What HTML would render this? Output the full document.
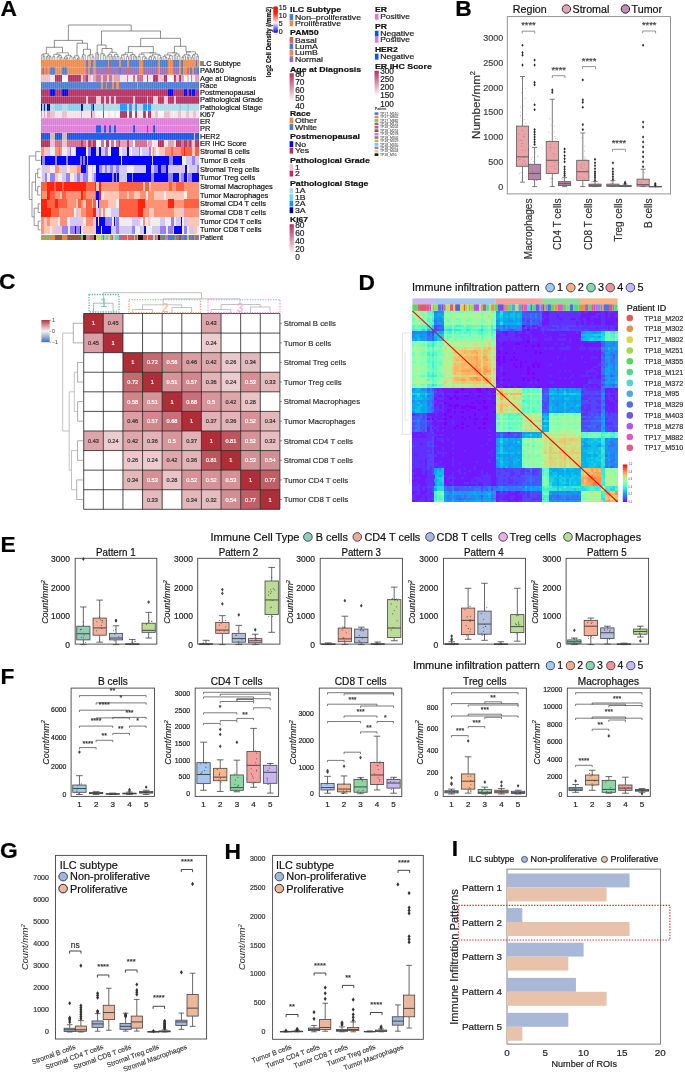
<!DOCTYPE html>
<html><head><meta charset="utf-8"><style>
html,body{margin:0;padding:0;background:#fff;}
svg{display:block;font-family:"Liberation Sans", sans-serif;will-change:transform;}
</style></head><body>
<svg width="685" height="1072" viewBox="0 0 685 1072">
<rect x="0" y="0" width="685" height="1072" fill="#fff"/>
<text x="0.60" y="16.00" font-size="22.8" fill="#000" stroke="#000" stroke-width="0.2" text-anchor="start" font-weight="bold">A</text>
<text x="455.20" y="16.00" font-size="22.8" fill="#000" stroke="#000" stroke-width="0.2" text-anchor="start" font-weight="bold">B</text>
<text x="-1.00" y="289.30" font-size="22.8" fill="#000" stroke="#000" stroke-width="0.2" text-anchor="start" font-weight="bold">C</text>
<text x="358.40" y="290.00" font-size="22.8" fill="#000" stroke="#000" stroke-width="0.2" text-anchor="start" font-weight="bold">D</text>
<text x="0.40" y="552.40" font-size="22.8" fill="#000" stroke="#000" stroke-width="0.2" text-anchor="start" font-weight="bold">E</text>
<text x="0.40" y="684.00" font-size="22.8" fill="#000" stroke="#000" stroke-width="0.2" text-anchor="start" font-weight="bold">F</text>
<text x="0.00" y="858.20" font-size="22.8" fill="#000" stroke="#000" stroke-width="0.2" text-anchor="start" font-weight="bold">G</text>
<text x="224.40" y="858.50" font-size="22.8" fill="#000" stroke="#000" stroke-width="0.2" text-anchor="start" font-weight="bold">H</text>
<text x="451.80" y="855.90" font-size="22.8" fill="#000" stroke="#000" stroke-width="0.2" text-anchor="start" font-weight="bold">I</text>
<rect x="507.30" y="16.60" width="163.20" height="177.30" fill="none" stroke="#8a8a8a" stroke-width="0.9"/>
<text x="512.80" y="12.60" font-size="10.7" fill="#111" stroke="#111" stroke-width="0.2" text-anchor="start">Region</text>
<circle cx="566.40" cy="9.00" r="4.20" fill="#e8a4a6" stroke="#2b3566" stroke-width="1"/>
<text x="572.50" y="12.60" font-size="10.7" fill="#111" stroke="#111" stroke-width="0.2" text-anchor="start">Stromal</text>
<circle cx="625.40" cy="9.00" r="4.20" fill="#c48db5" stroke="#222" stroke-width="1"/>
<text x="631.60" y="12.60" font-size="10.7" fill="#111" stroke="#111" stroke-width="0.2" text-anchor="start">Tumor</text>
<text x="503.30" y="189.80" font-size="9" fill="#444" stroke="#444" stroke-width="0.2" text-anchor="end">0</text>
<text x="503.30" y="165.00" font-size="9" fill="#444" stroke="#444" stroke-width="0.2" text-anchor="end">500</text>
<text x="503.30" y="140.20" font-size="9" fill="#444" stroke="#444" stroke-width="0.2" text-anchor="end">1000</text>
<text x="503.30" y="115.40" font-size="9" fill="#444" stroke="#444" stroke-width="0.2" text-anchor="end">1500</text>
<text x="503.30" y="90.60" font-size="9" fill="#444" stroke="#444" stroke-width="0.2" text-anchor="end">2000</text>
<text x="503.30" y="65.80" font-size="9" fill="#444" stroke="#444" stroke-width="0.2" text-anchor="end">2500</text>
<text x="503.30" y="41.00" font-size="9" fill="#444" stroke="#444" stroke-width="0.2" text-anchor="end">3000</text>
<text x="480.0" y="105.0" font-size="11.6" fill="#333" stroke="#333" stroke-width="0.2" text-anchor="middle" transform="rotate(-90 480.0 105.0)">Number/mm<tspan font-size="7.5" dy="-4.6">2</tspan></text>
<text x="532.30" y="198.60" font-size="10" fill="#333" stroke="#333" stroke-width="0.2" text-anchor="end" transform="rotate(-90 532.3 198.6)">Macrophages</text>
<text x="561.40" y="198.60" font-size="10" fill="#333" stroke="#333" stroke-width="0.2" text-anchor="end" transform="rotate(-90 561.4 198.6)">CD4 T cells</text>
<text x="591.80" y="198.60" font-size="10" fill="#333" stroke="#333" stroke-width="0.2" text-anchor="end" transform="rotate(-90 591.8 198.6)">CD8 T cells</text>
<text x="621.70" y="198.60" font-size="10" fill="#333" stroke="#333" stroke-width="0.2" text-anchor="end" transform="rotate(-90 621.7 198.6)">Treg cells</text>
<text x="651.60" y="198.60" font-size="10" fill="#333" stroke="#333" stroke-width="0.2" text-anchor="end" transform="rotate(-90 651.6 198.6)">B cells</text>
<line x1="522.50" y1="76.49" x2="522.50" y2="126.09" stroke="#5a5a5a" stroke-width="0.8"/>
<line x1="522.50" y1="166.26" x2="522.50" y2="182.14" stroke="#5a5a5a" stroke-width="0.8"/>
<line x1="520.00" y1="76.49" x2="525.00" y2="76.49" stroke="#5a5a5a" stroke-width="0.8"/>
<line x1="520.00" y1="182.14" x2="525.00" y2="182.14" stroke="#5a5a5a" stroke-width="0.8"/>
<rect x="516.40" y="126.09" width="12.20" height="40.18" fill="#e8a4a6" stroke="#5a5a5a" stroke-width="0.8"/>
<line x1="516.40" y1="156.84" x2="528.60" y2="156.84" stroke="#5a5a5a" stroke-width="0.96"/>
<path d="M522.50 63.48L523.65 65.08L522.50 66.68L521.35 65.08Z" fill="#2a2a2a"/>
<path d="M522.50 53.56L523.65 55.16L522.50 56.76L521.35 55.16Z" fill="#2a2a2a"/>
<path d="M522.50 51.08L523.65 52.68L522.50 54.28L521.35 52.68Z" fill="#2a2a2a"/>
<path d="M522.50 43.64L523.65 45.24L522.50 46.84L521.35 45.24Z" fill="#2a2a2a"/>
<line x1="534.60" y1="147.42" x2="534.60" y2="164.28" stroke="#5a5a5a" stroke-width="0.8"/>
<line x1="534.60" y1="179.66" x2="534.60" y2="186.60" stroke="#5a5a5a" stroke-width="0.8"/>
<line x1="532.10" y1="147.42" x2="537.10" y2="147.42" stroke="#5a5a5a" stroke-width="0.8"/>
<line x1="532.10" y1="186.60" x2="537.10" y2="186.60" stroke="#5a5a5a" stroke-width="0.8"/>
<rect x="528.50" y="164.28" width="12.20" height="15.38" fill="#b784ab" stroke="#5a5a5a" stroke-width="0.8"/>
<line x1="528.50" y1="173.46" x2="540.70" y2="173.46" stroke="#5a5a5a" stroke-width="0.96"/>
<path d="M534.60 142.84L535.75 144.44L534.60 146.04L533.45 144.44Z" fill="#2a2a2a"/>
<path d="M534.60 140.36L535.75 141.96L534.60 143.56L533.45 141.96Z" fill="#2a2a2a"/>
<path d="M534.60 137.88L535.75 139.48L534.60 141.08L533.45 139.48Z" fill="#2a2a2a"/>
<path d="M534.60 135.40L535.75 137.00L534.60 138.60L533.45 137.00Z" fill="#2a2a2a"/>
<path d="M534.60 132.92L535.75 134.52L534.60 136.12L533.45 134.52Z" fill="#2a2a2a"/>
<path d="M534.60 130.44L535.75 132.04L534.60 133.64L533.45 132.04Z" fill="#2a2a2a"/>
<path d="M534.60 127.96L535.75 129.56L534.60 131.16L533.45 129.56Z" fill="#2a2a2a"/>
<path d="M534.60 108.12L535.75 109.72L534.60 111.32L533.45 109.72Z" fill="#2a2a2a"/>
<path d="M534.60 103.16L535.75 104.76L534.60 106.36L533.45 104.76Z" fill="#2a2a2a"/>
<path d="M534.60 83.32L535.75 84.92L534.60 86.52L533.45 84.92Z" fill="#2a2a2a"/>
<path d="M534.60 80.84L535.75 82.44L534.60 84.04L533.45 82.44Z" fill="#2a2a2a"/>
<path d="M534.60 63.48L535.75 65.08L534.60 66.68L533.45 65.08Z" fill="#2a2a2a"/>
<path d="M534.60 58.52L535.75 60.12L534.60 61.72L533.45 60.12Z" fill="#2a2a2a"/>
<line x1="552.30" y1="99.30" x2="552.30" y2="141.46" stroke="#5a5a5a" stroke-width="0.8"/>
<line x1="552.30" y1="173.46" x2="552.30" y2="186.60" stroke="#5a5a5a" stroke-width="0.8"/>
<line x1="549.80" y1="99.30" x2="554.80" y2="99.30" stroke="#5a5a5a" stroke-width="0.8"/>
<line x1="549.80" y1="186.60" x2="554.80" y2="186.60" stroke="#5a5a5a" stroke-width="0.8"/>
<rect x="546.20" y="141.46" width="12.20" height="31.99" fill="#e8a4a6" stroke="#5a5a5a" stroke-width="0.8"/>
<line x1="546.20" y1="160.31" x2="558.40" y2="160.31" stroke="#5a5a5a" stroke-width="0.96"/>
<path d="M552.30 90.76L553.45 92.36L552.30 93.96L551.15 92.36Z" fill="#2a2a2a"/>
<path d="M552.30 88.28L553.45 89.88L552.30 91.48L551.15 89.88Z" fill="#2a2a2a"/>
<line x1="564.60" y1="177.67" x2="564.60" y2="181.64" stroke="#5a5a5a" stroke-width="0.8"/>
<line x1="564.60" y1="185.61" x2="564.60" y2="186.60" stroke="#5a5a5a" stroke-width="0.8"/>
<line x1="562.10" y1="177.67" x2="567.10" y2="177.67" stroke="#5a5a5a" stroke-width="0.8"/>
<line x1="562.10" y1="186.60" x2="567.10" y2="186.60" stroke="#5a5a5a" stroke-width="0.8"/>
<rect x="558.50" y="181.64" width="12.20" height="3.97" fill="#b784ab" stroke="#5a5a5a" stroke-width="0.8"/>
<line x1="558.50" y1="183.62" x2="570.70" y2="183.62" stroke="#5a5a5a" stroke-width="0.96"/>
<path d="M564.60 174.09L565.75 175.69L564.60 177.29L563.45 175.69Z" fill="#2a2a2a"/>
<path d="M564.60 172.10L565.75 173.70L564.60 175.30L563.45 173.70Z" fill="#2a2a2a"/>
<path d="M564.60 170.12L565.75 171.72L564.60 173.32L563.45 171.72Z" fill="#2a2a2a"/>
<path d="M564.60 167.64L565.75 169.24L564.60 170.84L563.45 169.24Z" fill="#2a2a2a"/>
<path d="M564.60 165.16L565.75 166.76L564.60 168.36L563.45 166.76Z" fill="#2a2a2a"/>
<path d="M564.60 160.20L565.75 161.80L564.60 163.40L563.45 161.80Z" fill="#2a2a2a"/>
<path d="M564.60 157.22L565.75 158.82L564.60 160.42L563.45 158.82Z" fill="#2a2a2a"/>
<path d="M564.60 154.25L565.75 155.85L564.60 157.45L563.45 155.85Z" fill="#2a2a2a"/>
<path d="M564.60 150.28L565.75 151.88L564.60 153.48L563.45 151.88Z" fill="#2a2a2a"/>
<path d="M564.60 147.30L565.75 148.90L564.60 150.50L563.45 148.90Z" fill="#2a2a2a"/>
<line x1="582.80" y1="133.03" x2="582.80" y2="160.31" stroke="#5a5a5a" stroke-width="0.8"/>
<line x1="582.80" y1="180.40" x2="582.80" y2="186.60" stroke="#5a5a5a" stroke-width="0.8"/>
<line x1="580.30" y1="133.03" x2="585.30" y2="133.03" stroke="#5a5a5a" stroke-width="0.8"/>
<line x1="580.30" y1="186.60" x2="585.30" y2="186.60" stroke="#5a5a5a" stroke-width="0.8"/>
<rect x="576.70" y="160.31" width="12.20" height="20.09" fill="#e8a4a6" stroke="#5a5a5a" stroke-width="0.8"/>
<line x1="576.70" y1="171.72" x2="588.90" y2="171.72" stroke="#5a5a5a" stroke-width="0.96"/>
<path d="M582.80 127.96L583.95 129.56L582.80 131.16L581.65 129.56Z" fill="#2a2a2a"/>
<path d="M582.80 123.00L583.95 124.60L582.80 126.20L581.65 124.60Z" fill="#2a2a2a"/>
<path d="M582.80 105.64L583.95 107.24L582.80 108.84L581.65 107.24Z" fill="#2a2a2a"/>
<path d="M582.80 100.68L583.95 102.28L582.80 103.88L581.65 102.28Z" fill="#2a2a2a"/>
<path d="M582.80 98.20L583.95 99.80L582.80 101.40L581.65 99.80Z" fill="#2a2a2a"/>
<path d="M582.80 78.36L583.95 79.96L582.80 81.56L581.65 79.96Z" fill="#2a2a2a"/>
<line x1="595.00" y1="181.64" x2="595.00" y2="184.12" stroke="#5a5a5a" stroke-width="0.8"/>
<line x1="595.00" y1="186.35" x2="595.00" y2="186.60" stroke="#5a5a5a" stroke-width="0.8"/>
<line x1="592.50" y1="181.64" x2="597.50" y2="181.64" stroke="#5a5a5a" stroke-width="0.8"/>
<line x1="592.50" y1="186.60" x2="597.50" y2="186.60" stroke="#5a5a5a" stroke-width="0.8"/>
<rect x="588.90" y="184.12" width="12.20" height="2.23" fill="#b784ab" stroke="#5a5a5a" stroke-width="0.8"/>
<line x1="588.90" y1="185.36" x2="601.10" y2="185.36" stroke="#5a5a5a" stroke-width="0.96"/>
<path d="M595.00 178.55L596.15 180.15L595.00 181.75L593.85 180.15Z" fill="#2a2a2a"/>
<path d="M595.00 176.07L596.15 177.67L595.00 179.27L593.85 177.67Z" fill="#2a2a2a"/>
<path d="M595.00 174.09L596.15 175.69L595.00 177.29L593.85 175.69Z" fill="#2a2a2a"/>
<path d="M595.00 172.10L596.15 173.70L595.00 175.30L593.85 173.70Z" fill="#2a2a2a"/>
<path d="M595.00 170.12L596.15 171.72L595.00 173.32L593.85 171.72Z" fill="#2a2a2a"/>
<path d="M595.00 167.14L596.15 168.74L595.00 170.34L593.85 168.74Z" fill="#2a2a2a"/>
<path d="M595.00 164.17L596.15 165.77L595.00 167.37L593.85 165.77Z" fill="#2a2a2a"/>
<path d="M595.00 161.19L596.15 162.79L595.00 164.39L593.85 162.79Z" fill="#2a2a2a"/>
<path d="M595.00 157.72L596.15 159.32L595.00 160.92L593.85 159.32Z" fill="#2a2a2a"/>
<line x1="612.90" y1="180.65" x2="612.90" y2="184.12" stroke="#5a5a5a" stroke-width="0.8"/>
<line x1="612.90" y1="186.35" x2="612.90" y2="186.60" stroke="#5a5a5a" stroke-width="0.8"/>
<line x1="610.40" y1="180.65" x2="615.40" y2="180.65" stroke="#5a5a5a" stroke-width="0.8"/>
<line x1="610.40" y1="186.60" x2="615.40" y2="186.60" stroke="#5a5a5a" stroke-width="0.8"/>
<rect x="606.80" y="184.12" width="12.20" height="2.23" fill="#e8a4a6" stroke="#5a5a5a" stroke-width="0.8"/>
<line x1="606.80" y1="185.36" x2="619.00" y2="185.36" stroke="#5a5a5a" stroke-width="0.96"/>
<path d="M612.90 177.56L614.05 179.16L612.90 180.76L611.75 179.16Z" fill="#2a2a2a"/>
<path d="M612.90 175.08L614.05 176.68L612.90 178.28L611.75 176.68Z" fill="#2a2a2a"/>
<path d="M612.90 172.60L614.05 174.20L612.90 175.80L611.75 174.20Z" fill="#2a2a2a"/>
<path d="M612.90 170.12L614.05 171.72L612.90 173.32L611.75 171.72Z" fill="#2a2a2a"/>
<path d="M612.90 167.14L614.05 168.74L612.90 170.34L611.75 168.74Z" fill="#2a2a2a"/>
<path d="M612.90 161.19L614.05 162.79L612.90 164.39L611.75 162.79Z" fill="#2a2a2a"/>
<line x1="625.10" y1="184.12" x2="625.10" y2="185.36" stroke="#5a5a5a" stroke-width="0.8"/>
<line x1="625.10" y1="186.50" x2="625.10" y2="186.60" stroke="#5a5a5a" stroke-width="0.8"/>
<line x1="622.60" y1="184.12" x2="627.60" y2="184.12" stroke="#5a5a5a" stroke-width="0.8"/>
<line x1="622.60" y1="186.60" x2="627.60" y2="186.60" stroke="#5a5a5a" stroke-width="0.8"/>
<rect x="619.00" y="185.36" width="12.20" height="1.14" fill="#b784ab" stroke="#5a5a5a" stroke-width="0.8"/>
<line x1="619.00" y1="186.10" x2="631.20" y2="186.10" stroke="#5a5a5a" stroke-width="0.96"/>
<path d="M625.10 182.02L626.25 183.62L625.10 185.22L623.95 183.62Z" fill="#2a2a2a"/>
<path d="M625.10 180.54L626.25 182.14L625.10 183.74L623.95 182.14Z" fill="#2a2a2a"/>
<line x1="643.10" y1="169.24" x2="643.10" y2="179.16" stroke="#5a5a5a" stroke-width="0.8"/>
<line x1="643.10" y1="186.10" x2="643.10" y2="186.60" stroke="#5a5a5a" stroke-width="0.8"/>
<line x1="640.60" y1="169.24" x2="645.60" y2="169.24" stroke="#5a5a5a" stroke-width="0.8"/>
<line x1="640.60" y1="186.60" x2="645.60" y2="186.60" stroke="#5a5a5a" stroke-width="0.8"/>
<rect x="637.00" y="179.16" width="12.20" height="6.94" fill="#e8a4a6" stroke="#5a5a5a" stroke-width="0.8"/>
<line x1="637.00" y1="184.62" x2="649.20" y2="184.62" stroke="#5a5a5a" stroke-width="0.96"/>
<path d="M643.10 165.16L644.25 166.76L643.10 168.36L641.95 166.76Z" fill="#2a2a2a"/>
<path d="M643.10 160.20L644.25 161.80L643.10 163.40L641.95 161.80Z" fill="#2a2a2a"/>
<path d="M643.10 155.24L644.25 156.84L643.10 158.44L641.95 156.84Z" fill="#2a2a2a"/>
<path d="M643.10 150.28L644.25 151.88L643.10 153.48L641.95 151.88Z" fill="#2a2a2a"/>
<path d="M643.10 145.32L644.25 146.92L643.10 148.52L641.95 146.92Z" fill="#2a2a2a"/>
<path d="M643.10 140.36L644.25 141.96L643.10 143.56L641.95 141.96Z" fill="#2a2a2a"/>
<path d="M643.10 135.40L644.25 137.00L643.10 138.60L641.95 137.00Z" fill="#2a2a2a"/>
<path d="M643.10 125.48L644.25 127.08L643.10 128.68L641.95 127.08Z" fill="#2a2a2a"/>
<path d="M643.10 120.52L644.25 122.12L643.10 123.72L641.95 122.12Z" fill="#2a2a2a"/>
<path d="M643.10 43.64L644.25 45.24L643.10 46.84L641.95 45.24Z" fill="#2a2a2a"/>
<line x1="655.30" y1="186.35" x2="655.30" y2="186.45" stroke="#5a5a5a" stroke-width="0.8"/>
<line x1="655.30" y1="186.60" x2="655.30" y2="186.60" stroke="#5a5a5a" stroke-width="0.8"/>
<line x1="652.80" y1="186.35" x2="657.80" y2="186.35" stroke="#5a5a5a" stroke-width="0.8"/>
<line x1="652.80" y1="186.60" x2="657.80" y2="186.60" stroke="#5a5a5a" stroke-width="0.8"/>
<rect x="649.20" y="186.45" width="12.20" height="0.50" fill="#b784ab" stroke="#5a5a5a" stroke-width="0.8"/>
<line x1="649.20" y1="186.60" x2="661.40" y2="186.60" stroke="#5a5a5a" stroke-width="0.96"/>
<path d="M655.30 184.01L656.45 185.61L655.30 187.21L654.15 185.61Z" fill="#2a2a2a"/>
<path d="M655.30 183.02L656.45 184.62L655.30 186.22L654.15 184.62Z" fill="#2a2a2a"/>
<path d="M655.30 182.02L656.45 183.62L655.30 185.22L654.15 183.62Z" fill="#2a2a2a"/>
<path d="M522.20 33.50V31.20H534.80V33.50" stroke="#666" stroke-width="0.7" fill="none"/>
<text x="528.50" y="28.40" font-size="9.3" fill="#444" stroke="#444" stroke-width="0.2" text-anchor="middle">****</text>
<path d="M552.30 78.00V75.70H565.00V78.00" stroke="#666" stroke-width="0.7" fill="none"/>
<text x="558.65" y="72.60" font-size="9.3" fill="#444" stroke="#444" stroke-width="0.2" text-anchor="middle">****</text>
<path d="M582.60 68.90V66.60H595.50V68.90" stroke="#666" stroke-width="0.7" fill="none"/>
<text x="589.05" y="63.80" font-size="9.3" fill="#444" stroke="#444" stroke-width="0.2" text-anchor="middle">****</text>
<path d="M612.50 151.60V149.30H625.50V151.60" stroke="#666" stroke-width="0.7" fill="none"/>
<text x="619.00" y="146.00" font-size="9.3" fill="#444" stroke="#444" stroke-width="0.2" text-anchor="middle">****</text>
<path d="M642.70 33.30V31.00H655.60V33.30" stroke="#666" stroke-width="0.7" fill="none"/>
<text x="649.15" y="28.20" font-size="9.3" fill="#444" stroke="#444" stroke-width="0.2" text-anchor="middle">****</text>
<circle cx="523.8" cy="160.7" r="0.5" fill="#777" fill-opacity="0.55"/>
<circle cx="522.4" cy="130.2" r="0.5" fill="#777" fill-opacity="0.55"/>
<circle cx="524.5" cy="157.6" r="0.5" fill="#777" fill-opacity="0.55"/>
<circle cx="522.6" cy="114.1" r="0.5" fill="#777" fill-opacity="0.55"/>
<circle cx="520.7" cy="139.9" r="0.5" fill="#777" fill-opacity="0.55"/>
<circle cx="521.6" cy="179.2" r="0.5" fill="#777" fill-opacity="0.55"/>
<circle cx="519.5" cy="134.1" r="0.5" fill="#777" fill-opacity="0.55"/>
<circle cx="520.6" cy="115.6" r="0.5" fill="#777" fill-opacity="0.55"/>
<circle cx="519.3" cy="156.6" r="0.5" fill="#777" fill-opacity="0.55"/>
<circle cx="524.2" cy="76.3" r="0.5" fill="#777" fill-opacity="0.55"/>
<circle cx="523.3" cy="105.9" r="0.5" fill="#777" fill-opacity="0.55"/>
<circle cx="521.3" cy="172.4" r="0.5" fill="#777" fill-opacity="0.55"/>
<circle cx="519.8" cy="140.4" r="0.5" fill="#777" fill-opacity="0.55"/>
<circle cx="521.6" cy="92.8" r="0.5" fill="#777" fill-opacity="0.55"/>
<circle cx="524.7" cy="161.3" r="0.5" fill="#777" fill-opacity="0.55"/>
<circle cx="525.5" cy="163.4" r="0.5" fill="#777" fill-opacity="0.55"/>
<circle cx="522.9" cy="143.4" r="0.5" fill="#777" fill-opacity="0.55"/>
<circle cx="522.4" cy="150.3" r="0.5" fill="#777" fill-opacity="0.55"/>
<circle cx="519.3" cy="159.3" r="0.5" fill="#777" fill-opacity="0.55"/>
<circle cx="520.6" cy="107.1" r="0.5" fill="#777" fill-opacity="0.55"/>
<circle cx="520.5" cy="117.1" r="0.5" fill="#777" fill-opacity="0.55"/>
<circle cx="525.3" cy="88.7" r="0.5" fill="#777" fill-opacity="0.55"/>
<circle cx="524.3" cy="119.6" r="0.5" fill="#777" fill-opacity="0.55"/>
<circle cx="524.1" cy="134.4" r="0.5" fill="#777" fill-opacity="0.55"/>
<circle cx="522.3" cy="163.6" r="0.5" fill="#777" fill-opacity="0.55"/>
<circle cx="520.4" cy="111.9" r="0.5" fill="#777" fill-opacity="0.55"/>
<circle cx="525.2" cy="98.5" r="0.5" fill="#777" fill-opacity="0.55"/>
<circle cx="521.6" cy="146.2" r="0.5" fill="#777" fill-opacity="0.55"/>
<circle cx="521.7" cy="143.5" r="0.5" fill="#777" fill-opacity="0.55"/>
<circle cx="521.7" cy="78.5" r="0.5" fill="#777" fill-opacity="0.55"/>
<circle cx="519.7" cy="173.5" r="0.5" fill="#777" fill-opacity="0.55"/>
<circle cx="525.9" cy="123.1" r="0.5" fill="#777" fill-opacity="0.55"/>
<circle cx="522.4" cy="140.5" r="0.5" fill="#777" fill-opacity="0.55"/>
<circle cx="524.2" cy="136.7" r="0.5" fill="#777" fill-opacity="0.55"/>
<circle cx="523.3" cy="157.2" r="0.5" fill="#777" fill-opacity="0.55"/>
<circle cx="523.4" cy="136.2" r="0.5" fill="#777" fill-opacity="0.55"/>
<circle cx="520.2" cy="159.7" r="0.5" fill="#777" fill-opacity="0.55"/>
<circle cx="525.5" cy="150.0" r="0.5" fill="#777" fill-opacity="0.55"/>
<circle cx="535.3" cy="172.9" r="0.5" fill="#777" fill-opacity="0.55"/>
<circle cx="531.8" cy="173.7" r="0.5" fill="#777" fill-opacity="0.55"/>
<circle cx="536.8" cy="180.6" r="0.5" fill="#777" fill-opacity="0.55"/>
<circle cx="533.7" cy="161.5" r="0.5" fill="#777" fill-opacity="0.55"/>
<circle cx="535.8" cy="164.6" r="0.5" fill="#777" fill-opacity="0.55"/>
<circle cx="537.8" cy="156.3" r="0.5" fill="#777" fill-opacity="0.55"/>
<circle cx="538.0" cy="171.6" r="0.5" fill="#777" fill-opacity="0.55"/>
<circle cx="535.2" cy="152.1" r="0.5" fill="#777" fill-opacity="0.55"/>
<circle cx="534.5" cy="157.1" r="0.5" fill="#777" fill-opacity="0.55"/>
<circle cx="532.8" cy="172.3" r="0.5" fill="#777" fill-opacity="0.55"/>
<circle cx="532.2" cy="157.4" r="0.5" fill="#777" fill-opacity="0.55"/>
<circle cx="536.7" cy="180.5" r="0.5" fill="#777" fill-opacity="0.55"/>
<circle cx="534.5" cy="161.6" r="0.5" fill="#777" fill-opacity="0.55"/>
<circle cx="531.5" cy="159.2" r="0.5" fill="#777" fill-opacity="0.55"/>
<circle cx="533.1" cy="174.8" r="0.5" fill="#777" fill-opacity="0.55"/>
<circle cx="532.3" cy="171.3" r="0.5" fill="#777" fill-opacity="0.55"/>
<circle cx="533.5" cy="180.5" r="0.5" fill="#777" fill-opacity="0.55"/>
<circle cx="538.0" cy="156.2" r="0.5" fill="#777" fill-opacity="0.55"/>
<circle cx="552.2" cy="134.0" r="0.5" fill="#777" fill-opacity="0.55"/>
<circle cx="555.5" cy="161.9" r="0.5" fill="#777" fill-opacity="0.55"/>
<circle cx="553.9" cy="148.3" r="0.5" fill="#777" fill-opacity="0.55"/>
<circle cx="550.3" cy="178.3" r="0.5" fill="#777" fill-opacity="0.55"/>
<circle cx="554.4" cy="126.1" r="0.5" fill="#777" fill-opacity="0.55"/>
<circle cx="553.0" cy="121.6" r="0.5" fill="#777" fill-opacity="0.55"/>
<circle cx="552.9" cy="153.6" r="0.5" fill="#777" fill-opacity="0.55"/>
<circle cx="551.0" cy="125.0" r="0.5" fill="#777" fill-opacity="0.55"/>
<circle cx="550.7" cy="147.8" r="0.5" fill="#777" fill-opacity="0.55"/>
<circle cx="548.9" cy="132.2" r="0.5" fill="#777" fill-opacity="0.55"/>
<circle cx="555.5" cy="138.4" r="0.5" fill="#777" fill-opacity="0.55"/>
<circle cx="553.0" cy="179.1" r="0.5" fill="#777" fill-opacity="0.55"/>
<circle cx="554.8" cy="141.1" r="0.5" fill="#777" fill-opacity="0.55"/>
<circle cx="550.6" cy="144.8" r="0.5" fill="#777" fill-opacity="0.55"/>
<circle cx="555.5" cy="154.6" r="0.5" fill="#777" fill-opacity="0.55"/>
<circle cx="549.7" cy="118.7" r="0.5" fill="#777" fill-opacity="0.55"/>
<circle cx="549.5" cy="171.5" r="0.5" fill="#777" fill-opacity="0.55"/>
<circle cx="551.9" cy="178.8" r="0.5" fill="#777" fill-opacity="0.55"/>
<circle cx="554.9" cy="168.2" r="0.5" fill="#777" fill-opacity="0.55"/>
<circle cx="549.7" cy="140.4" r="0.5" fill="#777" fill-opacity="0.55"/>
<circle cx="551.1" cy="147.5" r="0.5" fill="#777" fill-opacity="0.55"/>
<circle cx="550.3" cy="150.0" r="0.5" fill="#777" fill-opacity="0.55"/>
<circle cx="550.1" cy="166.6" r="0.5" fill="#777" fill-opacity="0.55"/>
<circle cx="553.8" cy="156.0" r="0.5" fill="#777" fill-opacity="0.55"/>
<circle cx="549.1" cy="146.9" r="0.5" fill="#777" fill-opacity="0.55"/>
<circle cx="554.9" cy="136.6" r="0.5" fill="#777" fill-opacity="0.55"/>
<circle cx="554.3" cy="131.7" r="0.5" fill="#777" fill-opacity="0.55"/>
<circle cx="552.0" cy="182.3" r="0.5" fill="#777" fill-opacity="0.55"/>
<circle cx="554.1" cy="174.2" r="0.5" fill="#777" fill-opacity="0.55"/>
<circle cx="553.8" cy="166.0" r="0.5" fill="#777" fill-opacity="0.55"/>
<circle cx="553.7" cy="161.9" r="0.5" fill="#777" fill-opacity="0.55"/>
<circle cx="561.4" cy="183.6" r="0.5" fill="#777" fill-opacity="0.55"/>
<circle cx="563.3" cy="183.3" r="0.5" fill="#777" fill-opacity="0.55"/>
<circle cx="563.2" cy="179.7" r="0.5" fill="#777" fill-opacity="0.55"/>
<circle cx="564.9" cy="182.7" r="0.5" fill="#777" fill-opacity="0.55"/>
<circle cx="561.8" cy="179.0" r="0.5" fill="#777" fill-opacity="0.55"/>
<circle cx="564.7" cy="182.1" r="0.5" fill="#777" fill-opacity="0.55"/>
<circle cx="567.9" cy="181.2" r="0.5" fill="#777" fill-opacity="0.55"/>
<circle cx="566.0" cy="183.7" r="0.5" fill="#777" fill-opacity="0.55"/>
<circle cx="565.0" cy="182.6" r="0.5" fill="#777" fill-opacity="0.55"/>
<circle cx="585.0" cy="179.3" r="0.5" fill="#777" fill-opacity="0.55"/>
<circle cx="581.8" cy="137.7" r="0.5" fill="#777" fill-opacity="0.55"/>
<circle cx="586.3" cy="170.2" r="0.5" fill="#777" fill-opacity="0.55"/>
<circle cx="579.8" cy="177.1" r="0.5" fill="#777" fill-opacity="0.55"/>
<circle cx="585.0" cy="178.8" r="0.5" fill="#777" fill-opacity="0.55"/>
<circle cx="582.4" cy="154.0" r="0.5" fill="#777" fill-opacity="0.55"/>
<circle cx="579.4" cy="160.0" r="0.5" fill="#777" fill-opacity="0.55"/>
<circle cx="582.4" cy="159.1" r="0.5" fill="#777" fill-opacity="0.55"/>
<circle cx="582.0" cy="163.9" r="0.5" fill="#777" fill-opacity="0.55"/>
<circle cx="580.9" cy="167.7" r="0.5" fill="#777" fill-opacity="0.55"/>
<circle cx="582.3" cy="180.2" r="0.5" fill="#777" fill-opacity="0.55"/>
<circle cx="584.2" cy="172.2" r="0.5" fill="#777" fill-opacity="0.55"/>
<circle cx="584.4" cy="151.0" r="0.5" fill="#777" fill-opacity="0.55"/>
<circle cx="581.0" cy="165.9" r="0.5" fill="#777" fill-opacity="0.55"/>
<circle cx="582.7" cy="168.2" r="0.5" fill="#777" fill-opacity="0.55"/>
<circle cx="586.0" cy="159.6" r="0.5" fill="#777" fill-opacity="0.55"/>
<circle cx="582.7" cy="178.1" r="0.5" fill="#777" fill-opacity="0.55"/>
<circle cx="584.3" cy="164.7" r="0.5" fill="#777" fill-opacity="0.55"/>
<circle cx="584.8" cy="146.3" r="0.5" fill="#777" fill-opacity="0.55"/>
<circle cx="584.6" cy="159.8" r="0.5" fill="#777" fill-opacity="0.55"/>
<circle cx="585.3" cy="158.1" r="0.5" fill="#777" fill-opacity="0.55"/>
<circle cx="584.1" cy="156.8" r="0.5" fill="#777" fill-opacity="0.55"/>
<circle cx="597.9" cy="185.3" r="0.5" fill="#777" fill-opacity="0.55"/>
<circle cx="595.8" cy="185.0" r="0.5" fill="#777" fill-opacity="0.55"/>
<circle cx="598.2" cy="183.3" r="0.5" fill="#777" fill-opacity="0.55"/>
<circle cx="591.5" cy="181.9" r="0.5" fill="#777" fill-opacity="0.55"/>
<circle cx="593.7" cy="185.2" r="0.5" fill="#777" fill-opacity="0.55"/>
<circle cx="592.5" cy="184.9" r="0.5" fill="#777" fill-opacity="0.55"/>
<circle cx="592.1" cy="184.4" r="0.5" fill="#777" fill-opacity="0.55"/>
<circle cx="616.0" cy="185.0" r="0.5" fill="#777" fill-opacity="0.55"/>
<circle cx="612.6" cy="183.2" r="0.5" fill="#777" fill-opacity="0.55"/>
<circle cx="616.1" cy="185.7" r="0.5" fill="#777" fill-opacity="0.55"/>
<circle cx="610.8" cy="183.4" r="0.5" fill="#777" fill-opacity="0.55"/>
<circle cx="613.9" cy="184.9" r="0.5" fill="#777" fill-opacity="0.55"/>
<circle cx="611.2" cy="183.5" r="0.5" fill="#777" fill-opacity="0.55"/>
<circle cx="611.7" cy="181.6" r="0.5" fill="#777" fill-opacity="0.55"/>
<circle cx="627.5" cy="186.0" r="0.5" fill="#777" fill-opacity="0.55"/>
<circle cx="626.4" cy="186.2" r="0.5" fill="#777" fill-opacity="0.55"/>
<circle cx="625.8" cy="186.1" r="0.5" fill="#777" fill-opacity="0.55"/>
<circle cx="624.3" cy="186.0" r="0.5" fill="#777" fill-opacity="0.55"/>
<circle cx="624.9" cy="184.6" r="0.5" fill="#777" fill-opacity="0.55"/>
<circle cx="625.9" cy="185.8" r="0.5" fill="#777" fill-opacity="0.55"/>
<circle cx="640.8" cy="183.0" r="0.5" fill="#777" fill-opacity="0.55"/>
<circle cx="641.5" cy="181.9" r="0.5" fill="#777" fill-opacity="0.55"/>
<circle cx="646.3" cy="183.9" r="0.5" fill="#777" fill-opacity="0.55"/>
<circle cx="645.3" cy="185.5" r="0.5" fill="#777" fill-opacity="0.55"/>
<circle cx="644.5" cy="172.8" r="0.5" fill="#777" fill-opacity="0.55"/>
<circle cx="643.1" cy="185.8" r="0.5" fill="#777" fill-opacity="0.55"/>
<circle cx="643.9" cy="185.4" r="0.5" fill="#777" fill-opacity="0.55"/>
<circle cx="641.3" cy="177.8" r="0.5" fill="#777" fill-opacity="0.55"/>
<circle cx="643.4" cy="186.1" r="0.5" fill="#777" fill-opacity="0.55"/>
<circle cx="641.8" cy="184.8" r="0.5" fill="#777" fill-opacity="0.55"/>
<circle cx="645.9" cy="181.1" r="0.5" fill="#777" fill-opacity="0.55"/>
<circle cx="652.7" cy="186.5" r="0.5" fill="#777" fill-opacity="0.55"/>
<circle cx="657.6" cy="186.5" r="0.5" fill="#777" fill-opacity="0.55"/>
<circle cx="652.1" cy="186.5" r="0.5" fill="#777" fill-opacity="0.55"/>
<circle cx="654.6" cy="186.6" r="0.5" fill="#777" fill-opacity="0.55"/>
<circle cx="653.4" cy="186.5" r="0.5" fill="#777" fill-opacity="0.55"/>
<circle cx="657.7" cy="186.5" r="0.5" fill="#777" fill-opacity="0.55"/>
<path fill="#ee8a4e" shape-rendering="crispEdges" d="M40.7 60.0h45.3v7.3h-45.3zM88.0 60.0h3.0v7.3h-3.0zM93.0 60.0h3.0v7.3h-3.0zM107.5 60.0h1.6v7.3h-1.6zM119.0 60.0h1.6v7.3h-1.6zM127.0 60.0h2.0v7.3h-2.0zM138.5 60.0h4.5v7.3h-4.5zM158.0 60.0h1.6v7.3h-1.6zM168.0 60.0h5.0v7.3h-5.0zM179.0 60.0h2.0v7.3h-2.0zM182.5 60.0h13.1v7.3h-13.1zM197.0 60.0h2.0v7.3h-2.0zM40.7 67.3h1.1v7.3h-1.1zM43.5 67.3h2.0v7.3h-2.0zM47.0 67.3h3.3v7.3h-3.3zM55.1 67.3h6.9v7.3h-6.9zM66.7 67.3h19.3v7.3h-19.3zM88.0 67.3h2.0v7.3h-2.0zM93.0 67.3h3.0v7.3h-3.0zM138.5 67.3h4.5v7.3h-4.5zM158.0 67.3h1.6v7.3h-1.6zM168.0 67.3h5.0v7.3h-5.0zM179.0 67.3h2.0v7.3h-2.0zM182.5 67.3h4.5v7.3h-4.5zM189.0 67.3h1.1v7.3h-1.1zM191.5 67.3h2.0v7.3h-2.0zM101.0 81.8h1.6v7.3h-1.6zM106.0 81.8h1.1v7.3h-1.1zM112.0 81.8h1.6v7.3h-1.6zM115.5 81.8h3.5v7.3h-3.5zM136.5 81.8h1.6v7.3h-1.6z"/>
<path fill="#4b7bd3" shape-rendering="crispEdges" d="M86.0 60.0h2.0v7.3h-2.0zM91.0 60.0h2.0v7.3h-2.0zM96.0 60.0h11.6v7.3h-11.6zM109.0 60.0h10.1v7.3h-10.1zM120.5 60.0h6.5v7.3h-6.5zM129.0 60.0h9.6v7.3h-9.6zM143.0 60.0h15.1v7.3h-15.1zM159.5 60.0h8.6v7.3h-8.6zM173.0 60.0h6.0v7.3h-6.0zM181.0 60.0h1.6v7.3h-1.6zM195.5 60.0h1.6v7.3h-1.6zM50.3 67.3h4.9v7.3h-4.9zM62.0 67.3h4.8v7.3h-4.8zM90.0 67.3h1.1v7.3h-1.1zM119.0 67.3h1.6v7.3h-1.6zM181.0 67.3h1.6v7.3h-1.6zM190.0 67.3h1.6v7.3h-1.6zM193.5 67.3h1.6v7.3h-1.6zM197.0 67.3h2.0v7.3h-2.0zM40.7 81.8h60.3v7.3h-60.3zM102.5 81.8h3.5v7.3h-3.5zM107.0 81.8h5.0v7.3h-5.0zM113.5 81.8h2.0v7.3h-2.0zM119.0 81.8h17.6v7.3h-17.6zM138.0 81.8h61.0v7.3h-61.0z"/>
<path fill="#d8605e" shape-rendering="crispEdges" d="M41.7 67.3h1.8v7.3h-1.8zM45.5 67.3h1.6v7.3h-1.6zM87.0 67.3h1.1v7.3h-1.1zM107.5 67.3h1.6v7.3h-1.6zM127.0 67.3h2.0v7.3h-2.0zM187.0 67.3h2.0v7.3h-2.0z"/>
<path fill="#9c6cb8" shape-rendering="crispEdges" d="M86.0 67.3h1.1v7.3h-1.1zM91.0 67.3h2.0v7.3h-2.0zM96.0 67.3h11.6v7.3h-11.6zM109.0 67.3h10.1v7.3h-10.1zM120.5 67.3h6.5v7.3h-6.5zM129.0 67.3h9.6v7.3h-9.6zM143.0 67.3h15.1v7.3h-15.1zM159.5 67.3h8.6v7.3h-8.6zM173.0 67.3h6.0v7.3h-6.0zM195.0 67.3h2.0v7.3h-2.0z"/>
<path fill="#edbccb" shape-rendering="crispEdges" d="M40.7 74.6h9.6v7.3h-9.6zM81.0 74.6h2.0v7.3h-2.0zM88.0 74.6h3.0v7.3h-3.0zM101.0 74.6h2.0v7.3h-2.0zM107.0 74.6h2.0v7.3h-2.0zM112.0 74.6h2.0v7.3h-2.0zM158.0 74.6h6.0v7.3h-6.0zM176.0 74.6h3.0v7.3h-3.0zM187.0 74.6h2.0v7.3h-2.0zM50.3 110.9h4.8v7.3h-4.8zM62.0 110.9h5.0v7.3h-5.0zM92.0 110.9h3.0v7.3h-3.0zM155.0 110.9h3.0v7.3h-3.0zM164.0 110.9h6.0v7.3h-6.0zM178.0 110.9h3.0v7.3h-3.0zM186.0 110.9h3.0v7.3h-3.0zM193.0 110.9h3.0v7.3h-3.0zM50.3 139.9h4.8v7.3h-4.8zM62.0 139.9h5.0v7.3h-5.0zM86.0 139.9h2.0v7.3h-2.0zM192.0 139.9h2.5v7.3h-2.5z"/>
<path fill="#f7e2e8" shape-rendering="crispEdges" d="M50.3 74.6h4.9v7.3h-4.9zM91.0 74.6h2.0v7.3h-2.0zM120.0 74.6h7.0v7.3h-7.0zM128.0 74.6h5.0v7.3h-5.0zM135.0 74.6h2.0v7.3h-2.0zM143.0 74.6h3.5v7.3h-3.5zM148.0 74.6h5.0v7.3h-5.0zM173.0 74.6h1.1v7.3h-1.1zM192.0 74.6h3.0v7.3h-3.0zM42.0 110.9h2.0v7.3h-2.0zM45.0 110.9h2.0v7.3h-2.0zM55.0 110.9h7.0v7.3h-7.0zM67.0 110.9h14.1v7.3h-14.1zM82.0 110.9h9.1v7.3h-9.1zM108.0 110.9h2.0v7.3h-2.0zM114.0 110.9h2.0v7.3h-2.0zM136.5 110.9h6.5v7.3h-6.5zM151.0 110.9h4.0v7.3h-4.0zM170.0 110.9h3.0v7.3h-3.0zM174.0 110.9h4.0v7.3h-4.0zM181.0 110.9h5.0v7.3h-5.0zM189.0 110.9h4.0v7.3h-4.0zM196.0 110.9h3.0v7.3h-3.0zM154.0 139.9h4.0v7.3h-4.0zM164.0 139.9h4.0v7.3h-4.0zM174.0 139.9h2.0v7.3h-2.0z"/>
<path fill="#b22f5f" shape-rendering="crispEdges" d="M55.1 74.6h6.9v7.3h-6.9zM68.0 74.6h13.1v7.3h-13.1zM86.0 74.6h2.0v7.3h-2.0zM146.5 74.6h1.6v7.3h-1.6zM153.0 74.6h5.0v7.3h-5.0zM164.0 74.6h3.0v7.3h-3.0zM174.0 74.6h2.0v7.3h-2.0zM179.0 74.6h2.0v7.3h-2.0zM40.7 89.1h9.6v7.3h-9.6zM55.1 89.1h6.9v7.3h-6.9zM68.0 89.1h100.0v7.3h-100.0zM172.5 89.1h11.6v7.3h-11.6zM187.0 89.1h2.0v7.3h-2.0zM191.0 89.1h1.1v7.3h-1.1zM195.0 89.1h4.0v7.3h-4.0zM40.7 96.3h45.3v7.3h-45.3zM88.0 96.3h8.1v7.3h-8.1zM101.0 96.3h3.0v7.3h-3.0zM106.0 96.3h3.0v7.3h-3.0zM111.0 96.3h3.0v7.3h-3.0zM115.5 96.3h17.6v7.3h-17.6zM135.0 96.3h11.6v7.3h-11.6zM148.0 96.3h5.0v7.3h-5.0zM158.0 96.3h6.0v7.3h-6.0zM168.0 96.3h6.0v7.3h-6.0zM176.0 96.3h23.1v7.3h-23.1zM91.0 110.9h1.1v7.3h-1.1zM103.0 110.9h1.1v7.3h-1.1zM120.0 110.9h7.0v7.3h-7.0zM129.0 110.9h3.0v7.3h-3.0zM135.0 110.9h1.6v7.3h-1.6zM143.0 110.9h3.0v7.3h-3.0zM148.0 110.9h3.0v7.3h-3.0zM40.7 139.9h9.6v7.3h-9.6zM81.0 139.9h2.0v7.3h-2.0zM88.0 139.9h3.0v7.3h-3.0zM93.0 139.9h3.0v7.3h-3.0zM106.0 139.9h3.0v7.3h-3.0zM119.0 139.9h1.1v7.3h-1.1zM127.0 139.9h2.0v7.3h-2.0zM158.0 139.9h6.0v7.3h-6.0zM176.0 139.9h5.0v7.3h-5.0zM184.0 139.9h3.0v7.3h-3.0zM189.0 139.9h2.0v7.3h-2.0zM194.5 139.9h4.5v7.3h-4.5z"/>
<path fill="#fdf5f6" shape-rendering="crispEdges" d="M62.0 74.6h6.0v7.3h-6.0zM167.0 74.6h6.0v7.3h-6.0zM184.0 74.6h3.0v7.3h-3.0zM189.0 74.6h2.0v7.3h-2.0zM95.0 110.9h8.1v7.3h-8.1zM104.0 110.9h4.0v7.3h-4.0zM110.0 110.9h4.0v7.3h-4.0zM116.0 110.9h4.0v7.3h-4.0zM127.0 110.9h2.0v7.3h-2.0zM132.0 110.9h3.0v7.3h-3.0zM146.0 110.9h2.0v7.3h-2.0zM158.0 110.9h6.0v7.3h-6.0zM173.0 110.9h1.1v7.3h-1.1zM96.0 139.9h5.0v7.3h-5.0zM104.0 139.9h2.0v7.3h-2.0zM109.0 139.9h2.0v7.3h-2.0zM114.0 139.9h2.0v7.3h-2.0zM133.0 139.9h2.0v7.3h-2.0zM146.5 139.9h1.6v7.3h-1.6zM152.0 139.9h2.0v7.3h-2.0z"/>
<path fill="#cc6b8d" shape-rendering="crispEdges" d="M83.0 74.6h3.0v7.3h-3.0zM96.0 74.6h5.0v7.3h-5.0zM103.0 74.6h4.0v7.3h-4.0zM109.0 74.6h3.0v7.3h-3.0zM127.0 74.6h1.1v7.3h-1.1zM133.0 74.6h2.0v7.3h-2.0zM137.0 74.6h6.0v7.3h-6.0zM191.0 74.6h1.1v7.3h-1.1zM55.0 139.9h7.0v7.3h-7.0zM67.0 139.9h14.1v7.3h-14.1zM83.0 139.9h3.0v7.3h-3.0zM91.0 139.9h2.0v7.3h-2.0zM101.0 139.9h3.0v7.3h-3.0zM111.0 139.9h3.0v7.3h-3.0zM116.0 139.9h3.0v7.3h-3.0zM135.0 139.9h11.6v7.3h-11.6zM181.0 139.9h3.0v7.3h-3.0zM187.0 139.9h2.0v7.3h-2.0zM191.0 139.9h1.1v7.3h-1.1z"/>
<path fill="#e09db2" shape-rendering="crispEdges" d="M93.0 74.6h3.0v7.3h-3.0zM114.0 74.6h6.0v7.3h-6.0zM181.0 74.6h3.0v7.3h-3.0zM195.0 74.6h4.0v7.3h-4.0zM40.7 110.9h1.3v7.3h-1.3zM44.0 110.9h1.1v7.3h-1.1zM47.0 110.9h3.3v7.3h-3.3zM81.0 110.9h1.1v7.3h-1.1zM120.0 139.9h7.0v7.3h-7.0zM129.0 139.9h4.0v7.3h-4.0zM148.0 139.9h4.0v7.3h-4.0zM168.0 139.9h6.0v7.3h-6.0z"/>
<path fill="#0000f2" shape-rendering="crispEdges" d="M50.3 89.1h4.9v7.3h-4.9zM62.0 89.1h6.0v7.3h-6.0zM168.0 89.1h4.5v7.3h-4.5zM184.0 89.1h3.0v7.3h-3.0zM189.0 89.1h2.0v7.3h-2.0zM192.0 89.1h3.0v7.3h-3.0z"/>
<path fill="#f9c3ce" shape-rendering="crispEdges" d="M86.0 96.3h2.0v7.3h-2.0zM96.0 96.3h5.0v7.3h-5.0zM104.0 96.3h2.0v7.3h-2.0zM109.0 96.3h2.0v7.3h-2.0zM114.0 96.3h1.6v7.3h-1.6zM133.0 96.3h2.0v7.3h-2.0zM146.5 96.3h1.6v7.3h-1.6zM153.0 96.3h5.0v7.3h-5.0zM164.0 96.3h4.0v7.3h-4.0zM174.0 96.3h2.0v7.3h-2.0z"/>
<path fill="#00008b" shape-rendering="crispEdges" d="M40.7 103.6h1.1v7.3h-1.1zM43.5 103.6h1.1v7.3h-1.1zM47.0 103.6h3.3v7.3h-3.3zM81.0 103.6h2.0v7.3h-2.0zM92.5 103.6h1.6v7.3h-1.6z"/>
<path fill="#87ceeb" shape-rendering="crispEdges" d="M41.8 103.6h1.8v7.3h-1.8zM44.5 103.6h2.5v7.3h-2.5zM55.1 103.6h6.9v7.3h-6.9zM68.0 103.6h13.1v7.3h-13.1zM179.0 103.6h2.0v7.3h-2.0zM187.0 103.6h2.0v7.3h-2.0z"/>
<path fill="#add8e6" shape-rendering="crispEdges" d="M50.3 103.6h4.9v7.3h-4.9zM62.0 103.6h6.0v7.3h-6.0zM83.0 103.6h8.1v7.3h-8.1zM94.0 103.6h9.1v7.3h-9.1zM104.0 103.6h16.1v7.3h-16.1zM127.0 103.6h2.0v7.3h-2.0zM132.0 103.6h3.0v7.3h-3.0zM137.0 103.6h6.0v7.3h-6.0zM146.5 103.6h1.6v7.3h-1.6zM151.0 103.6h28.1v7.3h-28.1zM181.0 103.6h6.0v7.3h-6.0zM189.0 103.6h10.1v7.3h-10.1z"/>
<path fill="#1e90ff" shape-rendering="crispEdges" d="M91.0 103.6h1.6v7.3h-1.6zM103.0 103.6h1.1v7.3h-1.1zM120.0 103.6h7.0v7.3h-7.0zM129.0 103.6h3.0v7.3h-3.0zM135.0 103.6h2.0v7.3h-2.0zM143.0 103.6h3.5v7.3h-3.5zM148.0 103.6h3.0v7.3h-3.0z"/>
<path fill="#e07ad9" shape-rendering="crispEdges" d="M40.7 118.1h158.4v7.3h-158.4zM40.7 125.4h55.3v7.3h-55.3zM100.5 125.4h3.5v7.3h-3.5zM106.0 125.4h3.0v7.3h-3.0zM111.0 125.4h3.0v7.3h-3.0zM116.0 125.4h17.1v7.3h-17.1zM135.0 125.4h11.6v7.3h-11.6zM148.0 125.4h4.5v7.3h-4.5zM155.0 125.4h44.0v7.3h-44.0z"/>
<path fill="#1053ec" shape-rendering="crispEdges" d="M96.0 125.4h4.5v7.3h-4.5zM104.0 125.4h2.0v7.3h-2.0zM109.0 125.4h2.0v7.3h-2.0zM114.0 125.4h2.0v7.3h-2.0zM133.0 125.4h2.0v7.3h-2.0zM146.5 125.4h1.6v7.3h-1.6zM152.5 125.4h2.5v7.3h-2.5zM40.7 132.6h9.6v7.3h-9.6zM55.1 132.6h6.9v7.3h-6.9zM66.5 132.6h127.0v7.3h-127.0zM195.0 132.6h4.0v7.3h-4.0z"/>
<path fill="#bebebe" shape-rendering="crispEdges" d="M50.3 132.6h4.9v7.3h-4.9zM62.0 132.6h4.5v7.3h-4.5zM193.5 132.6h1.6v7.3h-1.6z"/>
<path fill="#ff9276" shape-rendering="crispEdges" d="M40.7 147.3h2.9v8.7h-2.9zM54.5 147.3h4.0v8.7h-4.0zM59.5 147.3h2.3v8.7h-2.3zM153.0 147.3h1.1v8.7h-1.1zM164.9 147.3h6.3v8.7h-6.3zM173.0 147.3h8.2v8.7h-8.2zM55.0 164.7h3.5v8.7h-3.5zM77.0 164.7h3.8v8.7h-3.8zM101.0 182.1h17.8v8.7h-17.8zM151.3 182.1h17.7v8.7h-17.7zM172.0 182.1h4.0v8.7h-4.0zM184.0 182.1h15.1v8.7h-15.1zM42.0 190.8h5.0v8.7h-5.0zM54.5 190.8h5.5v8.7h-5.5zM66.0 190.8h14.8v8.7h-14.8zM86.0 190.8h9.1v8.7h-9.1zM118.7 190.8h8.3v8.7h-8.3zM129.0 190.8h5.0v8.7h-5.0zM139.5 190.8h6.5v8.7h-6.5zM148.0 190.8h6.0v8.7h-6.0zM186.6 190.8h12.5v8.7h-12.5zM67.0 199.4h9.1v8.7h-9.1zM80.7 199.4h2.8v8.7h-2.8zM99.3 199.4h8.8v8.7h-8.8zM145.0 199.4h22.6v8.7h-22.6zM174.0 199.4h10.1v8.7h-10.1zM59.0 208.1h14.6v8.7h-14.6zM80.7 208.1h5.3v8.7h-5.3zM99.3 208.1h1.8v8.7h-1.8zM102.4 208.1h2.6v8.7h-2.6zM143.0 208.1h5.6v8.7h-5.6zM154.0 208.1h20.1v8.7h-20.1zM184.0 208.1h15.1v8.7h-15.1zM40.7 216.8h2.9v8.7h-2.9zM47.0 216.8h3.0v8.7h-3.0zM60.0 216.8h7.0v8.7h-7.0zM86.0 216.8h7.5v8.7h-7.5zM143.1 216.8h2.0v8.7h-2.0zM40.7 225.5h2.9v8.7h-2.9z"/>
<path fill="#ffc6b6" shape-rendering="crispEdges" d="M43.6 147.3h3.2v8.7h-3.2zM74.4 147.3h1.8v8.7h-1.8zM151.7 147.3h1.4v8.7h-1.4zM154.0 147.3h1.9v8.7h-1.9zM159.0 147.3h6.0v8.7h-6.0zM192.0 147.3h2.9v8.7h-2.9zM46.8 164.7h3.3v8.7h-3.3zM58.5 164.7h3.5v8.7h-3.5zM66.2 164.7h0.8v8.7h-0.8zM70.0 164.7h7.0v8.7h-7.0zM178.5 164.7h2.7v8.7h-2.7zM55.0 173.4h3.0v8.7h-3.0zM96.0 182.1h2.8v8.7h-2.8zM143.1 182.1h2.0v8.7h-2.0zM148.6 182.1h2.8v8.7h-2.8zM60.0 190.8h2.0v8.7h-2.0zM104.2 190.8h14.6v8.7h-14.6zM127.0 190.8h2.0v8.7h-2.0zM134.0 190.8h5.5v8.7h-5.5zM154.0 190.8h10.1v8.7h-10.1zM165.5 190.8h18.6v8.7h-18.6zM76.0 199.4h2.0v8.7h-2.0zM83.4 199.4h2.6v8.7h-2.6zM91.6 199.4h1.9v8.7h-1.9zM108.0 199.4h8.1v8.7h-8.1zM78.0 208.1h2.8v8.7h-2.8zM148.6 208.1h5.5v8.7h-5.5zM174.0 208.1h8.1v8.7h-8.1zM43.6 216.8h3.4v8.7h-3.4zM50.0 216.8h8.1v8.7h-8.1zM80.7 216.8h2.3v8.7h-2.3zM93.4 216.8h2.6v8.7h-2.6zM147.7 216.8h2.8v8.7h-2.8zM186.6 216.8h12.5v8.7h-12.5zM43.6 225.5h6.4v8.7h-6.4zM51.8 225.5h2.8v8.7h-2.8zM60.0 225.5h1.8v8.7h-1.8zM83.0 225.5h13.1v8.7h-13.1zM194.0 225.5h2.6v8.7h-2.6z"/>
<path fill="#d2c8f6" shape-rendering="crispEdges" d="M46.8 147.3h3.3v8.7h-3.3zM67.0 147.3h3.0v8.7h-3.0zM96.0 147.3h2.8v8.7h-2.8zM101.0 147.3h4.0v8.7h-4.0zM121.4 147.3h5.5v8.7h-5.5zM132.3 147.3h6.3v8.7h-6.3zM142.2 147.3h6.5v8.7h-6.5zM86.6 156.0h1.5v8.7h-1.5zM152.2 156.0h1.0v8.7h-1.0zM185.7 156.0h6.4v8.7h-6.4zM194.8 156.0h4.2v8.7h-4.2zM42.3 164.7h4.5v8.7h-4.5zM62.0 164.7h4.3v8.7h-4.3zM91.6 164.7h1.9v8.7h-1.9zM101.5 164.7h3.5v8.7h-3.5zM107.0 164.7h2.8v8.7h-2.8zM112.4 164.7h3.6v8.7h-3.6zM118.7 164.7h8.3v8.7h-8.3zM134.0 164.7h12.0v8.7h-12.0zM151.3 164.7h2.7v8.7h-2.7zM168.0 164.7h10.6v8.7h-10.6zM181.2 164.7h3.7v8.7h-3.7zM188.4 164.7h8.2v8.7h-8.2zM41.8 173.4h3.7v8.7h-3.7zM61.7 173.4h4.5v8.7h-4.5zM73.5 173.4h3.5v8.7h-3.5zM79.8 173.4h3.3v8.7h-3.3zM91.6 173.4h2.8v8.7h-2.8zM119.2 173.4h7.8v8.7h-7.8zM178.9 173.4h2.3v8.7h-2.3zM186.6 173.4h1.9v8.7h-1.9zM76.0 208.1h2.0v8.7h-2.0zM96.0 208.1h3.3v8.7h-3.3zM110.6 208.1h8.2v8.7h-8.2zM182.0 208.1h2.0v8.7h-2.0zM70.0 216.8h10.8v8.7h-10.8zM115.0 216.8h1.1v8.7h-1.1zM132.3 216.8h8.1v8.7h-8.1zM159.5 216.8h5.5v8.7h-5.5zM176.0 216.8h5.0v8.7h-5.0zM184.0 216.8h2.6v8.7h-2.6zM54.5 225.5h5.5v8.7h-5.5zM110.6 225.5h5.5v8.7h-5.5zM118.7 225.5h13.7v8.7h-13.7zM139.5 225.5h4.5v8.7h-4.5zM152.2 225.5h7.4v8.7h-7.4zM173.0 225.5h1.1v8.7h-1.1zM188.4 225.5h5.6v8.7h-5.6z"/>
<path fill="#f1ecee" shape-rendering="crispEdges" d="M50.0 147.3h4.5v8.7h-4.5zM61.7 147.3h5.3v8.7h-5.3zM71.2 147.3h3.3v8.7h-3.3zM86.1 147.3h2.0v8.7h-2.0zM108.0 147.3h2.6v8.7h-2.6zM118.7 147.3h2.8v8.7h-2.8zM128.7 147.3h3.7v8.7h-3.7zM140.0 147.3h2.2v8.7h-2.2zM150.4 147.3h1.3v8.7h-1.3zM155.8 147.3h3.2v8.7h-3.2zM120.5 156.0h1.5v8.7h-1.5zM182.0 156.0h3.7v8.7h-3.7zM40.7 164.7h1.6v8.7h-1.6zM50.0 164.7h5.0v8.7h-5.0zM67.0 164.7h3.0v8.7h-3.0zM88.0 164.7h3.6v8.7h-3.6zM93.4 164.7h2.6v8.7h-2.6zM126.9 164.7h7.1v8.7h-7.1zM186.6 164.7h1.9v8.7h-1.9zM40.7 173.4h1.1v8.7h-1.1zM46.8 173.4h3.3v8.7h-3.3zM58.0 173.4h3.8v8.7h-3.8zM70.0 173.4h3.5v8.7h-3.5zM88.0 173.4h3.6v8.7h-3.6zM100.6 190.8h3.7v8.7h-3.7zM146.0 190.8h2.0v8.7h-2.0zM164.0 190.8h1.6v8.7h-1.6zM184.0 190.8h2.6v8.7h-2.6zM96.0 199.4h1.6v8.7h-1.6zM116.0 199.4h2.8v8.7h-2.8zM73.5 208.1h2.5v8.7h-2.5zM101.0 208.1h1.5v8.7h-1.5zM105.0 208.1h5.6v8.7h-5.6zM58.0 216.8h2.0v8.7h-2.0zM67.0 216.8h3.0v8.7h-3.0zM83.0 216.8h3.0v8.7h-3.0zM97.5 216.8h1.8v8.7h-1.8zM111.5 216.8h2.3v8.7h-2.3zM118.7 216.8h13.7v8.7h-13.7zM140.4 216.8h2.7v8.7h-2.7zM145.0 216.8h2.7v8.7h-2.7zM150.4 216.8h9.1v8.7h-9.1zM165.0 216.8h6.0v8.7h-6.0zM174.0 216.8h2.0v8.7h-2.0zM182.0 216.8h2.0v8.7h-2.0zM50.0 225.5h1.8v8.7h-1.8zM68.0 225.5h2.0v8.7h-2.0zM81.0 225.5h2.0v8.7h-2.0zM101.0 225.5h1.5v8.7h-1.5zM135.0 225.5h4.5v8.7h-4.5zM145.9 225.5h6.3v8.7h-6.3zM165.8 225.5h1.8v8.7h-1.8zM182.0 225.5h2.0v8.7h-2.0zM186.6 225.5h1.9v8.7h-1.9zM196.6 225.5h2.5v8.7h-2.5z"/>
<path fill="#ff6242" shape-rendering="crispEdges" d="M58.5 147.3h1.1v8.7h-1.1zM171.2 147.3h1.9v8.7h-1.9zM181.2 147.3h2.8v8.7h-2.8zM185.2 147.3h6.9v8.7h-6.9zM194.8 147.3h4.2v8.7h-4.2zM40.7 182.1h6.3v8.7h-6.3zM54.0 182.1h2.0v8.7h-2.0zM62.0 182.1h2.0v8.7h-2.0zM86.0 182.1h9.1v8.7h-9.1zM118.7 182.1h19.0v8.7h-19.0zM137.7 182.1h5.5v8.7h-5.5zM145.0 182.1h3.6v8.7h-3.6zM169.0 182.1h3.0v8.7h-3.0zM176.0 182.1h8.1v8.7h-8.1zM40.7 190.8h1.3v8.7h-1.3zM50.0 190.8h4.5v8.7h-4.5zM62.0 190.8h4.0v8.7h-4.0zM83.0 190.8h3.0v8.7h-3.0zM95.0 190.8h1.1v8.7h-1.1zM47.0 199.4h8.1v8.7h-8.1zM58.0 199.4h9.1v8.7h-9.1zM78.0 199.4h2.8v8.7h-2.8zM86.0 199.4h5.6v8.7h-5.6zM93.4 199.4h2.6v8.7h-2.6zM118.7 199.4h19.0v8.7h-19.0zM184.0 199.4h15.1v8.7h-15.1zM51.0 208.1h8.1v8.7h-8.1zM86.0 208.1h7.5v8.7h-7.5zM118.7 208.1h19.0v8.7h-19.0z"/>
<path fill="#9482f6" shape-rendering="crispEdges" d="M70.0 147.3h1.3v8.7h-1.3zM88.0 147.3h3.0v8.7h-3.0zM105.0 147.3h3.0v8.7h-3.0zM138.6 147.3h1.5v8.7h-1.5zM148.6 147.3h1.9v8.7h-1.9zM41.8 156.0h2.8v8.7h-2.8zM55.4 156.0h1.4v8.7h-1.4zM66.2 156.0h1.8v8.7h-1.8zM79.8 156.0h1.8v8.7h-1.8zM83.0 156.0h1.8v8.7h-1.8zM169.0 156.0h4.0v8.7h-4.0zM192.0 156.0h2.9v8.7h-2.9zM86.0 164.7h2.0v8.7h-2.0zM98.8 164.7h2.8v8.7h-2.8zM105.0 164.7h2.0v8.7h-2.0zM109.7 164.7h2.8v8.7h-2.8zM116.0 164.7h2.8v8.7h-2.8zM154.0 164.7h4.0v8.7h-4.0zM160.8 164.7h5.4v8.7h-5.4zM196.6 164.7h2.5v8.7h-2.5zM45.4 173.4h1.4v8.7h-1.4zM50.0 173.4h5.0v8.7h-5.0zM66.2 173.4h3.8v8.7h-3.8zM77.0 173.4h2.8v8.7h-2.8zM83.0 173.4h5.0v8.7h-5.0zM94.3 173.4h1.8v8.7h-1.8zM111.5 173.4h2.8v8.7h-2.8zM115.5 173.4h1.6v8.7h-1.6zM131.8 173.4h1.4v8.7h-1.4zM151.3 173.4h2.7v8.7h-2.7zM167.6 173.4h5.5v8.7h-5.5zM181.2 173.4h2.8v8.7h-2.8zM188.4 173.4h3.2v8.7h-3.2zM105.0 216.8h6.5v8.7h-6.5zM116.0 216.8h2.8v8.7h-2.8zM171.0 216.8h3.0v8.7h-3.0zM61.7 225.5h6.3v8.7h-6.3zM70.0 225.5h5.0v8.7h-5.0zM76.2 225.5h3.6v8.7h-3.6zM116.0 225.5h2.8v8.7h-2.8zM132.3 225.5h2.7v8.7h-2.7zM159.5 225.5h6.4v8.7h-6.4zM167.6 225.5h5.5v8.7h-5.5zM184.0 225.5h2.6v8.7h-2.6z"/>
<path fill="#0000ff" shape-rendering="crispEdges" d="M76.2 147.3h9.9v8.7h-9.9zM91.0 147.3h5.0v8.7h-5.0zM98.8 147.3h2.3v8.7h-2.3zM110.6 147.3h8.2v8.7h-8.2zM126.9 147.3h1.8v8.7h-1.8zM40.7 156.0h1.1v8.7h-1.1zM44.5 156.0h10.9v8.7h-10.9zM56.7 156.0h9.6v8.7h-9.6zM68.0 156.0h11.8v8.7h-11.8zM81.6 156.0h1.5v8.7h-1.5zM84.8 156.0h1.8v8.7h-1.8zM88.0 156.0h32.5v8.7h-32.5zM121.9 156.0h30.3v8.7h-30.3zM153.1 156.0h16.0v8.7h-16.0zM173.0 156.0h9.1v8.7h-9.1zM80.7 164.7h5.3v8.7h-5.3zM96.0 164.7h2.8v8.7h-2.8zM145.9 164.7h5.5v8.7h-5.5zM158.0 164.7h2.9v8.7h-2.9zM166.2 164.7h1.9v8.7h-1.9zM184.8 164.7h1.8v8.7h-1.8zM96.0 173.4h15.6v8.7h-15.6zM114.2 173.4h1.3v8.7h-1.3zM117.0 173.4h2.3v8.7h-2.3zM126.9 173.4h5.0v8.7h-5.0zM133.2 173.4h18.2v8.7h-18.2zM154.0 173.4h13.6v8.7h-13.6zM173.0 173.4h6.0v8.7h-6.0zM183.9 173.4h2.7v8.7h-2.7zM191.6 173.4h7.5v8.7h-7.5zM96.0 190.8h3.3v8.7h-3.3zM97.5 199.4h1.8v8.7h-1.8zM96.0 216.8h1.6v8.7h-1.6zM99.3 216.8h5.8v8.7h-5.8zM113.7 216.8h1.3v8.7h-1.3zM181.0 216.8h1.1v8.7h-1.1zM75.0 225.5h1.3v8.7h-1.3zM79.8 225.5h1.3v8.7h-1.3zM96.0 225.5h5.0v8.7h-5.0zM102.4 225.5h8.2v8.7h-8.2zM144.0 225.5h2.0v8.7h-2.0zM174.0 225.5h8.1v8.7h-8.1z"/>
<path fill="#ff2410" shape-rendering="crispEdges" d="M183.9 147.3h1.3v8.7h-1.3zM47.0 182.1h7.0v8.7h-7.0zM56.0 182.1h6.0v8.7h-6.0zM64.0 182.1h22.1v8.7h-22.1zM95.0 182.1h1.1v8.7h-1.1zM98.8 182.1h2.3v8.7h-2.3zM47.0 190.8h3.0v8.7h-3.0zM80.7 190.8h2.3v8.7h-2.3zM99.3 190.8h1.3v8.7h-1.3zM40.7 199.4h6.3v8.7h-6.3zM55.0 199.4h3.0v8.7h-3.0zM137.7 199.4h7.4v8.7h-7.4zM167.6 199.4h6.5v8.7h-6.5zM40.7 208.1h10.3v8.7h-10.3zM93.4 208.1h2.6v8.7h-2.6zM137.7 208.1h5.4v8.7h-5.4z"/>
<path fill="#5cc85c" shape-rendering="crispEdges" d="M40.7 235.2h1.3v4.5h-1.3zM43.0 235.2h3.0v4.5h-3.0zM47.0 235.2h3.0v4.5h-3.0zM80.7 235.2h2.3v4.5h-2.3zM93.4 235.2h0.9v4.5h-0.9z"/>
<path fill="#e8864a" shape-rendering="crispEdges" d="M42.0 235.2h1.1v4.5h-1.1zM46.0 235.2h1.1v4.5h-1.1zM50.0 235.2h5.0v4.5h-5.0zM62.0 235.2h4.5v4.5h-4.5zM88.0 235.2h2.0v4.5h-2.0zM110.0 235.2h1.6v4.5h-1.6zM193.8 235.2h1.4v4.5h-1.4z"/>
<path fill="#8b5a3c" shape-rendering="crispEdges" d="M55.0 235.2h7.0v4.5h-7.0zM68.0 235.2h12.8v4.5h-12.8zM178.9 235.2h2.3v4.5h-2.3z"/>
<path fill="#4a7bd0" shape-rendering="crispEdges" d="M66.5 235.2h1.6v4.5h-1.6zM167.6 235.2h6.0v4.5h-6.0zM184.0 235.2h3.0v4.5h-3.0zM188.4 235.2h1.8v4.5h-1.8zM192.0 235.2h1.9v4.5h-1.9z"/>
<path fill="#1a1a1a" shape-rendering="crispEdges" d="M83.0 235.2h3.0v4.5h-3.0zM94.3 235.2h1.8v4.5h-1.8zM138.2 235.2h4.9v4.5h-4.9zM158.0 235.2h1.6v4.5h-1.6z"/>
<path fill="#e070c0" shape-rendering="crispEdges" d="M86.0 235.2h2.0v4.5h-2.0zM155.4 235.2h2.6v4.5h-2.6zM164.4 235.2h3.2v4.5h-3.2zM174.8 235.2h1.4v4.5h-1.4z"/>
<path fill="#9a6ac0" shape-rendering="crispEdges" d="M90.0 235.2h1.6v4.5h-1.6zM111.5 235.2h1.8v4.5h-1.8zM119.0 235.2h1.6v4.5h-1.6zM132.3 235.2h1.3v4.5h-1.3zM151.3 235.2h1.3v4.5h-1.3zM181.2 235.2h2.9v4.5h-2.9zM190.2 235.2h1.9v4.5h-1.9zM196.6 235.2h2.5v4.5h-2.5z"/>
<path fill="#e05a5a" shape-rendering="crispEdges" d="M91.6 235.2h1.9v4.5h-1.9zM102.4 235.2h1.8v4.5h-1.8zM120.5 235.2h6.5v4.5h-6.5zM128.0 235.2h4.4v4.5h-4.4zM135.0 235.2h2.0v4.5h-2.0zM143.0 235.2h3.9v4.5h-3.9zM148.0 235.2h3.4v4.5h-3.4z"/>
<path fill="#c2dc72" shape-rendering="crispEdges" d="M96.0 235.2h5.0v4.5h-5.0zM108.0 235.2h2.0v4.5h-2.0zM113.3 235.2h1.8v4.5h-1.8zM146.8 235.2h1.2v4.5h-1.2zM152.6 235.2h2.0v4.5h-2.0z"/>
<path fill="#6ec8e4" shape-rendering="crispEdges" d="M101.0 235.2h1.5v4.5h-1.5zM106.0 235.2h2.0v4.5h-2.0zM115.0 235.2h4.0v4.5h-4.0zM137.0 235.2h1.2v4.5h-1.2z"/>
<path fill="#d8c050" shape-rendering="crispEdges" d="M104.2 235.2h1.8v4.5h-1.8zM127.0 235.2h1.1v4.5h-1.1zM133.6 235.2h1.5v4.5h-1.5zM187.0 235.2h1.5v4.5h-1.5z"/>
<path fill="#d050b0" shape-rendering="crispEdges" d="M154.5 235.2h1.0v4.5h-1.0z"/>
<path fill="#808080" shape-rendering="crispEdges" d="M159.5 235.2h5.0v4.5h-5.0zM173.5 235.2h1.4v4.5h-1.4zM176.2 235.2h2.8v4.5h-2.8zM195.2 235.2h1.5v4.5h-1.5z"/>
<path d="M42.68 60.0V147.3M44.66 60.0V147.3M46.64 60.0V147.3M48.62 60.0V147.3M50.60 60.0V147.3M52.58 60.0V147.3M54.56 60.0V147.3M56.54 60.0V147.3M58.52 60.0V147.3M60.50 60.0V147.3M62.48 60.0V147.3M64.46 60.0V147.3M66.44 60.0V147.3M68.42 60.0V147.3M70.40 60.0V147.3M72.38 60.0V147.3M74.36 60.0V147.3M76.34 60.0V147.3M78.32 60.0V147.3M80.30 60.0V147.3M82.28 60.0V147.3M84.26 60.0V147.3M86.24 60.0V147.3M88.22 60.0V147.3M90.20 60.0V147.3M92.18 60.0V147.3M94.16 60.0V147.3M96.14 60.0V147.3M98.12 60.0V147.3M100.10 60.0V147.3M102.08 60.0V147.3M104.06 60.0V147.3M106.04 60.0V147.3M108.02 60.0V147.3M110.00 60.0V147.3M111.98 60.0V147.3M113.96 60.0V147.3M115.94 60.0V147.3M117.92 60.0V147.3M119.90 60.0V147.3M121.88 60.0V147.3M123.86 60.0V147.3M125.84 60.0V147.3M127.82 60.0V147.3M129.80 60.0V147.3M131.78 60.0V147.3M133.76 60.0V147.3M135.74 60.0V147.3M137.72 60.0V147.3M139.70 60.0V147.3M141.68 60.0V147.3M143.66 60.0V147.3M145.64 60.0V147.3M147.62 60.0V147.3M149.60 60.0V147.3M151.58 60.0V147.3M153.56 60.0V147.3M155.54 60.0V147.3M157.52 60.0V147.3M159.50 60.0V147.3M161.48 60.0V147.3M163.46 60.0V147.3M165.44 60.0V147.3M167.42 60.0V147.3M169.40 60.0V147.3M171.38 60.0V147.3M173.36 60.0V147.3M175.34 60.0V147.3M177.32 60.0V147.3M179.30 60.0V147.3M181.28 60.0V147.3M183.26 60.0V147.3M185.24 60.0V147.3M187.22 60.0V147.3M189.20 60.0V147.3M191.18 60.0V147.3M193.16 60.0V147.3M195.14 60.0V147.3M197.12 60.0V147.3" stroke="#ffffff" stroke-width="0.35" stroke-opacity="0.45"/>
<path d="M40.7 67.31H199.0M40.7 74.57H199.0M40.7 81.83H199.0M40.7 89.09H199.0M40.7 96.35H199.0M40.7 103.61H199.0M40.7 110.87H199.0M40.7 118.13H199.0M40.7 125.39H199.0M40.7 132.65H199.0M40.7 139.91H199.0" stroke="#ffffff" stroke-width="0.5" stroke-opacity="0.5"/>
<text x="200.00" y="65.98" font-size="7.45" fill="#111" stroke="#111" stroke-width="0.2" text-anchor="start">ILC Subtype</text>
<text x="200.00" y="73.24" font-size="7.45" fill="#111" stroke="#111" stroke-width="0.2" text-anchor="start">PAM50</text>
<text x="200.00" y="80.50" font-size="7.45" fill="#111" stroke="#111" stroke-width="0.2" text-anchor="start">Age at Diagnosis</text>
<text x="200.00" y="87.76" font-size="7.45" fill="#111" stroke="#111" stroke-width="0.2" text-anchor="start">Race</text>
<text x="200.00" y="95.02" font-size="7.45" fill="#111" stroke="#111" stroke-width="0.2" text-anchor="start">Postmenopausal</text>
<text x="200.00" y="102.28" font-size="7.45" fill="#111" stroke="#111" stroke-width="0.2" text-anchor="start">Pathological Grade</text>
<text x="200.00" y="109.54" font-size="7.45" fill="#111" stroke="#111" stroke-width="0.2" text-anchor="start">Pathological Stage</text>
<text x="200.00" y="116.80" font-size="7.45" fill="#111" stroke="#111" stroke-width="0.2" text-anchor="start">Ki67</text>
<text x="200.00" y="124.06" font-size="7.45" fill="#111" stroke="#111" stroke-width="0.2" text-anchor="start">ER</text>
<text x="200.00" y="131.32" font-size="7.45" fill="#111" stroke="#111" stroke-width="0.2" text-anchor="start">PR</text>
<text x="200.00" y="138.58" font-size="7.45" fill="#111" stroke="#111" stroke-width="0.2" text-anchor="start">HER2</text>
<text x="200.00" y="145.84" font-size="7.45" fill="#111" stroke="#111" stroke-width="0.2" text-anchor="start">ER IHC Score</text>
<text x="200.00" y="154.15" font-size="7.45" fill="#111" stroke="#111" stroke-width="0.2" text-anchor="start">Stromal B cells</text>
<text x="200.00" y="162.84" font-size="7.45" fill="#111" stroke="#111" stroke-width="0.2" text-anchor="start">Tumor B cells</text>
<text x="200.00" y="171.53" font-size="7.45" fill="#111" stroke="#111" stroke-width="0.2" text-anchor="start">Stromal Treg cells</text>
<text x="200.00" y="180.22" font-size="7.45" fill="#111" stroke="#111" stroke-width="0.2" text-anchor="start">Tumor Treg cells</text>
<text x="200.00" y="188.91" font-size="7.45" fill="#111" stroke="#111" stroke-width="0.2" text-anchor="start">Stromal Macrophages</text>
<text x="200.00" y="197.59" font-size="7.45" fill="#111" stroke="#111" stroke-width="0.2" text-anchor="start">Tumor Macrophages</text>
<text x="200.00" y="206.28" font-size="7.45" fill="#111" stroke="#111" stroke-width="0.2" text-anchor="start">Stromal CD4 T cells</text>
<text x="200.00" y="214.97" font-size="7.45" fill="#111" stroke="#111" stroke-width="0.2" text-anchor="start">Stromal CD8 T cells</text>
<text x="200.00" y="223.66" font-size="7.45" fill="#111" stroke="#111" stroke-width="0.2" text-anchor="start">Tumor CD4 T cells</text>
<text x="200.00" y="232.35" font-size="7.45" fill="#111" stroke="#111" stroke-width="0.2" text-anchor="start">Tumor CD8 T cells</text>
<text x="200.00" y="239.60" font-size="7.45" fill="#111" stroke="#111" stroke-width="0.2" text-anchor="start">Patient</text>
<path d="M68.40 40.40V25.00H131.20V31.00" stroke="#444" stroke-width="0.6" fill="none"/>
<path d="M54.30 47.30V40.40H82.50V43.20" stroke="#444" stroke-width="0.6" fill="none"/>
<path d="M46.30 53.00V47.30H62.50V52.00" stroke="#444" stroke-width="0.6" fill="none"/>
<path d="M77.00 55.00V43.20H87.40V49.30" stroke="#444" stroke-width="0.6" fill="none"/>
<path d="M83.40 54.00V49.30H90.50V54.00" stroke="#444" stroke-width="0.6" fill="none"/>
<path d="M101.50 45.00V31.00H160.50V38.30" stroke="#444" stroke-width="0.6" fill="none"/>
<path d="M97.20 52.00V45.00H106.00V48.50" stroke="#444" stroke-width="0.6" fill="none"/>
<path d="M102.00 53.00V48.50H112.00V51.50" stroke="#444" stroke-width="0.6" fill="none"/>
<path d="M140.70 46.60V38.30H180.50V46.30" stroke="#444" stroke-width="0.6" fill="none"/>
<path d="M128.40 51.80V46.60H153.30V52.00" stroke="#444" stroke-width="0.6" fill="none"/>
<path d="M174.40 52.00V46.30H186.00V51.00" stroke="#444" stroke-width="0.6" fill="none"/>
<line x1="41.64" y1="56.64" x2="41.64" y2="60.00" stroke="#444" stroke-width="0.5"/>
<line x1="43.16" y1="58.04" x2="43.16" y2="60.00" stroke="#444" stroke-width="0.5"/>
<line x1="44.75" y1="57.20" x2="44.75" y2="60.00" stroke="#444" stroke-width="0.5"/>
<path d="M43.16 58.04V56.33H44.75V57.20" stroke="#444" stroke-width="0.5" fill="none"/>
<path d="M41.64 56.64V54.87H43.96V56.33" stroke="#444" stroke-width="0.5" fill="none"/>
<line x1="46.47" y1="58.99" x2="46.47" y2="60.00" stroke="#444" stroke-width="0.5"/>
<line x1="47.97" y1="57.72" x2="47.97" y2="60.00" stroke="#444" stroke-width="0.5"/>
<path d="M46.47 58.99V56.70H47.97V57.72" stroke="#444" stroke-width="0.5" fill="none"/>
<line x1="49.43" y1="58.66" x2="49.43" y2="60.00" stroke="#444" stroke-width="0.5"/>
<line x1="51.05" y1="59.00" x2="51.05" y2="60.00" stroke="#444" stroke-width="0.5"/>
<path d="M49.43 58.66V56.73H51.05V59.00" stroke="#444" stroke-width="0.5" fill="none"/>
<path d="M47.22 56.70V55.77H50.24V56.73" stroke="#444" stroke-width="0.5" fill="none"/>
<path d="M42.80 54.87V53.80H48.73V55.77" stroke="#444" stroke-width="0.5" fill="none"/>
<path d="M46.30 53.00V53.80" stroke="#444" stroke-width="0.5" fill="none"/>
<line x1="45.76" y1="53.80" x2="46.30" y2="53.80" stroke="#444" stroke-width="0.5"/>
<line x1="52.79" y1="57.67" x2="52.79" y2="60.00" stroke="#444" stroke-width="0.5"/>
<line x1="54.79" y1="58.01" x2="54.79" y2="60.00" stroke="#444" stroke-width="0.5"/>
<path d="M52.79 57.67V56.66H54.79V58.01" stroke="#444" stroke-width="0.5" fill="none"/>
<line x1="57.12" y1="58.23" x2="57.12" y2="60.00" stroke="#444" stroke-width="0.5"/>
<line x1="59.20" y1="58.55" x2="59.20" y2="60.00" stroke="#444" stroke-width="0.5"/>
<path d="M57.12 58.23V56.76H59.20V58.55" stroke="#444" stroke-width="0.5" fill="none"/>
<line x1="60.68" y1="58.39" x2="60.68" y2="60.00" stroke="#444" stroke-width="0.5"/>
<line x1="62.09" y1="58.65" x2="62.09" y2="60.00" stroke="#444" stroke-width="0.5"/>
<path d="M60.68 58.39V57.48H62.09V58.65" stroke="#444" stroke-width="0.5" fill="none"/>
<path d="M58.16 56.76V55.64H61.38V57.48" stroke="#444" stroke-width="0.5" fill="none"/>
<path d="M53.79 56.66V54.31H59.77V55.64" stroke="#444" stroke-width="0.5" fill="none"/>
<line x1="63.84" y1="59.00" x2="63.84" y2="60.00" stroke="#444" stroke-width="0.5"/>
<line x1="65.30" y1="59.00" x2="65.30" y2="60.00" stroke="#444" stroke-width="0.5"/>
<path d="M63.84 59.00V58.54H65.30V59.00" stroke="#444" stroke-width="0.5" fill="none"/>
<line x1="66.59" y1="59.00" x2="66.59" y2="60.00" stroke="#444" stroke-width="0.5"/>
<line x1="67.91" y1="59.00" x2="67.91" y2="60.00" stroke="#444" stroke-width="0.5"/>
<path d="M66.59 59.00V58.27H67.91V59.00" stroke="#444" stroke-width="0.5" fill="none"/>
<path d="M64.57 58.54V56.93H67.25V58.27" stroke="#444" stroke-width="0.5" fill="none"/>
<line x1="69.80" y1="58.04" x2="69.80" y2="60.00" stroke="#444" stroke-width="0.5"/>
<line x1="72.04" y1="59.00" x2="72.04" y2="60.00" stroke="#444" stroke-width="0.5"/>
<path d="M69.80 58.04V56.72H72.04V59.00" stroke="#444" stroke-width="0.5" fill="none"/>
<path d="M65.91 56.93V55.36H70.92V56.72" stroke="#444" stroke-width="0.5" fill="none"/>
<path d="M56.78 54.31V52.80H68.42V55.36" stroke="#444" stroke-width="0.5" fill="none"/>
<path d="M62.50 52.00V52.80" stroke="#444" stroke-width="0.5" fill="none"/>
<line x1="73.61" y1="59.00" x2="73.61" y2="60.00" stroke="#444" stroke-width="0.5"/>
<line x1="75.15" y1="58.22" x2="75.15" y2="60.00" stroke="#444" stroke-width="0.5"/>
<path d="M73.61 59.00V57.35H75.15V58.22" stroke="#444" stroke-width="0.5" fill="none"/>
<line x1="76.91" y1="59.00" x2="76.91" y2="60.00" stroke="#444" stroke-width="0.5"/>
<line x1="78.27" y1="59.00" x2="78.27" y2="60.00" stroke="#444" stroke-width="0.5"/>
<path d="M76.91 59.00V59.00H78.27V59.00" stroke="#444" stroke-width="0.5" fill="none"/>
<line x1="79.89" y1="59.00" x2="79.89" y2="60.00" stroke="#444" stroke-width="0.5"/>
<path d="M77.59 59.00V57.96H79.89V59.00" stroke="#444" stroke-width="0.5" fill="none"/>
<path d="M74.38 57.35V55.80H78.74V57.96" stroke="#444" stroke-width="0.5" fill="none"/>
<path d="M77.00 55.00V55.80" stroke="#444" stroke-width="0.5" fill="none"/>
<line x1="76.56" y1="55.80" x2="77.00" y2="55.80" stroke="#444" stroke-width="0.5"/>
<line x1="81.87" y1="59.00" x2="81.87" y2="60.00" stroke="#444" stroke-width="0.5"/>
<line x1="83.33" y1="58.30" x2="83.33" y2="60.00" stroke="#444" stroke-width="0.5"/>
<path d="M81.87 59.00V56.64H83.33V58.30" stroke="#444" stroke-width="0.5" fill="none"/>
<line x1="85.20" y1="56.42" x2="85.20" y2="60.00" stroke="#444" stroke-width="0.5"/>
<path d="M82.60 56.64V54.80H85.20V56.42" stroke="#444" stroke-width="0.5" fill="none"/>
<path d="M83.40 54.00V54.80" stroke="#444" stroke-width="0.5" fill="none"/>
<line x1="83.40" y1="54.80" x2="83.90" y2="54.80" stroke="#444" stroke-width="0.5"/>
<line x1="87.77" y1="58.30" x2="87.77" y2="60.00" stroke="#444" stroke-width="0.5"/>
<line x1="90.10" y1="57.99" x2="90.10" y2="60.00" stroke="#444" stroke-width="0.5"/>
<path d="M87.77 58.30V55.71H90.10V57.99" stroke="#444" stroke-width="0.5" fill="none"/>
<line x1="92.00" y1="58.36" x2="92.00" y2="60.00" stroke="#444" stroke-width="0.5"/>
<line x1="93.92" y1="58.87" x2="93.92" y2="60.00" stroke="#444" stroke-width="0.5"/>
<path d="M92.00 58.36V56.86H93.92V58.87" stroke="#444" stroke-width="0.5" fill="none"/>
<path d="M88.94 55.71V54.80H92.96V56.86" stroke="#444" stroke-width="0.5" fill="none"/>
<path d="M90.50 54.00V54.80" stroke="#444" stroke-width="0.5" fill="none"/>
<line x1="90.50" y1="54.80" x2="90.95" y2="54.80" stroke="#444" stroke-width="0.5"/>
<line x1="95.80" y1="54.43" x2="95.80" y2="60.00" stroke="#444" stroke-width="0.5"/>
<line x1="97.16" y1="54.81" x2="97.16" y2="60.00" stroke="#444" stroke-width="0.5"/>
<line x1="98.61" y1="56.09" x2="98.61" y2="60.00" stroke="#444" stroke-width="0.5"/>
<path d="M97.16 54.81V53.90H98.61V56.09" stroke="#444" stroke-width="0.5" fill="none"/>
<path d="M95.80 54.43V52.80H97.89V53.90" stroke="#444" stroke-width="0.5" fill="none"/>
<path d="M97.20 52.00V52.80" stroke="#444" stroke-width="0.5" fill="none"/>
<line x1="96.84" y1="52.80" x2="97.20" y2="52.80" stroke="#444" stroke-width="0.5"/>
<line x1="100.76" y1="55.05" x2="100.76" y2="60.00" stroke="#444" stroke-width="0.5"/>
<line x1="103.24" y1="56.25" x2="103.24" y2="60.00" stroke="#444" stroke-width="0.5"/>
<line x1="105.23" y1="56.91" x2="105.23" y2="60.00" stroke="#444" stroke-width="0.5"/>
<path d="M103.24 56.25V55.30H105.23V56.91" stroke="#444" stroke-width="0.5" fill="none"/>
<path d="M100.76 55.05V53.80H104.23V55.30" stroke="#444" stroke-width="0.5" fill="none"/>
<path d="M102.00 53.00V53.80" stroke="#444" stroke-width="0.5" fill="none"/>
<line x1="102.00" y1="53.80" x2="102.50" y2="53.80" stroke="#444" stroke-width="0.5"/>
<line x1="107.00" y1="58.38" x2="107.00" y2="60.00" stroke="#444" stroke-width="0.5"/>
<line x1="109.20" y1="58.52" x2="109.20" y2="60.00" stroke="#444" stroke-width="0.5"/>
<path d="M107.00 58.38V55.99H109.20V58.52" stroke="#444" stroke-width="0.5" fill="none"/>
<line x1="110.95" y1="57.35" x2="110.95" y2="60.00" stroke="#444" stroke-width="0.5"/>
<line x1="112.36" y1="57.46" x2="112.36" y2="60.00" stroke="#444" stroke-width="0.5"/>
<path d="M110.95 57.35V56.24H112.36V57.46" stroke="#444" stroke-width="0.5" fill="none"/>
<path d="M108.10 55.99V54.69H111.65V56.24" stroke="#444" stroke-width="0.5" fill="none"/>
<line x1="113.82" y1="57.06" x2="113.82" y2="60.00" stroke="#444" stroke-width="0.5"/>
<line x1="115.25" y1="57.80" x2="115.25" y2="60.00" stroke="#444" stroke-width="0.5"/>
<path d="M113.82 57.06V56.25H115.25V57.80" stroke="#444" stroke-width="0.5" fill="none"/>
<line x1="116.97" y1="58.25" x2="116.97" y2="60.00" stroke="#444" stroke-width="0.5"/>
<line x1="118.94" y1="58.95" x2="118.94" y2="60.00" stroke="#444" stroke-width="0.5"/>
<path d="M116.97 58.25V56.44H118.94V58.95" stroke="#444" stroke-width="0.5" fill="none"/>
<path d="M114.53 56.25V54.57H117.95V56.44" stroke="#444" stroke-width="0.5" fill="none"/>
<path d="M109.88 54.69V52.30H116.24V54.57" stroke="#444" stroke-width="0.5" fill="none"/>
<path d="M112.00 51.50V52.30" stroke="#444" stroke-width="0.5" fill="none"/>
<line x1="112.00" y1="52.30" x2="113.06" y2="52.30" stroke="#444" stroke-width="0.5"/>
<line x1="120.72" y1="59.00" x2="120.72" y2="60.00" stroke="#444" stroke-width="0.5"/>
<line x1="122.24" y1="58.59" x2="122.24" y2="60.00" stroke="#444" stroke-width="0.5"/>
<path d="M120.72 59.00V57.60H122.24V58.59" stroke="#444" stroke-width="0.5" fill="none"/>
<line x1="124.15" y1="57.46" x2="124.15" y2="60.00" stroke="#444" stroke-width="0.5"/>
<path d="M121.48 57.60V55.23H124.15V57.46" stroke="#444" stroke-width="0.5" fill="none"/>
<line x1="126.38" y1="57.66" x2="126.38" y2="60.00" stroke="#444" stroke-width="0.5"/>
<line x1="128.50" y1="57.67" x2="128.50" y2="60.00" stroke="#444" stroke-width="0.5"/>
<path d="M126.38 57.66V56.75H128.50V57.67" stroke="#444" stroke-width="0.5" fill="none"/>
<path d="M122.81 55.23V54.33H127.44V56.75" stroke="#444" stroke-width="0.5" fill="none"/>
<line x1="130.04" y1="56.40" x2="130.04" y2="60.00" stroke="#444" stroke-width="0.5"/>
<line x1="131.59" y1="56.68" x2="131.59" y2="60.00" stroke="#444" stroke-width="0.5"/>
<path d="M130.04 56.40V55.60H131.59V56.68" stroke="#444" stroke-width="0.5" fill="none"/>
<line x1="133.42" y1="57.38" x2="133.42" y2="60.00" stroke="#444" stroke-width="0.5"/>
<line x1="135.10" y1="58.67" x2="135.10" y2="60.00" stroke="#444" stroke-width="0.5"/>
<line x1="136.47" y1="57.84" x2="136.47" y2="60.00" stroke="#444" stroke-width="0.5"/>
<path d="M135.10 58.67V56.77H136.47V57.84" stroke="#444" stroke-width="0.5" fill="none"/>
<path d="M133.42 57.38V55.92H135.78V56.77" stroke="#444" stroke-width="0.5" fill="none"/>
<path d="M130.82 55.60V54.51H134.60V55.92" stroke="#444" stroke-width="0.5" fill="none"/>
<path d="M125.13 54.33V52.60H132.71V54.51" stroke="#444" stroke-width="0.5" fill="none"/>
<path d="M128.40 51.80V52.60" stroke="#444" stroke-width="0.5" fill="none"/>
<line x1="128.40" y1="52.60" x2="128.92" y2="52.60" stroke="#444" stroke-width="0.5"/>
<line x1="138.01" y1="58.22" x2="138.01" y2="60.00" stroke="#444" stroke-width="0.5"/>
<line x1="140.07" y1="57.51" x2="140.07" y2="60.00" stroke="#444" stroke-width="0.5"/>
<path d="M138.01 58.22V56.55H140.07V57.51" stroke="#444" stroke-width="0.5" fill="none"/>
<line x1="142.36" y1="58.23" x2="142.36" y2="60.00" stroke="#444" stroke-width="0.5"/>
<line x1="144.81" y1="59.00" x2="144.81" y2="60.00" stroke="#444" stroke-width="0.5"/>
<line x1="146.83" y1="58.93" x2="146.83" y2="60.00" stroke="#444" stroke-width="0.5"/>
<path d="M144.81 59.00V58.09H146.83V58.93" stroke="#444" stroke-width="0.5" fill="none"/>
<path d="M142.36 58.23V56.81H145.82V58.09" stroke="#444" stroke-width="0.5" fill="none"/>
<path d="M139.04 56.55V54.23H144.09V56.81" stroke="#444" stroke-width="0.5" fill="none"/>
<line x1="148.29" y1="59.00" x2="148.29" y2="60.00" stroke="#444" stroke-width="0.5"/>
<line x1="149.79" y1="59.00" x2="149.79" y2="60.00" stroke="#444" stroke-width="0.5"/>
<path d="M148.29 59.00V59.00H149.79V59.00" stroke="#444" stroke-width="0.5" fill="none"/>
<line x1="151.49" y1="58.91" x2="151.49" y2="60.00" stroke="#444" stroke-width="0.5"/>
<path d="M149.04 59.00V56.86H151.49V58.91" stroke="#444" stroke-width="0.5" fill="none"/>
<line x1="153.61" y1="59.00" x2="153.61" y2="60.00" stroke="#444" stroke-width="0.5"/>
<line x1="155.83" y1="59.00" x2="155.83" y2="60.00" stroke="#444" stroke-width="0.5"/>
<path d="M153.61 59.00V57.76H155.83V59.00" stroke="#444" stroke-width="0.5" fill="none"/>
<path d="M150.26 56.86V56.01H154.72V57.76" stroke="#444" stroke-width="0.5" fill="none"/>
<line x1="157.94" y1="56.52" x2="157.94" y2="60.00" stroke="#444" stroke-width="0.5"/>
<line x1="160.05" y1="59.00" x2="160.05" y2="60.00" stroke="#444" stroke-width="0.5"/>
<line x1="161.49" y1="59.00" x2="161.49" y2="60.00" stroke="#444" stroke-width="0.5"/>
<path d="M160.05 59.00V57.58H161.49V59.00" stroke="#444" stroke-width="0.5" fill="none"/>
<path d="M157.94 56.52V55.32H160.77V57.58" stroke="#444" stroke-width="0.5" fill="none"/>
<path d="M152.49 56.01V54.26H159.35V55.32" stroke="#444" stroke-width="0.5" fill="none"/>
<path d="M141.56 54.23V52.80H155.92V54.26" stroke="#444" stroke-width="0.5" fill="none"/>
<path d="M153.30 52.00V52.80" stroke="#444" stroke-width="0.5" fill="none"/>
<line x1="148.74" y1="52.80" x2="153.30" y2="52.80" stroke="#444" stroke-width="0.5"/>
<line x1="163.02" y1="57.67" x2="163.02" y2="60.00" stroke="#444" stroke-width="0.5"/>
<line x1="165.07" y1="59.00" x2="165.07" y2="60.00" stroke="#444" stroke-width="0.5"/>
<line x1="166.91" y1="59.00" x2="166.91" y2="60.00" stroke="#444" stroke-width="0.5"/>
<path d="M165.07 59.00V57.64H166.91V59.00" stroke="#444" stroke-width="0.5" fill="none"/>
<path d="M163.02 57.67V56.37H165.99V57.64" stroke="#444" stroke-width="0.5" fill="none"/>
<line x1="168.53" y1="59.00" x2="168.53" y2="60.00" stroke="#444" stroke-width="0.5"/>
<line x1="170.29" y1="59.00" x2="170.29" y2="60.00" stroke="#444" stroke-width="0.5"/>
<path d="M168.53 59.00V58.36H170.29V59.00" stroke="#444" stroke-width="0.5" fill="none"/>
<line x1="172.28" y1="58.30" x2="172.28" y2="60.00" stroke="#444" stroke-width="0.5"/>
<path d="M169.41 58.36V55.78H172.28V58.30" stroke="#444" stroke-width="0.5" fill="none"/>
<path d="M164.51 56.37V54.93H170.85V55.78" stroke="#444" stroke-width="0.5" fill="none"/>
<line x1="174.29" y1="57.49" x2="174.29" y2="60.00" stroke="#444" stroke-width="0.5"/>
<line x1="175.86" y1="56.84" x2="175.86" y2="60.00" stroke="#444" stroke-width="0.5"/>
<path d="M174.29 57.49V55.18H175.86V56.84" stroke="#444" stroke-width="0.5" fill="none"/>
<line x1="177.70" y1="58.17" x2="177.70" y2="60.00" stroke="#444" stroke-width="0.5"/>
<line x1="179.97" y1="56.88" x2="179.97" y2="60.00" stroke="#444" stroke-width="0.5"/>
<path d="M177.70 58.17V55.93H179.97V56.88" stroke="#444" stroke-width="0.5" fill="none"/>
<path d="M175.07 55.18V54.01H178.83V55.93" stroke="#444" stroke-width="0.5" fill="none"/>
<path d="M167.68 54.93V52.80H176.95V54.01" stroke="#444" stroke-width="0.5" fill="none"/>
<path d="M174.40 52.00V52.80" stroke="#444" stroke-width="0.5" fill="none"/>
<line x1="172.32" y1="52.80" x2="174.40" y2="52.80" stroke="#444" stroke-width="0.5"/>
<line x1="182.07" y1="58.81" x2="182.07" y2="60.00" stroke="#444" stroke-width="0.5"/>
<line x1="183.73" y1="58.82" x2="183.73" y2="60.00" stroke="#444" stroke-width="0.5"/>
<path d="M182.07 58.81V57.30H183.73V58.82" stroke="#444" stroke-width="0.5" fill="none"/>
<line x1="185.50" y1="58.14" x2="185.50" y2="60.00" stroke="#444" stroke-width="0.5"/>
<path d="M182.90 57.30V55.90H185.50V58.14" stroke="#444" stroke-width="0.5" fill="none"/>
<line x1="187.19" y1="58.54" x2="187.19" y2="60.00" stroke="#444" stroke-width="0.5"/>
<line x1="188.52" y1="59.00" x2="188.52" y2="60.00" stroke="#444" stroke-width="0.5"/>
<path d="M187.19 58.54V57.46H188.52V59.00" stroke="#444" stroke-width="0.5" fill="none"/>
<line x1="190.10" y1="56.46" x2="190.10" y2="60.00" stroke="#444" stroke-width="0.5"/>
<path d="M187.85 57.46V55.36H190.10V56.46" stroke="#444" stroke-width="0.5" fill="none"/>
<path d="M184.20 55.90V54.24H188.98V55.36" stroke="#444" stroke-width="0.5" fill="none"/>
<line x1="191.66" y1="58.09" x2="191.66" y2="60.00" stroke="#444" stroke-width="0.5"/>
<line x1="193.22" y1="57.88" x2="193.22" y2="60.00" stroke="#444" stroke-width="0.5"/>
<path d="M191.66 58.09V57.05H193.22V57.88" stroke="#444" stroke-width="0.5" fill="none"/>
<line x1="194.82" y1="56.50" x2="194.82" y2="60.00" stroke="#444" stroke-width="0.5"/>
<path d="M192.44 57.05V55.07H194.82V56.50" stroke="#444" stroke-width="0.5" fill="none"/>
<line x1="196.75" y1="58.27" x2="196.75" y2="60.00" stroke="#444" stroke-width="0.5"/>
<line x1="198.40" y1="58.04" x2="198.40" y2="60.00" stroke="#444" stroke-width="0.5"/>
<path d="M196.75 58.27V56.30H198.40V58.04" stroke="#444" stroke-width="0.5" fill="none"/>
<path d="M193.63 55.07V54.01H197.58V56.30" stroke="#444" stroke-width="0.5" fill="none"/>
<path d="M186.59 54.24V51.80H195.60V54.01" stroke="#444" stroke-width="0.5" fill="none"/>
<path d="M186.00 51.00V51.80" stroke="#444" stroke-width="0.5" fill="none"/>
<line x1="186.00" y1="51.80" x2="191.10" y2="51.80" stroke="#444" stroke-width="0.5"/>
<path d="M40.50 151.65H35.80V160.34H40.50" stroke="#555" stroke-width="0.6" fill="none"/>
<path d="M40.50 169.03H37.70V177.72H40.50" stroke="#555" stroke-width="0.6" fill="none"/>
<path d="M40.50 186.41H37.70V195.09H40.50" stroke="#555" stroke-width="0.6" fill="none"/>
<path d="M40.50 203.79H38.20V212.48H40.50" stroke="#555" stroke-width="0.6" fill="none"/>
<path d="M40.50 221.17H38.20V229.86H40.50" stroke="#555" stroke-width="0.6" fill="none"/>
<path d="M37.70 173.40H35.50V190.80H37.70" stroke="#555" stroke-width="0.6" fill="none"/>
<path d="M38.20 208.20H34.20V225.60H38.20" stroke="#555" stroke-width="0.6" fill="none"/>
<path d="M35.50 182.10H32.00V216.90H34.20" stroke="#555" stroke-width="0.6" fill="none"/>
<path d="M35.80 156.00H29.30V199.50H32.00" stroke="#555" stroke-width="0.6" fill="none"/>
<defs><linearGradient id="gA" x1="0" y1="0" x2="0" y2="1"><stop offset="0" stop-color="#ff0000"/><stop offset="0.28" stop-color="#ff2a14"/><stop offset="0.62" stop-color="#f4eef2"/><stop offset="1" stop-color="#0000ff"/></linearGradient><linearGradient id="gMag" x1="0" y1="0" x2="0" y2="1"><stop offset="0" stop-color="#b22f5f"/><stop offset="1" stop-color="#ffffff"/></linearGradient></defs>
<rect x="273.30" y="6.40" width="4.60" height="26.40" fill="url(#gA)" rx="1.2"/>
<text x="278.80" y="9.90" font-size="7.0" fill="#222" stroke="#222" stroke-width="0.2" text-anchor="start">15</text>
<text x="278.80" y="18.10" font-size="7.0" fill="#222" stroke="#222" stroke-width="0.2" text-anchor="start">10</text>
<text x="278.80" y="26.30" font-size="7.0" fill="#222" stroke="#222" stroke-width="0.2" text-anchor="start">5</text>
<text x="278.80" y="34.40" font-size="7.0" fill="#222" stroke="#222" stroke-width="0.2" text-anchor="start">0</text>
<text x="271.40" y="42.00" font-size="7.4" fill="#111" stroke="#111" stroke-width="0.2" text-anchor="middle" font-weight="bold" transform="rotate(-90 271.4 42.0)" textLength="70.5" lengthAdjust="spacingAndGlyphs">log2 Cell Density (/mm2)</text>
<text x="290.00" y="11.80" font-size="7.7" fill="#111" stroke="#111" stroke-width="0.2" text-anchor="start" font-weight="bold" textLength="51.2" lengthAdjust="spacingAndGlyphs">ILC Subtype</text>
<rect x="289.60" y="14.10" width="3.60" height="5.90" fill="#4b7bd3"/>
<text x="295.00" y="19.70" font-size="7.5" fill="#222" stroke="#222" stroke-width="0.2" text-anchor="start" textLength="66.0" lengthAdjust="spacingAndGlyphs">Non–proliferative</text>
<rect x="289.60" y="20.30" width="3.60" height="5.90" fill="#ee8a4e"/>
<text x="295.00" y="25.90" font-size="7.5" fill="#222" stroke="#222" stroke-width="0.2" text-anchor="start" textLength="46.0" lengthAdjust="spacingAndGlyphs">Proliferative</text>
<text x="290.00" y="35.20" font-size="7.7" fill="#111" stroke="#111" stroke-width="0.2" text-anchor="start" font-weight="bold" textLength="28.5" lengthAdjust="spacingAndGlyphs">PAM50</text>
<rect x="289.60" y="37.00" width="3.60" height="5.90" fill="#d8605e"/>
<text x="295.00" y="42.60" font-size="7.5" fill="#222" stroke="#222" stroke-width="0.2" text-anchor="start" textLength="21.8" lengthAdjust="spacingAndGlyphs">Basal</text>
<rect x="289.60" y="43.40" width="3.60" height="5.90" fill="#4b7bd3"/>
<text x="295.00" y="49.00" font-size="7.5" fill="#222" stroke="#222" stroke-width="0.2" text-anchor="start" textLength="22.7" lengthAdjust="spacingAndGlyphs">LumA</text>
<rect x="289.60" y="49.80" width="3.60" height="5.90" fill="#ee8a4e"/>
<text x="295.00" y="55.40" font-size="7.5" fill="#222" stroke="#222" stroke-width="0.2" text-anchor="start" textLength="22.7" lengthAdjust="spacingAndGlyphs">LumB</text>
<rect x="289.60" y="56.20" width="3.60" height="5.90" fill="#9c6cb8"/>
<text x="295.00" y="61.80" font-size="7.5" fill="#222" stroke="#222" stroke-width="0.2" text-anchor="start" textLength="28.0" lengthAdjust="spacingAndGlyphs">Normal</text>
<text x="290.00" y="71.60" font-size="7.7" fill="#111" stroke="#111" stroke-width="0.2" text-anchor="start" font-weight="bold" textLength="71.2" lengthAdjust="spacingAndGlyphs">Age at Diagnosis</text>
<rect x="289.60" y="73.30" width="4.20" height="28.90" fill="url(#gMag)"/>
<text x="295.20" y="76.60" font-size="8.4" fill="#222" stroke="#222" stroke-width="0.2" text-anchor="start">80</text>
<text x="295.20" y="84.70" font-size="8.4" fill="#222" stroke="#222" stroke-width="0.2" text-anchor="start">70</text>
<text x="295.20" y="92.60" font-size="8.4" fill="#222" stroke="#222" stroke-width="0.2" text-anchor="start">60</text>
<text x="295.20" y="100.90" font-size="8.4" fill="#222" stroke="#222" stroke-width="0.2" text-anchor="start">50</text>
<text x="295.20" y="109.00" font-size="8.4" fill="#222" stroke="#222" stroke-width="0.2" text-anchor="start">40</text>
<text x="290.00" y="115.70" font-size="7.7" fill="#111" stroke="#111" stroke-width="0.2" text-anchor="start" font-weight="bold" textLength="20.5" lengthAdjust="spacingAndGlyphs">Race</text>
<rect x="289.60" y="117.60" width="3.60" height="5.90" fill="#ee8a4e"/>
<text x="295.00" y="123.20" font-size="7.5" fill="#222" stroke="#222" stroke-width="0.2" text-anchor="start" textLength="21.8" lengthAdjust="spacingAndGlyphs">Other</text>
<rect x="289.60" y="124.10" width="3.60" height="5.90" fill="#4b7bd3"/>
<text x="295.00" y="129.70" font-size="7.5" fill="#222" stroke="#222" stroke-width="0.2" text-anchor="start" textLength="22.2" lengthAdjust="spacingAndGlyphs">White</text>
<text x="290.00" y="139.00" font-size="7.7" fill="#111" stroke="#111" stroke-width="0.2" text-anchor="start" font-weight="bold" textLength="70.0" lengthAdjust="spacingAndGlyphs">Postmenopausal</text>
<rect x="289.60" y="141.20" width="3.60" height="5.90" fill="#0000f2"/>
<text x="295.00" y="146.80" font-size="7.5" fill="#222" stroke="#222" stroke-width="0.2" text-anchor="start" textLength="11.1" lengthAdjust="spacingAndGlyphs">No</text>
<rect x="289.60" y="147.70" width="3.60" height="5.90" fill="#b22f5f"/>
<text x="295.00" y="153.30" font-size="7.5" fill="#222" stroke="#222" stroke-width="0.2" text-anchor="start" textLength="14.2" lengthAdjust="spacingAndGlyphs">Yes</text>
<text x="290.00" y="162.50" font-size="7.7" fill="#111" stroke="#111" stroke-width="0.2" text-anchor="start" font-weight="bold" textLength="79.8" lengthAdjust="spacingAndGlyphs">Pathological Grade</text>
<rect x="289.60" y="164.00" width="3.60" height="5.90" fill="#f9c3ce"/>
<text x="295.00" y="169.60" font-size="7.5" fill="#222" stroke="#222" stroke-width="0.2" text-anchor="start" textLength="4.8" lengthAdjust="spacingAndGlyphs">1</text>
<rect x="289.60" y="170.60" width="3.60" height="5.90" fill="#b22f5f"/>
<text x="295.00" y="176.20" font-size="7.5" fill="#222" stroke="#222" stroke-width="0.2" text-anchor="start" textLength="4.8" lengthAdjust="spacingAndGlyphs">2</text>
<text x="290.00" y="185.70" font-size="7.7" fill="#111" stroke="#111" stroke-width="0.2" text-anchor="start" font-weight="bold" textLength="78.5" lengthAdjust="spacingAndGlyphs">Pathological Stage</text>
<rect x="289.60" y="187.70" width="3.60" height="5.90" fill="#add8e6"/>
<text x="295.00" y="193.30" font-size="7.5" fill="#222" stroke="#222" stroke-width="0.2" text-anchor="start" textLength="10.6" lengthAdjust="spacingAndGlyphs">1A</text>
<rect x="289.60" y="194.30" width="3.60" height="5.90" fill="#87ceeb"/>
<text x="295.00" y="199.90" font-size="7.5" fill="#222" stroke="#222" stroke-width="0.2" text-anchor="start" textLength="10.6" lengthAdjust="spacingAndGlyphs">1B</text>
<rect x="289.60" y="200.60" width="3.60" height="5.90" fill="#1e90ff"/>
<text x="295.00" y="206.20" font-size="7.5" fill="#222" stroke="#222" stroke-width="0.2" text-anchor="start" textLength="10.6" lengthAdjust="spacingAndGlyphs">2A</text>
<rect x="289.60" y="207.30" width="3.60" height="5.90" fill="#00008b"/>
<text x="295.00" y="212.90" font-size="7.5" fill="#222" stroke="#222" stroke-width="0.2" text-anchor="start" textLength="10.6" lengthAdjust="spacingAndGlyphs">3A</text>
<text x="290.00" y="222.30" font-size="7.7" fill="#111" stroke="#111" stroke-width="0.2" text-anchor="start" font-weight="bold" textLength="18.0" lengthAdjust="spacingAndGlyphs">Ki67</text>
<rect x="289.60" y="224.20" width="4.20" height="31.00" fill="url(#gMag)"/>
<text x="295.20" y="227.60" font-size="8.4" fill="#222" stroke="#222" stroke-width="0.2" text-anchor="start">80</text>
<text x="295.20" y="235.50" font-size="8.4" fill="#222" stroke="#222" stroke-width="0.2" text-anchor="start">60</text>
<text x="295.20" y="243.50" font-size="8.4" fill="#222" stroke="#222" stroke-width="0.2" text-anchor="start">40</text>
<text x="295.20" y="251.50" font-size="8.4" fill="#222" stroke="#222" stroke-width="0.2" text-anchor="start">20</text>
<text x="295.20" y="259.60" font-size="8.4" fill="#222" stroke="#222" stroke-width="0.2" text-anchor="start">0</text>
<text x="374.90" y="11.75" font-size="7.7" fill="#111" stroke="#111" stroke-width="0.2" text-anchor="start" font-weight="bold" textLength="12.0" lengthAdjust="spacingAndGlyphs">ER</text>
<rect x="374.90" y="13.80" width="3.60" height="5.90" fill="#e07ad9"/>
<text x="380.20" y="19.40" font-size="7.5" fill="#222" stroke="#222" stroke-width="0.2" text-anchor="start" textLength="29.7" lengthAdjust="spacingAndGlyphs">Positive</text>
<text x="374.90" y="28.60" font-size="7.7" fill="#111" stroke="#111" stroke-width="0.2" text-anchor="start" font-weight="bold" textLength="12.0" lengthAdjust="spacingAndGlyphs">PR</text>
<rect x="374.90" y="30.70" width="3.60" height="5.90" fill="#1053ec"/>
<text x="380.20" y="36.30" font-size="7.5" fill="#222" stroke="#222" stroke-width="0.2" text-anchor="start" textLength="34.0" lengthAdjust="spacingAndGlyphs">Negative</text>
<rect x="374.90" y="36.80" width="3.60" height="5.90" fill="#e07ad9"/>
<text x="380.20" y="42.40" font-size="7.5" fill="#222" stroke="#222" stroke-width="0.2" text-anchor="start" textLength="29.7" lengthAdjust="spacingAndGlyphs">Positive</text>
<text x="374.90" y="51.60" font-size="7.7" fill="#111" stroke="#111" stroke-width="0.2" text-anchor="start" font-weight="bold" textLength="23.0" lengthAdjust="spacingAndGlyphs">HER2</text>
<rect x="374.90" y="53.70" width="3.60" height="5.90" fill="#1053ec"/>
<text x="380.20" y="59.30" font-size="7.5" fill="#222" stroke="#222" stroke-width="0.2" text-anchor="start" textLength="34.0" lengthAdjust="spacingAndGlyphs">Negative</text>
<text x="374.90" y="68.50" font-size="7.7" fill="#111" stroke="#111" stroke-width="0.2" text-anchor="start" font-weight="bold" textLength="57.0" lengthAdjust="spacingAndGlyphs">ER IHC Score</text>
<rect x="374.50" y="70.70" width="4.30" height="25.60" fill="url(#gMag)"/>
<text x="380.20" y="73.80" font-size="8.2" fill="#222" stroke="#222" stroke-width="0.2" text-anchor="start">300</text>
<text x="380.20" y="82.00" font-size="8.2" fill="#222" stroke="#222" stroke-width="0.2" text-anchor="start">250</text>
<text x="380.20" y="90.10" font-size="8.2" fill="#222" stroke="#222" stroke-width="0.2" text-anchor="start">200</text>
<text x="380.20" y="98.30" font-size="8.2" fill="#222" stroke="#222" stroke-width="0.2" text-anchor="start">150</text>
<text x="380.20" y="106.50" font-size="8.2" fill="#222" stroke="#222" stroke-width="0.2" text-anchor="start">100</text>
<text x="375.00" y="110.30" font-size="3.4" fill="#222" text-anchor="start" font-weight="bold">Patient</text>
<rect x="374.60" y="112.30" width="3.80" height="2.60" fill="#4a7bd0"/>
<text x="380.00" y="114.80" font-size="3.4" fill="#222" text-anchor="start">TP17_M510</text>
<rect x="374.60" y="115.72" width="3.80" height="2.60" fill="#ee8a4e"/>
<text x="380.00" y="118.22" font-size="3.4" fill="#222" text-anchor="start">TP17_M802</text>
<rect x="374.60" y="119.14" width="3.80" height="2.60" fill="#5ac85a"/>
<text x="380.00" y="121.64" font-size="3.4" fill="#222" text-anchor="start">TP17_M882</text>
<rect x="374.60" y="122.56" width="3.80" height="2.60" fill="#e05050"/>
<text x="380.00" y="125.06" font-size="3.4" fill="#222" text-anchor="start">TP18_M121</text>
<rect x="374.60" y="125.98" width="3.80" height="2.60" fill="#9a6ac0"/>
<text x="380.00" y="128.48" font-size="3.4" fill="#222" text-anchor="start">TP18_M202</text>
<rect x="374.60" y="129.40" width="3.80" height="2.60" fill="#8b5a2b"/>
<text x="380.00" y="131.90" font-size="3.4" fill="#222" text-anchor="start">TP18_M251</text>
<rect x="374.60" y="132.82" width="3.80" height="2.60" fill="#e070c0"/>
<text x="380.00" y="135.32" font-size="3.4" fill="#222" text-anchor="start">TP18_M278</text>
<rect x="374.60" y="136.24" width="3.80" height="2.60" fill="#808080"/>
<text x="380.00" y="138.74" font-size="3.4" fill="#222" text-anchor="start">TP18_M302</text>
<rect x="374.60" y="139.66" width="3.80" height="2.60" fill="#d4aa50"/>
<text x="380.00" y="142.16" font-size="3.4" fill="#222" text-anchor="start">TP18_M329</text>
<rect x="374.60" y="143.08" width="3.80" height="2.60" fill="#70c8e8"/>
<text x="380.00" y="145.58" font-size="3.4" fill="#222" text-anchor="start">TP18_M355</text>
<rect x="374.60" y="146.50" width="3.80" height="2.60" fill="#b070d0"/>
<text x="380.00" y="149.00" font-size="3.4" fill="#222" text-anchor="start">TP18_M372</text>
<rect x="374.60" y="149.92" width="3.80" height="2.60" fill="#c8e070"/>
<text x="380.00" y="152.42" font-size="3.4" fill="#222" text-anchor="start">TP18_M403</text>
<rect x="374.60" y="153.34" width="3.80" height="2.60" fill="#1a1a1a"/>
<text x="380.00" y="155.84" font-size="3.4" fill="#222" text-anchor="start">TP18_M95</text>
<rect x="83.70" y="313.50" width="19.62" height="19.58" fill="#ae2d37"/>
<text x="93.51" y="325.29" font-size="5.6" fill="#ffffff" stroke="#ffffff" stroke-width="0.2" text-anchor="middle">1</text>
<rect x="103.32" y="313.50" width="19.62" height="19.58" fill="#dba0a5"/>
<text x="113.13" y="325.29" font-size="5.6" fill="#333333" stroke="#333333" stroke-width="0.2" text-anchor="middle">0.45</text>
<rect x="201.42" y="313.50" width="19.62" height="19.58" fill="#dca5a9"/>
<text x="211.23" y="325.29" font-size="5.6" fill="#333333" stroke="#333333" stroke-width="0.2" text-anchor="middle">0.43</text>
<rect x="83.70" y="333.08" width="19.62" height="19.58" fill="#dba0a5"/>
<text x="93.51" y="344.87" font-size="5.6" fill="#333333" stroke="#333333" stroke-width="0.2" text-anchor="middle">0.45</text>
<rect x="103.32" y="333.08" width="19.62" height="19.58" fill="#ae2d37"/>
<text x="113.13" y="344.87" font-size="5.6" fill="#ffffff" stroke="#ffffff" stroke-width="0.2" text-anchor="middle">1</text>
<rect x="201.42" y="333.08" width="19.62" height="19.58" fill="#eccdcf"/>
<text x="211.23" y="344.87" font-size="5.6" fill="#333333" stroke="#333333" stroke-width="0.2" text-anchor="middle">0.24</text>
<rect x="122.94" y="352.66" width="19.62" height="19.58" fill="#ae2d37"/>
<text x="132.75" y="364.45" font-size="5.6" fill="#ffffff" stroke="#ffffff" stroke-width="0.2" text-anchor="middle">1</text>
<rect x="142.56" y="352.66" width="19.62" height="19.58" fill="#c5686f"/>
<text x="152.37" y="364.45" font-size="5.6" fill="#ffffff" stroke="#ffffff" stroke-width="0.2" text-anchor="middle">0.72</text>
<rect x="162.18" y="352.66" width="19.62" height="19.58" fill="#d0858b"/>
<text x="171.99" y="364.45" font-size="5.6" fill="#ffffff" stroke="#ffffff" stroke-width="0.2" text-anchor="middle">0.58</text>
<rect x="181.80" y="352.66" width="19.62" height="19.58" fill="#da9ea3"/>
<text x="191.61" y="364.45" font-size="5.6" fill="#333333" stroke="#333333" stroke-width="0.2" text-anchor="middle">0.46</text>
<rect x="201.42" y="352.66" width="19.62" height="19.58" fill="#dda7ab"/>
<text x="211.23" y="364.45" font-size="5.6" fill="#333333" stroke="#333333" stroke-width="0.2" text-anchor="middle">0.42</text>
<rect x="221.04" y="352.66" width="19.62" height="19.58" fill="#eac8cb"/>
<text x="230.85" y="364.45" font-size="5.6" fill="#333333" stroke="#333333" stroke-width="0.2" text-anchor="middle">0.26</text>
<rect x="240.66" y="352.66" width="19.62" height="19.58" fill="#e3b8bb"/>
<text x="250.47" y="364.45" font-size="5.6" fill="#333333" stroke="#333333" stroke-width="0.2" text-anchor="middle">0.34</text>
<rect x="122.94" y="372.24" width="19.62" height="19.58" fill="#c5686f"/>
<text x="132.75" y="384.03" font-size="5.6" fill="#ffffff" stroke="#ffffff" stroke-width="0.2" text-anchor="middle">0.72</text>
<rect x="142.56" y="372.24" width="19.62" height="19.58" fill="#ae2d37"/>
<text x="152.37" y="384.03" font-size="5.6" fill="#ffffff" stroke="#ffffff" stroke-width="0.2" text-anchor="middle">1</text>
<rect x="162.18" y="372.24" width="19.62" height="19.58" fill="#d69499"/>
<text x="171.99" y="384.03" font-size="5.6" fill="#ffffff" stroke="#ffffff" stroke-width="0.2" text-anchor="middle">0.51</text>
<rect x="181.80" y="372.24" width="19.62" height="19.58" fill="#d1878d"/>
<text x="191.61" y="384.03" font-size="5.6" fill="#ffffff" stroke="#ffffff" stroke-width="0.2" text-anchor="middle">0.57</text>
<rect x="201.42" y="372.24" width="19.62" height="19.58" fill="#e2b3b7"/>
<text x="211.23" y="384.03" font-size="5.6" fill="#333333" stroke="#333333" stroke-width="0.2" text-anchor="middle">0.36</text>
<rect x="221.04" y="372.24" width="19.62" height="19.58" fill="#eccdcf"/>
<text x="230.85" y="384.03" font-size="5.6" fill="#333333" stroke="#333333" stroke-width="0.2" text-anchor="middle">0.24</text>
<rect x="240.66" y="372.24" width="19.62" height="19.58" fill="#d49095"/>
<text x="250.47" y="384.03" font-size="5.6" fill="#ffffff" stroke="#ffffff" stroke-width="0.2" text-anchor="middle">0.53</text>
<rect x="260.28" y="372.24" width="19.62" height="19.58" fill="#e4babd"/>
<text x="270.09" y="384.03" font-size="5.6" fill="#333333" stroke="#333333" stroke-width="0.2" text-anchor="middle">0.33</text>
<rect x="122.94" y="391.82" width="19.62" height="19.58" fill="#d0858b"/>
<text x="132.75" y="403.61" font-size="5.6" fill="#ffffff" stroke="#ffffff" stroke-width="0.2" text-anchor="middle">0.58</text>
<rect x="142.56" y="391.82" width="19.62" height="19.58" fill="#d69499"/>
<text x="152.37" y="403.61" font-size="5.6" fill="#ffffff" stroke="#ffffff" stroke-width="0.2" text-anchor="middle">0.51</text>
<rect x="162.18" y="391.82" width="19.62" height="19.58" fill="#ae2d37"/>
<text x="171.99" y="403.61" font-size="5.6" fill="#ffffff" stroke="#ffffff" stroke-width="0.2" text-anchor="middle">1</text>
<rect x="181.80" y="391.82" width="19.62" height="19.58" fill="#c87077"/>
<text x="191.61" y="403.61" font-size="5.6" fill="#ffffff" stroke="#ffffff" stroke-width="0.2" text-anchor="middle">0.68</text>
<rect x="201.42" y="391.82" width="19.62" height="19.58" fill="#d6969b"/>
<text x="211.23" y="403.61" font-size="5.6" fill="#ffffff" stroke="#ffffff" stroke-width="0.2" text-anchor="middle">0.5</text>
<rect x="221.04" y="391.82" width="19.62" height="19.58" fill="#dda7ab"/>
<text x="230.85" y="403.61" font-size="5.6" fill="#333333" stroke="#333333" stroke-width="0.2" text-anchor="middle">0.42</text>
<rect x="240.66" y="391.82" width="19.62" height="19.58" fill="#e8c4c7"/>
<text x="250.47" y="403.61" font-size="5.6" fill="#333333" stroke="#333333" stroke-width="0.2" text-anchor="middle">0.28</text>
<rect x="122.94" y="411.40" width="19.62" height="19.58" fill="#da9ea3"/>
<text x="132.75" y="423.19" font-size="5.6" fill="#333333" stroke="#333333" stroke-width="0.2" text-anchor="middle">0.46</text>
<rect x="142.56" y="411.40" width="19.62" height="19.58" fill="#d1878d"/>
<text x="152.37" y="423.19" font-size="5.6" fill="#ffffff" stroke="#ffffff" stroke-width="0.2" text-anchor="middle">0.57</text>
<rect x="162.18" y="411.40" width="19.62" height="19.58" fill="#c87077"/>
<text x="171.99" y="423.19" font-size="5.6" fill="#ffffff" stroke="#ffffff" stroke-width="0.2" text-anchor="middle">0.68</text>
<rect x="181.80" y="411.40" width="19.62" height="19.58" fill="#ae2d37"/>
<text x="191.61" y="423.19" font-size="5.6" fill="#ffffff" stroke="#ffffff" stroke-width="0.2" text-anchor="middle">1</text>
<rect x="201.42" y="411.40" width="19.62" height="19.58" fill="#e1b1b5"/>
<text x="211.23" y="423.19" font-size="5.6" fill="#333333" stroke="#333333" stroke-width="0.2" text-anchor="middle">0.37</text>
<rect x="221.04" y="411.40" width="19.62" height="19.58" fill="#e2b3b7"/>
<text x="230.85" y="423.19" font-size="5.6" fill="#333333" stroke="#333333" stroke-width="0.2" text-anchor="middle">0.36</text>
<rect x="240.66" y="411.40" width="19.62" height="19.58" fill="#d59297"/>
<text x="250.47" y="423.19" font-size="5.6" fill="#ffffff" stroke="#ffffff" stroke-width="0.2" text-anchor="middle">0.52</text>
<rect x="260.28" y="411.40" width="19.62" height="19.58" fill="#e3b8bb"/>
<text x="270.09" y="423.19" font-size="5.6" fill="#333333" stroke="#333333" stroke-width="0.2" text-anchor="middle">0.34</text>
<rect x="83.70" y="430.98" width="19.62" height="19.58" fill="#dca5a9"/>
<text x="93.51" y="442.77" font-size="5.6" fill="#333333" stroke="#333333" stroke-width="0.2" text-anchor="middle">0.43</text>
<rect x="103.32" y="430.98" width="19.62" height="19.58" fill="#eccdcf"/>
<text x="113.13" y="442.77" font-size="5.6" fill="#333333" stroke="#333333" stroke-width="0.2" text-anchor="middle">0.24</text>
<rect x="122.94" y="430.98" width="19.62" height="19.58" fill="#dda7ab"/>
<text x="132.75" y="442.77" font-size="5.6" fill="#333333" stroke="#333333" stroke-width="0.2" text-anchor="middle">0.42</text>
<rect x="142.56" y="430.98" width="19.62" height="19.58" fill="#e2b3b7"/>
<text x="152.37" y="442.77" font-size="5.6" fill="#333333" stroke="#333333" stroke-width="0.2" text-anchor="middle">0.36</text>
<rect x="162.18" y="430.98" width="19.62" height="19.58" fill="#d6969b"/>
<text x="171.99" y="442.77" font-size="5.6" fill="#ffffff" stroke="#ffffff" stroke-width="0.2" text-anchor="middle">0.5</text>
<rect x="181.80" y="430.98" width="19.62" height="19.58" fill="#e1b1b5"/>
<text x="191.61" y="442.77" font-size="5.6" fill="#333333" stroke="#333333" stroke-width="0.2" text-anchor="middle">0.37</text>
<rect x="201.42" y="430.98" width="19.62" height="19.58" fill="#ae2d37"/>
<text x="211.23" y="442.77" font-size="5.6" fill="#ffffff" stroke="#ffffff" stroke-width="0.2" text-anchor="middle">1</text>
<rect x="221.04" y="430.98" width="19.62" height="19.58" fill="#bd555d"/>
<text x="230.85" y="442.77" font-size="5.6" fill="#ffffff" stroke="#ffffff" stroke-width="0.2" text-anchor="middle">0.81</text>
<rect x="240.66" y="430.98" width="19.62" height="19.58" fill="#d59297"/>
<text x="250.47" y="442.77" font-size="5.6" fill="#ffffff" stroke="#ffffff" stroke-width="0.2" text-anchor="middle">0.52</text>
<rect x="260.28" y="430.98" width="19.62" height="19.58" fill="#e5bcbf"/>
<text x="270.09" y="442.77" font-size="5.6" fill="#333333" stroke="#333333" stroke-width="0.2" text-anchor="middle">0.32</text>
<rect x="122.94" y="450.56" width="19.62" height="19.58" fill="#eac8cb"/>
<text x="132.75" y="462.35" font-size="5.6" fill="#333333" stroke="#333333" stroke-width="0.2" text-anchor="middle">0.26</text>
<rect x="142.56" y="450.56" width="19.62" height="19.58" fill="#eccdcf"/>
<text x="152.37" y="462.35" font-size="5.6" fill="#333333" stroke="#333333" stroke-width="0.2" text-anchor="middle">0.24</text>
<rect x="162.18" y="450.56" width="19.62" height="19.58" fill="#dda7ab"/>
<text x="171.99" y="462.35" font-size="5.6" fill="#333333" stroke="#333333" stroke-width="0.2" text-anchor="middle">0.42</text>
<rect x="181.80" y="450.56" width="19.62" height="19.58" fill="#e2b3b7"/>
<text x="191.61" y="462.35" font-size="5.6" fill="#333333" stroke="#333333" stroke-width="0.2" text-anchor="middle">0.36</text>
<rect x="201.42" y="450.56" width="19.62" height="19.58" fill="#bd555d"/>
<text x="211.23" y="462.35" font-size="5.6" fill="#ffffff" stroke="#ffffff" stroke-width="0.2" text-anchor="middle">0.81</text>
<rect x="221.04" y="450.56" width="19.62" height="19.58" fill="#ae2d37"/>
<text x="230.85" y="462.35" font-size="5.6" fill="#ffffff" stroke="#ffffff" stroke-width="0.2" text-anchor="middle">1</text>
<rect x="240.66" y="450.56" width="19.62" height="19.58" fill="#d49095"/>
<text x="250.47" y="462.35" font-size="5.6" fill="#ffffff" stroke="#ffffff" stroke-width="0.2" text-anchor="middle">0.53</text>
<rect x="260.28" y="450.56" width="19.62" height="19.58" fill="#d38e93"/>
<text x="270.09" y="462.35" font-size="5.6" fill="#ffffff" stroke="#ffffff" stroke-width="0.2" text-anchor="middle">0.54</text>
<rect x="122.94" y="470.14" width="19.62" height="19.58" fill="#e3b8bb"/>
<text x="132.75" y="481.93" font-size="5.6" fill="#333333" stroke="#333333" stroke-width="0.2" text-anchor="middle">0.34</text>
<rect x="142.56" y="470.14" width="19.62" height="19.58" fill="#d49095"/>
<text x="152.37" y="481.93" font-size="5.6" fill="#ffffff" stroke="#ffffff" stroke-width="0.2" text-anchor="middle">0.53</text>
<rect x="162.18" y="470.14" width="19.62" height="19.58" fill="#e8c4c7"/>
<text x="171.99" y="481.93" font-size="5.6" fill="#333333" stroke="#333333" stroke-width="0.2" text-anchor="middle">0.28</text>
<rect x="181.80" y="470.14" width="19.62" height="19.58" fill="#d59297"/>
<text x="191.61" y="481.93" font-size="5.6" fill="#ffffff" stroke="#ffffff" stroke-width="0.2" text-anchor="middle">0.52</text>
<rect x="201.42" y="470.14" width="19.62" height="19.58" fill="#d59297"/>
<text x="211.23" y="481.93" font-size="5.6" fill="#ffffff" stroke="#ffffff" stroke-width="0.2" text-anchor="middle">0.52</text>
<rect x="221.04" y="470.14" width="19.62" height="19.58" fill="#d49095"/>
<text x="230.85" y="481.93" font-size="5.6" fill="#ffffff" stroke="#ffffff" stroke-width="0.2" text-anchor="middle">0.53</text>
<rect x="240.66" y="470.14" width="19.62" height="19.58" fill="#ae2d37"/>
<text x="250.47" y="481.93" font-size="5.6" fill="#ffffff" stroke="#ffffff" stroke-width="0.2" text-anchor="middle">1</text>
<rect x="260.28" y="470.14" width="19.62" height="19.58" fill="#c15d65"/>
<text x="270.09" y="481.93" font-size="5.6" fill="#ffffff" stroke="#ffffff" stroke-width="0.2" text-anchor="middle">0.77</text>
<rect x="142.56" y="489.72" width="19.62" height="19.58" fill="#e4babd"/>
<text x="152.37" y="501.51" font-size="5.6" fill="#333333" stroke="#333333" stroke-width="0.2" text-anchor="middle">0.33</text>
<rect x="181.80" y="489.72" width="19.62" height="19.58" fill="#e3b8bb"/>
<text x="191.61" y="501.51" font-size="5.6" fill="#333333" stroke="#333333" stroke-width="0.2" text-anchor="middle">0.34</text>
<rect x="201.42" y="489.72" width="19.62" height="19.58" fill="#e5bcbf"/>
<text x="211.23" y="501.51" font-size="5.6" fill="#333333" stroke="#333333" stroke-width="0.2" text-anchor="middle">0.32</text>
<rect x="221.04" y="489.72" width="19.62" height="19.58" fill="#d38e93"/>
<text x="230.85" y="501.51" font-size="5.6" fill="#ffffff" stroke="#ffffff" stroke-width="0.2" text-anchor="middle">0.54</text>
<rect x="240.66" y="489.72" width="19.62" height="19.58" fill="#c15d65"/>
<text x="250.47" y="501.51" font-size="5.6" fill="#ffffff" stroke="#ffffff" stroke-width="0.2" text-anchor="middle">0.77</text>
<rect x="260.28" y="489.72" width="19.62" height="19.58" fill="#ae2d37"/>
<text x="270.09" y="501.51" font-size="5.6" fill="#ffffff" stroke="#ffffff" stroke-width="0.2" text-anchor="middle">1</text>
<line x1="83.70" y1="313.50" x2="279.90" y2="313.50" stroke="#222" stroke-width="0.8"/>
<line x1="83.70" y1="313.50" x2="83.70" y2="509.30" stroke="#222" stroke-width="0.8"/>
<line x1="83.70" y1="333.08" x2="279.90" y2="333.08" stroke="#222" stroke-width="0.8"/>
<line x1="103.32" y1="313.50" x2="103.32" y2="509.30" stroke="#222" stroke-width="0.8"/>
<line x1="83.70" y1="352.66" x2="279.90" y2="352.66" stroke="#222" stroke-width="0.8"/>
<line x1="122.94" y1="313.50" x2="122.94" y2="509.30" stroke="#222" stroke-width="0.8"/>
<line x1="83.70" y1="372.24" x2="279.90" y2="372.24" stroke="#222" stroke-width="0.8"/>
<line x1="142.56" y1="313.50" x2="142.56" y2="509.30" stroke="#222" stroke-width="0.8"/>
<line x1="83.70" y1="391.82" x2="279.90" y2="391.82" stroke="#222" stroke-width="0.8"/>
<line x1="162.18" y1="313.50" x2="162.18" y2="509.30" stroke="#222" stroke-width="0.8"/>
<line x1="83.70" y1="411.40" x2="279.90" y2="411.40" stroke="#222" stroke-width="0.8"/>
<line x1="181.80" y1="313.50" x2="181.80" y2="509.30" stroke="#222" stroke-width="0.8"/>
<line x1="83.70" y1="430.98" x2="279.90" y2="430.98" stroke="#222" stroke-width="0.8"/>
<line x1="201.42" y1="313.50" x2="201.42" y2="509.30" stroke="#222" stroke-width="0.8"/>
<line x1="83.70" y1="450.56" x2="279.90" y2="450.56" stroke="#222" stroke-width="0.8"/>
<line x1="221.04" y1="313.50" x2="221.04" y2="509.30" stroke="#222" stroke-width="0.8"/>
<line x1="83.70" y1="470.14" x2="279.90" y2="470.14" stroke="#222" stroke-width="0.8"/>
<line x1="240.66" y1="313.50" x2="240.66" y2="509.30" stroke="#222" stroke-width="0.8"/>
<line x1="83.70" y1="489.72" x2="279.90" y2="489.72" stroke="#222" stroke-width="0.8"/>
<line x1="260.28" y1="313.50" x2="260.28" y2="509.30" stroke="#222" stroke-width="0.8"/>
<line x1="83.70" y1="509.30" x2="279.90" y2="509.30" stroke="#222" stroke-width="0.8"/>
<line x1="279.90" y1="313.50" x2="279.90" y2="509.30" stroke="#222" stroke-width="0.8"/>
<line x1="279.90" y1="323.29" x2="281.90" y2="323.29" stroke="#555" stroke-width="0.7"/>
<text x="283.80" y="326.09" font-size="7.8" fill="#333" stroke="#333" stroke-width="0.2" text-anchor="start">Stromal B cells</text>
<line x1="279.90" y1="342.87" x2="281.90" y2="342.87" stroke="#555" stroke-width="0.7"/>
<text x="283.80" y="345.67" font-size="7.8" fill="#333" stroke="#333" stroke-width="0.2" text-anchor="start">Tumor B cells</text>
<line x1="279.90" y1="362.45" x2="281.90" y2="362.45" stroke="#555" stroke-width="0.7"/>
<text x="283.80" y="365.25" font-size="7.8" fill="#333" stroke="#333" stroke-width="0.2" text-anchor="start">Stromal Treg cells</text>
<line x1="279.90" y1="382.03" x2="281.90" y2="382.03" stroke="#555" stroke-width="0.7"/>
<text x="283.80" y="384.83" font-size="7.8" fill="#333" stroke="#333" stroke-width="0.2" text-anchor="start">Tumor Treg cells</text>
<line x1="279.90" y1="401.61" x2="281.90" y2="401.61" stroke="#555" stroke-width="0.7"/>
<text x="283.80" y="404.41" font-size="7.8" fill="#333" stroke="#333" stroke-width="0.2" text-anchor="start">Stromal Macrophages</text>
<line x1="279.90" y1="421.19" x2="281.90" y2="421.19" stroke="#555" stroke-width="0.7"/>
<text x="283.80" y="423.99" font-size="7.8" fill="#333" stroke="#333" stroke-width="0.2" text-anchor="start">Tumor Macrophages</text>
<line x1="279.90" y1="440.77" x2="281.90" y2="440.77" stroke="#555" stroke-width="0.7"/>
<text x="283.80" y="443.57" font-size="7.8" fill="#333" stroke="#333" stroke-width="0.2" text-anchor="start">Stromal CD4 T cells</text>
<line x1="279.90" y1="460.35" x2="281.90" y2="460.35" stroke="#555" stroke-width="0.7"/>
<text x="283.80" y="463.15" font-size="7.8" fill="#333" stroke="#333" stroke-width="0.2" text-anchor="start">Stromal CD8 T cells</text>
<line x1="279.90" y1="479.93" x2="281.90" y2="479.93" stroke="#555" stroke-width="0.7"/>
<text x="283.80" y="482.73" font-size="7.8" fill="#333" stroke="#333" stroke-width="0.2" text-anchor="start">Tumor CD4 T cells</text>
<line x1="279.90" y1="499.51" x2="281.90" y2="499.51" stroke="#555" stroke-width="0.7"/>
<text x="283.80" y="502.31" font-size="7.8" fill="#333" stroke="#333" stroke-width="0.2" text-anchor="start">Tumor CD8 T cells</text>
<path d="M83.70 323.29H73.30V342.87H83.70" stroke="#777" stroke-width="0.6" fill="none"/>
<path d="M83.70 362.45H77.60V382.03H83.70" stroke="#777" stroke-width="0.6" fill="none"/>
<path d="M83.70 401.61H77.60V421.19H83.70" stroke="#777" stroke-width="0.6" fill="none"/>
<path d="M83.70 440.77H77.60V460.35H83.70" stroke="#777" stroke-width="0.6" fill="none"/>
<path d="M83.70 479.93H76.70V499.51H83.70" stroke="#777" stroke-width="0.6" fill="none"/>
<path d="M77.60 372.20H74.30V411.40H77.60" stroke="#9a9a9a" stroke-width="0.6" fill="none"/>
<path d="M77.60 450.60H71.50V489.70H76.70" stroke="#9a9a9a" stroke-width="0.6" fill="none"/>
<path d="M74.30 391.80H69.20V470.20H71.50" stroke="#9a9a9a" stroke-width="0.6" fill="none"/>
<path d="M73.30 333.10H62.70V431.00H69.20" stroke="#9a9a9a" stroke-width="0.6" fill="none"/>
<path d="M93.51 313.50V303.20H113.13V313.50" stroke="#888" stroke-width="0.6" fill="none"/>
<path d="M132.75 313.50V309.50H152.37V313.50" stroke="#9a9a9a" stroke-width="0.6" fill="none"/>
<path d="M171.99 313.50V307.50H191.61V313.50" stroke="#9a9a9a" stroke-width="0.6" fill="none"/>
<path d="M211.23 313.50V309.50H230.85V313.50" stroke="#9a9a9a" stroke-width="0.6" fill="none"/>
<path d="M250.47 313.50V307.00H270.09V313.50" stroke="#9a9a9a" stroke-width="0.6" fill="none"/>
<path d="M142.56 309.50V304.80H181.80V307.50" stroke="#9a9a9a" stroke-width="0.6" fill="none"/>
<path d="M221.04 309.50V304.50H260.28V307.00" stroke="#9a9a9a" stroke-width="0.6" fill="none"/>
<path d="M163.00 304.80V298.80H240.00V304.50" stroke="#9a9a9a" stroke-width="0.6" fill="none"/>
<path d="M103.40 303.20V292.70H201.50V298.80" stroke="#9a9a9a" stroke-width="0.6" fill="none"/>
<rect x="89.10" y="294.50" width="29.90" height="17.50" fill="none" stroke="#5dbb9f" stroke-width="1.3" stroke-dasharray="1.3 1.3"/>
<text x="103.80" y="307.00" font-size="12" fill="#7cc8b0" stroke="#7cc8b0" stroke-width="0.2" text-anchor="middle">1</text>
<rect x="129.00" y="299.70" width="71.50" height="12.90" fill="none" stroke="#f4a473" stroke-width="1.3" stroke-dasharray="1.3 1.3"/>
<text x="165.00" y="311.50" font-size="12" fill="#f6b890" stroke="#f6b890" stroke-width="0.2" text-anchor="middle">2</text>
<rect x="208.00" y="299.70" width="72.00" height="12.90" fill="none" stroke="#f29ad8" stroke-width="1.3" stroke-dasharray="1.3 1.3"/>
<text x="240.00" y="311.50" font-size="12" fill="#f4b0e0" stroke="#f4b0e0" stroke-width="0.2" text-anchor="middle">3</text>
<defs><linearGradient id="gC" x1="0" y1="0" x2="0" y2="1"><stop offset="0" stop-color="#b2343c"/><stop offset="0.5" stop-color="#f8f4f4"/><stop offset="1" stop-color="#3a6fbf"/></linearGradient></defs>
<rect x="41.40" y="320.00" width="8.30" height="22.20" fill="url(#gC)"/>
<line x1="49.70" y1="320.30" x2="51.20" y2="320.30" stroke="#444" stroke-width="0.5"/>
<text x="52.00" y="322.10" font-size="5.2" fill="#333" text-anchor="start">1</text>
<line x1="49.70" y1="331.30" x2="51.20" y2="331.30" stroke="#444" stroke-width="0.5"/>
<text x="52.00" y="333.10" font-size="5.2" fill="#333" text-anchor="start">0</text>
<line x1="49.70" y1="342.30" x2="51.20" y2="342.30" stroke="#444" stroke-width="0.5"/>
<text x="52.00" y="344.10" font-size="5.2" fill="#333" text-anchor="start">−1</text>
<path fill="#85ffb1" shape-rendering="crispEdges" d="M412.4 310.9h2.5v2.3h-2.5zM419.7 310.9h2.5v2.3h-2.5zM444.2 310.9h2.5v2.3h-2.5zM449.0 310.9h2.5v2.3h-2.5zM453.9 310.9h4.9v2.3h-4.9zM463.7 310.9h7.4v2.3h-7.4zM473.5 310.9h2.5v2.3h-2.5zM483.2 310.9h2.5v2.3h-2.5zM493.0 310.9h2.5v2.3h-2.5zM422.2 313.2h2.5v2.3h-2.5zM449.0 313.2h2.5v2.3h-2.5zM429.5 315.4h2.5v2.3h-2.5zM419.7 317.7h7.4v2.3h-7.4zM444.2 317.7h7.4v2.3h-7.4zM458.8 317.7h2.5v2.3h-2.5zM468.6 317.7h2.5v2.3h-2.5zM419.7 320.0h2.5v2.3h-2.5zM424.6 320.0h2.5v2.3h-2.5zM449.0 320.0h2.5v2.3h-2.5zM453.9 320.0h2.5v2.3h-2.5zM468.6 320.0h2.5v2.3h-2.5zM475.9 320.0h4.9v2.3h-4.9zM483.2 320.0h2.5v2.3h-2.5zM493.0 320.0h2.5v2.3h-2.5zM422.2 322.3h2.5v2.3h-2.5zM446.6 322.3h2.5v2.3h-2.5zM456.4 322.3h4.9v2.3h-4.9zM480.8 322.3h2.5v2.3h-2.5zM475.9 326.8h2.5v2.3h-2.5zM488.1 326.8h2.5v2.3h-2.5zM451.5 331.4h2.5v2.3h-2.5zM488.1 331.4h2.5v2.3h-2.5zM444.2 333.6h2.5v2.3h-2.5zM453.9 333.6h2.5v2.3h-2.5zM461.3 333.6h7.4v2.3h-7.4zM471.0 333.6h7.4v2.3h-7.4zM483.2 333.6h4.9v2.3h-4.9zM493.0 333.6h2.5v2.3h-2.5zM615.2 333.6h2.5v2.3h-2.5zM444.2 335.9h2.5v2.3h-2.5zM451.5 335.9h2.5v2.3h-2.5zM471.0 335.9h4.9v2.3h-4.9zM478.4 335.9h2.5v2.3h-2.5zM483.2 335.9h4.9v2.3h-4.9zM444.2 338.2h2.5v2.3h-2.5zM449.0 338.2h2.5v2.3h-2.5zM456.4 338.2h19.6v2.3h-19.6zM478.4 338.2h2.5v2.3h-2.5zM493.0 338.2h2.5v2.3h-2.5zM615.2 338.2h2.5v2.3h-2.5zM412.4 340.5h2.5v2.3h-2.5zM422.2 340.5h2.5v2.3h-2.5zM424.6 342.8h2.5v2.3h-2.5zM436.8 342.8h2.5v2.3h-2.5zM424.6 345.0h2.5v2.3h-2.5zM441.7 345.0h2.5v2.3h-2.5zM446.6 345.0h2.5v2.3h-2.5zM480.8 345.0h2.5v2.3h-2.5zM429.5 347.3h2.5v2.3h-2.5zM436.8 347.3h4.9v2.3h-4.9zM419.7 349.6h4.9v2.3h-4.9zM441.7 349.6h2.5v2.3h-2.5zM419.7 351.8h2.5v2.3h-2.5zM424.6 351.8h2.5v2.3h-2.5zM441.7 351.8h2.5v2.3h-2.5zM422.2 356.4h2.5v2.3h-2.5zM436.8 356.4h7.4v2.3h-7.4zM436.8 358.7h2.5v2.3h-2.5zM441.7 358.7h2.5v2.3h-2.5zM419.7 360.9h7.4v2.3h-7.4zM441.7 360.9h2.5v2.3h-2.5zM419.7 363.2h4.9v2.3h-4.9zM436.8 363.2h2.5v2.3h-2.5zM441.7 363.2h2.5v2.3h-2.5zM412.4 365.5h2.5v2.3h-2.5zM424.6 365.5h2.5v2.3h-2.5zM436.8 365.5h7.4v2.3h-7.4zM422.2 367.8h2.5v2.3h-2.5zM439.3 367.8h2.5v2.3h-2.5zM439.3 370.0h2.5v2.3h-2.5zM422.2 372.3h2.5v2.3h-2.5zM436.8 372.3h2.5v2.3h-2.5zM412.4 374.6h4.9v2.3h-4.9zM424.6 374.6h2.5v2.3h-2.5zM434.4 376.9h2.5v2.3h-2.5zM441.7 376.9h2.5v2.3h-2.5zM429.5 379.1h2.5v2.3h-2.5zM436.8 379.1h4.9v2.3h-4.9zM427.1 381.4h4.9v2.3h-4.9zM414.8 383.7h2.5v2.3h-2.5zM412.4 386.0h2.5v2.3h-2.5zM422.2 386.0h2.5v2.3h-2.5zM436.8 386.0h2.5v2.3h-2.5zM441.7 386.0h2.5v2.3h-2.5zM522.3 392.8h2.5v2.3h-2.5zM532.1 392.8h2.5v2.3h-2.5zM529.7 395.1h2.5v2.3h-2.5zM534.5 397.4h2.5v2.3h-2.5zM539.4 397.4h2.5v2.3h-2.5zM529.7 401.9h2.5v2.3h-2.5zM539.4 401.9h2.5v2.3h-2.5zM524.8 404.2h2.5v2.3h-2.5zM529.7 404.2h2.5v2.3h-2.5zM529.7 406.4h2.5v2.3h-2.5zM529.7 408.7h2.5v2.3h-2.5zM529.7 411.0h2.5v2.3h-2.5zM500.3 413.3h2.5v2.3h-2.5zM549.2 413.3h4.9v2.3h-4.9zM559.0 413.3h2.5v2.3h-2.5zM566.3 413.3h2.5v2.3h-2.5zM571.2 413.3h2.5v2.3h-2.5zM576.1 413.3h4.9v2.3h-4.9zM554.1 415.6h4.9v2.3h-4.9zM566.3 415.6h2.5v2.3h-2.5zM573.6 415.6h2.5v2.3h-2.5zM578.5 415.6h2.5v2.3h-2.5zM551.6 417.8h4.9v2.3h-4.9zM559.0 417.8h2.5v2.3h-2.5zM563.9 417.8h4.9v2.3h-4.9zM571.2 417.8h4.9v2.3h-4.9zM495.5 420.1h4.9v2.3h-4.9zM502.8 420.1h4.9v2.3h-4.9zM512.6 420.1h2.5v2.3h-2.5zM517.4 420.1h4.9v2.3h-4.9zM500.3 422.4h2.5v2.3h-2.5zM551.6 422.4h4.9v2.3h-4.9zM559.0 422.4h4.9v2.3h-4.9zM566.3 422.4h9.8v2.3h-9.8zM578.5 422.4h2.5v2.3h-2.5zM497.9 424.6h2.5v2.3h-2.5zM505.2 424.6h2.5v2.3h-2.5zM559.0 424.6h2.5v2.3h-2.5zM568.7 424.6h2.5v2.3h-2.5zM556.5 426.9h2.5v2.3h-2.5zM573.6 426.9h4.9v2.3h-4.9zM497.9 429.2h2.5v2.3h-2.5zM505.2 429.2h2.5v2.3h-2.5zM515.0 429.2h4.9v2.3h-4.9zM556.5 429.2h2.5v2.3h-2.5zM588.3 433.8h4.9v2.3h-4.9zM598.1 433.8h2.5v2.3h-2.5zM532.1 438.3h2.5v2.3h-2.5zM522.3 440.6h2.5v2.3h-2.5zM532.1 442.9h2.5v2.3h-2.5zM522.3 445.1h4.9v2.3h-4.9zM537.0 445.1h2.5v2.3h-2.5zM527.2 447.4h2.5v2.3h-2.5zM532.1 447.4h2.5v2.3h-2.5zM537.0 447.4h2.5v2.3h-2.5zM527.2 449.7h2.5v2.3h-2.5zM532.1 449.7h2.5v2.3h-2.5zM522.3 451.9h2.5v2.3h-2.5zM532.1 451.9h2.5v2.3h-2.5zM524.8 454.2h2.5v2.3h-2.5zM532.1 454.2h2.5v2.3h-2.5zM522.3 456.5h2.5v2.3h-2.5zM522.3 458.8h2.5v2.3h-2.5zM527.2 458.8h2.5v2.3h-2.5zM537.0 458.8h2.5v2.3h-2.5zM522.3 461.1h2.5v2.3h-2.5zM527.2 461.1h2.5v2.3h-2.5zM532.1 461.1h2.5v2.3h-2.5zM527.2 463.3h2.5v2.3h-2.5zM532.1 463.3h2.5v2.3h-2.5zM527.2 465.6h2.5v2.3h-2.5zM532.1 465.6h4.9v2.3h-4.9zM610.3 467.9h4.9v2.3h-4.9zM610.3 470.1h4.9v2.3h-4.9zM544.3 477.0h2.5v2.3h-2.5zM544.3 479.2h2.5v2.3h-2.5zM544.3 481.5h4.9v2.3h-4.9zM544.3 483.8h2.5v2.3h-2.5zM441.7 492.9h2.5v2.3h-2.5zM583.4 495.2h2.5v2.3h-2.5zM585.8 497.5h2.5v2.3h-2.5z"/>
<path fill="#94fda9" shape-rendering="crispEdges" d="M414.8 310.9h2.5v2.3h-2.5zM422.2 310.9h4.9v2.3h-4.9zM451.5 310.9h2.5v2.3h-2.5zM471.0 310.9h2.5v2.3h-2.5zM475.9 310.9h4.9v2.3h-4.9zM485.7 310.9h2.5v2.3h-2.5zM412.4 313.2h2.5v2.3h-2.5zM419.7 313.2h2.5v2.3h-2.5zM444.2 313.2h4.9v2.3h-4.9zM456.4 313.2h7.4v2.3h-7.4zM466.1 313.2h4.9v2.3h-4.9zM485.7 313.2h2.5v2.3h-2.5zM490.6 313.2h4.9v2.3h-4.9zM412.4 315.4h2.5v2.3h-2.5zM422.2 315.4h2.5v2.3h-2.5zM444.2 315.4h2.5v2.3h-2.5zM449.0 315.4h2.5v2.3h-2.5zM480.8 315.4h2.5v2.3h-2.5zM453.9 317.7h2.5v2.3h-2.5zM461.3 317.7h2.5v2.3h-2.5zM466.1 317.7h2.5v2.3h-2.5zM471.0 317.7h4.9v2.3h-4.9zM478.4 317.7h2.5v2.3h-2.5zM483.2 317.7h4.9v2.3h-4.9zM493.0 317.7h2.5v2.3h-2.5zM414.8 320.0h4.9v2.3h-4.9zM444.2 320.0h2.5v2.3h-2.5zM451.5 320.0h2.5v2.3h-2.5zM456.4 320.0h2.5v2.3h-2.5zM461.3 320.0h4.9v2.3h-4.9zM471.0 320.0h4.9v2.3h-4.9zM412.4 322.3h2.5v2.3h-2.5zM419.7 322.3h2.5v2.3h-2.5zM424.6 322.3h2.5v2.3h-2.5zM449.0 322.3h2.5v2.3h-2.5zM453.9 322.3h2.5v2.3h-2.5zM466.1 322.3h4.9v2.3h-4.9zM478.4 322.3h2.5v2.3h-2.5zM451.5 333.6h2.5v2.3h-2.5zM488.1 333.6h2.5v2.3h-2.5zM475.9 335.9h2.5v2.3h-2.5zM488.1 335.9h2.5v2.3h-2.5zM475.9 338.2h2.5v2.3h-2.5zM483.2 338.2h4.9v2.3h-4.9zM414.8 340.5h2.5v2.3h-2.5zM419.7 340.5h2.5v2.3h-2.5zM424.6 340.5h2.5v2.3h-2.5zM436.8 340.5h2.5v2.3h-2.5zM441.7 340.5h2.5v2.3h-2.5zM449.0 340.5h2.5v2.3h-2.5zM414.8 342.8h4.9v2.3h-4.9zM446.6 342.8h4.9v2.3h-4.9zM456.4 342.8h2.5v2.3h-2.5zM466.1 342.8h2.5v2.3h-2.5zM480.8 342.8h2.5v2.3h-2.5zM490.6 342.8h2.5v2.3h-2.5zM414.8 345.0h4.9v2.3h-4.9zM449.0 345.0h2.5v2.3h-2.5zM412.4 347.3h2.5v2.3h-2.5zM422.2 347.3h2.5v2.3h-2.5zM434.4 347.3h2.5v2.3h-2.5zM412.4 349.6h2.5v2.3h-2.5zM424.6 349.6h2.5v2.3h-2.5zM417.3 351.8h2.5v2.3h-2.5zM414.8 354.1h2.5v2.3h-2.5zM424.6 354.1h2.5v2.3h-2.5zM449.0 354.1h2.5v2.3h-2.5zM412.4 356.4h2.5v2.3h-2.5zM417.3 356.4h4.9v2.3h-4.9zM424.6 356.4h2.5v2.3h-2.5zM412.4 358.7h4.9v2.3h-4.9zM419.7 358.7h4.9v2.3h-4.9zM414.8 360.9h4.9v2.3h-4.9zM412.4 363.2h4.9v2.3h-4.9zM414.8 365.5h2.5v2.3h-2.5zM419.7 365.5h4.9v2.3h-4.9zM412.4 367.8h2.5v2.3h-2.5zM441.7 367.8h2.5v2.3h-2.5zM412.4 370.0h2.5v2.3h-2.5zM419.7 370.0h2.5v2.3h-2.5zM424.6 370.0h2.5v2.3h-2.5zM436.8 370.0h2.5v2.3h-2.5zM441.7 370.0h2.5v2.3h-2.5zM412.4 372.3h4.9v2.3h-4.9zM419.7 372.3h2.5v2.3h-2.5zM424.6 372.3h2.5v2.3h-2.5zM441.7 372.3h2.5v2.3h-2.5zM417.3 374.6h2.5v2.3h-2.5zM449.0 374.6h2.5v2.3h-2.5zM412.4 376.9h2.5v2.3h-2.5zM419.7 376.9h4.9v2.3h-4.9zM439.3 376.9h2.5v2.3h-2.5zM412.4 379.1h2.5v2.3h-2.5zM422.2 379.1h4.9v2.3h-4.9zM441.7 379.1h2.5v2.3h-2.5zM441.7 381.4h2.5v2.3h-2.5zM417.3 383.7h2.5v2.3h-2.5zM424.6 383.7h2.5v2.3h-2.5zM490.6 383.7h2.5v2.3h-2.5zM414.8 386.0h7.4v2.3h-7.4zM424.6 386.0h2.5v2.3h-2.5zM524.8 392.8h4.9v2.3h-4.9zM534.5 392.8h2.5v2.3h-2.5zM529.7 397.4h2.5v2.3h-2.5zM507.7 399.6h2.5v2.3h-2.5zM527.2 413.3h2.5v2.3h-2.5zM568.7 413.3h2.5v2.3h-2.5zM500.3 415.6h2.5v2.3h-2.5zM549.2 415.6h4.9v2.3h-4.9zM559.0 415.6h7.4v2.3h-7.4zM571.2 415.6h2.5v2.3h-2.5zM576.1 415.6h2.5v2.3h-2.5zM500.3 417.8h2.5v2.3h-2.5zM522.3 417.8h2.5v2.3h-2.5zM549.2 417.8h2.5v2.3h-2.5zM561.4 417.8h2.5v2.3h-2.5zM568.7 417.8h2.5v2.3h-2.5zM576.1 417.8h4.9v2.3h-4.9zM556.5 420.1h2.5v2.3h-2.5zM573.6 420.1h2.5v2.3h-2.5zM549.2 422.4h2.5v2.3h-2.5zM576.1 422.4h2.5v2.3h-2.5zM500.3 424.6h2.5v2.3h-2.5zM517.4 424.6h2.5v2.3h-2.5zM549.2 424.6h2.5v2.3h-2.5zM554.1 424.6h4.9v2.3h-4.9zM561.4 424.6h2.5v2.3h-2.5zM566.3 424.6h2.5v2.3h-2.5zM573.6 424.6h2.5v2.3h-2.5zM578.5 424.6h2.5v2.3h-2.5zM500.3 426.9h2.5v2.3h-2.5zM549.2 426.9h7.4v2.3h-7.4zM559.0 426.9h4.9v2.3h-4.9zM566.3 426.9h7.4v2.3h-7.4zM578.5 426.9h2.5v2.3h-2.5zM500.3 429.2h2.5v2.3h-2.5zM551.6 429.2h4.9v2.3h-4.9zM559.0 429.2h2.5v2.3h-2.5zM566.3 429.2h2.5v2.3h-2.5zM573.6 429.2h4.9v2.3h-4.9zM576.1 431.5h2.5v2.3h-2.5zM593.2 433.8h2.5v2.3h-2.5zM522.3 438.3h7.4v2.3h-7.4zM537.0 438.3h2.5v2.3h-2.5zM527.2 440.6h2.5v2.3h-2.5zM532.1 440.6h7.4v2.3h-7.4zM524.8 442.9h2.5v2.3h-2.5zM537.0 442.9h2.5v2.3h-2.5zM534.5 445.1h2.5v2.3h-2.5zM539.4 445.1h2.5v2.3h-2.5zM522.3 447.4h4.9v2.3h-4.9zM534.5 447.4h2.5v2.3h-2.5zM534.5 449.7h4.9v2.3h-4.9zM527.2 451.9h2.5v2.3h-2.5zM534.5 454.2h2.5v2.3h-2.5zM539.4 454.2h2.5v2.3h-2.5zM524.8 456.5h2.5v2.3h-2.5zM532.1 456.5h2.5v2.3h-2.5zM537.0 456.5h4.9v2.3h-4.9zM524.8 458.8h2.5v2.3h-2.5zM532.1 458.8h4.9v2.3h-4.9zM539.4 458.8h2.5v2.3h-2.5zM524.8 461.1h2.5v2.3h-2.5zM534.5 461.1h7.4v2.3h-7.4zM524.8 463.3h2.5v2.3h-2.5zM534.5 463.3h7.4v2.3h-7.4zM524.8 465.6h2.5v2.3h-2.5zM537.0 465.6h4.9v2.3h-4.9zM605.4 470.1h2.5v2.3h-2.5zM610.3 472.4h4.9v2.3h-4.9zM612.7 474.7h2.5v2.3h-2.5zM612.7 477.0h2.5v2.3h-2.5zM612.7 479.2h2.5v2.3h-2.5zM581.0 490.6h2.5v2.3h-2.5zM581.0 495.2h2.5v2.3h-2.5zM585.8 495.2h2.5v2.3h-2.5zM593.2 495.2h4.9v2.3h-4.9zM581.0 497.5h2.5v2.3h-2.5zM588.3 497.5h2.5v2.3h-2.5zM593.2 497.5h2.5v2.3h-2.5zM598.1 497.5h2.5v2.3h-2.5z"/>
<path fill="#a3f99f" shape-rendering="crispEdges" d="M417.3 310.9h2.5v2.3h-2.5zM414.8 313.2h4.9v2.3h-4.9zM424.6 313.2h2.5v2.3h-2.5zM453.9 313.2h2.5v2.3h-2.5zM463.7 313.2h2.5v2.3h-2.5zM471.0 313.2h2.5v2.3h-2.5zM478.4 313.2h2.5v2.3h-2.5zM483.2 313.2h2.5v2.3h-2.5zM419.7 315.4h2.5v2.3h-2.5zM424.6 315.4h2.5v2.3h-2.5zM446.6 315.4h2.5v2.3h-2.5zM453.9 315.4h9.8v2.3h-9.8zM466.1 315.4h4.9v2.3h-4.9zM473.5 315.4h2.5v2.3h-2.5zM483.2 315.4h2.5v2.3h-2.5zM490.6 315.4h4.9v2.3h-4.9zM414.8 317.7h4.9v2.3h-4.9zM451.5 317.7h2.5v2.3h-2.5zM463.7 317.7h2.5v2.3h-2.5zM475.9 317.7h2.5v2.3h-2.5zM488.1 317.7h2.5v2.3h-2.5zM485.7 320.0h4.9v2.3h-4.9zM414.8 322.3h2.5v2.3h-2.5zM444.2 322.3h2.5v2.3h-2.5zM451.5 322.3h2.5v2.3h-2.5zM461.3 322.3h4.9v2.3h-4.9zM471.0 322.3h4.9v2.3h-4.9zM483.2 322.3h4.9v2.3h-4.9zM493.0 322.3h2.5v2.3h-2.5zM451.5 338.2h2.5v2.3h-2.5zM488.1 338.2h2.5v2.3h-2.5zM417.3 340.5h2.5v2.3h-2.5zM480.8 340.5h2.5v2.3h-2.5zM490.6 340.5h2.5v2.3h-2.5zM444.2 342.8h2.5v2.3h-2.5zM458.8 342.8h2.5v2.3h-2.5zM493.0 342.8h2.5v2.3h-2.5zM458.8 345.0h4.9v2.3h-4.9zM478.4 345.0h2.5v2.3h-2.5zM490.6 345.0h2.5v2.3h-2.5zM424.6 347.3h2.5v2.3h-2.5zM441.7 347.3h2.5v2.3h-2.5zM414.8 349.6h4.9v2.3h-4.9zM414.8 351.8h2.5v2.3h-2.5zM446.6 351.8h2.5v2.3h-2.5zM417.3 354.1h2.5v2.3h-2.5zM490.6 354.1h2.5v2.3h-2.5zM414.8 356.4h2.5v2.3h-2.5zM449.0 356.4h2.5v2.3h-2.5zM417.3 358.7h2.5v2.3h-2.5zM424.6 358.7h2.5v2.3h-2.5zM449.0 358.7h2.5v2.3h-2.5zM449.0 360.9h2.5v2.3h-2.5zM417.3 363.2h2.5v2.3h-2.5zM424.6 363.2h2.5v2.3h-2.5zM446.6 363.2h2.5v2.3h-2.5zM417.3 365.5h2.5v2.3h-2.5zM449.0 365.5h2.5v2.3h-2.5zM419.7 367.8h2.5v2.3h-2.5zM424.6 367.8h2.5v2.3h-2.5zM414.8 370.0h2.5v2.3h-2.5zM422.2 370.0h2.5v2.3h-2.5zM444.2 374.6h4.9v2.3h-4.9zM490.6 374.6h2.5v2.3h-2.5zM424.6 376.9h2.5v2.3h-2.5zM414.8 379.1h2.5v2.3h-2.5zM419.7 379.1h2.5v2.3h-2.5zM412.4 381.4h2.5v2.3h-2.5zM419.7 381.4h4.9v2.3h-4.9zM436.8 381.4h4.9v2.3h-4.9zM446.6 383.7h4.9v2.3h-4.9zM456.4 383.7h4.9v2.3h-4.9zM480.8 383.7h2.5v2.3h-2.5zM449.0 386.0h2.5v2.3h-2.5zM490.6 386.0h2.5v2.3h-2.5zM510.1 388.2h2.5v2.3h-2.5zM495.5 390.5h2.5v2.3h-2.5zM537.0 392.8h4.9v2.3h-4.9zM495.5 399.6h2.5v2.3h-2.5zM515.0 399.6h2.5v2.3h-2.5zM522.3 413.3h2.5v2.3h-2.5zM532.1 413.3h2.5v2.3h-2.5zM563.9 413.3h2.5v2.3h-2.5zM568.7 415.6h2.5v2.3h-2.5zM527.2 417.8h2.5v2.3h-2.5zM532.1 417.8h2.5v2.3h-2.5zM537.0 417.8h2.5v2.3h-2.5zM500.3 420.1h2.5v2.3h-2.5zM551.6 420.1h4.9v2.3h-4.9zM561.4 420.1h2.5v2.3h-2.5zM566.3 420.1h2.5v2.3h-2.5zM571.2 420.1h2.5v2.3h-2.5zM576.1 420.1h4.9v2.3h-4.9zM527.2 422.4h2.5v2.3h-2.5zM532.1 422.4h2.5v2.3h-2.5zM563.9 422.4h2.5v2.3h-2.5zM551.6 424.6h2.5v2.3h-2.5zM571.2 424.6h2.5v2.3h-2.5zM576.1 424.6h2.5v2.3h-2.5zM522.3 426.9h2.5v2.3h-2.5zM563.9 426.9h2.5v2.3h-2.5zM563.9 429.2h2.5v2.3h-2.5zM568.7 429.2h4.9v2.3h-4.9zM578.5 429.2h2.5v2.3h-2.5zM556.5 431.5h2.5v2.3h-2.5zM561.4 431.5h2.5v2.3h-2.5zM566.3 431.5h2.5v2.3h-2.5zM578.5 431.5h2.5v2.3h-2.5zM546.8 436.0h2.5v2.3h-2.5zM556.5 436.0h2.5v2.3h-2.5zM566.3 436.0h2.5v2.3h-2.5zM534.5 438.3h2.5v2.3h-2.5zM524.8 440.6h2.5v2.3h-2.5zM539.4 440.6h2.5v2.3h-2.5zM529.7 442.9h2.5v2.3h-2.5zM534.5 442.9h2.5v2.3h-2.5zM539.4 442.9h4.9v2.3h-4.9zM529.7 445.1h2.5v2.3h-2.5zM541.9 445.1h2.5v2.3h-2.5zM546.8 445.1h2.5v2.3h-2.5zM539.4 447.4h2.5v2.3h-2.5zM524.8 449.7h2.5v2.3h-2.5zM529.7 449.7h2.5v2.3h-2.5zM539.4 449.7h2.5v2.3h-2.5zM546.8 449.7h2.5v2.3h-2.5zM524.8 451.9h2.5v2.3h-2.5zM537.0 451.9h2.5v2.3h-2.5zM529.7 454.2h2.5v2.3h-2.5zM541.9 454.2h2.5v2.3h-2.5zM534.5 456.5h2.5v2.3h-2.5zM529.7 458.8h2.5v2.3h-2.5zM541.9 461.1h2.5v2.3h-2.5zM529.7 463.3h2.5v2.3h-2.5zM541.9 463.3h2.5v2.3h-2.5zM529.7 465.6h2.5v2.3h-2.5zM605.4 467.9h4.9v2.3h-4.9zM615.2 467.9h2.5v2.3h-2.5zM607.8 470.1h2.5v2.3h-2.5zM615.2 470.1h2.5v2.3h-2.5zM605.4 472.4h2.5v2.3h-2.5zM615.2 472.4h2.5v2.3h-2.5zM610.3 474.7h2.5v2.3h-2.5zM610.3 479.2h2.5v2.3h-2.5zM610.3 481.5h4.9v2.3h-4.9zM605.4 483.8h2.5v2.3h-2.5zM610.3 483.8h4.9v2.3h-4.9zM583.4 490.6h7.4v2.3h-7.4zM581.0 492.9h7.4v2.3h-7.4zM588.3 495.2h4.9v2.3h-4.9zM598.1 495.2h2.5v2.3h-2.5zM590.7 497.5h2.5v2.3h-2.5zM595.6 497.5h2.5v2.3h-2.5zM583.4 499.7h2.5v2.3h-2.5z"/>
<path fill="#57f7c9" shape-rendering="crispEdges" d="M427.1 310.9h2.5v2.3h-2.5zM431.9 313.2h2.5v2.3h-2.5zM431.9 315.4h2.5v2.3h-2.5zM427.1 317.7h2.5v2.3h-2.5zM427.1 320.0h2.5v2.3h-2.5zM431.9 322.3h2.5v2.3h-2.5zM412.4 324.5h2.5v2.3h-2.5zM422.2 324.5h4.9v2.3h-4.9zM449.0 324.5h2.5v2.3h-2.5zM453.9 324.5h2.5v2.3h-2.5zM461.3 324.5h2.5v2.3h-2.5zM466.1 324.5h4.9v2.3h-4.9zM412.4 326.8h2.5v2.3h-2.5zM422.2 326.8h2.5v2.3h-2.5zM446.6 326.8h4.9v2.3h-4.9zM453.9 326.8h2.5v2.3h-2.5zM466.1 326.8h2.5v2.3h-2.5zM480.8 326.8h2.5v2.3h-2.5zM417.3 329.1h2.5v2.3h-2.5zM451.5 329.1h2.5v2.3h-2.5zM461.3 329.1h4.9v2.3h-4.9zM471.0 329.1h7.4v2.3h-7.4zM483.2 329.1h4.9v2.3h-4.9zM446.6 331.4h2.5v2.3h-2.5zM453.9 331.4h2.5v2.3h-2.5zM458.8 331.4h2.5v2.3h-2.5zM463.7 331.4h7.4v2.3h-7.4zM478.4 331.4h2.5v2.3h-2.5zM490.6 331.4h2.5v2.3h-2.5zM605.4 331.4h2.5v2.3h-2.5zM615.2 331.4h2.5v2.3h-2.5zM490.6 333.6h2.5v2.3h-2.5zM610.3 333.6h4.9v2.3h-4.9zM610.3 335.9h2.5v2.3h-2.5zM612.7 338.2h2.5v2.3h-2.5zM429.5 340.5h2.5v2.3h-2.5zM427.1 342.8h4.9v2.3h-4.9zM434.4 342.8h2.5v2.3h-2.5zM429.5 345.0h2.5v2.3h-2.5zM431.9 347.3h2.5v2.3h-2.5zM431.9 349.6h2.5v2.3h-2.5zM434.4 351.8h2.5v2.3h-2.5zM429.5 354.1h2.5v2.3h-2.5zM434.4 354.1h2.5v2.3h-2.5zM431.9 356.4h2.5v2.3h-2.5zM427.1 358.7h2.5v2.3h-2.5zM431.9 358.7h2.5v2.3h-2.5zM427.1 360.9h2.5v2.3h-2.5zM431.9 367.8h2.5v2.3h-2.5zM427.1 372.3h2.5v2.3h-2.5zM431.9 376.9h2.5v2.3h-2.5zM427.1 379.1h2.5v2.3h-2.5zM431.9 379.1h2.5v2.3h-2.5zM429.5 383.7h2.5v2.3h-2.5zM427.1 386.0h7.4v2.3h-7.4zM522.3 388.2h2.5v2.3h-2.5zM527.2 388.2h2.5v2.3h-2.5zM532.1 388.2h2.5v2.3h-2.5zM537.0 388.2h2.5v2.3h-2.5zM527.2 390.5h2.5v2.3h-2.5zM527.2 395.1h2.5v2.3h-2.5zM527.2 399.6h2.5v2.3h-2.5zM537.0 399.6h2.5v2.3h-2.5zM527.2 401.9h2.5v2.3h-2.5zM537.0 401.9h2.5v2.3h-2.5zM527.2 406.4h2.5v2.3h-2.5zM532.1 406.4h2.5v2.3h-2.5zM522.3 408.7h2.5v2.3h-2.5zM532.1 411.0h2.5v2.3h-2.5zM495.5 413.3h2.5v2.3h-2.5zM502.8 413.3h2.5v2.3h-2.5zM507.7 413.3h4.9v2.3h-4.9zM515.0 413.3h4.9v2.3h-4.9zM495.5 415.6h2.5v2.3h-2.5zM507.7 415.6h2.5v2.3h-2.5zM495.5 417.8h4.9v2.3h-4.9zM507.7 417.8h4.9v2.3h-4.9zM519.9 417.8h2.5v2.3h-2.5zM497.9 422.4h2.5v2.3h-2.5zM507.7 422.4h2.5v2.3h-2.5zM507.7 426.9h4.9v2.3h-4.9zM581.0 431.5h2.5v2.3h-2.5zM585.8 431.5h2.5v2.3h-2.5zM600.5 433.8h2.5v2.3h-2.5zM610.3 433.8h4.9v2.3h-4.9zM581.0 436.0h2.5v2.3h-2.5zM605.4 436.0h4.9v2.3h-4.9zM541.9 467.9h2.5v2.3h-2.5zM546.8 467.9h2.5v2.3h-2.5zM541.9 472.4h2.5v2.3h-2.5zM546.8 472.4h2.5v2.3h-2.5zM546.8 486.1h2.5v2.3h-2.5zM590.7 486.1h2.5v2.3h-2.5zM590.7 488.4h2.5v2.3h-2.5zM615.2 488.4h2.5v2.3h-2.5zM434.4 490.6h2.5v2.3h-2.5zM541.9 490.6h7.4v2.3h-7.4zM541.9 492.9h2.5v2.3h-2.5zM602.9 492.9h2.5v2.3h-2.5zM436.8 495.2h4.9v2.3h-4.9zM436.8 497.5h4.9v2.3h-4.9zM544.3 497.5h2.5v2.3h-2.5zM434.4 499.7h2.5v2.3h-2.5zM541.9 499.7h7.4v2.3h-7.4z"/>
<path fill="#66fcc2" shape-rendering="crispEdges" d="M429.5 310.9h2.5v2.3h-2.5zM427.1 313.2h4.9v2.3h-4.9zM427.1 315.4h2.5v2.3h-2.5zM429.5 317.7h2.5v2.3h-2.5zM429.5 320.0h2.5v2.3h-2.5zM446.6 320.0h2.5v2.3h-2.5zM427.1 322.3h4.9v2.3h-4.9zM417.3 324.5h4.9v2.3h-4.9zM444.2 324.5h4.9v2.3h-4.9zM471.0 324.5h9.8v2.3h-9.8zM483.2 324.5h4.9v2.3h-4.9zM493.0 324.5h2.5v2.3h-2.5zM419.7 326.8h2.5v2.3h-2.5zM424.6 326.8h2.5v2.3h-2.5zM444.2 326.8h2.5v2.3h-2.5zM456.4 326.8h9.8v2.3h-9.8zM468.6 326.8h7.4v2.3h-7.4zM483.2 326.8h2.5v2.3h-2.5zM488.1 329.1h2.5v2.3h-2.5zM444.2 331.4h2.5v2.3h-2.5zM456.4 331.4h2.5v2.3h-2.5zM461.3 331.4h2.5v2.3h-2.5zM475.9 331.4h2.5v2.3h-2.5zM483.2 331.4h4.9v2.3h-4.9zM493.0 331.4h2.5v2.3h-2.5zM607.8 331.4h2.5v2.3h-2.5zM480.8 333.6h2.5v2.3h-2.5zM605.4 333.6h2.5v2.3h-2.5zM449.0 335.9h2.5v2.3h-2.5zM480.8 335.9h2.5v2.3h-2.5zM605.4 335.9h2.5v2.3h-2.5zM615.2 335.9h2.5v2.3h-2.5zM610.3 338.2h2.5v2.3h-2.5zM427.1 340.5h2.5v2.3h-2.5zM434.4 340.5h2.5v2.3h-2.5zM434.4 345.0h2.5v2.3h-2.5zM439.3 345.0h2.5v2.3h-2.5zM434.4 349.6h2.5v2.3h-2.5zM429.5 351.8h2.5v2.3h-2.5zM436.8 354.1h2.5v2.3h-2.5zM427.1 356.4h4.9v2.3h-4.9zM429.5 358.7h2.5v2.3h-2.5zM434.4 358.7h2.5v2.3h-2.5zM429.5 360.9h2.5v2.3h-2.5zM434.4 360.9h2.5v2.3h-2.5zM439.3 360.9h2.5v2.3h-2.5zM427.1 363.2h2.5v2.3h-2.5zM434.4 363.2h2.5v2.3h-2.5zM439.3 363.2h2.5v2.3h-2.5zM427.1 365.5h2.5v2.3h-2.5zM434.4 365.5h2.5v2.3h-2.5zM434.4 367.8h2.5v2.3h-2.5zM431.9 370.0h2.5v2.3h-2.5zM429.5 372.3h2.5v2.3h-2.5zM434.4 372.3h2.5v2.3h-2.5zM422.2 374.6h2.5v2.3h-2.5zM439.3 374.6h4.9v2.3h-4.9zM429.5 376.9h2.5v2.3h-2.5zM431.9 381.4h2.5v2.3h-2.5zM412.4 383.7h2.5v2.3h-2.5zM422.2 383.7h2.5v2.3h-2.5zM439.3 383.7h2.5v2.3h-2.5zM524.8 388.2h2.5v2.3h-2.5zM534.5 388.2h2.5v2.3h-2.5zM522.3 390.5h2.5v2.3h-2.5zM532.1 390.5h2.5v2.3h-2.5zM537.0 390.5h2.5v2.3h-2.5zM522.3 395.1h2.5v2.3h-2.5zM532.1 395.1h2.5v2.3h-2.5zM537.0 395.1h2.5v2.3h-2.5zM527.2 397.4h2.5v2.3h-2.5zM524.8 399.6h2.5v2.3h-2.5zM532.1 399.6h2.5v2.3h-2.5zM539.4 399.6h2.5v2.3h-2.5zM522.3 401.9h2.5v2.3h-2.5zM532.1 401.9h2.5v2.3h-2.5zM522.3 404.2h2.5v2.3h-2.5zM539.4 404.2h2.5v2.3h-2.5zM522.3 406.4h2.5v2.3h-2.5zM537.0 406.4h2.5v2.3h-2.5zM527.2 408.7h2.5v2.3h-2.5zM532.1 408.7h4.9v2.3h-4.9zM522.3 411.0h2.5v2.3h-2.5zM527.2 411.0h2.5v2.3h-2.5zM539.4 411.0h2.5v2.3h-2.5zM497.9 413.3h2.5v2.3h-2.5zM505.2 413.3h2.5v2.3h-2.5zM519.9 413.3h2.5v2.3h-2.5zM554.1 413.3h2.5v2.3h-2.5zM512.6 415.6h2.5v2.3h-2.5zM502.8 417.8h4.9v2.3h-4.9zM512.6 417.8h7.4v2.3h-7.4zM556.5 417.8h2.5v2.3h-2.5zM495.5 422.4h2.5v2.3h-2.5zM502.8 422.4h2.5v2.3h-2.5zM510.1 422.4h12.3v2.3h-12.3zM495.5 424.6h2.5v2.3h-2.5zM507.7 424.6h2.5v2.3h-2.5zM519.9 424.6h2.5v2.3h-2.5zM495.5 426.9h2.5v2.3h-2.5zM502.8 426.9h2.5v2.3h-2.5zM515.0 426.9h2.5v2.3h-2.5zM507.7 429.2h2.5v2.3h-2.5zM583.4 431.5h2.5v2.3h-2.5zM593.2 431.5h7.4v2.3h-7.4zM607.8 431.5h2.5v2.3h-2.5zM615.2 431.5h2.5v2.3h-2.5zM581.0 433.8h7.4v2.3h-7.4zM602.9 433.8h2.5v2.3h-2.5zM615.2 433.8h2.5v2.3h-2.5zM583.4 436.0h4.9v2.3h-4.9zM598.1 436.0h2.5v2.3h-2.5zM532.1 445.1h2.5v2.3h-2.5zM544.3 467.9h2.5v2.3h-2.5zM544.3 470.1h4.9v2.3h-4.9zM544.3 472.4h2.5v2.3h-2.5zM541.9 474.7h2.5v2.3h-2.5zM546.8 474.7h2.5v2.3h-2.5zM541.9 479.2h2.5v2.3h-2.5zM541.9 481.5h2.5v2.3h-2.5zM544.3 486.1h2.5v2.3h-2.5zM436.8 490.6h4.9v2.3h-4.9zM546.8 492.9h2.5v2.3h-2.5zM441.7 497.5h2.5v2.3h-2.5zM600.5 499.7h2.5v2.3h-2.5z"/>
<path fill="#38e7d7" shape-rendering="crispEdges" d="M431.9 310.9h2.5v2.3h-2.5zM431.9 320.0h2.5v2.3h-2.5zM427.1 326.8h2.5v2.3h-2.5zM444.2 329.1h4.9v2.3h-4.9zM453.9 329.1h7.4v2.3h-7.4zM466.1 329.1h2.5v2.3h-2.5zM493.0 329.1h2.5v2.3h-2.5zM612.7 331.4h2.5v2.3h-2.5zM431.9 342.8h2.5v2.3h-2.5zM431.9 345.0h2.5v2.3h-2.5zM431.9 354.1h2.5v2.3h-2.5zM431.9 374.6h2.5v2.3h-2.5zM612.7 431.5h2.5v2.3h-2.5zM600.5 438.3h4.9v2.3h-4.9zM600.5 440.6h2.5v2.3h-2.5zM602.9 442.9h2.5v2.3h-2.5zM600.5 447.4h2.5v2.3h-2.5zM600.5 449.7h4.9v2.3h-4.9zM600.5 451.9h2.5v2.3h-2.5zM602.9 456.5h2.5v2.3h-2.5zM600.5 458.8h2.5v2.3h-2.5zM600.5 461.1h2.5v2.3h-2.5zM602.9 463.3h2.5v2.3h-2.5zM600.5 467.9h4.9v2.3h-4.9zM600.5 470.1h4.9v2.3h-4.9zM600.5 472.4h4.9v2.3h-4.9zM602.9 474.7h2.5v2.3h-2.5zM602.9 477.0h2.5v2.3h-2.5zM602.9 481.5h2.5v2.3h-2.5zM600.5 483.8h4.9v2.3h-4.9zM571.2 486.1h9.8v2.3h-9.8zM583.4 486.1h4.9v2.3h-4.9zM595.6 486.1h2.5v2.3h-2.5zM610.3 486.1h2.5v2.3h-2.5zM549.2 488.4h7.4v2.3h-7.4zM559.0 488.4h2.5v2.3h-2.5zM585.8 488.4h2.5v2.3h-2.5zM595.6 488.4h2.5v2.3h-2.5zM605.4 488.4h2.5v2.3h-2.5zM600.5 495.2h2.5v2.3h-2.5zM541.9 497.5h2.5v2.3h-2.5zM600.5 497.5h2.5v2.3h-2.5zM602.9 499.7h2.5v2.3h-2.5z"/>
<path fill="#3374f8" shape-rendering="crispEdges" d="M434.4 310.9h2.5v2.3h-2.5zM529.7 313.2h2.5v2.3h-2.5zM534.5 313.2h2.5v2.3h-2.5zM539.4 313.2h2.5v2.3h-2.5zM524.8 315.4h2.5v2.3h-2.5zM529.7 315.4h2.5v2.3h-2.5zM539.4 315.4h2.5v2.3h-2.5zM539.4 317.7h2.5v2.3h-2.5zM434.4 320.0h2.5v2.3h-2.5zM539.4 320.0h2.5v2.3h-2.5zM529.7 322.3h2.5v2.3h-2.5zM441.7 324.5h2.5v2.3h-2.5zM495.5 324.5h4.9v2.3h-4.9zM507.7 324.5h2.5v2.3h-2.5zM436.8 326.8h4.9v2.3h-4.9zM502.8 326.8h2.5v2.3h-2.5zM507.7 326.8h2.5v2.3h-2.5zM519.9 326.8h2.5v2.3h-2.5zM502.8 329.1h4.9v2.3h-4.9zM515.0 329.1h7.4v2.3h-7.4zM412.4 331.4h2.5v2.3h-2.5zM427.1 335.9h4.9v2.3h-4.9zM427.1 338.2h2.5v2.3h-2.5zM600.5 340.5h2.5v2.3h-2.5zM612.7 342.8h2.5v2.3h-2.5zM600.5 349.6h7.4v2.3h-7.4zM610.3 351.8h2.5v2.3h-2.5zM610.3 354.1h2.5v2.3h-2.5zM600.5 356.4h2.5v2.3h-2.5zM610.3 358.7h4.9v2.3h-4.9zM600.5 360.9h2.5v2.3h-2.5zM610.3 360.9h4.9v2.3h-4.9zM602.9 363.2h4.9v2.3h-4.9zM612.7 363.2h2.5v2.3h-2.5zM600.5 365.5h2.5v2.3h-2.5zM612.7 365.5h2.5v2.3h-2.5zM600.5 367.8h4.9v2.3h-4.9zM612.7 367.8h2.5v2.3h-2.5zM600.5 370.0h4.9v2.3h-4.9zM600.5 372.3h4.9v2.3h-4.9zM612.7 374.6h2.5v2.3h-2.5zM602.9 376.9h2.5v2.3h-2.5zM600.5 381.4h4.9v2.3h-4.9zM610.3 383.7h2.5v2.3h-2.5zM600.5 386.0h4.9v2.3h-4.9zM612.7 386.0h2.5v2.3h-2.5zM556.5 388.2h2.5v2.3h-2.5zM600.5 388.2h2.5v2.3h-2.5zM427.1 390.5h2.5v2.3h-2.5zM431.9 390.5h2.5v2.3h-2.5zM600.5 390.5h4.9v2.3h-4.9zM544.3 392.8h4.9v2.3h-4.9zM427.1 395.1h2.5v2.3h-2.5zM431.9 395.1h2.5v2.3h-2.5zM602.9 395.1h2.5v2.3h-2.5zM431.9 397.4h2.5v2.3h-2.5zM427.1 399.6h4.9v2.3h-4.9zM600.5 399.6h2.5v2.3h-2.5zM427.1 401.9h2.5v2.3h-2.5zM600.5 401.9h4.9v2.3h-4.9zM427.1 404.2h2.5v2.3h-2.5zM431.9 404.2h2.5v2.3h-2.5zM429.5 406.4h2.5v2.3h-2.5zM600.5 406.4h2.5v2.3h-2.5zM429.5 408.7h4.9v2.3h-4.9zM600.5 411.0h2.5v2.3h-2.5zM419.7 415.6h2.5v2.3h-2.5zM595.6 415.6h2.5v2.3h-2.5zM417.3 417.8h2.5v2.3h-2.5zM412.4 420.1h4.9v2.3h-4.9zM424.6 420.1h2.5v2.3h-2.5zM590.7 420.1h9.8v2.3h-9.8zM417.3 422.4h2.5v2.3h-2.5zM414.8 424.6h4.9v2.3h-4.9zM424.6 424.6h2.5v2.3h-2.5zM588.3 424.6h2.5v2.3h-2.5zM593.2 424.6h2.5v2.3h-2.5zM417.3 426.9h2.5v2.3h-2.5zM417.3 429.2h2.5v2.3h-2.5zM424.6 429.2h2.5v2.3h-2.5zM515.0 433.8h2.5v2.3h-2.5zM500.3 436.0h2.5v2.3h-2.5zM610.3 440.6h2.5v2.3h-2.5zM610.3 442.9h4.9v2.3h-4.9zM607.8 445.1h7.4v2.3h-7.4zM612.7 451.9h2.5v2.3h-2.5zM605.4 454.2h2.5v2.3h-2.5zM610.3 454.2h4.9v2.3h-4.9zM612.7 456.5h2.5v2.3h-2.5zM610.3 458.8h4.9v2.3h-4.9zM610.3 461.1h2.5v2.3h-2.5zM612.7 463.3h2.5v2.3h-2.5zM605.4 465.6h2.5v2.3h-2.5zM612.7 465.6h2.5v2.3h-2.5zM529.7 467.9h2.5v2.3h-2.5zM529.7 470.1h2.5v2.3h-2.5zM529.7 474.7h2.5v2.3h-2.5zM529.7 477.0h2.5v2.3h-2.5zM529.7 479.2h2.5v2.3h-2.5zM529.7 481.5h2.5v2.3h-2.5zM444.2 486.1h2.5v2.3h-2.5zM449.0 486.1h2.5v2.3h-2.5zM463.7 486.1h2.5v2.3h-2.5zM473.5 486.1h2.5v2.3h-2.5zM478.4 486.1h2.5v2.3h-2.5zM485.7 486.1h2.5v2.3h-2.5zM493.0 486.1h2.5v2.3h-2.5zM505.2 486.1h7.4v2.3h-7.4zM515.0 486.1h2.5v2.3h-2.5zM522.3 486.1h2.5v2.3h-2.5zM444.2 488.4h2.5v2.3h-2.5zM473.5 488.4h7.4v2.3h-7.4zM483.2 488.4h2.5v2.3h-2.5zM493.0 488.4h7.4v2.3h-7.4zM502.8 488.4h2.5v2.3h-2.5zM507.7 488.4h4.9v2.3h-4.9zM515.0 488.4h7.4v2.3h-7.4zM449.0 490.6h2.5v2.3h-2.5zM480.8 490.6h2.5v2.3h-2.5zM566.3 490.6h2.5v2.3h-2.5zM446.6 495.2h2.5v2.3h-2.5zM456.4 495.2h4.9v2.3h-4.9zM463.7 495.2h2.5v2.3h-2.5zM490.6 495.2h2.5v2.3h-2.5zM549.2 495.2h7.4v2.3h-7.4zM559.0 495.2h2.5v2.3h-2.5zM566.3 495.2h2.5v2.3h-2.5zM571.2 495.2h7.4v2.3h-7.4zM449.0 497.5h2.5v2.3h-2.5zM456.4 497.5h2.5v2.3h-2.5zM461.3 497.5h4.9v2.3h-4.9zM468.6 497.5h2.5v2.3h-2.5zM480.8 497.5h2.5v2.3h-2.5zM490.6 497.5h4.9v2.3h-4.9zM549.2 497.5h2.5v2.3h-2.5zM554.1 497.5h9.8v2.3h-9.8zM568.7 497.5h12.3v2.3h-12.3z"/>
<path fill="#2489f5" shape-rendering="crispEdges" d="M436.8 310.9h4.9v2.3h-4.9zM434.4 313.2h2.5v2.3h-2.5zM534.5 315.4h2.5v2.3h-2.5zM434.4 317.7h2.5v2.3h-2.5zM439.3 317.7h2.5v2.3h-2.5zM436.8 320.0h4.9v2.3h-4.9zM495.5 320.0h2.5v2.3h-2.5zM507.7 320.0h4.9v2.3h-4.9zM529.7 320.0h2.5v2.3h-2.5zM434.4 322.3h2.5v2.3h-2.5zM500.3 324.5h2.5v2.3h-2.5zM505.2 324.5h2.5v2.3h-2.5zM510.1 324.5h12.3v2.3h-12.3zM495.5 326.8h4.9v2.3h-4.9zM510.1 326.8h2.5v2.3h-2.5zM515.0 326.8h4.9v2.3h-4.9zM500.3 329.1h2.5v2.3h-2.5zM414.8 331.4h12.3v2.3h-12.3zM581.0 331.4h2.5v2.3h-2.5zM412.4 333.6h2.5v2.3h-2.5zM419.7 333.6h2.5v2.3h-2.5zM429.5 333.6h2.5v2.3h-2.5zM412.4 335.9h2.5v2.3h-2.5zM419.7 335.9h4.9v2.3h-4.9zM429.5 338.2h2.5v2.3h-2.5zM610.3 340.5h4.9v2.3h-4.9zM605.4 342.8h2.5v2.3h-2.5zM610.3 342.8h2.5v2.3h-2.5zM605.4 345.0h9.8v2.3h-9.8zM602.9 347.3h2.5v2.3h-2.5zM610.3 349.6h7.4v2.3h-7.4zM612.7 351.8h4.9v2.3h-4.9zM605.4 354.1h4.9v2.3h-4.9zM615.2 354.1h2.5v2.3h-2.5zM610.3 356.4h2.5v2.3h-2.5zM605.4 358.7h2.5v2.3h-2.5zM605.4 360.9h2.5v2.3h-2.5zM610.3 363.2h2.5v2.3h-2.5zM605.4 365.5h2.5v2.3h-2.5zM610.3 367.8h2.5v2.3h-2.5zM612.7 370.0h2.5v2.3h-2.5zM610.3 372.3h2.5v2.3h-2.5zM605.4 374.6h2.5v2.3h-2.5zM605.4 379.1h2.5v2.3h-2.5zM610.3 379.1h4.9v2.3h-4.9zM605.4 383.7h4.9v2.3h-4.9zM615.2 383.7h2.5v2.3h-2.5zM607.8 386.0h4.9v2.3h-4.9zM422.2 388.2h2.5v2.3h-2.5zM429.5 388.2h2.5v2.3h-2.5zM566.3 388.2h2.5v2.3h-2.5zM576.1 388.2h2.5v2.3h-2.5zM429.5 390.5h2.5v2.3h-2.5zM431.9 392.8h2.5v2.3h-2.5zM429.5 395.1h2.5v2.3h-2.5zM600.5 395.1h2.5v2.3h-2.5zM429.5 397.4h2.5v2.3h-2.5zM600.5 397.4h4.9v2.3h-4.9zM412.4 399.6h2.5v2.3h-2.5zM419.7 399.6h2.5v2.3h-2.5zM573.6 399.6h2.5v2.3h-2.5zM429.5 401.9h2.5v2.3h-2.5zM556.5 401.9h2.5v2.3h-2.5zM429.5 404.2h2.5v2.3h-2.5zM556.5 404.2h2.5v2.3h-2.5zM600.5 404.2h4.9v2.3h-4.9zM427.1 406.4h2.5v2.3h-2.5zM571.2 406.4h2.5v2.3h-2.5zM578.5 406.4h2.5v2.3h-2.5zM427.1 408.7h2.5v2.3h-2.5zM600.5 408.7h4.9v2.3h-4.9zM412.4 411.0h2.5v2.3h-2.5zM427.1 411.0h4.9v2.3h-4.9zM556.5 411.0h2.5v2.3h-2.5zM602.9 411.0h2.5v2.3h-2.5zM602.9 413.3h2.5v2.3h-2.5zM541.9 417.8h2.5v2.3h-2.5zM600.5 417.8h2.5v2.3h-2.5zM417.3 420.1h2.5v2.3h-2.5zM600.5 422.4h2.5v2.3h-2.5zM602.9 426.9h2.5v2.3h-2.5zM414.8 429.2h2.5v2.3h-2.5zM500.3 433.8h2.5v2.3h-2.5zM605.4 438.3h2.5v2.3h-2.5zM610.3 438.3h7.4v2.3h-7.4zM607.8 440.6h2.5v2.3h-2.5zM612.7 440.6h2.5v2.3h-2.5zM507.7 442.9h2.5v2.3h-2.5zM605.4 442.9h2.5v2.3h-2.5zM615.2 442.9h2.5v2.3h-2.5zM495.5 445.1h2.5v2.3h-2.5zM502.8 445.1h2.5v2.3h-2.5zM507.7 445.1h2.5v2.3h-2.5zM583.4 445.1h2.5v2.3h-2.5zM615.2 445.1h2.5v2.3h-2.5zM607.8 447.4h9.8v2.3h-9.8zM605.4 449.7h12.3v2.3h-12.3zM610.3 451.9h2.5v2.3h-2.5zM497.9 454.2h2.5v2.3h-2.5zM507.7 454.2h2.5v2.3h-2.5zM610.3 456.5h2.5v2.3h-2.5zM507.7 458.8h2.5v2.3h-2.5zM605.4 458.8h2.5v2.3h-2.5zM495.5 461.1h2.5v2.3h-2.5zM510.1 461.1h2.5v2.3h-2.5zM605.4 461.1h4.9v2.3h-4.9zM612.7 461.1h2.5v2.3h-2.5zM605.4 463.3h2.5v2.3h-2.5zM610.3 463.3h2.5v2.3h-2.5zM615.2 463.3h2.5v2.3h-2.5zM495.5 465.6h2.5v2.3h-2.5zM507.7 465.6h2.5v2.3h-2.5zM615.2 465.6h2.5v2.3h-2.5zM451.5 486.1h2.5v2.3h-2.5zM468.6 486.1h2.5v2.3h-2.5zM488.1 486.1h2.5v2.3h-2.5zM497.9 486.1h2.5v2.3h-2.5zM502.8 486.1h2.5v2.3h-2.5zM512.6 486.1h2.5v2.3h-2.5zM517.4 486.1h4.9v2.3h-4.9zM527.2 486.1h2.5v2.3h-2.5zM532.1 486.1h2.5v2.3h-2.5zM451.5 488.4h2.5v2.3h-2.5zM488.1 488.4h2.5v2.3h-2.5zM505.2 488.4h2.5v2.3h-2.5zM512.6 488.4h2.5v2.3h-2.5zM522.3 488.4h2.5v2.3h-2.5zM527.2 488.4h2.5v2.3h-2.5zM537.0 488.4h2.5v2.3h-2.5zM456.4 490.6h2.5v2.3h-2.5zM461.3 490.6h2.5v2.3h-2.5zM466.1 490.6h2.5v2.3h-2.5zM475.9 490.6h2.5v2.3h-2.5zM490.6 490.6h2.5v2.3h-2.5zM551.6 490.6h12.3v2.3h-12.3zM568.7 490.6h2.5v2.3h-2.5zM576.1 490.6h4.9v2.3h-4.9zM449.0 492.9h2.5v2.3h-2.5zM463.7 492.9h2.5v2.3h-2.5zM490.6 492.9h2.5v2.3h-2.5zM551.6 492.9h7.4v2.3h-7.4zM571.2 492.9h2.5v2.3h-2.5zM576.1 492.9h2.5v2.3h-2.5zM449.0 495.2h2.5v2.3h-2.5zM453.9 495.2h2.5v2.3h-2.5zM461.3 495.2h2.5v2.3h-2.5zM466.1 495.2h2.5v2.3h-2.5zM471.0 495.2h4.9v2.3h-4.9zM478.4 495.2h2.5v2.3h-2.5zM485.7 495.2h2.5v2.3h-2.5zM493.0 495.2h2.5v2.3h-2.5zM561.4 495.2h4.9v2.3h-4.9zM568.7 495.2h2.5v2.3h-2.5zM578.5 495.2h2.5v2.3h-2.5zM446.6 497.5h2.5v2.3h-2.5zM453.9 497.5h2.5v2.3h-2.5zM466.1 497.5h2.5v2.3h-2.5zM471.0 497.5h4.9v2.3h-4.9zM478.4 497.5h2.5v2.3h-2.5zM551.6 497.5h2.5v2.3h-2.5zM563.9 497.5h2.5v2.3h-2.5zM446.6 499.7h2.5v2.3h-2.5zM458.8 499.7h2.5v2.3h-2.5zM466.1 499.7h2.5v2.3h-2.5zM480.8 499.7h2.5v2.3h-2.5zM490.6 499.7h2.5v2.3h-2.5zM551.6 499.7h2.5v2.3h-2.5zM556.5 499.7h2.5v2.3h-2.5zM561.4 499.7h2.5v2.3h-2.5zM566.3 499.7h2.5v2.3h-2.5zM573.6 499.7h2.5v2.3h-2.5z"/>
<path fill="#149cf1" shape-rendering="crispEdges" d="M441.7 310.9h2.5v2.3h-2.5zM495.5 310.9h4.9v2.3h-4.9zM507.7 310.9h4.9v2.3h-4.9zM515.0 310.9h4.9v2.3h-4.9zM441.7 313.2h2.5v2.3h-2.5zM507.7 313.2h2.5v2.3h-2.5zM434.4 315.4h7.4v2.3h-7.4zM436.8 317.7h2.5v2.3h-2.5zM441.7 317.7h2.5v2.3h-2.5zM507.7 317.7h4.9v2.3h-4.9zM515.0 317.7h2.5v2.3h-2.5zM519.9 317.7h2.5v2.3h-2.5zM441.7 320.0h2.5v2.3h-2.5zM497.9 320.0h2.5v2.3h-2.5zM502.8 320.0h4.9v2.3h-4.9zM515.0 320.0h2.5v2.3h-2.5zM519.9 320.0h2.5v2.3h-2.5zM436.8 322.3h7.4v2.3h-7.4zM495.5 322.3h2.5v2.3h-2.5zM500.3 326.8h2.5v2.3h-2.5zM505.2 326.8h2.5v2.3h-2.5zM512.6 326.8h2.5v2.3h-2.5zM431.9 329.1h2.5v2.3h-2.5zM434.4 331.4h2.5v2.3h-2.5zM583.4 331.4h2.5v2.3h-2.5zM593.2 331.4h2.5v2.3h-2.5zM422.2 333.6h4.9v2.3h-4.9zM424.6 335.9h2.5v2.3h-2.5zM581.0 335.9h2.5v2.3h-2.5zM414.8 338.2h2.5v2.3h-2.5zM422.2 338.2h2.5v2.3h-2.5zM605.4 340.5h4.9v2.3h-4.9zM615.2 340.5h2.5v2.3h-2.5zM607.8 342.8h2.5v2.3h-2.5zM615.2 342.8h2.5v2.3h-2.5zM615.2 345.0h2.5v2.3h-2.5zM600.5 347.3h2.5v2.3h-2.5zM605.4 347.3h2.5v2.3h-2.5zM610.3 347.3h2.5v2.3h-2.5zM607.8 349.6h2.5v2.3h-2.5zM605.4 351.8h4.9v2.3h-4.9zM605.4 356.4h4.9v2.3h-4.9zM615.2 356.4h2.5v2.3h-2.5zM607.8 358.7h2.5v2.3h-2.5zM615.2 358.7h2.5v2.3h-2.5zM607.8 360.9h2.5v2.3h-2.5zM615.2 360.9h2.5v2.3h-2.5zM607.8 363.2h2.5v2.3h-2.5zM615.2 363.2h2.5v2.3h-2.5zM610.3 365.5h2.5v2.3h-2.5zM605.4 367.8h2.5v2.3h-2.5zM605.4 370.0h2.5v2.3h-2.5zM610.3 370.0h2.5v2.3h-2.5zM615.2 370.0h2.5v2.3h-2.5zM607.8 372.3h2.5v2.3h-2.5zM612.7 372.3h4.9v2.3h-4.9zM607.8 374.6h2.5v2.3h-2.5zM615.2 374.6h2.5v2.3h-2.5zM605.4 376.9h9.8v2.3h-9.8zM615.2 379.1h2.5v2.3h-2.5zM607.8 381.4h7.4v2.3h-7.4zM605.4 386.0h2.5v2.3h-2.5zM412.4 388.2h2.5v2.3h-2.5zM419.7 388.2h2.5v2.3h-2.5zM424.6 388.2h2.5v2.3h-2.5zM551.6 388.2h2.5v2.3h-2.5zM561.4 388.2h2.5v2.3h-2.5zM571.2 388.2h4.9v2.3h-4.9zM578.5 388.2h2.5v2.3h-2.5zM556.5 390.5h4.9v2.3h-4.9zM566.3 390.5h2.5v2.3h-2.5zM571.2 390.5h2.5v2.3h-2.5zM429.5 392.8h2.5v2.3h-2.5zM600.5 392.8h4.9v2.3h-4.9zM412.4 395.1h2.5v2.3h-2.5zM422.2 395.1h2.5v2.3h-2.5zM549.2 395.1h2.5v2.3h-2.5zM554.1 395.1h4.9v2.3h-4.9zM561.4 395.1h2.5v2.3h-2.5zM566.3 395.1h2.5v2.3h-2.5zM427.1 397.4h2.5v2.3h-2.5zM561.4 397.4h2.5v2.3h-2.5zM573.6 397.4h2.5v2.3h-2.5zM417.3 399.6h2.5v2.3h-2.5zM422.2 399.6h4.9v2.3h-4.9zM551.6 399.6h14.7v2.3h-14.7zM568.7 399.6h4.9v2.3h-4.9zM576.1 399.6h4.9v2.3h-4.9zM412.4 401.9h2.5v2.3h-2.5zM419.7 401.9h4.9v2.3h-4.9zM551.6 401.9h4.9v2.3h-4.9zM561.4 401.9h2.5v2.3h-2.5zM566.3 401.9h2.5v2.3h-2.5zM573.6 401.9h4.9v2.3h-4.9zM554.1 404.2h2.5v2.3h-2.5zM566.3 404.2h2.5v2.3h-2.5zM573.6 404.2h2.5v2.3h-2.5zM412.4 406.4h2.5v2.3h-2.5zM422.2 406.4h2.5v2.3h-2.5zM551.6 406.4h2.5v2.3h-2.5zM556.5 406.4h7.4v2.3h-7.4zM568.7 406.4h2.5v2.3h-2.5zM422.2 408.7h2.5v2.3h-2.5zM556.5 408.7h2.5v2.3h-2.5zM561.4 408.7h2.5v2.3h-2.5zM566.3 408.7h4.9v2.3h-4.9zM573.6 408.7h2.5v2.3h-2.5zM578.5 408.7h2.5v2.3h-2.5zM554.1 411.0h2.5v2.3h-2.5zM559.0 411.0h4.9v2.3h-4.9zM566.3 411.0h2.5v2.3h-2.5zM576.1 411.0h4.9v2.3h-4.9zM541.9 413.3h2.5v2.3h-2.5zM546.8 413.3h2.5v2.3h-2.5zM600.5 415.6h4.9v2.3h-4.9zM546.8 417.8h2.5v2.3h-2.5zM602.9 417.8h2.5v2.3h-2.5zM541.9 422.4h2.5v2.3h-2.5zM522.3 431.5h2.5v2.3h-2.5zM527.2 431.5h2.5v2.3h-2.5zM534.5 431.5h2.5v2.3h-2.5zM522.3 436.0h2.5v2.3h-2.5zM537.0 436.0h2.5v2.3h-2.5zM495.5 438.3h2.5v2.3h-2.5zM507.7 438.3h2.5v2.3h-2.5zM515.0 438.3h2.5v2.3h-2.5zM495.5 440.6h2.5v2.3h-2.5zM510.1 440.6h2.5v2.3h-2.5zM515.0 440.6h2.5v2.3h-2.5zM519.9 440.6h2.5v2.3h-2.5zM583.4 440.6h2.5v2.3h-2.5zM605.4 440.6h2.5v2.3h-2.5zM615.2 440.6h2.5v2.3h-2.5zM495.5 442.9h4.9v2.3h-4.9zM510.1 442.9h2.5v2.3h-2.5zM515.0 442.9h2.5v2.3h-2.5zM583.4 442.9h4.9v2.3h-4.9zM607.8 442.9h2.5v2.3h-2.5zM497.9 445.1h2.5v2.3h-2.5zM505.2 445.1h2.5v2.3h-2.5zM512.6 445.1h9.8v2.3h-9.8zM585.8 445.1h4.9v2.3h-4.9zM598.1 445.1h2.5v2.3h-2.5zM605.4 445.1h2.5v2.3h-2.5zM495.5 447.4h2.5v2.3h-2.5zM505.2 447.4h2.5v2.3h-2.5zM515.0 447.4h2.5v2.3h-2.5zM519.9 447.4h2.5v2.3h-2.5zM605.4 447.4h2.5v2.3h-2.5zM495.5 449.7h2.5v2.3h-2.5zM507.7 449.7h4.9v2.3h-4.9zM515.0 451.9h2.5v2.3h-2.5zM605.4 451.9h2.5v2.3h-2.5zM615.2 451.9h2.5v2.3h-2.5zM495.5 454.2h2.5v2.3h-2.5zM502.8 454.2h4.9v2.3h-4.9zM512.6 454.2h9.8v2.3h-9.8zM607.8 454.2h2.5v2.3h-2.5zM615.2 454.2h2.5v2.3h-2.5zM502.8 456.5h2.5v2.3h-2.5zM507.7 456.5h4.9v2.3h-4.9zM517.4 456.5h2.5v2.3h-2.5zM605.4 456.5h4.9v2.3h-4.9zM615.2 456.5h2.5v2.3h-2.5zM495.5 458.8h2.5v2.3h-2.5zM502.8 458.8h2.5v2.3h-2.5zM510.1 458.8h2.5v2.3h-2.5zM519.9 458.8h2.5v2.3h-2.5zM615.2 458.8h2.5v2.3h-2.5zM497.9 461.1h2.5v2.3h-2.5zM517.4 461.1h2.5v2.3h-2.5zM615.2 461.1h2.5v2.3h-2.5zM495.5 463.3h4.9v2.3h-4.9zM507.7 463.3h4.9v2.3h-4.9zM517.4 463.3h4.9v2.3h-4.9zM607.8 463.3h2.5v2.3h-2.5zM497.9 465.6h2.5v2.3h-2.5zM502.8 465.6h2.5v2.3h-2.5zM510.1 465.6h2.5v2.3h-2.5zM515.0 465.6h2.5v2.3h-2.5zM607.8 465.6h2.5v2.3h-2.5zM434.4 467.9h2.5v2.3h-2.5zM439.3 467.9h2.5v2.3h-2.5zM554.1 467.9h2.5v2.3h-2.5zM434.4 470.1h2.5v2.3h-2.5zM551.6 470.1h2.5v2.3h-2.5zM556.5 470.1h2.5v2.3h-2.5zM561.4 470.1h2.5v2.3h-2.5zM566.3 470.1h2.5v2.3h-2.5zM500.3 486.1h2.5v2.3h-2.5zM537.0 486.1h2.5v2.3h-2.5zM500.3 488.4h2.5v2.3h-2.5zM532.1 488.4h4.9v2.3h-4.9zM539.4 488.4h2.5v2.3h-2.5zM444.2 490.6h4.9v2.3h-4.9zM453.9 490.6h2.5v2.3h-2.5zM458.8 490.6h2.5v2.3h-2.5zM463.7 490.6h2.5v2.3h-2.5zM468.6 490.6h4.9v2.3h-4.9zM478.4 490.6h2.5v2.3h-2.5zM483.2 490.6h7.4v2.3h-7.4zM493.0 490.6h2.5v2.3h-2.5zM549.2 490.6h2.5v2.3h-2.5zM563.9 490.6h2.5v2.3h-2.5zM571.2 490.6h4.9v2.3h-4.9zM446.6 492.9h2.5v2.3h-2.5zM453.9 492.9h9.8v2.3h-9.8zM466.1 492.9h7.4v2.3h-7.4zM475.9 492.9h9.8v2.3h-9.8zM493.0 492.9h2.5v2.3h-2.5zM559.0 492.9h12.3v2.3h-12.3zM573.6 492.9h2.5v2.3h-2.5zM578.5 492.9h2.5v2.3h-2.5zM444.2 495.2h2.5v2.3h-2.5zM451.5 495.2h2.5v2.3h-2.5zM468.6 495.2h2.5v2.3h-2.5zM475.9 495.2h2.5v2.3h-2.5zM483.2 495.2h2.5v2.3h-2.5zM444.2 497.5h2.5v2.3h-2.5zM475.9 497.5h2.5v2.3h-2.5zM483.2 497.5h7.4v2.3h-7.4zM449.0 499.7h2.5v2.3h-2.5zM453.9 499.7h4.9v2.3h-4.9zM461.3 499.7h2.5v2.3h-2.5zM468.6 499.7h4.9v2.3h-4.9zM485.7 499.7h2.5v2.3h-2.5zM549.2 499.7h2.5v2.3h-2.5zM554.1 499.7h2.5v2.3h-2.5zM559.0 499.7h2.5v2.3h-2.5zM563.9 499.7h2.5v2.3h-2.5zM568.7 499.7h4.9v2.3h-4.9zM576.1 499.7h4.9v2.3h-4.9z"/>
<path fill="#75feba" shape-rendering="crispEdges" d="M446.6 310.9h2.5v2.3h-2.5zM458.8 310.9h4.9v2.3h-4.9zM480.8 310.9h2.5v2.3h-2.5zM490.6 310.9h2.5v2.3h-2.5zM480.8 313.2h2.5v2.3h-2.5zM412.4 317.7h2.5v2.3h-2.5zM456.4 317.7h2.5v2.3h-2.5zM480.8 317.7h2.5v2.3h-2.5zM490.6 317.7h2.5v2.3h-2.5zM412.4 320.0h2.5v2.3h-2.5zM422.2 320.0h2.5v2.3h-2.5zM458.8 320.0h2.5v2.3h-2.5zM466.1 320.0h2.5v2.3h-2.5zM480.8 320.0h2.5v2.3h-2.5zM490.6 320.0h2.5v2.3h-2.5zM490.6 322.3h2.5v2.3h-2.5zM414.8 324.5h2.5v2.3h-2.5zM451.5 324.5h2.5v2.3h-2.5zM463.7 324.5h2.5v2.3h-2.5zM488.1 324.5h2.5v2.3h-2.5zM414.8 326.8h4.9v2.3h-4.9zM451.5 326.8h2.5v2.3h-2.5zM478.4 326.8h2.5v2.3h-2.5zM485.7 326.8h2.5v2.3h-2.5zM493.0 326.8h2.5v2.3h-2.5zM471.0 331.4h4.9v2.3h-4.9zM446.6 333.6h4.9v2.3h-4.9zM456.4 333.6h4.9v2.3h-4.9zM468.6 333.6h2.5v2.3h-2.5zM478.4 333.6h2.5v2.3h-2.5zM607.8 333.6h2.5v2.3h-2.5zM446.6 335.9h2.5v2.3h-2.5zM453.9 335.9h17.2v2.3h-17.2zM490.6 335.9h4.9v2.3h-4.9zM607.8 335.9h2.5v2.3h-2.5zM446.6 338.2h2.5v2.3h-2.5zM453.9 338.2h2.5v2.3h-2.5zM480.8 338.2h2.5v2.3h-2.5zM490.6 338.2h2.5v2.3h-2.5zM605.4 338.2h4.9v2.3h-4.9zM439.3 340.5h2.5v2.3h-2.5zM412.4 342.8h2.5v2.3h-2.5zM419.7 342.8h4.9v2.3h-4.9zM439.3 342.8h4.9v2.3h-4.9zM412.4 345.0h2.5v2.3h-2.5zM419.7 345.0h4.9v2.3h-4.9zM436.8 345.0h2.5v2.3h-2.5zM427.1 347.3h2.5v2.3h-2.5zM427.1 349.6h4.9v2.3h-4.9zM436.8 349.6h4.9v2.3h-4.9zM412.4 351.8h2.5v2.3h-2.5zM422.2 351.8h2.5v2.3h-2.5zM436.8 351.8h4.9v2.3h-4.9zM412.4 354.1h2.5v2.3h-2.5zM419.7 354.1h4.9v2.3h-4.9zM439.3 354.1h4.9v2.3h-4.9zM434.4 356.4h2.5v2.3h-2.5zM439.3 358.7h2.5v2.3h-2.5zM412.4 360.9h2.5v2.3h-2.5zM436.8 360.9h2.5v2.3h-2.5zM429.5 363.2h2.5v2.3h-2.5zM429.5 365.5h2.5v2.3h-2.5zM427.1 367.8h4.9v2.3h-4.9zM436.8 367.8h2.5v2.3h-2.5zM427.1 370.0h4.9v2.3h-4.9zM434.4 370.0h2.5v2.3h-2.5zM439.3 372.3h2.5v2.3h-2.5zM419.7 374.6h2.5v2.3h-2.5zM436.8 374.6h2.5v2.3h-2.5zM427.1 376.9h2.5v2.3h-2.5zM436.8 376.9h2.5v2.3h-2.5zM434.4 379.1h2.5v2.3h-2.5zM434.4 381.4h2.5v2.3h-2.5zM419.7 383.7h2.5v2.3h-2.5zM436.8 383.7h2.5v2.3h-2.5zM441.7 383.7h2.5v2.3h-2.5zM434.4 386.0h2.5v2.3h-2.5zM439.3 386.0h2.5v2.3h-2.5zM529.7 388.2h2.5v2.3h-2.5zM539.4 388.2h2.5v2.3h-2.5zM524.8 390.5h2.5v2.3h-2.5zM529.7 390.5h2.5v2.3h-2.5zM534.5 390.5h2.5v2.3h-2.5zM539.4 390.5h2.5v2.3h-2.5zM524.8 395.1h2.5v2.3h-2.5zM534.5 395.1h2.5v2.3h-2.5zM539.4 395.1h2.5v2.3h-2.5zM522.3 397.4h4.9v2.3h-4.9zM532.1 397.4h2.5v2.3h-2.5zM537.0 397.4h2.5v2.3h-2.5zM529.7 399.6h2.5v2.3h-2.5zM534.5 399.6h2.5v2.3h-2.5zM524.8 401.9h2.5v2.3h-2.5zM534.5 401.9h2.5v2.3h-2.5zM527.2 404.2h2.5v2.3h-2.5zM532.1 404.2h7.4v2.3h-7.4zM524.8 406.4h2.5v2.3h-2.5zM534.5 406.4h2.5v2.3h-2.5zM539.4 406.4h2.5v2.3h-2.5zM524.8 408.7h2.5v2.3h-2.5zM537.0 408.7h4.9v2.3h-4.9zM524.8 411.0h2.5v2.3h-2.5zM534.5 411.0h4.9v2.3h-4.9zM512.6 413.3h2.5v2.3h-2.5zM556.5 413.3h2.5v2.3h-2.5zM561.4 413.3h2.5v2.3h-2.5zM573.6 413.3h2.5v2.3h-2.5zM497.9 415.6h2.5v2.3h-2.5zM502.8 415.6h4.9v2.3h-4.9zM510.1 415.6h2.5v2.3h-2.5zM515.0 415.6h7.4v2.3h-7.4zM507.7 420.1h4.9v2.3h-4.9zM515.0 420.1h2.5v2.3h-2.5zM505.2 422.4h2.5v2.3h-2.5zM556.5 422.4h2.5v2.3h-2.5zM502.8 424.6h2.5v2.3h-2.5zM510.1 424.6h7.4v2.3h-7.4zM497.9 426.9h2.5v2.3h-2.5zM505.2 426.9h2.5v2.3h-2.5zM512.6 426.9h2.5v2.3h-2.5zM517.4 426.9h4.9v2.3h-4.9zM495.5 429.2h2.5v2.3h-2.5zM502.8 429.2h2.5v2.3h-2.5zM510.1 429.2h4.9v2.3h-4.9zM519.9 429.2h2.5v2.3h-2.5zM588.3 431.5h4.9v2.3h-4.9zM595.6 433.8h2.5v2.3h-2.5zM605.4 433.8h4.9v2.3h-4.9zM588.3 436.0h9.8v2.3h-9.8zM615.2 436.0h2.5v2.3h-2.5zM522.3 442.9h2.5v2.3h-2.5zM527.2 442.9h2.5v2.3h-2.5zM527.2 445.1h2.5v2.3h-2.5zM522.3 449.7h2.5v2.3h-2.5zM522.3 454.2h2.5v2.3h-2.5zM527.2 454.2h2.5v2.3h-2.5zM537.0 454.2h2.5v2.3h-2.5zM527.2 456.5h2.5v2.3h-2.5zM522.3 463.3h2.5v2.3h-2.5zM522.3 465.6h2.5v2.3h-2.5zM544.3 474.7h2.5v2.3h-2.5zM541.9 477.0h2.5v2.3h-2.5zM546.8 477.0h2.5v2.3h-2.5zM546.8 479.2h2.5v2.3h-2.5zM541.9 483.8h2.5v2.3h-2.5zM546.8 483.8h2.5v2.3h-2.5zM441.7 490.6h2.5v2.3h-2.5zM436.8 492.9h4.9v2.3h-4.9zM544.3 492.9h2.5v2.3h-2.5zM441.7 495.2h2.5v2.3h-2.5zM583.4 497.5h2.5v2.3h-2.5zM436.8 499.7h7.4v2.3h-7.4z"/>
<path fill="#b3f396" shape-rendering="crispEdges" d="M488.1 310.9h2.5v2.3h-2.5zM451.5 313.2h2.5v2.3h-2.5zM473.5 313.2h4.9v2.3h-4.9zM488.1 313.2h2.5v2.3h-2.5zM414.8 315.4h4.9v2.3h-4.9zM463.7 315.4h2.5v2.3h-2.5zM471.0 315.4h2.5v2.3h-2.5zM475.9 315.4h4.9v2.3h-4.9zM485.7 315.4h2.5v2.3h-2.5zM417.3 322.3h2.5v2.3h-2.5zM475.9 322.3h2.5v2.3h-2.5zM488.1 322.3h2.5v2.3h-2.5zM446.6 340.5h2.5v2.3h-2.5zM458.8 340.5h2.5v2.3h-2.5zM493.0 340.5h2.5v2.3h-2.5zM453.9 342.8h2.5v2.3h-2.5zM461.3 342.8h4.9v2.3h-4.9zM468.6 342.8h4.9v2.3h-4.9zM485.7 342.8h2.5v2.3h-2.5zM444.2 345.0h2.5v2.3h-2.5zM451.5 345.0h7.4v2.3h-7.4zM463.7 345.0h12.3v2.3h-12.3zM485.7 345.0h2.5v2.3h-2.5zM414.8 347.3h2.5v2.3h-2.5zM419.7 347.3h2.5v2.3h-2.5zM446.6 347.3h4.9v2.3h-4.9zM444.2 349.6h7.4v2.3h-7.4zM490.6 349.6h2.5v2.3h-2.5zM444.2 351.8h2.5v2.3h-2.5zM449.0 351.8h2.5v2.3h-2.5zM490.6 351.8h2.5v2.3h-2.5zM444.2 354.1h4.9v2.3h-4.9zM446.6 356.4h2.5v2.3h-2.5zM490.6 356.4h2.5v2.3h-2.5zM444.2 358.7h4.9v2.3h-4.9zM446.6 360.9h2.5v2.3h-2.5zM444.2 363.2h2.5v2.3h-2.5zM449.0 363.2h2.5v2.3h-2.5zM446.6 365.5h2.5v2.3h-2.5zM414.8 367.8h4.9v2.3h-4.9zM446.6 367.8h4.9v2.3h-4.9zM417.3 370.0h2.5v2.3h-2.5zM449.0 370.0h2.5v2.3h-2.5zM417.3 372.3h2.5v2.3h-2.5zM446.6 372.3h4.9v2.3h-4.9zM490.6 372.3h2.5v2.3h-2.5zM451.5 374.6h2.5v2.3h-2.5zM493.0 374.6h2.5v2.3h-2.5zM414.8 376.9h4.9v2.3h-4.9zM414.8 381.4h2.5v2.3h-2.5zM446.6 381.4h4.9v2.3h-4.9zM444.2 383.7h2.5v2.3h-2.5zM453.9 383.7h2.5v2.3h-2.5zM461.3 383.7h9.8v2.3h-9.8zM485.7 383.7h2.5v2.3h-2.5zM493.0 383.7h2.5v2.3h-2.5zM446.6 386.0h2.5v2.3h-2.5zM480.8 386.0h2.5v2.3h-2.5zM495.5 388.2h4.9v2.3h-4.9zM507.7 388.2h2.5v2.3h-2.5zM515.0 388.2h2.5v2.3h-2.5zM507.7 390.5h2.5v2.3h-2.5zM529.7 392.8h2.5v2.3h-2.5zM495.5 395.1h2.5v2.3h-2.5zM507.7 395.1h2.5v2.3h-2.5zM517.4 395.1h2.5v2.3h-2.5zM497.9 399.6h2.5v2.3h-2.5zM502.8 399.6h2.5v2.3h-2.5zM510.1 399.6h2.5v2.3h-2.5zM519.9 399.6h2.5v2.3h-2.5zM495.5 406.4h2.5v2.3h-2.5zM507.7 406.4h2.5v2.3h-2.5zM507.7 408.7h2.5v2.3h-2.5zM495.5 411.0h2.5v2.3h-2.5zM507.7 411.0h2.5v2.3h-2.5zM524.8 413.3h2.5v2.3h-2.5zM534.5 413.3h7.4v2.3h-7.4zM532.1 415.6h2.5v2.3h-2.5zM524.8 417.8h2.5v2.3h-2.5zM534.5 417.8h2.5v2.3h-2.5zM549.2 420.1h2.5v2.3h-2.5zM559.0 420.1h2.5v2.3h-2.5zM563.9 420.1h2.5v2.3h-2.5zM568.7 420.1h2.5v2.3h-2.5zM522.3 422.4h2.5v2.3h-2.5zM534.5 422.4h2.5v2.3h-2.5zM527.2 424.6h2.5v2.3h-2.5zM532.1 424.6h2.5v2.3h-2.5zM563.9 424.6h2.5v2.3h-2.5zM527.2 426.9h2.5v2.3h-2.5zM532.1 426.9h2.5v2.3h-2.5zM537.0 426.9h2.5v2.3h-2.5zM549.2 429.2h2.5v2.3h-2.5zM561.4 429.2h2.5v2.3h-2.5zM541.9 431.5h2.5v2.3h-2.5zM546.8 431.5h9.8v2.3h-9.8zM559.0 431.5h2.5v2.3h-2.5zM571.2 431.5h4.9v2.3h-4.9zM576.1 433.8h2.5v2.3h-2.5zM541.9 436.0h2.5v2.3h-2.5zM554.1 436.0h2.5v2.3h-2.5zM559.0 436.0h4.9v2.3h-4.9zM568.7 436.0h4.9v2.3h-4.9zM576.1 436.0h2.5v2.3h-2.5zM529.7 438.3h2.5v2.3h-2.5zM539.4 438.3h4.9v2.3h-4.9zM529.7 440.6h2.5v2.3h-2.5zM541.9 440.6h2.5v2.3h-2.5zM546.8 440.6h2.5v2.3h-2.5zM556.5 442.9h2.5v2.3h-2.5zM529.7 447.4h2.5v2.3h-2.5zM546.8 447.4h2.5v2.3h-2.5zM541.9 449.7h2.5v2.3h-2.5zM529.7 451.9h2.5v2.3h-2.5zM534.5 451.9h2.5v2.3h-2.5zM539.4 451.9h2.5v2.3h-2.5zM544.3 454.2h4.9v2.3h-4.9zM529.7 456.5h2.5v2.3h-2.5zM541.9 456.5h2.5v2.3h-2.5zM529.7 461.1h2.5v2.3h-2.5zM541.9 465.6h2.5v2.3h-2.5zM546.8 465.6h2.5v2.3h-2.5zM566.3 465.6h2.5v2.3h-2.5zM607.8 472.4h2.5v2.3h-2.5zM605.4 474.7h4.9v2.3h-4.9zM615.2 474.7h2.5v2.3h-2.5zM605.4 477.0h2.5v2.3h-2.5zM610.3 477.0h2.5v2.3h-2.5zM615.2 477.0h2.5v2.3h-2.5zM605.4 479.2h2.5v2.3h-2.5zM615.2 479.2h2.5v2.3h-2.5zM605.4 481.5h2.5v2.3h-2.5zM600.5 488.4h4.9v2.3h-4.9zM593.2 490.6h7.4v2.3h-7.4zM588.3 492.9h2.5v2.3h-2.5zM595.6 492.9h2.5v2.3h-2.5zM581.0 499.7h2.5v2.3h-2.5zM585.8 499.7h4.9v2.3h-4.9z"/>
<path fill="#29dbde" shape-rendering="crispEdges" d="M500.3 310.9h2.5v2.3h-2.5zM500.3 313.2h2.5v2.3h-2.5zM500.3 322.3h2.5v2.3h-2.5zM427.1 324.5h2.5v2.3h-2.5zM422.2 329.1h2.5v2.3h-2.5zM449.0 329.1h2.5v2.3h-2.5zM480.8 329.1h2.5v2.3h-2.5zM600.5 333.6h2.5v2.3h-2.5zM602.9 335.9h2.5v2.3h-2.5zM590.7 338.2h2.5v2.3h-2.5zM600.5 338.2h4.9v2.3h-4.9zM431.9 383.7h2.5v2.3h-2.5zM417.3 392.8h2.5v2.3h-2.5zM563.9 392.8h2.5v2.3h-2.5zM544.3 420.1h2.5v2.3h-2.5zM529.7 433.8h2.5v2.3h-2.5zM500.3 440.6h2.5v2.3h-2.5zM602.9 440.6h2.5v2.3h-2.5zM600.5 442.9h2.5v2.3h-2.5zM602.9 447.4h2.5v2.3h-2.5zM602.9 451.9h2.5v2.3h-2.5zM600.5 454.2h4.9v2.3h-4.9zM600.5 456.5h2.5v2.3h-2.5zM602.9 458.8h2.5v2.3h-2.5zM602.9 461.1h2.5v2.3h-2.5zM600.5 463.3h2.5v2.3h-2.5zM600.5 465.6h2.5v2.3h-2.5zM441.7 477.0h2.5v2.3h-2.5zM441.7 479.2h2.5v2.3h-2.5zM549.2 481.5h2.5v2.3h-2.5zM549.2 483.8h2.5v2.3h-2.5zM436.8 486.1h7.4v2.3h-7.4zM551.6 486.1h4.9v2.3h-4.9zM559.0 486.1h4.9v2.3h-4.9zM566.3 486.1h4.9v2.3h-4.9zM581.0 486.1h2.5v2.3h-2.5zM612.7 486.1h2.5v2.3h-2.5zM436.8 488.4h7.4v2.3h-7.4zM561.4 488.4h12.3v2.3h-12.3zM576.1 488.4h9.8v2.3h-9.8zM610.3 488.4h4.9v2.3h-4.9zM602.9 497.5h2.5v2.3h-2.5z"/>
<path fill="#05afed" shape-rendering="crispEdges" d="M502.8 310.9h4.9v2.3h-4.9zM519.9 310.9h2.5v2.3h-2.5zM436.8 313.2h4.9v2.3h-4.9zM495.5 313.2h4.9v2.3h-4.9zM502.8 313.2h4.9v2.3h-4.9zM515.0 313.2h2.5v2.3h-2.5zM519.9 313.2h2.5v2.3h-2.5zM495.5 315.4h2.5v2.3h-2.5zM502.8 315.4h2.5v2.3h-2.5zM507.7 315.4h2.5v2.3h-2.5zM515.0 315.4h2.5v2.3h-2.5zM519.9 315.4h2.5v2.3h-2.5zM495.5 317.7h4.9v2.3h-4.9zM502.8 317.7h4.9v2.3h-4.9zM517.4 317.7h2.5v2.3h-2.5zM512.6 320.0h2.5v2.3h-2.5zM517.4 320.0h2.5v2.3h-2.5zM497.9 322.3h2.5v2.3h-2.5zM502.8 322.3h14.7v2.3h-14.7zM519.9 322.3h2.5v2.3h-2.5zM439.3 331.4h2.5v2.3h-2.5zM585.8 331.4h7.4v2.3h-7.4zM595.6 331.4h4.9v2.3h-4.9zM414.8 333.6h4.9v2.3h-4.9zM414.8 335.9h4.9v2.3h-4.9zM434.4 335.9h2.5v2.3h-2.5zM583.4 335.9h2.5v2.3h-2.5zM598.1 335.9h2.5v2.3h-2.5zM412.4 338.2h2.5v2.3h-2.5zM419.7 338.2h2.5v2.3h-2.5zM424.6 338.2h2.5v2.3h-2.5zM434.4 338.2h2.5v2.3h-2.5zM581.0 338.2h2.5v2.3h-2.5zM612.7 347.3h4.9v2.3h-4.9zM607.8 365.5h2.5v2.3h-2.5zM615.2 365.5h2.5v2.3h-2.5zM607.8 367.8h2.5v2.3h-2.5zM615.2 367.8h2.5v2.3h-2.5zM607.8 370.0h2.5v2.3h-2.5zM605.4 372.3h2.5v2.3h-2.5zM615.2 376.9h2.5v2.3h-2.5zM607.8 379.1h2.5v2.3h-2.5zM605.4 381.4h2.5v2.3h-2.5zM615.2 386.0h2.5v2.3h-2.5zM414.8 388.2h2.5v2.3h-2.5zM549.2 388.2h2.5v2.3h-2.5zM554.1 388.2h2.5v2.3h-2.5zM559.0 388.2h2.5v2.3h-2.5zM563.9 388.2h2.5v2.3h-2.5zM568.7 388.2h2.5v2.3h-2.5zM412.4 390.5h2.5v2.3h-2.5zM417.3 390.5h9.8v2.3h-9.8zM549.2 390.5h2.5v2.3h-2.5zM554.1 390.5h2.5v2.3h-2.5zM561.4 390.5h2.5v2.3h-2.5zM568.7 390.5h2.5v2.3h-2.5zM573.6 390.5h7.4v2.3h-7.4zM427.1 392.8h2.5v2.3h-2.5zM556.5 392.8h2.5v2.3h-2.5zM414.8 395.1h2.5v2.3h-2.5zM419.7 395.1h2.5v2.3h-2.5zM551.6 395.1h2.5v2.3h-2.5zM559.0 395.1h2.5v2.3h-2.5zM563.9 395.1h2.5v2.3h-2.5zM568.7 395.1h12.3v2.3h-12.3zM412.4 397.4h2.5v2.3h-2.5zM422.2 397.4h4.9v2.3h-4.9zM549.2 397.4h2.5v2.3h-2.5zM554.1 397.4h7.4v2.3h-7.4zM568.7 397.4h4.9v2.3h-4.9zM576.1 397.4h4.9v2.3h-4.9zM414.8 399.6h2.5v2.3h-2.5zM549.2 399.6h2.5v2.3h-2.5zM566.3 399.6h2.5v2.3h-2.5zM414.8 401.9h2.5v2.3h-2.5zM424.6 401.9h2.5v2.3h-2.5zM549.2 401.9h2.5v2.3h-2.5zM559.0 401.9h2.5v2.3h-2.5zM568.7 401.9h4.9v2.3h-4.9zM578.5 401.9h2.5v2.3h-2.5zM412.4 404.2h7.4v2.3h-7.4zM422.2 404.2h4.9v2.3h-4.9zM549.2 404.2h4.9v2.3h-4.9zM559.0 404.2h4.9v2.3h-4.9zM568.7 404.2h4.9v2.3h-4.9zM578.5 404.2h2.5v2.3h-2.5zM414.8 406.4h2.5v2.3h-2.5zM419.7 406.4h2.5v2.3h-2.5zM424.6 406.4h2.5v2.3h-2.5zM554.1 406.4h2.5v2.3h-2.5zM566.3 406.4h2.5v2.3h-2.5zM573.6 406.4h4.9v2.3h-4.9zM412.4 408.7h2.5v2.3h-2.5zM419.7 408.7h2.5v2.3h-2.5zM424.6 408.7h2.5v2.3h-2.5zM551.6 408.7h4.9v2.3h-4.9zM559.0 408.7h2.5v2.3h-2.5zM563.9 408.7h2.5v2.3h-2.5zM571.2 408.7h2.5v2.3h-2.5zM576.1 408.7h2.5v2.3h-2.5zM419.7 411.0h7.4v2.3h-7.4zM549.2 411.0h4.9v2.3h-4.9zM568.7 411.0h7.4v2.3h-7.4zM544.3 413.3h2.5v2.3h-2.5zM600.5 413.3h2.5v2.3h-2.5zM600.5 420.1h4.9v2.3h-4.9zM544.3 422.4h4.9v2.3h-4.9zM602.9 422.4h2.5v2.3h-2.5zM600.5 424.6h4.9v2.3h-4.9zM541.9 426.9h2.5v2.3h-2.5zM546.8 426.9h2.5v2.3h-2.5zM600.5 426.9h2.5v2.3h-2.5zM541.9 429.2h2.5v2.3h-2.5zM600.5 429.2h4.9v2.3h-4.9zM524.8 431.5h2.5v2.3h-2.5zM529.7 431.5h4.9v2.3h-4.9zM537.0 431.5h4.9v2.3h-4.9zM522.3 433.8h2.5v2.3h-2.5zM532.1 433.8h2.5v2.3h-2.5zM537.0 433.8h2.5v2.3h-2.5zM527.2 436.0h2.5v2.3h-2.5zM532.1 436.0h2.5v2.3h-2.5zM497.9 438.3h2.5v2.3h-2.5zM502.8 438.3h2.5v2.3h-2.5zM510.1 438.3h4.9v2.3h-4.9zM517.4 438.3h4.9v2.3h-4.9zM583.4 438.3h4.9v2.3h-4.9zM607.8 438.3h2.5v2.3h-2.5zM497.9 440.6h2.5v2.3h-2.5zM502.8 440.6h7.4v2.3h-7.4zM581.0 440.6h2.5v2.3h-2.5zM502.8 442.9h4.9v2.3h-4.9zM512.6 442.9h2.5v2.3h-2.5zM517.4 442.9h4.9v2.3h-4.9zM598.1 442.9h2.5v2.3h-2.5zM510.1 445.1h2.5v2.3h-2.5zM581.0 445.1h2.5v2.3h-2.5zM595.6 445.1h2.5v2.3h-2.5zM497.9 447.4h2.5v2.3h-2.5zM502.8 447.4h2.5v2.3h-2.5zM507.7 447.4h7.4v2.3h-7.4zM517.4 447.4h2.5v2.3h-2.5zM581.0 447.4h7.4v2.3h-7.4zM497.9 449.7h2.5v2.3h-2.5zM502.8 449.7h4.9v2.3h-4.9zM512.6 449.7h9.8v2.3h-9.8zM581.0 449.7h2.5v2.3h-2.5zM495.5 451.9h2.5v2.3h-2.5zM507.7 451.9h2.5v2.3h-2.5zM519.9 451.9h2.5v2.3h-2.5zM581.0 451.9h4.9v2.3h-4.9zM607.8 451.9h2.5v2.3h-2.5zM500.3 454.2h2.5v2.3h-2.5zM510.1 454.2h2.5v2.3h-2.5zM581.0 454.2h9.8v2.3h-9.8zM593.2 454.2h4.9v2.3h-4.9zM497.9 456.5h2.5v2.3h-2.5zM505.2 456.5h2.5v2.3h-2.5zM512.6 456.5h4.9v2.3h-4.9zM519.9 456.5h2.5v2.3h-2.5zM581.0 456.5h4.9v2.3h-4.9zM497.9 458.8h2.5v2.3h-2.5zM505.2 458.8h2.5v2.3h-2.5zM512.6 458.8h4.9v2.3h-4.9zM581.0 458.8h4.9v2.3h-4.9zM607.8 458.8h2.5v2.3h-2.5zM502.8 461.1h7.4v2.3h-7.4zM515.0 461.1h2.5v2.3h-2.5zM519.9 461.1h2.5v2.3h-2.5zM583.4 461.1h2.5v2.3h-2.5zM502.8 463.3h4.9v2.3h-4.9zM512.6 463.3h4.9v2.3h-4.9zM581.0 463.3h7.4v2.3h-7.4zM512.6 465.6h2.5v2.3h-2.5zM517.4 465.6h4.9v2.3h-4.9zM581.0 465.6h7.4v2.3h-7.4zM598.1 465.6h2.5v2.3h-2.5zM436.8 467.9h2.5v2.3h-2.5zM549.2 467.9h4.9v2.3h-4.9zM556.5 467.9h4.9v2.3h-4.9zM566.3 467.9h2.5v2.3h-2.5zM573.6 467.9h7.4v2.3h-7.4zM439.3 470.1h2.5v2.3h-2.5zM554.1 470.1h2.5v2.3h-2.5zM559.0 470.1h2.5v2.3h-2.5zM568.7 470.1h12.3v2.3h-12.3zM434.4 472.4h2.5v2.3h-2.5zM549.2 472.4h2.5v2.3h-2.5zM556.5 472.4h7.4v2.3h-7.4zM566.3 472.4h4.9v2.3h-4.9zM573.6 472.4h4.9v2.3h-4.9zM439.3 474.7h2.5v2.3h-2.5zM556.5 474.7h2.5v2.3h-2.5zM561.4 474.7h2.5v2.3h-2.5zM568.7 474.7h2.5v2.3h-2.5zM434.4 479.2h2.5v2.3h-2.5zM556.5 479.2h2.5v2.3h-2.5zM566.3 479.2h2.5v2.3h-2.5zM434.4 481.5h2.5v2.3h-2.5zM556.5 481.5h2.5v2.3h-2.5zM434.4 483.8h2.5v2.3h-2.5zM556.5 483.8h2.5v2.3h-2.5zM566.3 483.8h2.5v2.3h-2.5zM529.7 486.1h2.5v2.3h-2.5zM534.5 486.1h2.5v2.3h-2.5zM539.4 486.1h2.5v2.3h-2.5zM434.4 488.4h2.5v2.3h-2.5zM524.8 488.4h2.5v2.3h-2.5zM529.7 488.4h2.5v2.3h-2.5zM451.5 490.6h2.5v2.3h-2.5zM473.5 490.6h2.5v2.3h-2.5zM444.2 492.9h2.5v2.3h-2.5zM451.5 492.9h2.5v2.3h-2.5zM473.5 492.9h2.5v2.3h-2.5zM485.7 492.9h2.5v2.3h-2.5zM549.2 492.9h2.5v2.3h-2.5zM488.1 495.2h2.5v2.3h-2.5zM451.5 497.5h2.5v2.3h-2.5zM444.2 499.7h2.5v2.3h-2.5zM463.7 499.7h2.5v2.3h-2.5zM473.5 499.7h7.4v2.3h-7.4zM483.2 499.7h2.5v2.3h-2.5zM488.1 499.7h2.5v2.3h-2.5zM493.0 499.7h2.5v2.3h-2.5z"/>
<path fill="#0abfe8" shape-rendering="crispEdges" d="M512.6 310.9h2.5v2.3h-2.5zM510.1 313.2h4.9v2.3h-4.9zM517.4 313.2h2.5v2.3h-2.5zM441.7 315.4h2.5v2.3h-2.5zM497.9 315.4h2.5v2.3h-2.5zM505.2 315.4h2.5v2.3h-2.5zM510.1 315.4h4.9v2.3h-4.9zM517.4 315.4h2.5v2.3h-2.5zM500.3 317.7h2.5v2.3h-2.5zM512.6 317.7h2.5v2.3h-2.5zM500.3 320.0h2.5v2.3h-2.5zM517.4 322.3h2.5v2.3h-2.5zM427.1 329.1h2.5v2.3h-2.5zM436.8 331.4h2.5v2.3h-2.5zM441.7 331.4h2.5v2.3h-2.5zM434.4 333.6h4.9v2.3h-4.9zM581.0 333.6h12.3v2.3h-12.3zM436.8 335.9h4.9v2.3h-4.9zM585.8 335.9h12.3v2.3h-12.3zM417.3 338.2h2.5v2.3h-2.5zM583.4 338.2h4.9v2.3h-4.9zM607.8 347.3h2.5v2.3h-2.5zM615.2 381.4h2.5v2.3h-2.5zM417.3 388.2h2.5v2.3h-2.5zM414.8 390.5h2.5v2.3h-2.5zM551.6 390.5h2.5v2.3h-2.5zM419.7 392.8h4.9v2.3h-4.9zM551.6 392.8h4.9v2.3h-4.9zM559.0 392.8h4.9v2.3h-4.9zM566.3 392.8h2.5v2.3h-2.5zM576.1 392.8h4.9v2.3h-4.9zM424.6 395.1h2.5v2.3h-2.5zM414.8 397.4h7.4v2.3h-7.4zM551.6 397.4h2.5v2.3h-2.5zM563.9 397.4h4.9v2.3h-4.9zM417.3 401.9h2.5v2.3h-2.5zM563.9 401.9h2.5v2.3h-2.5zM419.7 404.2h2.5v2.3h-2.5zM563.9 404.2h2.5v2.3h-2.5zM576.1 404.2h2.5v2.3h-2.5zM417.3 406.4h2.5v2.3h-2.5zM549.2 406.4h2.5v2.3h-2.5zM563.9 406.4h2.5v2.3h-2.5zM414.8 408.7h4.9v2.3h-4.9zM549.2 408.7h2.5v2.3h-2.5zM414.8 411.0h4.9v2.3h-4.9zM563.9 411.0h2.5v2.3h-2.5zM541.9 415.6h7.4v2.3h-7.4zM544.3 417.8h2.5v2.3h-2.5zM541.9 420.1h2.5v2.3h-2.5zM541.9 424.6h2.5v2.3h-2.5zM546.8 424.6h2.5v2.3h-2.5zM544.3 426.9h2.5v2.3h-2.5zM544.3 429.2h4.9v2.3h-4.9zM524.8 433.8h4.9v2.3h-4.9zM534.5 433.8h2.5v2.3h-2.5zM539.4 433.8h2.5v2.3h-2.5zM524.8 436.0h2.5v2.3h-2.5zM529.7 436.0h2.5v2.3h-2.5zM534.5 436.0h2.5v2.3h-2.5zM539.4 436.0h2.5v2.3h-2.5zM505.2 438.3h2.5v2.3h-2.5zM581.0 438.3h2.5v2.3h-2.5zM588.3 438.3h4.9v2.3h-4.9zM598.1 438.3h2.5v2.3h-2.5zM512.6 440.6h2.5v2.3h-2.5zM585.8 440.6h4.9v2.3h-4.9zM593.2 440.6h4.9v2.3h-4.9zM500.3 442.9h2.5v2.3h-2.5zM581.0 442.9h2.5v2.3h-2.5zM588.3 442.9h9.8v2.3h-9.8zM500.3 445.1h2.5v2.3h-2.5zM590.7 445.1h4.9v2.3h-4.9zM588.3 447.4h9.8v2.3h-9.8zM583.4 449.7h7.4v2.3h-7.4zM593.2 449.7h7.4v2.3h-7.4zM497.9 451.9h2.5v2.3h-2.5zM502.8 451.9h4.9v2.3h-4.9zM510.1 451.9h4.9v2.3h-4.9zM517.4 451.9h2.5v2.3h-2.5zM585.8 451.9h2.5v2.3h-2.5zM593.2 451.9h2.5v2.3h-2.5zM598.1 451.9h2.5v2.3h-2.5zM590.7 454.2h2.5v2.3h-2.5zM495.5 456.5h2.5v2.3h-2.5zM500.3 456.5h2.5v2.3h-2.5zM585.8 456.5h4.9v2.3h-4.9zM593.2 456.5h2.5v2.3h-2.5zM598.1 456.5h2.5v2.3h-2.5zM500.3 458.8h2.5v2.3h-2.5zM517.4 458.8h2.5v2.3h-2.5zM585.8 458.8h9.8v2.3h-9.8zM512.6 461.1h2.5v2.3h-2.5zM581.0 461.1h2.5v2.3h-2.5zM585.8 461.1h4.9v2.3h-4.9zM593.2 461.1h7.4v2.3h-7.4zM500.3 463.3h2.5v2.3h-2.5zM588.3 463.3h4.9v2.3h-4.9zM595.6 463.3h4.9v2.3h-4.9zM500.3 465.6h2.5v2.3h-2.5zM505.2 465.6h2.5v2.3h-2.5zM588.3 465.6h2.5v2.3h-2.5zM593.2 465.6h4.9v2.3h-4.9zM561.4 467.9h2.5v2.3h-2.5zM568.7 467.9h4.9v2.3h-4.9zM436.8 470.1h2.5v2.3h-2.5zM441.7 470.1h2.5v2.3h-2.5zM549.2 470.1h2.5v2.3h-2.5zM563.9 470.1h2.5v2.3h-2.5zM436.8 472.4h7.4v2.3h-7.4zM551.6 472.4h4.9v2.3h-4.9zM563.9 472.4h2.5v2.3h-2.5zM571.2 472.4h2.5v2.3h-2.5zM578.5 472.4h2.5v2.3h-2.5zM434.4 474.7h4.9v2.3h-4.9zM549.2 474.7h4.9v2.3h-4.9zM563.9 474.7h4.9v2.3h-4.9zM571.2 474.7h2.5v2.3h-2.5zM576.1 474.7h4.9v2.3h-4.9zM434.4 477.0h2.5v2.3h-2.5zM554.1 477.0h7.4v2.3h-7.4zM566.3 477.0h4.9v2.3h-4.9zM573.6 477.0h4.9v2.3h-4.9zM436.8 479.2h2.5v2.3h-2.5zM554.1 479.2h2.5v2.3h-2.5zM561.4 479.2h2.5v2.3h-2.5zM571.2 479.2h9.8v2.3h-9.8zM439.3 481.5h2.5v2.3h-2.5zM551.6 481.5h4.9v2.3h-4.9zM559.0 481.5h2.5v2.3h-2.5zM566.3 481.5h2.5v2.3h-2.5zM571.2 481.5h2.5v2.3h-2.5zM576.1 481.5h4.9v2.3h-4.9zM436.8 483.8h4.9v2.3h-4.9zM551.6 483.8h4.9v2.3h-4.9zM559.0 483.8h7.4v2.3h-7.4zM571.2 483.8h9.8v2.3h-9.8zM524.8 486.1h2.5v2.3h-2.5zM488.1 492.9h2.5v2.3h-2.5zM451.5 499.7h2.5v2.3h-2.5z"/>
<path fill="#425efa" shape-rendering="crispEdges" d="M522.3 310.9h4.9v2.3h-4.9zM539.4 310.9h2.5v2.3h-2.5zM522.3 313.2h7.4v2.3h-7.4zM532.1 313.2h2.5v2.3h-2.5zM537.0 313.2h2.5v2.3h-2.5zM522.3 315.4h2.5v2.3h-2.5zM527.2 315.4h2.5v2.3h-2.5zM532.1 315.4h2.5v2.3h-2.5zM537.0 315.4h2.5v2.3h-2.5zM524.8 317.7h2.5v2.3h-2.5zM529.7 317.7h9.8v2.3h-9.8zM524.8 320.0h2.5v2.3h-2.5zM534.5 320.0h2.5v2.3h-2.5zM522.3 322.3h4.9v2.3h-4.9zM532.1 322.3h7.4v2.3h-7.4zM439.3 324.5h2.5v2.3h-2.5zM502.8 324.5h2.5v2.3h-2.5zM441.7 326.8h2.5v2.3h-2.5zM524.8 326.8h2.5v2.3h-2.5zM439.3 329.1h4.9v2.3h-4.9zM497.9 329.1h2.5v2.3h-2.5zM507.7 329.1h2.5v2.3h-2.5zM512.6 329.1h2.5v2.3h-2.5zM551.6 329.1h2.5v2.3h-2.5zM566.3 329.1h2.5v2.3h-2.5zM427.1 331.4h4.9v2.3h-4.9zM427.1 333.6h2.5v2.3h-2.5zM431.9 335.9h2.5v2.3h-2.5zM431.9 338.2h2.5v2.3h-2.5zM602.9 340.5h2.5v2.3h-2.5zM600.5 342.8h4.9v2.3h-4.9zM600.5 345.0h4.9v2.3h-4.9zM602.9 351.8h2.5v2.3h-2.5zM600.5 354.1h2.5v2.3h-2.5zM612.7 354.1h2.5v2.3h-2.5zM602.9 356.4h2.5v2.3h-2.5zM612.7 356.4h2.5v2.3h-2.5zM600.5 358.7h4.9v2.3h-4.9zM602.9 360.9h2.5v2.3h-2.5zM600.5 363.2h2.5v2.3h-2.5zM602.9 365.5h2.5v2.3h-2.5zM610.3 374.6h2.5v2.3h-2.5zM600.5 376.9h2.5v2.3h-2.5zM600.5 379.1h2.5v2.3h-2.5zM602.9 383.7h2.5v2.3h-2.5zM612.7 383.7h2.5v2.3h-2.5zM427.1 388.2h2.5v2.3h-2.5zM431.9 388.2h2.5v2.3h-2.5zM602.9 388.2h2.5v2.3h-2.5zM544.3 390.5h4.9v2.3h-4.9zM541.9 392.8h2.5v2.3h-2.5zM595.6 392.8h2.5v2.3h-2.5zM541.9 395.1h7.4v2.3h-7.4zM541.9 397.4h4.9v2.3h-4.9zM431.9 399.6h2.5v2.3h-2.5zM544.3 399.6h2.5v2.3h-2.5zM585.8 399.6h2.5v2.3h-2.5zM602.9 399.6h2.5v2.3h-2.5zM431.9 401.9h2.5v2.3h-2.5zM541.9 404.2h2.5v2.3h-2.5zM546.8 404.2h2.5v2.3h-2.5zM431.9 406.4h2.5v2.3h-2.5zM546.8 406.4h2.5v2.3h-2.5zM602.9 406.4h2.5v2.3h-2.5zM541.9 408.7h7.4v2.3h-7.4zM431.9 411.0h2.5v2.3h-2.5zM544.3 411.0h2.5v2.3h-2.5zM419.7 413.3h2.5v2.3h-2.5zM590.7 413.3h2.5v2.3h-2.5zM595.6 413.3h2.5v2.3h-2.5zM412.4 415.6h7.4v2.3h-7.4zM424.6 415.6h2.5v2.3h-2.5zM581.0 415.6h4.9v2.3h-4.9zM588.3 415.6h2.5v2.3h-2.5zM593.2 415.6h2.5v2.3h-2.5zM598.1 415.6h2.5v2.3h-2.5zM414.8 417.8h2.5v2.3h-2.5zM419.7 417.8h2.5v2.3h-2.5zM424.6 417.8h2.5v2.3h-2.5zM593.2 417.8h7.4v2.3h-7.4zM419.7 420.1h4.9v2.3h-4.9zM581.0 420.1h9.8v2.3h-9.8zM414.8 422.4h2.5v2.3h-2.5zM422.2 422.4h4.9v2.3h-4.9zM590.7 422.4h9.8v2.3h-9.8zM412.4 424.6h2.5v2.3h-2.5zM419.7 424.6h2.5v2.3h-2.5zM583.4 424.6h4.9v2.3h-4.9zM590.7 424.6h2.5v2.3h-2.5zM615.2 424.6h2.5v2.3h-2.5zM414.8 426.9h2.5v2.3h-2.5zM422.2 426.9h4.9v2.3h-4.9zM588.3 426.9h7.4v2.3h-7.4zM598.1 426.9h2.5v2.3h-2.5zM412.4 429.2h2.5v2.3h-2.5zM419.7 429.2h2.5v2.3h-2.5zM581.0 429.2h7.4v2.3h-7.4zM590.7 429.2h9.8v2.3h-9.8zM500.3 431.5h2.5v2.3h-2.5zM495.5 433.8h2.5v2.3h-2.5zM502.8 433.8h2.5v2.3h-2.5zM512.6 433.8h2.5v2.3h-2.5zM519.9 433.8h2.5v2.3h-2.5zM512.6 436.0h2.5v2.3h-2.5zM519.9 436.0h2.5v2.3h-2.5zM431.9 445.1h2.5v2.3h-2.5zM610.3 465.6h2.5v2.3h-2.5zM524.8 467.9h4.9v2.3h-4.9zM539.4 467.9h2.5v2.3h-2.5zM539.4 470.1h2.5v2.3h-2.5zM524.8 472.4h2.5v2.3h-2.5zM529.7 472.4h2.5v2.3h-2.5zM539.4 472.4h2.5v2.3h-2.5zM522.3 474.7h7.4v2.3h-7.4zM534.5 474.7h7.4v2.3h-7.4zM524.8 477.0h4.9v2.3h-4.9zM532.1 477.0h9.8v2.3h-9.8zM524.8 479.2h4.9v2.3h-4.9zM532.1 479.2h2.5v2.3h-2.5zM537.0 479.2h4.9v2.3h-4.9zM522.3 481.5h4.9v2.3h-4.9zM534.5 481.5h7.4v2.3h-7.4zM522.3 483.8h19.6v2.3h-19.6zM446.6 486.1h2.5v2.3h-2.5zM453.9 486.1h9.8v2.3h-9.8zM466.1 486.1h2.5v2.3h-2.5zM471.0 486.1h2.5v2.3h-2.5zM475.9 486.1h2.5v2.3h-2.5zM483.2 486.1h2.5v2.3h-2.5zM490.6 486.1h2.5v2.3h-2.5zM495.5 486.1h2.5v2.3h-2.5zM446.6 488.4h4.9v2.3h-4.9zM458.8 488.4h14.7v2.3h-14.7zM485.7 488.4h2.5v2.3h-2.5zM529.7 492.9h2.5v2.3h-2.5zM480.8 495.2h2.5v2.3h-2.5zM556.5 495.2h2.5v2.3h-2.5zM458.8 497.5h2.5v2.3h-2.5zM566.3 497.5h2.5v2.3h-2.5z"/>
<path fill="#5247fc" shape-rendering="crispEdges" d="M527.2 310.9h12.3v2.3h-12.3zM522.3 317.7h2.5v2.3h-2.5zM527.2 317.7h2.5v2.3h-2.5zM522.3 320.0h2.5v2.3h-2.5zM532.1 320.0h2.5v2.3h-2.5zM537.0 320.0h2.5v2.3h-2.5zM527.2 322.3h2.5v2.3h-2.5zM539.4 322.3h2.5v2.3h-2.5zM434.4 324.5h4.9v2.3h-4.9zM529.7 324.5h2.5v2.3h-2.5zM539.4 324.5h2.5v2.3h-2.5zM551.6 324.5h7.4v2.3h-7.4zM561.4 324.5h2.5v2.3h-2.5zM566.3 324.5h9.8v2.3h-9.8zM578.5 324.5h4.9v2.3h-4.9zM600.5 324.5h2.5v2.3h-2.5zM434.4 326.8h2.5v2.3h-2.5zM529.7 326.8h2.5v2.3h-2.5zM534.5 326.8h2.5v2.3h-2.5zM541.9 326.8h2.5v2.3h-2.5zM556.5 326.8h2.5v2.3h-2.5zM561.4 326.8h7.4v2.3h-7.4zM434.4 329.1h4.9v2.3h-4.9zM495.5 329.1h2.5v2.3h-2.5zM510.1 329.1h2.5v2.3h-2.5zM541.9 329.1h2.5v2.3h-2.5zM546.8 329.1h4.9v2.3h-4.9zM554.1 329.1h12.3v2.3h-12.3zM568.7 329.1h12.3v2.3h-12.3zM583.4 329.1h4.9v2.3h-4.9zM600.5 329.1h7.4v2.3h-7.4zM610.3 329.1h4.9v2.3h-4.9zM431.9 333.6h2.5v2.3h-2.5zM600.5 351.8h2.5v2.3h-2.5zM602.9 354.1h2.5v2.3h-2.5zM600.5 374.6h4.9v2.3h-4.9zM602.9 379.1h2.5v2.3h-2.5zM588.3 381.4h2.5v2.3h-2.5zM600.5 383.7h2.5v2.3h-2.5zM541.9 388.2h7.4v2.3h-7.4zM581.0 388.2h4.9v2.3h-4.9zM434.4 390.5h2.5v2.3h-2.5zM541.9 390.5h2.5v2.3h-2.5zM583.4 390.5h17.2v2.3h-17.2zM441.7 392.8h2.5v2.3h-2.5zM581.0 392.8h14.7v2.3h-14.7zM598.1 392.8h2.5v2.3h-2.5zM581.0 395.1h2.5v2.3h-2.5zM590.7 395.1h2.5v2.3h-2.5zM546.8 397.4h2.5v2.3h-2.5zM588.3 397.4h12.3v2.3h-12.3zM541.9 399.6h2.5v2.3h-2.5zM546.8 399.6h2.5v2.3h-2.5zM581.0 399.6h4.9v2.3h-4.9zM590.7 399.6h4.9v2.3h-4.9zM541.9 401.9h7.4v2.3h-7.4zM581.0 401.9h17.2v2.3h-17.2zM544.3 404.2h2.5v2.3h-2.5zM581.0 404.2h2.5v2.3h-2.5zM590.7 404.2h9.8v2.3h-9.8zM541.9 406.4h4.9v2.3h-4.9zM583.4 406.4h2.5v2.3h-2.5zM590.7 406.4h4.9v2.3h-4.9zM590.7 408.7h9.8v2.3h-9.8zM541.9 411.0h2.5v2.3h-2.5zM546.8 411.0h2.5v2.3h-2.5zM581.0 411.0h4.9v2.3h-4.9zM588.3 411.0h9.8v2.3h-9.8zM414.8 413.3h4.9v2.3h-4.9zM422.2 413.3h4.9v2.3h-4.9zM588.3 413.3h2.5v2.3h-2.5zM593.2 413.3h2.5v2.3h-2.5zM598.1 413.3h2.5v2.3h-2.5zM605.4 413.3h2.5v2.3h-2.5zM610.3 413.3h7.4v2.3h-7.4zM422.2 415.6h2.5v2.3h-2.5zM585.8 415.6h2.5v2.3h-2.5zM590.7 415.6h2.5v2.3h-2.5zM605.4 415.6h7.4v2.3h-7.4zM615.2 415.6h2.5v2.3h-2.5zM412.4 417.8h2.5v2.3h-2.5zM422.2 417.8h2.5v2.3h-2.5zM581.0 417.8h2.5v2.3h-2.5zM585.8 417.8h7.4v2.3h-7.4zM607.8 417.8h9.8v2.3h-9.8zM427.1 420.1h4.9v2.3h-4.9zM605.4 420.1h12.3v2.3h-12.3zM412.4 422.4h2.5v2.3h-2.5zM419.7 422.4h2.5v2.3h-2.5zM581.0 422.4h9.8v2.3h-9.8zM612.7 422.4h4.9v2.3h-4.9zM422.2 424.6h2.5v2.3h-2.5zM429.5 424.6h2.5v2.3h-2.5zM581.0 424.6h2.5v2.3h-2.5zM595.6 424.6h4.9v2.3h-4.9zM605.4 424.6h9.8v2.3h-9.8zM412.4 426.9h2.5v2.3h-2.5zM419.7 426.9h2.5v2.3h-2.5zM429.5 426.9h2.5v2.3h-2.5zM581.0 426.9h7.4v2.3h-7.4zM595.6 426.9h2.5v2.3h-2.5zM605.4 426.9h4.9v2.3h-4.9zM612.7 426.9h4.9v2.3h-4.9zM422.2 429.2h2.5v2.3h-2.5zM429.5 429.2h2.5v2.3h-2.5zM588.3 429.2h2.5v2.3h-2.5zM605.4 429.2h7.4v2.3h-7.4zM615.2 429.2h2.5v2.3h-2.5zM431.9 431.5h2.5v2.3h-2.5zM495.5 431.5h4.9v2.3h-4.9zM502.8 431.5h4.9v2.3h-4.9zM510.1 431.5h12.3v2.3h-12.3zM497.9 433.8h2.5v2.3h-2.5zM505.2 433.8h7.4v2.3h-7.4zM517.4 433.8h2.5v2.3h-2.5zM431.9 436.0h2.5v2.3h-2.5zM495.5 436.0h4.9v2.3h-4.9zM502.8 436.0h9.8v2.3h-9.8zM515.0 436.0h4.9v2.3h-4.9zM431.9 438.3h2.5v2.3h-2.5zM427.1 440.6h7.4v2.3h-7.4zM427.1 442.9h2.5v2.3h-2.5zM431.9 442.9h2.5v2.3h-2.5zM412.4 445.1h2.5v2.3h-2.5zM427.1 445.1h4.9v2.3h-4.9zM431.9 447.4h2.5v2.3h-2.5zM427.1 449.7h2.5v2.3h-2.5zM431.9 449.7h2.5v2.3h-2.5zM431.9 451.9h2.5v2.3h-2.5zM427.1 454.2h7.4v2.3h-7.4zM429.5 456.5h4.9v2.3h-4.9zM427.1 458.8h7.4v2.3h-7.4zM427.1 461.1h2.5v2.3h-2.5zM431.9 461.1h2.5v2.3h-2.5zM427.1 463.3h7.4v2.3h-7.4zM427.1 465.6h2.5v2.3h-2.5zM431.9 465.6h2.5v2.3h-2.5zM427.1 467.9h2.5v2.3h-2.5zM431.9 467.9h2.5v2.3h-2.5zM495.5 467.9h2.5v2.3h-2.5zM500.3 467.9h2.5v2.3h-2.5zM505.2 467.9h17.2v2.3h-17.2zM532.1 467.9h7.4v2.3h-7.4zM431.9 470.1h2.5v2.3h-2.5zM495.5 470.1h9.8v2.3h-9.8zM507.7 470.1h2.5v2.3h-2.5zM512.6 470.1h7.4v2.3h-7.4zM524.8 470.1h2.5v2.3h-2.5zM537.0 470.1h2.5v2.3h-2.5zM431.9 472.4h2.5v2.3h-2.5zM495.5 472.4h2.5v2.3h-2.5zM500.3 472.4h9.8v2.3h-9.8zM515.0 472.4h4.9v2.3h-4.9zM527.2 472.4h2.5v2.3h-2.5zM534.5 472.4h4.9v2.3h-4.9zM495.5 474.7h7.4v2.3h-7.4zM505.2 474.7h4.9v2.3h-4.9zM512.6 474.7h4.9v2.3h-4.9zM519.9 474.7h2.5v2.3h-2.5zM532.1 474.7h2.5v2.3h-2.5zM497.9 477.0h9.8v2.3h-9.8zM510.1 477.0h14.7v2.3h-14.7zM497.9 479.2h4.9v2.3h-4.9zM505.2 479.2h2.5v2.3h-2.5zM512.6 479.2h12.3v2.3h-12.3zM534.5 479.2h2.5v2.3h-2.5zM497.9 481.5h9.8v2.3h-9.8zM512.6 481.5h2.5v2.3h-2.5zM517.4 481.5h4.9v2.3h-4.9zM527.2 481.5h2.5v2.3h-2.5zM532.1 481.5h2.5v2.3h-2.5zM497.9 483.8h4.9v2.3h-4.9zM505.2 483.8h17.2v2.3h-17.2zM427.1 486.1h7.4v2.3h-7.4zM480.8 486.1h2.5v2.3h-2.5zM431.9 488.4h2.5v2.3h-2.5zM453.9 488.4h4.9v2.3h-4.9zM480.8 488.4h2.5v2.3h-2.5zM490.6 488.4h2.5v2.3h-2.5zM431.9 490.6h2.5v2.3h-2.5zM500.3 490.6h2.5v2.3h-2.5zM524.8 490.6h2.5v2.3h-2.5zM529.7 490.6h12.3v2.3h-12.3zM524.8 492.9h2.5v2.3h-2.5zM532.1 492.9h9.8v2.3h-9.8zM522.3 495.2h4.9v2.3h-4.9zM529.7 495.2h7.4v2.3h-7.4zM539.4 495.2h2.5v2.3h-2.5zM431.9 497.5h2.5v2.3h-2.5zM522.3 497.5h9.8v2.3h-9.8zM500.3 499.7h2.5v2.3h-2.5zM522.3 499.7h19.6v2.3h-19.6z"/>
<path fill="#6130fe" shape-rendering="crispEdges" d="M541.9 310.9h2.5v2.3h-2.5zM549.2 310.9h31.8v2.3h-31.8zM583.4 310.9h4.9v2.3h-4.9zM600.5 310.9h4.9v2.3h-4.9zM607.8 310.9h7.4v2.3h-7.4zM549.2 313.2h31.8v2.3h-31.8zM595.6 313.2h9.8v2.3h-9.8zM607.8 313.2h2.5v2.3h-2.5zM615.2 313.2h2.5v2.3h-2.5zM544.3 315.4h2.5v2.3h-2.5zM549.2 315.4h7.4v2.3h-7.4zM559.0 315.4h22.0v2.3h-22.0zM590.7 315.4h7.4v2.3h-7.4zM600.5 315.4h4.9v2.3h-4.9zM607.8 315.4h2.5v2.3h-2.5zM615.2 315.4h2.5v2.3h-2.5zM541.9 317.7h2.5v2.3h-2.5zM549.2 317.7h9.8v2.3h-9.8zM561.4 317.7h9.8v2.3h-9.8zM576.1 317.7h2.5v2.3h-2.5zM583.4 317.7h2.5v2.3h-2.5zM590.7 317.7h2.5v2.3h-2.5zM600.5 317.7h4.9v2.3h-4.9zM527.2 320.0h2.5v2.3h-2.5zM549.2 320.0h31.8v2.3h-31.8zM583.4 320.0h2.5v2.3h-2.5zM600.5 320.0h4.9v2.3h-4.9zM549.2 322.3h26.9v2.3h-26.9zM578.5 322.3h2.5v2.3h-2.5zM583.4 322.3h2.5v2.3h-2.5zM590.7 322.3h2.5v2.3h-2.5zM600.5 322.3h4.9v2.3h-4.9zM615.2 322.3h2.5v2.3h-2.5zM524.8 324.5h4.9v2.3h-4.9zM534.5 324.5h4.9v2.3h-4.9zM541.9 324.5h9.8v2.3h-9.8zM559.0 324.5h2.5v2.3h-2.5zM563.9 324.5h2.5v2.3h-2.5zM576.1 324.5h2.5v2.3h-2.5zM583.4 324.5h17.2v2.3h-17.2zM602.9 324.5h14.7v2.3h-14.7zM522.3 326.8h2.5v2.3h-2.5zM532.1 326.8h2.5v2.3h-2.5zM539.4 326.8h2.5v2.3h-2.5zM544.3 326.8h12.3v2.3h-12.3zM559.0 326.8h2.5v2.3h-2.5zM568.7 326.8h26.9v2.3h-26.9zM598.1 326.8h9.8v2.3h-9.8zM610.3 326.8h4.9v2.3h-4.9zM529.7 329.1h2.5v2.3h-2.5zM539.4 329.1h2.5v2.3h-2.5zM544.3 329.1h2.5v2.3h-2.5zM581.0 329.1h2.5v2.3h-2.5zM588.3 329.1h12.3v2.3h-12.3zM607.8 329.1h2.5v2.3h-2.5zM615.2 329.1h2.5v2.3h-2.5zM431.9 331.4h2.5v2.3h-2.5zM495.5 331.4h7.4v2.3h-7.4zM507.7 331.4h7.4v2.3h-7.4zM517.4 331.4h4.9v2.3h-4.9zM524.8 331.4h4.9v2.3h-4.9zM541.9 331.4h2.5v2.3h-2.5zM576.1 331.4h2.5v2.3h-2.5zM500.3 333.6h4.9v2.3h-4.9zM507.7 333.6h7.4v2.3h-7.4zM529.7 333.6h2.5v2.3h-2.5zM544.3 333.6h2.5v2.3h-2.5zM559.0 333.6h7.4v2.3h-7.4zM500.3 335.9h14.7v2.3h-14.7zM517.4 335.9h2.5v2.3h-2.5zM524.8 335.9h2.5v2.3h-2.5zM529.7 335.9h2.5v2.3h-2.5zM549.2 335.9h2.5v2.3h-2.5zM497.9 338.2h9.8v2.3h-9.8zM510.1 338.2h12.3v2.3h-12.3zM529.7 338.2h7.4v2.3h-7.4zM544.3 338.2h7.4v2.3h-7.4zM556.5 338.2h9.8v2.3h-9.8zM568.7 338.2h2.5v2.3h-2.5zM578.5 338.2h2.5v2.3h-2.5zM500.3 340.5h2.5v2.3h-2.5zM529.7 340.5h2.5v2.3h-2.5zM568.7 340.5h2.5v2.3h-2.5zM588.3 340.5h7.4v2.3h-7.4zM554.1 342.8h2.5v2.3h-2.5zM561.4 342.8h2.5v2.3h-2.5zM566.3 345.0h2.5v2.3h-2.5zM581.0 345.0h2.5v2.3h-2.5zM500.3 347.3h2.5v2.3h-2.5zM512.6 347.3h2.5v2.3h-2.5zM534.5 347.3h2.5v2.3h-2.5zM544.3 347.3h2.5v2.3h-2.5zM549.2 347.3h4.9v2.3h-4.9zM559.0 347.3h12.3v2.3h-12.3zM578.5 347.3h7.4v2.3h-7.4zM588.3 347.3h12.3v2.3h-12.3zM590.7 349.6h2.5v2.3h-2.5zM595.6 349.6h2.5v2.3h-2.5zM556.5 356.4h2.5v2.3h-2.5zM563.9 356.4h2.5v2.3h-2.5zM581.0 356.4h2.5v2.3h-2.5zM590.7 356.4h7.4v2.3h-7.4zM563.9 358.7h2.5v2.3h-2.5zM583.4 360.9h2.5v2.3h-2.5zM549.2 363.2h2.5v2.3h-2.5zM598.1 363.2h2.5v2.3h-2.5zM500.3 365.5h2.5v2.3h-2.5zM593.2 365.5h4.9v2.3h-4.9zM500.3 367.8h2.5v2.3h-2.5zM590.7 367.8h2.5v2.3h-2.5zM500.3 370.0h2.5v2.3h-2.5zM559.0 370.0h2.5v2.3h-2.5zM563.9 370.0h2.5v2.3h-2.5zM568.7 370.0h2.5v2.3h-2.5zM585.8 370.0h9.8v2.3h-9.8zM585.8 372.3h2.5v2.3h-2.5zM595.6 372.3h2.5v2.3h-2.5zM522.3 374.6h2.5v2.3h-2.5zM549.2 374.6h2.5v2.3h-2.5zM571.2 374.6h2.5v2.3h-2.5zM581.0 374.6h9.8v2.3h-9.8zM593.2 374.6h2.5v2.3h-2.5zM500.3 376.9h2.5v2.3h-2.5zM559.0 376.9h2.5v2.3h-2.5zM563.9 376.9h2.5v2.3h-2.5zM568.7 376.9h2.5v2.3h-2.5zM593.2 376.9h2.5v2.3h-2.5zM588.3 379.1h12.3v2.3h-12.3zM500.3 381.4h2.5v2.3h-2.5zM529.7 381.4h2.5v2.3h-2.5zM534.5 381.4h2.5v2.3h-2.5zM549.2 381.4h4.9v2.3h-4.9zM571.2 381.4h2.5v2.3h-2.5zM590.7 381.4h9.8v2.3h-9.8zM495.5 383.7h2.5v2.3h-2.5zM507.7 383.7h2.5v2.3h-2.5zM583.4 383.7h4.9v2.3h-4.9zM598.1 383.7h2.5v2.3h-2.5zM500.3 386.0h2.5v2.3h-2.5zM583.4 386.0h2.5v2.3h-2.5zM588.3 386.0h2.5v2.3h-2.5zM593.2 386.0h2.5v2.3h-2.5zM434.4 388.2h2.5v2.3h-2.5zM439.3 388.2h2.5v2.3h-2.5zM585.8 388.2h14.7v2.3h-14.7zM612.7 388.2h2.5v2.3h-2.5zM436.8 390.5h7.4v2.3h-7.4zM488.1 390.5h2.5v2.3h-2.5zM581.0 390.5h2.5v2.3h-2.5zM607.8 390.5h2.5v2.3h-2.5zM615.2 390.5h2.5v2.3h-2.5zM434.4 392.8h7.4v2.3h-7.4zM446.6 392.8h7.4v2.3h-7.4zM458.8 392.8h2.5v2.3h-2.5zM463.7 392.8h4.9v2.3h-4.9zM473.5 392.8h7.4v2.3h-7.4zM488.1 392.8h2.5v2.3h-2.5zM493.0 392.8h2.5v2.3h-2.5zM605.4 392.8h12.3v2.3h-12.3zM434.4 395.1h2.5v2.3h-2.5zM441.7 395.1h2.5v2.3h-2.5zM583.4 395.1h7.4v2.3h-7.4zM593.2 395.1h7.4v2.3h-7.4zM607.8 395.1h2.5v2.3h-2.5zM615.2 395.1h2.5v2.3h-2.5zM436.8 397.4h7.4v2.3h-7.4zM488.1 397.4h2.5v2.3h-2.5zM581.0 397.4h7.4v2.3h-7.4zM607.8 397.4h4.9v2.3h-4.9zM615.2 397.4h2.5v2.3h-2.5zM434.4 399.6h2.5v2.3h-2.5zM588.3 399.6h2.5v2.3h-2.5zM595.6 399.6h4.9v2.3h-4.9zM610.3 399.6h4.9v2.3h-4.9zM434.4 401.9h2.5v2.3h-2.5zM439.3 401.9h4.9v2.3h-4.9zM598.1 401.9h2.5v2.3h-2.5zM615.2 401.9h2.5v2.3h-2.5zM436.8 404.2h2.5v2.3h-2.5zM441.7 404.2h2.5v2.3h-2.5zM583.4 404.2h7.4v2.3h-7.4zM605.4 404.2h2.5v2.3h-2.5zM615.2 404.2h2.5v2.3h-2.5zM434.4 406.4h4.9v2.3h-4.9zM441.7 406.4h2.5v2.3h-2.5zM581.0 406.4h2.5v2.3h-2.5zM585.8 406.4h4.9v2.3h-4.9zM595.6 406.4h4.9v2.3h-4.9zM607.8 406.4h2.5v2.3h-2.5zM615.2 406.4h2.5v2.3h-2.5zM434.4 408.7h9.8v2.3h-9.8zM451.5 408.7h2.5v2.3h-2.5zM581.0 408.7h9.8v2.3h-9.8zM607.8 408.7h2.5v2.3h-2.5zM615.2 408.7h2.5v2.3h-2.5zM434.4 411.0h4.9v2.3h-4.9zM441.7 411.0h2.5v2.3h-2.5zM585.8 411.0h2.5v2.3h-2.5zM598.1 411.0h2.5v2.3h-2.5zM605.4 411.0h2.5v2.3h-2.5zM610.3 411.0h2.5v2.3h-2.5zM615.2 411.0h2.5v2.3h-2.5zM412.4 413.3h2.5v2.3h-2.5zM434.4 413.3h2.5v2.3h-2.5zM581.0 413.3h7.4v2.3h-7.4zM607.8 413.3h2.5v2.3h-2.5zM427.1 415.6h4.9v2.3h-4.9zM441.7 415.6h2.5v2.3h-2.5zM480.8 415.6h2.5v2.3h-2.5zM612.7 415.6h2.5v2.3h-2.5zM429.5 417.8h2.5v2.3h-2.5zM434.4 417.8h2.5v2.3h-2.5zM583.4 417.8h2.5v2.3h-2.5zM605.4 417.8h2.5v2.3h-2.5zM431.9 420.1h2.5v2.3h-2.5zM436.8 420.1h7.4v2.3h-7.4zM451.5 420.1h2.5v2.3h-2.5zM427.1 422.4h4.9v2.3h-4.9zM451.5 422.4h2.5v2.3h-2.5zM605.4 422.4h7.4v2.3h-7.4zM427.1 424.6h2.5v2.3h-2.5zM431.9 424.6h2.5v2.3h-2.5zM436.8 424.6h2.5v2.3h-2.5zM441.7 424.6h2.5v2.3h-2.5zM434.4 426.9h2.5v2.3h-2.5zM610.3 426.9h2.5v2.3h-2.5zM431.9 429.2h2.5v2.3h-2.5zM436.8 429.2h2.5v2.3h-2.5zM441.7 429.2h2.5v2.3h-2.5zM488.1 429.2h2.5v2.3h-2.5zM612.7 429.2h2.5v2.3h-2.5zM422.2 431.5h2.5v2.3h-2.5zM427.1 431.5h4.9v2.3h-4.9zM417.3 433.8h2.5v2.3h-2.5zM424.6 433.8h12.3v2.3h-12.3zM439.3 433.8h4.9v2.3h-4.9zM451.5 433.8h2.5v2.3h-2.5zM488.1 433.8h2.5v2.3h-2.5zM427.1 436.0h4.9v2.3h-4.9zM412.4 438.3h19.6v2.3h-19.6zM436.8 438.3h7.4v2.3h-7.4zM446.6 438.3h2.5v2.3h-2.5zM488.1 438.3h2.5v2.3h-2.5zM412.4 440.6h14.7v2.3h-14.7zM441.7 440.6h2.5v2.3h-2.5zM451.5 440.6h2.5v2.3h-2.5zM412.4 442.9h7.4v2.3h-7.4zM422.2 442.9h4.9v2.3h-4.9zM429.5 442.9h2.5v2.3h-2.5zM451.5 442.9h2.5v2.3h-2.5zM485.7 442.9h2.5v2.3h-2.5zM414.8 445.1h12.3v2.3h-12.3zM434.4 445.1h2.5v2.3h-2.5zM480.8 445.1h2.5v2.3h-2.5zM412.4 447.4h19.6v2.3h-19.6zM441.7 447.4h2.5v2.3h-2.5zM451.5 447.4h2.5v2.3h-2.5zM412.4 449.7h14.7v2.3h-14.7zM429.5 449.7h2.5v2.3h-2.5zM436.8 449.7h2.5v2.3h-2.5zM463.7 449.7h2.5v2.3h-2.5zM490.6 449.7h2.5v2.3h-2.5zM412.4 451.9h19.6v2.3h-19.6zM436.8 451.9h9.8v2.3h-9.8zM451.5 451.9h2.5v2.3h-2.5zM488.1 451.9h2.5v2.3h-2.5zM412.4 454.2h2.5v2.3h-2.5zM417.3 454.2h9.8v2.3h-9.8zM434.4 454.2h2.5v2.3h-2.5zM441.7 454.2h2.5v2.3h-2.5zM490.6 454.2h2.5v2.3h-2.5zM412.4 456.5h17.2v2.3h-17.2zM451.5 456.5h2.5v2.3h-2.5zM412.4 458.8h12.3v2.3h-12.3zM451.5 458.8h2.5v2.3h-2.5zM488.1 458.8h2.5v2.3h-2.5zM412.4 461.1h7.4v2.3h-7.4zM422.2 461.1h2.5v2.3h-2.5zM429.5 461.1h2.5v2.3h-2.5zM439.3 461.1h2.5v2.3h-2.5zM451.5 461.1h2.5v2.3h-2.5zM475.9 461.1h2.5v2.3h-2.5zM488.1 461.1h2.5v2.3h-2.5zM412.4 463.3h12.3v2.3h-12.3zM434.4 463.3h4.9v2.3h-4.9zM451.5 463.3h2.5v2.3h-2.5zM458.8 463.3h2.5v2.3h-2.5zM412.4 465.6h14.7v2.3h-14.7zM429.5 465.6h2.5v2.3h-2.5zM439.3 465.6h4.9v2.3h-4.9zM473.5 465.6h2.5v2.3h-2.5zM412.4 467.9h2.5v2.3h-2.5zM422.2 467.9h4.9v2.3h-4.9zM429.5 467.9h2.5v2.3h-2.5zM458.8 467.9h2.5v2.3h-2.5zM463.7 467.9h2.5v2.3h-2.5zM473.5 467.9h2.5v2.3h-2.5zM497.9 467.9h2.5v2.3h-2.5zM502.8 467.9h2.5v2.3h-2.5zM522.3 467.9h2.5v2.3h-2.5zM422.2 470.1h2.5v2.3h-2.5zM427.1 470.1h4.9v2.3h-4.9zM456.4 470.1h4.9v2.3h-4.9zM468.6 470.1h2.5v2.3h-2.5zM480.8 470.1h2.5v2.3h-2.5zM505.2 470.1h2.5v2.3h-2.5zM510.1 470.1h2.5v2.3h-2.5zM519.9 470.1h4.9v2.3h-4.9zM527.2 470.1h2.5v2.3h-2.5zM532.1 470.1h4.9v2.3h-4.9zM412.4 472.4h2.5v2.3h-2.5zM422.2 472.4h2.5v2.3h-2.5zM427.1 472.4h4.9v2.3h-4.9zM451.5 472.4h2.5v2.3h-2.5zM458.8 472.4h2.5v2.3h-2.5zM463.7 472.4h2.5v2.3h-2.5zM480.8 472.4h2.5v2.3h-2.5zM485.7 472.4h2.5v2.3h-2.5zM497.9 472.4h2.5v2.3h-2.5zM510.1 472.4h4.9v2.3h-4.9zM519.9 472.4h4.9v2.3h-4.9zM532.1 472.4h2.5v2.3h-2.5zM427.1 474.7h7.4v2.3h-7.4zM444.2 474.7h2.5v2.3h-2.5zM449.0 474.7h4.9v2.3h-4.9zM480.8 474.7h9.8v2.3h-9.8zM502.8 474.7h2.5v2.3h-2.5zM510.1 474.7h2.5v2.3h-2.5zM517.4 474.7h2.5v2.3h-2.5zM412.4 477.0h2.5v2.3h-2.5zM417.3 477.0h2.5v2.3h-2.5zM427.1 477.0h7.4v2.3h-7.4zM446.6 477.0h9.8v2.3h-9.8zM461.3 477.0h2.5v2.3h-2.5zM473.5 477.0h7.4v2.3h-7.4zM483.2 477.0h7.4v2.3h-7.4zM495.5 477.0h2.5v2.3h-2.5zM507.7 477.0h2.5v2.3h-2.5zM424.6 479.2h9.8v2.3h-9.8zM446.6 479.2h2.5v2.3h-2.5zM451.5 479.2h2.5v2.3h-2.5zM471.0 479.2h2.5v2.3h-2.5zM475.9 479.2h14.7v2.3h-14.7zM495.5 479.2h2.5v2.3h-2.5zM502.8 479.2h2.5v2.3h-2.5zM507.7 479.2h4.9v2.3h-4.9zM414.8 481.5h2.5v2.3h-2.5zM427.1 481.5h7.4v2.3h-7.4zM449.0 481.5h4.9v2.3h-4.9zM463.7 481.5h4.9v2.3h-4.9zM471.0 481.5h7.4v2.3h-7.4zM483.2 481.5h7.4v2.3h-7.4zM495.5 481.5h2.5v2.3h-2.5zM507.7 481.5h4.9v2.3h-4.9zM515.0 481.5h2.5v2.3h-2.5zM417.3 483.8h2.5v2.3h-2.5zM427.1 483.8h7.4v2.3h-7.4zM444.2 483.8h2.5v2.3h-2.5zM451.5 483.8h2.5v2.3h-2.5zM475.9 483.8h2.5v2.3h-2.5zM483.2 483.8h7.4v2.3h-7.4zM495.5 483.8h2.5v2.3h-2.5zM502.8 483.8h2.5v2.3h-2.5zM412.4 486.1h7.4v2.3h-7.4zM422.2 486.1h4.9v2.3h-4.9zM412.4 488.4h7.4v2.3h-7.4zM422.2 488.4h2.5v2.3h-2.5zM427.1 488.4h4.9v2.3h-4.9zM417.3 490.6h2.5v2.3h-2.5zM427.1 490.6h4.9v2.3h-4.9zM505.2 490.6h2.5v2.3h-2.5zM510.1 490.6h4.9v2.3h-4.9zM519.9 490.6h4.9v2.3h-4.9zM527.2 490.6h2.5v2.3h-2.5zM414.8 492.9h4.9v2.3h-4.9zM424.6 492.9h4.9v2.3h-4.9zM431.9 492.9h2.5v2.3h-2.5zM497.9 492.9h9.8v2.3h-9.8zM517.4 492.9h7.4v2.3h-7.4zM527.2 492.9h2.5v2.3h-2.5zM412.4 495.2h2.5v2.3h-2.5zM422.2 495.2h2.5v2.3h-2.5zM427.1 495.2h7.4v2.3h-7.4zM500.3 495.2h4.9v2.3h-4.9zM510.1 495.2h4.9v2.3h-4.9zM527.2 495.2h2.5v2.3h-2.5zM537.0 495.2h2.5v2.3h-2.5zM412.4 497.5h2.5v2.3h-2.5zM419.7 497.5h4.9v2.3h-4.9zM427.1 497.5h4.9v2.3h-4.9zM497.9 497.5h4.9v2.3h-4.9zM510.1 497.5h2.5v2.3h-2.5zM532.1 497.5h9.8v2.3h-9.8zM417.3 499.7h7.4v2.3h-7.4zM427.1 499.7h2.5v2.3h-2.5zM431.9 499.7h2.5v2.3h-2.5zM497.9 499.7h2.5v2.3h-2.5zM502.8 499.7h4.9v2.3h-4.9zM512.6 499.7h2.5v2.3h-2.5zM517.4 499.7h4.9v2.3h-4.9z"/>
<path fill="#7018ff" shape-rendering="crispEdges" d="M544.3 310.9h4.9v2.3h-4.9zM581.0 310.9h2.5v2.3h-2.5zM588.3 310.9h12.3v2.3h-12.3zM605.4 310.9h2.5v2.3h-2.5zM615.2 310.9h2.5v2.3h-2.5zM541.9 313.2h7.4v2.3h-7.4zM581.0 313.2h14.7v2.3h-14.7zM605.4 313.2h2.5v2.3h-2.5zM610.3 313.2h4.9v2.3h-4.9zM541.9 315.4h2.5v2.3h-2.5zM546.8 315.4h2.5v2.3h-2.5zM556.5 315.4h2.5v2.3h-2.5zM581.0 315.4h9.8v2.3h-9.8zM598.1 315.4h2.5v2.3h-2.5zM605.4 315.4h2.5v2.3h-2.5zM610.3 315.4h4.9v2.3h-4.9zM544.3 317.7h4.9v2.3h-4.9zM559.0 317.7h2.5v2.3h-2.5zM571.2 317.7h4.9v2.3h-4.9zM578.5 317.7h4.9v2.3h-4.9zM585.8 317.7h4.9v2.3h-4.9zM593.2 317.7h7.4v2.3h-7.4zM605.4 317.7h12.3v2.3h-12.3zM541.9 320.0h7.4v2.3h-7.4zM581.0 320.0h2.5v2.3h-2.5zM585.8 320.0h14.7v2.3h-14.7zM605.4 320.0h12.3v2.3h-12.3zM541.9 322.3h7.4v2.3h-7.4zM576.1 322.3h2.5v2.3h-2.5zM581.0 322.3h2.5v2.3h-2.5zM585.8 322.3h4.9v2.3h-4.9zM593.2 322.3h7.4v2.3h-7.4zM605.4 322.3h9.8v2.3h-9.8zM532.1 324.5h2.5v2.3h-2.5zM527.2 326.8h2.5v2.3h-2.5zM537.0 326.8h2.5v2.3h-2.5zM595.6 326.8h2.5v2.3h-2.5zM607.8 326.8h2.5v2.3h-2.5zM615.2 326.8h2.5v2.3h-2.5zM522.3 329.1h4.9v2.3h-4.9zM532.1 329.1h7.4v2.3h-7.4zM502.8 331.4h4.9v2.3h-4.9zM515.0 331.4h2.5v2.3h-2.5zM522.3 331.4h2.5v2.3h-2.5zM529.7 331.4h12.3v2.3h-12.3zM544.3 331.4h31.8v2.3h-31.8zM578.5 331.4h2.5v2.3h-2.5zM495.5 333.6h4.9v2.3h-4.9zM505.2 333.6h2.5v2.3h-2.5zM515.0 333.6h14.7v2.3h-14.7zM532.1 333.6h12.3v2.3h-12.3zM546.8 333.6h12.3v2.3h-12.3zM566.3 333.6h14.7v2.3h-14.7zM495.5 335.9h4.9v2.3h-4.9zM515.0 335.9h2.5v2.3h-2.5zM519.9 335.9h4.9v2.3h-4.9zM527.2 335.9h2.5v2.3h-2.5zM532.1 335.9h17.2v2.3h-17.2zM551.6 335.9h29.4v2.3h-29.4zM495.5 338.2h2.5v2.3h-2.5zM507.7 338.2h2.5v2.3h-2.5zM522.3 338.2h7.4v2.3h-7.4zM537.0 338.2h7.4v2.3h-7.4zM551.6 338.2h4.9v2.3h-4.9zM566.3 338.2h2.5v2.3h-2.5zM571.2 338.2h7.4v2.3h-7.4zM495.5 340.5h4.9v2.3h-4.9zM502.8 340.5h24.5v2.3h-24.5zM532.1 340.5h36.7v2.3h-36.7zM571.2 340.5h17.2v2.3h-17.2zM595.6 340.5h4.9v2.3h-4.9zM495.5 342.8h7.4v2.3h-7.4zM505.2 342.8h9.8v2.3h-9.8zM519.9 342.8h17.2v2.3h-17.2zM539.4 342.8h14.7v2.3h-14.7zM556.5 342.8h4.9v2.3h-4.9zM563.9 342.8h36.7v2.3h-36.7zM495.5 345.0h29.4v2.3h-29.4zM527.2 345.0h4.9v2.3h-4.9zM534.5 345.0h2.5v2.3h-2.5zM539.4 345.0h26.9v2.3h-26.9zM568.7 345.0h12.3v2.3h-12.3zM583.4 345.0h17.2v2.3h-17.2zM495.5 347.3h4.9v2.3h-4.9zM502.8 347.3h9.8v2.3h-9.8zM515.0 347.3h19.6v2.3h-19.6zM537.0 347.3h7.4v2.3h-7.4zM546.8 347.3h2.5v2.3h-2.5zM554.1 347.3h4.9v2.3h-4.9zM571.2 347.3h7.4v2.3h-7.4zM585.8 347.3h2.5v2.3h-2.5zM495.5 349.6h2.5v2.3h-2.5zM500.3 349.6h24.5v2.3h-24.5zM527.2 349.6h7.4v2.3h-7.4zM537.0 349.6h53.8v2.3h-53.8zM593.2 349.6h2.5v2.3h-2.5zM598.1 349.6h2.5v2.3h-2.5zM495.5 351.8h2.5v2.3h-2.5zM500.3 351.8h4.9v2.3h-4.9zM507.7 351.8h4.9v2.3h-4.9zM515.0 351.8h19.6v2.3h-19.6zM537.0 351.8h2.5v2.3h-2.5zM541.9 351.8h58.7v2.3h-58.7zM495.5 354.1h105.1v2.3h-105.1zM495.5 356.4h2.5v2.3h-2.5zM500.3 356.4h2.5v2.3h-2.5zM505.2 356.4h7.4v2.3h-7.4zM515.0 356.4h41.6v2.3h-41.6zM559.0 356.4h4.9v2.3h-4.9zM566.3 356.4h14.7v2.3h-14.7zM583.4 356.4h7.4v2.3h-7.4zM598.1 356.4h2.5v2.3h-2.5zM500.3 358.7h2.5v2.3h-2.5zM505.2 358.7h4.9v2.3h-4.9zM512.6 358.7h2.5v2.3h-2.5zM517.4 358.7h46.5v2.3h-46.5zM566.3 358.7h34.3v2.3h-34.3zM495.5 360.9h2.5v2.3h-2.5zM500.3 360.9h2.5v2.3h-2.5zM505.2 360.9h14.7v2.3h-14.7zM522.3 360.9h2.5v2.3h-2.5zM527.2 360.9h7.4v2.3h-7.4zM537.0 360.9h46.5v2.3h-46.5zM585.8 360.9h14.7v2.3h-14.7zM495.5 363.2h2.5v2.3h-2.5zM500.3 363.2h12.3v2.3h-12.3zM515.0 363.2h4.9v2.3h-4.9zM522.3 363.2h9.8v2.3h-9.8zM534.5 363.2h2.5v2.3h-2.5zM539.4 363.2h9.8v2.3h-9.8zM551.6 363.2h46.5v2.3h-46.5zM495.5 365.5h4.9v2.3h-4.9zM502.8 365.5h12.3v2.3h-12.3zM517.4 365.5h2.5v2.3h-2.5zM522.3 365.5h4.9v2.3h-4.9zM529.7 365.5h2.5v2.3h-2.5zM534.5 365.5h2.5v2.3h-2.5zM539.4 365.5h53.8v2.3h-53.8zM598.1 365.5h2.5v2.3h-2.5zM495.5 367.8h4.9v2.3h-4.9zM502.8 367.8h24.5v2.3h-24.5zM529.7 367.8h61.1v2.3h-61.1zM593.2 367.8h7.4v2.3h-7.4zM495.5 370.0h4.9v2.3h-4.9zM502.8 370.0h24.5v2.3h-24.5zM529.7 370.0h29.4v2.3h-29.4zM561.4 370.0h2.5v2.3h-2.5zM566.3 370.0h2.5v2.3h-2.5zM571.2 370.0h14.7v2.3h-14.7zM595.6 370.0h4.9v2.3h-4.9zM495.5 372.3h7.4v2.3h-7.4zM505.2 372.3h22.0v2.3h-22.0zM529.7 372.3h2.5v2.3h-2.5zM534.5 372.3h51.4v2.3h-51.4zM588.3 372.3h7.4v2.3h-7.4zM598.1 372.3h2.5v2.3h-2.5zM495.5 374.6h26.9v2.3h-26.9zM524.8 374.6h24.5v2.3h-24.5zM551.6 374.6h19.6v2.3h-19.6zM573.6 374.6h7.4v2.3h-7.4zM590.7 374.6h2.5v2.3h-2.5zM595.6 374.6h4.9v2.3h-4.9zM497.9 376.9h2.5v2.3h-2.5zM502.8 376.9h19.6v2.3h-19.6zM524.8 376.9h7.4v2.3h-7.4zM534.5 376.9h24.5v2.3h-24.5zM561.4 376.9h2.5v2.3h-2.5zM566.3 376.9h2.5v2.3h-2.5zM571.2 376.9h22.0v2.3h-22.0zM595.6 376.9h4.9v2.3h-4.9zM497.9 379.1h4.9v2.3h-4.9zM505.2 379.1h2.5v2.3h-2.5zM510.1 379.1h12.3v2.3h-12.3zM524.8 379.1h2.5v2.3h-2.5zM529.7 379.1h7.4v2.3h-7.4zM539.4 379.1h48.9v2.3h-48.9zM495.5 381.4h4.9v2.3h-4.9zM502.8 381.4h26.9v2.3h-26.9zM532.1 381.4h2.5v2.3h-2.5zM537.0 381.4h12.3v2.3h-12.3zM554.1 381.4h17.2v2.3h-17.2zM573.6 381.4h14.7v2.3h-14.7zM497.9 383.7h9.8v2.3h-9.8zM510.1 383.7h73.3v2.3h-73.3zM588.3 383.7h9.8v2.3h-9.8zM495.5 386.0h4.9v2.3h-4.9zM507.7 386.0h2.5v2.3h-2.5zM512.6 386.0h4.9v2.3h-4.9zM522.3 386.0h14.7v2.3h-14.7zM539.4 386.0h44.0v2.3h-44.0zM585.8 386.0h2.5v2.3h-2.5zM590.7 386.0h2.5v2.3h-2.5zM595.6 386.0h4.9v2.3h-4.9zM436.8 388.2h2.5v2.3h-2.5zM441.7 388.2h19.6v2.3h-19.6zM463.7 388.2h12.3v2.3h-12.3zM480.8 388.2h4.9v2.3h-4.9zM488.1 388.2h7.4v2.3h-7.4zM605.4 388.2h7.4v2.3h-7.4zM615.2 388.2h2.5v2.3h-2.5zM444.2 390.5h9.8v2.3h-9.8zM458.8 390.5h9.8v2.3h-9.8zM471.0 390.5h7.4v2.3h-7.4zM480.8 390.5h7.4v2.3h-7.4zM490.6 390.5h2.5v2.3h-2.5zM605.4 390.5h2.5v2.3h-2.5zM610.3 390.5h4.9v2.3h-4.9zM444.2 392.8h2.5v2.3h-2.5zM453.9 392.8h4.9v2.3h-4.9zM461.3 392.8h2.5v2.3h-2.5zM468.6 392.8h4.9v2.3h-4.9zM480.8 392.8h7.4v2.3h-7.4zM490.6 392.8h2.5v2.3h-2.5zM436.8 395.1h4.9v2.3h-4.9zM444.2 395.1h2.5v2.3h-2.5zM449.0 395.1h4.9v2.3h-4.9zM456.4 395.1h7.4v2.3h-7.4zM468.6 395.1h9.8v2.3h-9.8zM480.8 395.1h12.3v2.3h-12.3zM605.4 395.1h2.5v2.3h-2.5zM610.3 395.1h4.9v2.3h-4.9zM434.4 397.4h2.5v2.3h-2.5zM444.2 397.4h4.9v2.3h-4.9zM451.5 397.4h4.9v2.3h-4.9zM458.8 397.4h29.4v2.3h-29.4zM490.6 397.4h4.9v2.3h-4.9zM605.4 397.4h2.5v2.3h-2.5zM612.7 397.4h2.5v2.3h-2.5zM436.8 399.6h39.1v2.3h-39.1zM478.4 399.6h4.9v2.3h-4.9zM485.7 399.6h9.8v2.3h-9.8zM605.4 399.6h4.9v2.3h-4.9zM615.2 399.6h2.5v2.3h-2.5zM436.8 401.9h2.5v2.3h-2.5zM446.6 401.9h24.5v2.3h-24.5zM473.5 401.9h4.9v2.3h-4.9zM480.8 401.9h2.5v2.3h-2.5zM485.7 401.9h7.4v2.3h-7.4zM605.4 401.9h9.8v2.3h-9.8zM434.4 404.2h2.5v2.3h-2.5zM439.3 404.2h2.5v2.3h-2.5zM444.2 404.2h4.9v2.3h-4.9zM451.5 404.2h2.5v2.3h-2.5zM458.8 404.2h7.4v2.3h-7.4zM468.6 404.2h26.9v2.3h-26.9zM607.8 404.2h7.4v2.3h-7.4zM439.3 406.4h2.5v2.3h-2.5zM444.2 406.4h9.8v2.3h-9.8zM456.4 406.4h4.9v2.3h-4.9zM466.1 406.4h2.5v2.3h-2.5zM475.9 406.4h7.4v2.3h-7.4zM488.1 406.4h7.4v2.3h-7.4zM605.4 406.4h2.5v2.3h-2.5zM610.3 406.4h4.9v2.3h-4.9zM444.2 408.7h2.5v2.3h-2.5zM453.9 408.7h12.3v2.3h-12.3zM468.6 408.7h9.8v2.3h-9.8zM480.8 408.7h14.7v2.3h-14.7zM605.4 408.7h2.5v2.3h-2.5zM610.3 408.7h4.9v2.3h-4.9zM439.3 411.0h2.5v2.3h-2.5zM444.2 411.0h2.5v2.3h-2.5zM449.0 411.0h4.9v2.3h-4.9zM456.4 411.0h4.9v2.3h-4.9zM463.7 411.0h29.4v2.3h-29.4zM607.8 411.0h2.5v2.3h-2.5zM612.7 411.0h2.5v2.3h-2.5zM427.1 413.3h7.4v2.3h-7.4zM436.8 413.3h7.4v2.3h-7.4zM446.6 413.3h26.9v2.3h-26.9zM475.9 413.3h9.8v2.3h-9.8zM488.1 413.3h7.4v2.3h-7.4zM431.9 415.6h9.8v2.3h-9.8zM444.2 415.6h4.9v2.3h-4.9zM451.5 415.6h9.8v2.3h-9.8zM463.7 415.6h4.9v2.3h-4.9zM471.0 415.6h9.8v2.3h-9.8zM483.2 415.6h12.3v2.3h-12.3zM436.8 417.8h7.4v2.3h-7.4zM446.6 417.8h17.2v2.3h-17.2zM466.1 417.8h7.4v2.3h-7.4zM478.4 417.8h4.9v2.3h-4.9zM488.1 417.8h7.4v2.3h-7.4zM434.4 420.1h2.5v2.3h-2.5zM444.2 420.1h7.4v2.3h-7.4zM453.9 420.1h41.6v2.3h-41.6zM431.9 422.4h12.3v2.3h-12.3zM446.6 422.4h4.9v2.3h-4.9zM453.9 422.4h7.4v2.3h-7.4zM463.7 422.4h9.8v2.3h-9.8zM475.9 422.4h7.4v2.3h-7.4zM485.7 422.4h9.8v2.3h-9.8zM434.4 424.6h2.5v2.3h-2.5zM439.3 424.6h2.5v2.3h-2.5zM444.2 424.6h12.3v2.3h-12.3zM458.8 424.6h7.4v2.3h-7.4zM468.6 424.6h26.9v2.3h-26.9zM427.1 426.9h2.5v2.3h-2.5zM431.9 426.9h2.5v2.3h-2.5zM436.8 426.9h17.2v2.3h-17.2zM456.4 426.9h4.9v2.3h-4.9zM463.7 426.9h14.7v2.3h-14.7zM480.8 426.9h2.5v2.3h-2.5zM485.7 426.9h9.8v2.3h-9.8zM427.1 429.2h2.5v2.3h-2.5zM434.4 429.2h2.5v2.3h-2.5zM439.3 429.2h2.5v2.3h-2.5zM444.2 429.2h44.0v2.3h-44.0zM490.6 429.2h4.9v2.3h-4.9zM412.4 431.5h9.8v2.3h-9.8zM424.6 431.5h2.5v2.3h-2.5zM434.4 431.5h61.1v2.3h-61.1zM507.7 431.5h2.5v2.3h-2.5zM412.4 433.8h4.9v2.3h-4.9zM419.7 433.8h4.9v2.3h-4.9zM436.8 433.8h2.5v2.3h-2.5zM444.2 433.8h7.4v2.3h-7.4zM453.9 433.8h34.3v2.3h-34.3zM490.6 433.8h4.9v2.3h-4.9zM412.4 436.0h14.7v2.3h-14.7zM434.4 436.0h61.1v2.3h-61.1zM434.4 438.3h2.5v2.3h-2.5zM444.2 438.3h2.5v2.3h-2.5zM449.0 438.3h39.1v2.3h-39.1zM490.6 438.3h4.9v2.3h-4.9zM434.4 440.6h7.4v2.3h-7.4zM444.2 440.6h7.4v2.3h-7.4zM453.9 440.6h41.6v2.3h-41.6zM419.7 442.9h2.5v2.3h-2.5zM434.4 442.9h17.2v2.3h-17.2zM453.9 442.9h31.8v2.3h-31.8zM488.1 442.9h7.4v2.3h-7.4zM436.8 445.1h44.0v2.3h-44.0zM483.2 445.1h12.3v2.3h-12.3zM434.4 447.4h7.4v2.3h-7.4zM444.2 447.4h7.4v2.3h-7.4zM453.9 447.4h41.6v2.3h-41.6zM434.4 449.7h2.5v2.3h-2.5zM439.3 449.7h24.5v2.3h-24.5zM466.1 449.7h24.5v2.3h-24.5zM493.0 449.7h2.5v2.3h-2.5zM434.4 451.9h2.5v2.3h-2.5zM446.6 451.9h4.9v2.3h-4.9zM453.9 451.9h34.3v2.3h-34.3zM490.6 451.9h4.9v2.3h-4.9zM414.8 454.2h2.5v2.3h-2.5zM436.8 454.2h4.9v2.3h-4.9zM444.2 454.2h46.5v2.3h-46.5zM493.0 454.2h2.5v2.3h-2.5zM434.4 456.5h17.2v2.3h-17.2zM453.9 456.5h41.6v2.3h-41.6zM424.6 458.8h2.5v2.3h-2.5zM434.4 458.8h17.2v2.3h-17.2zM453.9 458.8h34.3v2.3h-34.3zM490.6 458.8h4.9v2.3h-4.9zM419.7 461.1h2.5v2.3h-2.5zM424.6 461.1h2.5v2.3h-2.5zM434.4 461.1h4.9v2.3h-4.9zM441.7 461.1h9.8v2.3h-9.8zM453.9 461.1h22.0v2.3h-22.0zM478.4 461.1h9.8v2.3h-9.8zM490.6 461.1h4.9v2.3h-4.9zM424.6 463.3h2.5v2.3h-2.5zM439.3 463.3h12.3v2.3h-12.3zM453.9 463.3h4.9v2.3h-4.9zM461.3 463.3h34.3v2.3h-34.3zM434.4 465.6h4.9v2.3h-4.9zM444.2 465.6h29.4v2.3h-29.4zM475.9 465.6h19.6v2.3h-19.6zM414.8 467.9h7.4v2.3h-7.4zM444.2 467.9h14.7v2.3h-14.7zM461.3 467.9h2.5v2.3h-2.5zM466.1 467.9h7.4v2.3h-7.4zM475.9 467.9h19.6v2.3h-19.6zM412.4 470.1h9.8v2.3h-9.8zM424.6 470.1h2.5v2.3h-2.5zM444.2 470.1h12.3v2.3h-12.3zM461.3 470.1h7.4v2.3h-7.4zM471.0 470.1h9.8v2.3h-9.8zM483.2 470.1h12.3v2.3h-12.3zM414.8 472.4h7.4v2.3h-7.4zM424.6 472.4h2.5v2.3h-2.5zM444.2 472.4h7.4v2.3h-7.4zM453.9 472.4h4.9v2.3h-4.9zM461.3 472.4h2.5v2.3h-2.5zM466.1 472.4h14.7v2.3h-14.7zM483.2 472.4h2.5v2.3h-2.5zM488.1 472.4h7.4v2.3h-7.4zM412.4 474.7h14.7v2.3h-14.7zM446.6 474.7h2.5v2.3h-2.5zM453.9 474.7h26.9v2.3h-26.9zM490.6 474.7h4.9v2.3h-4.9zM414.8 477.0h2.5v2.3h-2.5zM419.7 477.0h7.4v2.3h-7.4zM444.2 477.0h2.5v2.3h-2.5zM456.4 477.0h4.9v2.3h-4.9zM463.7 477.0h9.8v2.3h-9.8zM480.8 477.0h2.5v2.3h-2.5zM490.6 477.0h4.9v2.3h-4.9zM412.4 479.2h12.3v2.3h-12.3zM444.2 479.2h2.5v2.3h-2.5zM449.0 479.2h2.5v2.3h-2.5zM453.9 479.2h17.2v2.3h-17.2zM473.5 479.2h2.5v2.3h-2.5zM490.6 479.2h4.9v2.3h-4.9zM412.4 481.5h2.5v2.3h-2.5zM417.3 481.5h9.8v2.3h-9.8zM444.2 481.5h4.9v2.3h-4.9zM453.9 481.5h9.8v2.3h-9.8zM468.6 481.5h2.5v2.3h-2.5zM478.4 481.5h4.9v2.3h-4.9zM490.6 481.5h4.9v2.3h-4.9zM412.4 483.8h4.9v2.3h-4.9zM419.7 483.8h7.4v2.3h-7.4zM446.6 483.8h4.9v2.3h-4.9zM453.9 483.8h22.0v2.3h-22.0zM478.4 483.8h4.9v2.3h-4.9zM490.6 483.8h4.9v2.3h-4.9zM419.7 486.1h2.5v2.3h-2.5zM419.7 488.4h2.5v2.3h-2.5zM424.6 488.4h2.5v2.3h-2.5zM412.4 490.6h4.9v2.3h-4.9zM419.7 490.6h7.4v2.3h-7.4zM495.5 490.6h4.9v2.3h-4.9zM502.8 490.6h2.5v2.3h-2.5zM507.7 490.6h2.5v2.3h-2.5zM515.0 490.6h4.9v2.3h-4.9zM412.4 492.9h2.5v2.3h-2.5zM419.7 492.9h4.9v2.3h-4.9zM429.5 492.9h2.5v2.3h-2.5zM495.5 492.9h2.5v2.3h-2.5zM507.7 492.9h9.8v2.3h-9.8zM414.8 495.2h7.4v2.3h-7.4zM424.6 495.2h2.5v2.3h-2.5zM495.5 495.2h4.9v2.3h-4.9zM505.2 495.2h4.9v2.3h-4.9zM515.0 495.2h7.4v2.3h-7.4zM414.8 497.5h4.9v2.3h-4.9zM424.6 497.5h2.5v2.3h-2.5zM495.5 497.5h2.5v2.3h-2.5zM502.8 497.5h7.4v2.3h-7.4zM512.6 497.5h9.8v2.3h-9.8zM412.4 499.7h4.9v2.3h-4.9zM424.6 499.7h2.5v2.3h-2.5zM429.5 499.7h2.5v2.3h-2.5zM495.5 499.7h2.5v2.3h-2.5zM507.7 499.7h4.9v2.3h-4.9zM515.0 499.7h2.5v2.3h-2.5z"/>
<path fill="#c2ea8c" shape-rendering="crispEdges" d="M451.5 315.4h2.5v2.3h-2.5zM444.2 340.5h2.5v2.3h-2.5zM453.9 340.5h4.9v2.3h-4.9zM461.3 340.5h12.3v2.3h-12.3zM478.4 340.5h2.5v2.3h-2.5zM483.2 340.5h4.9v2.3h-4.9zM451.5 342.8h2.5v2.3h-2.5zM473.5 342.8h7.4v2.3h-7.4zM483.2 345.0h2.5v2.3h-2.5zM493.0 345.0h2.5v2.3h-2.5zM417.3 347.3h2.5v2.3h-2.5zM458.8 347.3h2.5v2.3h-2.5zM468.6 347.3h2.5v2.3h-2.5zM480.8 347.3h2.5v2.3h-2.5zM490.6 347.3h2.5v2.3h-2.5zM493.0 349.6h2.5v2.3h-2.5zM451.5 354.1h2.5v2.3h-2.5zM480.8 354.1h2.5v2.3h-2.5zM493.0 354.1h2.5v2.3h-2.5zM444.2 356.4h2.5v2.3h-2.5zM490.6 358.7h2.5v2.3h-2.5zM444.2 360.9h2.5v2.3h-2.5zM490.6 360.9h4.9v2.3h-4.9zM490.6 363.2h2.5v2.3h-2.5zM444.2 365.5h2.5v2.3h-2.5zM490.6 365.5h2.5v2.3h-2.5zM444.2 367.8h2.5v2.3h-2.5zM490.6 367.8h2.5v2.3h-2.5zM444.2 370.0h4.9v2.3h-4.9zM444.2 372.3h2.5v2.3h-2.5zM458.8 374.6h2.5v2.3h-2.5zM480.8 374.6h2.5v2.3h-2.5zM446.6 376.9h4.9v2.3h-4.9zM490.6 376.9h2.5v2.3h-2.5zM417.3 379.1h2.5v2.3h-2.5zM444.2 379.1h7.4v2.3h-7.4zM490.6 379.1h2.5v2.3h-2.5zM417.3 381.4h2.5v2.3h-2.5zM424.6 381.4h2.5v2.3h-2.5zM490.6 381.4h2.5v2.3h-2.5zM451.5 383.7h2.5v2.3h-2.5zM471.0 383.7h2.5v2.3h-2.5zM475.9 383.7h4.9v2.3h-4.9zM488.1 383.7h2.5v2.3h-2.5zM444.2 386.0h2.5v2.3h-2.5zM453.9 386.0h7.4v2.3h-7.4zM466.1 386.0h2.5v2.3h-2.5zM493.0 386.0h2.5v2.3h-2.5zM502.8 388.2h4.9v2.3h-4.9zM517.4 388.2h4.9v2.3h-4.9zM497.9 390.5h2.5v2.3h-2.5zM502.8 390.5h2.5v2.3h-2.5zM510.1 390.5h7.4v2.3h-7.4zM519.9 390.5h2.5v2.3h-2.5zM502.8 395.1h2.5v2.3h-2.5zM510.1 395.1h2.5v2.3h-2.5zM515.0 395.1h2.5v2.3h-2.5zM495.5 397.4h2.5v2.3h-2.5zM510.1 397.4h2.5v2.3h-2.5zM505.2 399.6h2.5v2.3h-2.5zM512.6 399.6h2.5v2.3h-2.5zM517.4 399.6h2.5v2.3h-2.5zM495.5 401.9h4.9v2.3h-4.9zM505.2 401.9h7.4v2.3h-7.4zM515.0 401.9h7.4v2.3h-7.4zM497.9 406.4h2.5v2.3h-2.5zM505.2 406.4h2.5v2.3h-2.5zM510.1 406.4h2.5v2.3h-2.5zM517.4 406.4h2.5v2.3h-2.5zM495.5 408.7h2.5v2.3h-2.5zM515.0 408.7h2.5v2.3h-2.5zM519.9 408.7h2.5v2.3h-2.5zM502.8 411.0h2.5v2.3h-2.5zM510.1 411.0h2.5v2.3h-2.5zM515.0 411.0h2.5v2.3h-2.5zM519.9 411.0h2.5v2.3h-2.5zM529.7 413.3h2.5v2.3h-2.5zM522.3 415.6h7.4v2.3h-7.4zM537.0 415.6h2.5v2.3h-2.5zM539.4 417.8h2.5v2.3h-2.5zM522.3 420.1h2.5v2.3h-2.5zM524.8 422.4h2.5v2.3h-2.5zM537.0 422.4h4.9v2.3h-4.9zM522.3 424.6h2.5v2.3h-2.5zM537.0 424.6h2.5v2.3h-2.5zM524.8 426.9h2.5v2.3h-2.5zM534.5 426.9h2.5v2.3h-2.5zM539.4 426.9h2.5v2.3h-2.5zM522.3 429.2h2.5v2.3h-2.5zM527.2 429.2h2.5v2.3h-2.5zM532.1 429.2h2.5v2.3h-2.5zM544.3 431.5h2.5v2.3h-2.5zM563.9 431.5h2.5v2.3h-2.5zM568.7 431.5h2.5v2.3h-2.5zM541.9 433.8h2.5v2.3h-2.5zM551.6 433.8h7.4v2.3h-7.4zM561.4 433.8h2.5v2.3h-2.5zM566.3 433.8h9.8v2.3h-9.8zM578.5 433.8h2.5v2.3h-2.5zM549.2 436.0h4.9v2.3h-4.9zM573.6 436.0h2.5v2.3h-2.5zM578.5 436.0h2.5v2.3h-2.5zM546.8 438.3h2.5v2.3h-2.5zM544.3 442.9h4.9v2.3h-4.9zM571.2 442.9h2.5v2.3h-2.5zM544.3 445.1h2.5v2.3h-2.5zM551.6 445.1h12.3v2.3h-12.3zM566.3 445.1h4.9v2.3h-4.9zM576.1 445.1h4.9v2.3h-4.9zM541.9 447.4h2.5v2.3h-2.5zM554.1 447.4h4.9v2.3h-4.9zM566.3 449.7h2.5v2.3h-2.5zM541.9 451.9h2.5v2.3h-2.5zM546.8 451.9h2.5v2.3h-2.5zM554.1 454.2h2.5v2.3h-2.5zM573.6 454.2h2.5v2.3h-2.5zM544.3 456.5h4.9v2.3h-4.9zM541.9 458.8h7.4v2.3h-7.4zM566.3 458.8h2.5v2.3h-2.5zM546.8 461.1h2.5v2.3h-2.5zM556.5 461.1h2.5v2.3h-2.5zM566.3 461.1h2.5v2.3h-2.5zM544.3 463.3h4.9v2.3h-4.9zM556.5 463.3h2.5v2.3h-2.5zM566.3 463.3h2.5v2.3h-2.5zM544.3 465.6h2.5v2.3h-2.5zM556.5 465.6h2.5v2.3h-2.5zM578.5 465.6h2.5v2.3h-2.5zM607.8 477.0h2.5v2.3h-2.5zM607.8 479.2h2.5v2.3h-2.5zM607.8 481.5h2.5v2.3h-2.5zM615.2 481.5h2.5v2.3h-2.5zM607.8 483.8h2.5v2.3h-2.5zM615.2 483.8h2.5v2.3h-2.5zM600.5 486.1h4.9v2.3h-4.9zM590.7 490.6h2.5v2.3h-2.5zM593.2 492.9h2.5v2.3h-2.5zM598.1 492.9h2.5v2.3h-2.5zM590.7 499.7h9.8v2.3h-9.8z"/>
<path fill="#d1df82" shape-rendering="crispEdges" d="M488.1 315.4h2.5v2.3h-2.5zM451.5 340.5h2.5v2.3h-2.5zM473.5 340.5h4.9v2.3h-4.9zM488.1 340.5h2.5v2.3h-2.5zM483.2 342.8h2.5v2.3h-2.5zM475.9 345.0h2.5v2.3h-2.5zM488.1 345.0h2.5v2.3h-2.5zM444.2 347.3h2.5v2.3h-2.5zM456.4 347.3h2.5v2.3h-2.5zM461.3 347.3h2.5v2.3h-2.5zM466.1 347.3h2.5v2.3h-2.5zM471.0 347.3h2.5v2.3h-2.5zM451.5 349.6h2.5v2.3h-2.5zM480.8 349.6h2.5v2.3h-2.5zM456.4 351.8h2.5v2.3h-2.5zM493.0 351.8h2.5v2.3h-2.5zM453.9 354.1h7.4v2.3h-7.4zM488.1 354.1h2.5v2.3h-2.5zM451.5 356.4h2.5v2.3h-2.5zM451.5 358.7h2.5v2.3h-2.5zM451.5 360.9h2.5v2.3h-2.5zM451.5 363.2h2.5v2.3h-2.5zM480.8 363.2h2.5v2.3h-2.5zM493.0 363.2h2.5v2.3h-2.5zM493.0 365.5h2.5v2.3h-2.5zM490.6 370.0h2.5v2.3h-2.5zM480.8 372.3h2.5v2.3h-2.5zM493.0 372.3h2.5v2.3h-2.5zM453.9 374.6h4.9v2.3h-4.9zM468.6 374.6h2.5v2.3h-2.5zM488.1 374.6h2.5v2.3h-2.5zM444.2 376.9h2.5v2.3h-2.5zM493.0 376.9h2.5v2.3h-2.5zM451.5 379.1h2.5v2.3h-2.5zM493.0 379.1h2.5v2.3h-2.5zM458.8 381.4h2.5v2.3h-2.5zM480.8 381.4h2.5v2.3h-2.5zM493.0 381.4h2.5v2.3h-2.5zM483.2 383.7h2.5v2.3h-2.5zM461.3 386.0h4.9v2.3h-4.9zM468.6 386.0h2.5v2.3h-2.5zM485.7 386.0h4.9v2.3h-4.9zM512.6 388.2h2.5v2.3h-2.5zM505.2 390.5h2.5v2.3h-2.5zM517.4 390.5h2.5v2.3h-2.5zM497.9 395.1h2.5v2.3h-2.5zM505.2 395.1h2.5v2.3h-2.5zM512.6 395.1h2.5v2.3h-2.5zM519.9 395.1h2.5v2.3h-2.5zM497.9 397.4h2.5v2.3h-2.5zM502.8 397.4h2.5v2.3h-2.5zM507.7 397.4h2.5v2.3h-2.5zM515.0 397.4h7.4v2.3h-7.4zM502.8 401.9h2.5v2.3h-2.5zM512.6 401.9h2.5v2.3h-2.5zM495.5 404.2h4.9v2.3h-4.9zM507.7 404.2h4.9v2.3h-4.9zM515.0 404.2h7.4v2.3h-7.4zM502.8 406.4h2.5v2.3h-2.5zM512.6 406.4h4.9v2.3h-4.9zM519.9 406.4h2.5v2.3h-2.5zM497.9 408.7h2.5v2.3h-2.5zM502.8 408.7h2.5v2.3h-2.5zM510.1 408.7h2.5v2.3h-2.5zM517.4 408.7h2.5v2.3h-2.5zM497.9 411.0h2.5v2.3h-2.5zM505.2 411.0h2.5v2.3h-2.5zM512.6 411.0h2.5v2.3h-2.5zM517.4 411.0h2.5v2.3h-2.5zM529.7 415.6h2.5v2.3h-2.5zM534.5 415.6h2.5v2.3h-2.5zM539.4 415.6h2.5v2.3h-2.5zM527.2 420.1h2.5v2.3h-2.5zM532.1 420.1h2.5v2.3h-2.5zM529.7 422.4h2.5v2.3h-2.5zM524.8 424.6h2.5v2.3h-2.5zM534.5 424.6h2.5v2.3h-2.5zM537.0 429.2h2.5v2.3h-2.5zM544.3 433.8h7.4v2.3h-7.4zM559.0 433.8h2.5v2.3h-2.5zM563.9 433.8h2.5v2.3h-2.5zM544.3 436.0h2.5v2.3h-2.5zM563.9 436.0h2.5v2.3h-2.5zM544.3 438.3h2.5v2.3h-2.5zM554.1 438.3h4.9v2.3h-4.9zM544.3 440.6h2.5v2.3h-2.5zM556.5 440.6h2.5v2.3h-2.5zM566.3 440.6h2.5v2.3h-2.5zM571.2 440.6h9.8v2.3h-9.8zM554.1 442.9h2.5v2.3h-2.5zM559.0 442.9h2.5v2.3h-2.5zM566.3 442.9h2.5v2.3h-2.5zM573.6 442.9h7.4v2.3h-7.4zM571.2 445.1h2.5v2.3h-2.5zM544.3 447.4h2.5v2.3h-2.5zM559.0 447.4h2.5v2.3h-2.5zM566.3 447.4h4.9v2.3h-4.9zM576.1 447.4h2.5v2.3h-2.5zM544.3 449.7h2.5v2.3h-2.5zM551.6 449.7h7.4v2.3h-7.4zM568.7 449.7h2.5v2.3h-2.5zM573.6 449.7h7.4v2.3h-7.4zM551.6 454.2h2.5v2.3h-2.5zM556.5 454.2h2.5v2.3h-2.5zM561.4 454.2h2.5v2.3h-2.5zM566.3 454.2h2.5v2.3h-2.5zM571.2 454.2h2.5v2.3h-2.5zM576.1 454.2h4.9v2.3h-4.9zM556.5 456.5h2.5v2.3h-2.5zM566.3 456.5h2.5v2.3h-2.5zM571.2 456.5h4.9v2.3h-4.9zM578.5 456.5h2.5v2.3h-2.5zM554.1 458.8h7.4v2.3h-7.4zM568.7 458.8h4.9v2.3h-4.9zM576.1 458.8h2.5v2.3h-2.5zM544.3 461.1h2.5v2.3h-2.5zM554.1 461.1h2.5v2.3h-2.5zM561.4 461.1h2.5v2.3h-2.5zM571.2 461.1h2.5v2.3h-2.5zM551.6 463.3h2.5v2.3h-2.5zM561.4 463.3h2.5v2.3h-2.5zM568.7 463.3h9.8v2.3h-9.8zM551.6 465.6h4.9v2.3h-4.9zM561.4 465.6h2.5v2.3h-2.5zM568.7 465.6h9.8v2.3h-9.8zM583.4 472.4h2.5v2.3h-2.5zM590.7 492.9h2.5v2.3h-2.5zM610.3 495.2h4.9v2.3h-4.9zM610.3 497.5h4.9v2.3h-4.9z"/>
<path fill="#19cee3" shape-rendering="crispEdges" d="M500.3 315.4h2.5v2.3h-2.5zM431.9 324.5h2.5v2.3h-2.5zM431.9 326.8h2.5v2.3h-2.5zM429.5 329.1h2.5v2.3h-2.5zM600.5 331.4h4.9v2.3h-4.9zM439.3 333.6h4.9v2.3h-4.9zM593.2 333.6h7.4v2.3h-7.4zM602.9 333.6h2.5v2.3h-2.5zM441.7 335.9h2.5v2.3h-2.5zM600.5 335.9h2.5v2.3h-2.5zM436.8 338.2h7.4v2.3h-7.4zM588.3 338.2h2.5v2.3h-2.5zM593.2 338.2h7.4v2.3h-7.4zM563.9 390.5h2.5v2.3h-2.5zM412.4 392.8h4.9v2.3h-4.9zM424.6 392.8h2.5v2.3h-2.5zM549.2 392.8h2.5v2.3h-2.5zM568.7 392.8h7.4v2.3h-7.4zM417.3 395.1h2.5v2.3h-2.5zM546.8 420.1h2.5v2.3h-2.5zM544.3 424.6h2.5v2.3h-2.5zM500.3 438.3h2.5v2.3h-2.5zM593.2 438.3h4.9v2.3h-4.9zM517.4 440.6h2.5v2.3h-2.5zM590.7 440.6h2.5v2.3h-2.5zM598.1 440.6h2.5v2.3h-2.5zM600.5 445.1h4.9v2.3h-4.9zM500.3 447.4h2.5v2.3h-2.5zM598.1 447.4h2.5v2.3h-2.5zM500.3 449.7h2.5v2.3h-2.5zM590.7 449.7h2.5v2.3h-2.5zM500.3 451.9h2.5v2.3h-2.5zM588.3 451.9h4.9v2.3h-4.9zM595.6 451.9h2.5v2.3h-2.5zM598.1 454.2h2.5v2.3h-2.5zM590.7 456.5h2.5v2.3h-2.5zM595.6 456.5h2.5v2.3h-2.5zM595.6 458.8h4.9v2.3h-4.9zM500.3 461.1h2.5v2.3h-2.5zM590.7 461.1h2.5v2.3h-2.5zM593.2 463.3h2.5v2.3h-2.5zM590.7 465.6h2.5v2.3h-2.5zM602.9 465.6h2.5v2.3h-2.5zM441.7 467.9h2.5v2.3h-2.5zM563.9 467.9h2.5v2.3h-2.5zM441.7 474.7h2.5v2.3h-2.5zM554.1 474.7h2.5v2.3h-2.5zM559.0 474.7h2.5v2.3h-2.5zM573.6 474.7h2.5v2.3h-2.5zM436.8 477.0h4.9v2.3h-4.9zM549.2 477.0h4.9v2.3h-4.9zM561.4 477.0h4.9v2.3h-4.9zM571.2 477.0h2.5v2.3h-2.5zM578.5 477.0h2.5v2.3h-2.5zM439.3 479.2h2.5v2.3h-2.5zM549.2 479.2h4.9v2.3h-4.9zM559.0 479.2h2.5v2.3h-2.5zM563.9 479.2h2.5v2.3h-2.5zM568.7 479.2h2.5v2.3h-2.5zM436.8 481.5h2.5v2.3h-2.5zM441.7 481.5h2.5v2.3h-2.5zM561.4 481.5h4.9v2.3h-4.9zM568.7 481.5h2.5v2.3h-2.5zM573.6 481.5h2.5v2.3h-2.5zM441.7 483.8h2.5v2.3h-2.5zM568.7 483.8h2.5v2.3h-2.5zM434.4 486.1h2.5v2.3h-2.5zM556.5 486.1h2.5v2.3h-2.5zM556.5 488.4h2.5v2.3h-2.5zM573.6 488.4h2.5v2.3h-2.5z"/>
<path fill="#47f0d1" shape-rendering="crispEdges" d="M431.9 317.7h2.5v2.3h-2.5zM429.5 324.5h2.5v2.3h-2.5zM456.4 324.5h4.9v2.3h-4.9zM480.8 324.5h2.5v2.3h-2.5zM490.6 324.5h2.5v2.3h-2.5zM429.5 326.8h2.5v2.3h-2.5zM490.6 326.8h2.5v2.3h-2.5zM412.4 329.1h4.9v2.3h-4.9zM419.7 329.1h2.5v2.3h-2.5zM424.6 329.1h2.5v2.3h-2.5zM468.6 329.1h2.5v2.3h-2.5zM478.4 329.1h2.5v2.3h-2.5zM490.6 329.1h2.5v2.3h-2.5zM449.0 331.4h2.5v2.3h-2.5zM480.8 331.4h2.5v2.3h-2.5zM610.3 331.4h2.5v2.3h-2.5zM612.7 335.9h2.5v2.3h-2.5zM431.9 340.5h2.5v2.3h-2.5zM427.1 345.0h2.5v2.3h-2.5zM427.1 351.8h2.5v2.3h-2.5zM431.9 351.8h2.5v2.3h-2.5zM427.1 354.1h2.5v2.3h-2.5zM431.9 360.9h2.5v2.3h-2.5zM431.9 363.2h2.5v2.3h-2.5zM431.9 365.5h2.5v2.3h-2.5zM431.9 372.3h2.5v2.3h-2.5zM427.1 374.6h4.9v2.3h-4.9zM434.4 374.6h2.5v2.3h-2.5zM427.1 383.7h2.5v2.3h-2.5zM434.4 383.7h2.5v2.3h-2.5zM522.3 399.6h2.5v2.3h-2.5zM600.5 431.5h7.4v2.3h-7.4zM610.3 431.5h2.5v2.3h-2.5zM600.5 436.0h4.9v2.3h-4.9zM610.3 436.0h4.9v2.3h-4.9zM541.9 470.1h2.5v2.3h-2.5zM600.5 474.7h2.5v2.3h-2.5zM600.5 477.0h2.5v2.3h-2.5zM600.5 479.2h4.9v2.3h-4.9zM600.5 481.5h2.5v2.3h-2.5zM541.9 486.1h2.5v2.3h-2.5zM549.2 486.1h2.5v2.3h-2.5zM563.9 486.1h2.5v2.3h-2.5zM588.3 486.1h2.5v2.3h-2.5zM593.2 486.1h2.5v2.3h-2.5zM598.1 486.1h2.5v2.3h-2.5zM605.4 486.1h4.9v2.3h-4.9zM615.2 486.1h2.5v2.3h-2.5zM541.9 488.4h7.4v2.3h-7.4zM588.3 488.4h2.5v2.3h-2.5zM593.2 488.4h2.5v2.3h-2.5zM598.1 488.4h2.5v2.3h-2.5zM607.8 488.4h2.5v2.3h-2.5zM600.5 490.6h4.9v2.3h-4.9zM434.4 492.9h2.5v2.3h-2.5zM600.5 492.9h2.5v2.3h-2.5zM434.4 495.2h2.5v2.3h-2.5zM541.9 495.2h7.4v2.3h-7.4zM602.9 495.2h2.5v2.3h-2.5zM434.4 497.5h2.5v2.3h-2.5zM546.8 497.5h2.5v2.3h-2.5z"/>
<path fill="#8000ff" shape-rendering="crispEdges" d="M522.3 324.5h2.5v2.3h-2.5zM527.2 329.1h2.5v2.3h-2.5zM527.2 340.5h2.5v2.3h-2.5zM502.8 342.8h2.5v2.3h-2.5zM515.0 342.8h4.9v2.3h-4.9zM537.0 342.8h2.5v2.3h-2.5zM524.8 345.0h2.5v2.3h-2.5zM532.1 345.0h2.5v2.3h-2.5zM537.0 345.0h2.5v2.3h-2.5zM497.9 349.6h2.5v2.3h-2.5zM524.8 349.6h2.5v2.3h-2.5zM534.5 349.6h2.5v2.3h-2.5zM497.9 351.8h2.5v2.3h-2.5zM505.2 351.8h2.5v2.3h-2.5zM512.6 351.8h2.5v2.3h-2.5zM534.5 351.8h2.5v2.3h-2.5zM539.4 351.8h2.5v2.3h-2.5zM497.9 356.4h2.5v2.3h-2.5zM502.8 356.4h2.5v2.3h-2.5zM512.6 356.4h2.5v2.3h-2.5zM495.5 358.7h4.9v2.3h-4.9zM502.8 358.7h2.5v2.3h-2.5zM510.1 358.7h2.5v2.3h-2.5zM515.0 358.7h2.5v2.3h-2.5zM497.9 360.9h2.5v2.3h-2.5zM502.8 360.9h2.5v2.3h-2.5zM519.9 360.9h2.5v2.3h-2.5zM524.8 360.9h2.5v2.3h-2.5zM534.5 360.9h2.5v2.3h-2.5zM497.9 363.2h2.5v2.3h-2.5zM512.6 363.2h2.5v2.3h-2.5zM519.9 363.2h2.5v2.3h-2.5zM532.1 363.2h2.5v2.3h-2.5zM537.0 363.2h2.5v2.3h-2.5zM515.0 365.5h2.5v2.3h-2.5zM519.9 365.5h2.5v2.3h-2.5zM527.2 365.5h2.5v2.3h-2.5zM532.1 365.5h2.5v2.3h-2.5zM537.0 365.5h2.5v2.3h-2.5zM527.2 367.8h2.5v2.3h-2.5zM527.2 370.0h2.5v2.3h-2.5zM502.8 372.3h2.5v2.3h-2.5zM527.2 372.3h2.5v2.3h-2.5zM532.1 372.3h2.5v2.3h-2.5zM495.5 376.9h2.5v2.3h-2.5zM522.3 376.9h2.5v2.3h-2.5zM532.1 376.9h2.5v2.3h-2.5zM495.5 379.1h2.5v2.3h-2.5zM502.8 379.1h2.5v2.3h-2.5zM507.7 379.1h2.5v2.3h-2.5zM522.3 379.1h2.5v2.3h-2.5zM527.2 379.1h2.5v2.3h-2.5zM537.0 379.1h2.5v2.3h-2.5zM502.8 386.0h4.9v2.3h-4.9zM510.1 386.0h2.5v2.3h-2.5zM517.4 386.0h4.9v2.3h-4.9zM537.0 386.0h2.5v2.3h-2.5zM461.3 388.2h2.5v2.3h-2.5zM475.9 388.2h4.9v2.3h-4.9zM485.7 388.2h2.5v2.3h-2.5zM453.9 390.5h4.9v2.3h-4.9zM468.6 390.5h2.5v2.3h-2.5zM478.4 390.5h2.5v2.3h-2.5zM493.0 390.5h2.5v2.3h-2.5zM446.6 395.1h2.5v2.3h-2.5zM453.9 395.1h2.5v2.3h-2.5zM463.7 395.1h4.9v2.3h-4.9zM478.4 395.1h2.5v2.3h-2.5zM493.0 395.1h2.5v2.3h-2.5zM449.0 397.4h2.5v2.3h-2.5zM456.4 397.4h2.5v2.3h-2.5zM475.9 399.6h2.5v2.3h-2.5zM483.2 399.6h2.5v2.3h-2.5zM444.2 401.9h2.5v2.3h-2.5zM471.0 401.9h2.5v2.3h-2.5zM478.4 401.9h2.5v2.3h-2.5zM483.2 401.9h2.5v2.3h-2.5zM493.0 401.9h2.5v2.3h-2.5zM449.0 404.2h2.5v2.3h-2.5zM453.9 404.2h4.9v2.3h-4.9zM466.1 404.2h2.5v2.3h-2.5zM453.9 406.4h2.5v2.3h-2.5zM461.3 406.4h4.9v2.3h-4.9zM468.6 406.4h7.4v2.3h-7.4zM483.2 406.4h4.9v2.3h-4.9zM446.6 408.7h4.9v2.3h-4.9zM466.1 408.7h2.5v2.3h-2.5zM478.4 408.7h2.5v2.3h-2.5zM446.6 411.0h2.5v2.3h-2.5zM453.9 411.0h2.5v2.3h-2.5zM461.3 411.0h2.5v2.3h-2.5zM493.0 411.0h2.5v2.3h-2.5zM444.2 413.3h2.5v2.3h-2.5zM473.5 413.3h2.5v2.3h-2.5zM485.7 413.3h2.5v2.3h-2.5zM449.0 415.6h2.5v2.3h-2.5zM461.3 415.6h2.5v2.3h-2.5zM468.6 415.6h2.5v2.3h-2.5zM427.1 417.8h2.5v2.3h-2.5zM431.9 417.8h2.5v2.3h-2.5zM444.2 417.8h2.5v2.3h-2.5zM463.7 417.8h2.5v2.3h-2.5zM473.5 417.8h4.9v2.3h-4.9zM483.2 417.8h4.9v2.3h-4.9zM444.2 422.4h2.5v2.3h-2.5zM461.3 422.4h2.5v2.3h-2.5zM473.5 422.4h2.5v2.3h-2.5zM483.2 422.4h2.5v2.3h-2.5zM456.4 424.6h2.5v2.3h-2.5zM466.1 424.6h2.5v2.3h-2.5zM453.9 426.9h2.5v2.3h-2.5zM461.3 426.9h2.5v2.3h-2.5zM478.4 426.9h2.5v2.3h-2.5zM483.2 426.9h2.5v2.3h-2.5z"/>
<path fill="#e0d377" shape-rendering="crispEdges" d="M488.1 342.8h2.5v2.3h-2.5zM453.9 347.3h2.5v2.3h-2.5zM463.7 347.3h2.5v2.3h-2.5zM473.5 347.3h7.4v2.3h-7.4zM485.7 347.3h2.5v2.3h-2.5zM493.0 347.3h2.5v2.3h-2.5zM456.4 349.6h4.9v2.3h-4.9zM488.1 349.6h2.5v2.3h-2.5zM451.5 351.8h4.9v2.3h-4.9zM480.8 351.8h2.5v2.3h-2.5zM488.1 351.8h2.5v2.3h-2.5zM463.7 354.1h2.5v2.3h-2.5zM468.6 354.1h2.5v2.3h-2.5zM480.8 356.4h2.5v2.3h-2.5zM488.1 356.4h2.5v2.3h-2.5zM493.0 356.4h2.5v2.3h-2.5zM480.8 358.7h2.5v2.3h-2.5zM493.0 358.7h2.5v2.3h-2.5zM453.9 360.9h7.4v2.3h-7.4zM468.6 360.9h2.5v2.3h-2.5zM480.8 360.9h2.5v2.3h-2.5zM488.1 360.9h2.5v2.3h-2.5zM451.5 365.5h2.5v2.3h-2.5zM480.8 365.5h2.5v2.3h-2.5zM451.5 367.8h2.5v2.3h-2.5zM451.5 370.0h2.5v2.3h-2.5zM493.0 370.0h2.5v2.3h-2.5zM451.5 372.3h2.5v2.3h-2.5zM458.8 372.3h2.5v2.3h-2.5zM461.3 374.6h7.4v2.3h-7.4zM471.0 374.6h4.9v2.3h-4.9zM483.2 374.6h4.9v2.3h-4.9zM451.5 376.9h2.5v2.3h-2.5zM480.8 376.9h2.5v2.3h-2.5zM444.2 381.4h2.5v2.3h-2.5zM451.5 381.4h7.4v2.3h-7.4zM466.1 381.4h7.4v2.3h-7.4zM473.5 383.7h2.5v2.3h-2.5zM451.5 386.0h2.5v2.3h-2.5zM471.0 386.0h9.8v2.3h-9.8zM483.2 386.0h2.5v2.3h-2.5zM507.7 392.8h2.5v2.3h-2.5zM505.2 397.4h2.5v2.3h-2.5zM512.6 397.4h2.5v2.3h-2.5zM500.3 399.6h2.5v2.3h-2.5zM500.3 401.9h2.5v2.3h-2.5zM502.8 404.2h2.5v2.3h-2.5zM512.6 404.2h2.5v2.3h-2.5zM505.2 408.7h2.5v2.3h-2.5zM512.6 408.7h2.5v2.3h-2.5zM529.7 417.8h2.5v2.3h-2.5zM524.8 420.1h2.5v2.3h-2.5zM534.5 420.1h4.9v2.3h-4.9zM529.7 424.6h2.5v2.3h-2.5zM539.4 424.6h2.5v2.3h-2.5zM529.7 426.9h2.5v2.3h-2.5zM524.8 429.2h2.5v2.3h-2.5zM529.7 429.2h2.5v2.3h-2.5zM534.5 429.2h2.5v2.3h-2.5zM539.4 429.2h2.5v2.3h-2.5zM549.2 438.3h4.9v2.3h-4.9zM559.0 438.3h2.5v2.3h-2.5zM566.3 438.3h2.5v2.3h-2.5zM573.6 438.3h7.4v2.3h-7.4zM549.2 440.6h2.5v2.3h-2.5zM554.1 440.6h2.5v2.3h-2.5zM561.4 440.6h2.5v2.3h-2.5zM568.7 440.6h2.5v2.3h-2.5zM549.2 442.9h4.9v2.3h-4.9zM561.4 442.9h4.9v2.3h-4.9zM568.7 442.9h2.5v2.3h-2.5zM549.2 445.1h2.5v2.3h-2.5zM563.9 445.1h2.5v2.3h-2.5zM573.6 445.1h2.5v2.3h-2.5zM551.6 447.4h2.5v2.3h-2.5zM561.4 447.4h4.9v2.3h-4.9zM571.2 447.4h4.9v2.3h-4.9zM578.5 447.4h2.5v2.3h-2.5zM559.0 449.7h4.9v2.3h-4.9zM544.3 451.9h2.5v2.3h-2.5zM556.5 451.9h2.5v2.3h-2.5zM566.3 451.9h7.4v2.3h-7.4zM578.5 451.9h2.5v2.3h-2.5zM549.2 454.2h2.5v2.3h-2.5zM559.0 454.2h2.5v2.3h-2.5zM568.7 454.2h2.5v2.3h-2.5zM551.6 456.5h4.9v2.3h-4.9zM559.0 456.5h4.9v2.3h-4.9zM576.1 456.5h2.5v2.3h-2.5zM549.2 458.8h4.9v2.3h-4.9zM561.4 458.8h2.5v2.3h-2.5zM573.6 458.8h2.5v2.3h-2.5zM578.5 458.8h2.5v2.3h-2.5zM549.2 461.1h4.9v2.3h-4.9zM559.0 461.1h2.5v2.3h-2.5zM563.9 461.1h2.5v2.3h-2.5zM568.7 461.1h2.5v2.3h-2.5zM573.6 461.1h7.4v2.3h-7.4zM549.2 463.3h2.5v2.3h-2.5zM554.1 463.3h2.5v2.3h-2.5zM559.0 463.3h2.5v2.3h-2.5zM578.5 463.3h2.5v2.3h-2.5zM549.2 465.6h2.5v2.3h-2.5zM559.0 465.6h2.5v2.3h-2.5zM581.0 467.9h4.9v2.3h-4.9zM583.4 470.1h2.5v2.3h-2.5z"/>
<path fill="#f0c46d" shape-rendering="crispEdges" d="M451.5 347.3h2.5v2.3h-2.5zM483.2 347.3h2.5v2.3h-2.5zM453.9 349.6h2.5v2.3h-2.5zM461.3 349.6h2.5v2.3h-2.5zM466.1 349.6h2.5v2.3h-2.5zM478.4 349.6h2.5v2.3h-2.5zM458.8 351.8h4.9v2.3h-4.9zM466.1 351.8h4.9v2.3h-4.9zM478.4 351.8h2.5v2.3h-2.5zM483.2 351.8h4.9v2.3h-4.9zM461.3 354.1h2.5v2.3h-2.5zM466.1 354.1h2.5v2.3h-2.5zM471.0 354.1h4.9v2.3h-4.9zM478.4 354.1h2.5v2.3h-2.5zM485.7 354.1h2.5v2.3h-2.5zM453.9 356.4h9.8v2.3h-9.8zM478.4 356.4h2.5v2.3h-2.5zM453.9 358.7h2.5v2.3h-2.5zM458.8 358.7h2.5v2.3h-2.5zM466.1 358.7h2.5v2.3h-2.5zM488.1 358.7h2.5v2.3h-2.5zM461.3 360.9h2.5v2.3h-2.5zM485.7 360.9h2.5v2.3h-2.5zM456.4 363.2h4.9v2.3h-4.9zM466.1 363.2h2.5v2.3h-2.5zM488.1 363.2h2.5v2.3h-2.5zM458.8 365.5h2.5v2.3h-2.5zM463.7 365.5h4.9v2.3h-4.9zM488.1 365.5h2.5v2.3h-2.5zM458.8 367.8h2.5v2.3h-2.5zM480.8 367.8h2.5v2.3h-2.5zM493.0 367.8h2.5v2.3h-2.5zM480.8 370.0h2.5v2.3h-2.5zM456.4 372.3h2.5v2.3h-2.5zM475.9 374.6h4.9v2.3h-4.9zM458.8 376.9h2.5v2.3h-2.5zM466.1 376.9h2.5v2.3h-2.5zM488.1 376.9h2.5v2.3h-2.5zM466.1 379.1h2.5v2.3h-2.5zM480.8 379.1h2.5v2.3h-2.5zM461.3 381.4h4.9v2.3h-4.9zM473.5 381.4h7.4v2.3h-7.4zM483.2 381.4h2.5v2.3h-2.5zM488.1 381.4h2.5v2.3h-2.5zM500.3 388.2h2.5v2.3h-2.5zM495.5 392.8h2.5v2.3h-2.5zM502.8 392.8h2.5v2.3h-2.5zM505.2 404.2h2.5v2.3h-2.5zM500.3 411.0h2.5v2.3h-2.5zM539.4 420.1h2.5v2.3h-2.5zM561.4 438.3h4.9v2.3h-4.9zM568.7 438.3h4.9v2.3h-4.9zM551.6 440.6h2.5v2.3h-2.5zM559.0 440.6h2.5v2.3h-2.5zM549.2 447.4h2.5v2.3h-2.5zM549.2 449.7h2.5v2.3h-2.5zM563.9 449.7h2.5v2.3h-2.5zM571.2 449.7h2.5v2.3h-2.5zM549.2 451.9h7.4v2.3h-7.4zM559.0 451.9h7.4v2.3h-7.4zM573.6 451.9h4.9v2.3h-4.9zM563.9 454.2h2.5v2.3h-2.5zM549.2 456.5h2.5v2.3h-2.5zM568.7 456.5h2.5v2.3h-2.5zM563.9 458.8h2.5v2.3h-2.5zM563.9 463.3h2.5v2.3h-2.5zM563.9 465.6h2.5v2.3h-2.5zM585.8 467.9h2.5v2.3h-2.5zM581.0 470.1h2.5v2.3h-2.5zM585.8 470.1h4.9v2.3h-4.9zM598.1 470.1h2.5v2.3h-2.5zM581.0 472.4h2.5v2.3h-2.5zM585.8 472.4h2.5v2.3h-2.5zM583.4 474.7h2.5v2.3h-2.5zM583.4 479.2h2.5v2.3h-2.5zM610.3 490.6h4.9v2.3h-4.9zM605.4 495.2h2.5v2.3h-2.5zM605.4 497.5h2.5v2.3h-2.5zM615.2 497.5h2.5v2.3h-2.5z"/>
<path fill="#ffb462" shape-rendering="crispEdges" d="M488.1 347.3h2.5v2.3h-2.5zM463.7 349.6h2.5v2.3h-2.5zM468.6 349.6h4.9v2.3h-4.9zM475.9 349.6h2.5v2.3h-2.5zM483.2 349.6h4.9v2.3h-4.9zM463.7 351.8h2.5v2.3h-2.5zM471.0 351.8h4.9v2.3h-4.9zM475.9 354.1h2.5v2.3h-2.5zM483.2 354.1h2.5v2.3h-2.5zM463.7 356.4h9.8v2.3h-9.8zM485.7 356.4h2.5v2.3h-2.5zM456.4 358.7h2.5v2.3h-2.5zM461.3 358.7h4.9v2.3h-4.9zM468.6 358.7h7.4v2.3h-7.4zM478.4 358.7h2.5v2.3h-2.5zM483.2 358.7h2.5v2.3h-2.5zM463.7 360.9h4.9v2.3h-4.9zM471.0 360.9h4.9v2.3h-4.9zM478.4 360.9h2.5v2.3h-2.5zM483.2 360.9h2.5v2.3h-2.5zM453.9 363.2h2.5v2.3h-2.5zM461.3 363.2h4.9v2.3h-4.9zM468.6 363.2h7.4v2.3h-7.4zM478.4 363.2h2.5v2.3h-2.5zM483.2 363.2h4.9v2.3h-4.9zM453.9 365.5h4.9v2.3h-4.9zM461.3 365.5h2.5v2.3h-2.5zM468.6 365.5h4.9v2.3h-4.9zM478.4 365.5h2.5v2.3h-2.5zM453.9 367.8h4.9v2.3h-4.9zM461.3 367.8h9.8v2.3h-9.8zM488.1 367.8h2.5v2.3h-2.5zM453.9 370.0h7.4v2.3h-7.4zM471.0 370.0h2.5v2.3h-2.5zM453.9 372.3h2.5v2.3h-2.5zM461.3 372.3h14.7v2.3h-14.7zM478.4 372.3h2.5v2.3h-2.5zM485.7 372.3h4.9v2.3h-4.9zM453.9 376.9h4.9v2.3h-4.9zM461.3 376.9h4.9v2.3h-4.9zM453.9 379.1h7.4v2.3h-7.4zM468.6 379.1h2.5v2.3h-2.5zM473.5 379.1h2.5v2.3h-2.5zM488.1 379.1h2.5v2.3h-2.5zM485.7 381.4h2.5v2.3h-2.5zM500.3 390.5h2.5v2.3h-2.5zM497.9 392.8h2.5v2.3h-2.5zM505.2 392.8h2.5v2.3h-2.5zM510.1 392.8h12.3v2.3h-12.3zM500.3 395.1h2.5v2.3h-2.5zM500.3 397.4h2.5v2.3h-2.5zM500.3 404.2h2.5v2.3h-2.5zM500.3 406.4h2.5v2.3h-2.5zM500.3 408.7h2.5v2.3h-2.5zM529.7 420.1h2.5v2.3h-2.5zM563.9 440.6h2.5v2.3h-2.5zM563.9 456.5h2.5v2.3h-2.5zM588.3 467.9h2.5v2.3h-2.5zM593.2 467.9h2.5v2.3h-2.5zM598.1 467.9h2.5v2.3h-2.5zM593.2 470.1h4.9v2.3h-4.9zM588.3 472.4h4.9v2.3h-4.9zM581.0 474.7h2.5v2.3h-2.5zM585.8 474.7h2.5v2.3h-2.5zM583.4 481.5h2.5v2.3h-2.5zM581.0 483.8h4.9v2.3h-4.9zM605.4 490.6h2.5v2.3h-2.5zM610.3 492.9h4.9v2.3h-4.9zM607.8 495.2h2.5v2.3h-2.5zM615.2 495.2h2.5v2.3h-2.5zM607.8 497.5h2.5v2.3h-2.5zM610.3 499.7h4.9v2.3h-4.9z"/>
<path fill="#ffa356" shape-rendering="crispEdges" d="M473.5 349.6h2.5v2.3h-2.5zM475.9 351.8h2.5v2.3h-2.5zM473.5 356.4h4.9v2.3h-4.9zM483.2 356.4h2.5v2.3h-2.5zM475.9 358.7h2.5v2.3h-2.5zM485.7 358.7h2.5v2.3h-2.5zM475.9 360.9h2.5v2.3h-2.5zM475.9 363.2h2.5v2.3h-2.5zM473.5 365.5h4.9v2.3h-4.9zM483.2 365.5h4.9v2.3h-4.9zM471.0 367.8h2.5v2.3h-2.5zM475.9 367.8h4.9v2.3h-4.9zM483.2 367.8h4.9v2.3h-4.9zM461.3 370.0h9.8v2.3h-9.8zM473.5 370.0h2.5v2.3h-2.5zM478.4 370.0h2.5v2.3h-2.5zM483.2 370.0h2.5v2.3h-2.5zM488.1 370.0h2.5v2.3h-2.5zM475.9 372.3h2.5v2.3h-2.5zM483.2 372.3h2.5v2.3h-2.5zM468.6 376.9h4.9v2.3h-4.9zM478.4 376.9h2.5v2.3h-2.5zM483.2 376.9h4.9v2.3h-4.9zM461.3 379.1h4.9v2.3h-4.9zM471.0 379.1h2.5v2.3h-2.5zM478.4 379.1h2.5v2.3h-2.5zM483.2 379.1h2.5v2.3h-2.5zM590.7 467.9h2.5v2.3h-2.5zM595.6 467.9h2.5v2.3h-2.5zM590.7 470.1h2.5v2.3h-2.5zM593.2 472.4h7.4v2.3h-7.4zM588.3 474.7h2.5v2.3h-2.5zM593.2 474.7h7.4v2.3h-7.4zM581.0 477.0h7.4v2.3h-7.4zM581.0 479.2h2.5v2.3h-2.5zM585.8 479.2h2.5v2.3h-2.5zM593.2 479.2h2.5v2.3h-2.5zM581.0 481.5h2.5v2.3h-2.5zM585.8 481.5h4.9v2.3h-4.9zM585.8 483.8h4.9v2.3h-4.9zM598.1 483.8h2.5v2.3h-2.5zM607.8 490.6h2.5v2.3h-2.5zM605.4 492.9h4.9v2.3h-4.9zM605.4 499.7h2.5v2.3h-2.5z"/>
<path fill="#ff8f4b" shape-rendering="crispEdges" d="M473.5 367.8h2.5v2.3h-2.5zM485.7 370.0h2.5v2.3h-2.5zM473.5 376.9h4.9v2.3h-4.9zM475.9 379.1h2.5v2.3h-2.5zM485.7 379.1h2.5v2.3h-2.5zM500.3 392.8h2.5v2.3h-2.5zM588.3 477.0h2.5v2.3h-2.5zM595.6 477.0h4.9v2.3h-4.9zM588.3 479.2h4.9v2.3h-4.9zM595.6 479.2h4.9v2.3h-4.9zM590.7 481.5h2.5v2.3h-2.5zM595.6 481.5h4.9v2.3h-4.9zM590.7 483.8h2.5v2.3h-2.5zM595.6 483.8h2.5v2.3h-2.5zM615.2 490.6h2.5v2.3h-2.5zM615.2 492.9h2.5v2.3h-2.5zM607.8 499.7h2.5v2.3h-2.5zM615.2 499.7h2.5v2.3h-2.5z"/>
<path fill="#ff7b3f" shape-rendering="crispEdges" d="M475.9 370.0h2.5v2.3h-2.5zM590.7 474.7h2.5v2.3h-2.5zM590.7 477.0h4.9v2.3h-4.9zM593.2 481.5h2.5v2.3h-2.5zM593.2 483.8h2.5v2.3h-2.5z"/>
<line x1="412.40" y1="310.90" x2="617.60" y2="502.00" stroke="#ff0000" stroke-width="1.1"/>
<rect x="412.40" y="298.40" width="21.70" height="5.90" fill="#c8b6f2"/>
<rect x="434.10" y="298.40" width="61.20" height="5.90" fill="#a3c7ef"/>
<rect x="495.30" y="298.40" width="46.60" height="5.90" fill="#f5a09c"/>
<rect x="541.90" y="298.40" width="38.10" height="5.90" fill="#90dc9c"/>
<rect x="580.00" y="298.40" width="37.60" height="5.90" fill="#f8b486"/>
<rect x="412.40" y="304.30" width="5.16" height="6.60" fill="#58d858"/>
<rect x="417.53" y="304.30" width="3.45" height="6.60" fill="#e05890"/>
<rect x="420.95" y="304.30" width="5.16" height="6.60" fill="#e05a5a"/>
<rect x="426.08" y="304.30" width="3.45" height="6.60" fill="#e05890"/>
<rect x="429.50" y="304.30" width="1.74" height="6.60" fill="#b058e0"/>
<rect x="431.21" y="304.30" width="1.74" height="6.60" fill="#d8d84a"/>
<rect x="432.92" y="304.30" width="1.74" height="6.60" fill="#50d888"/>
<rect x="434.63" y="304.30" width="3.45" height="6.60" fill="#a0d850"/>
<rect x="438.05" y="304.30" width="3.45" height="6.60" fill="#5070e0"/>
<rect x="441.47" y="304.30" width="1.74" height="6.60" fill="#6a58e0"/>
<rect x="443.18" y="304.30" width="1.74" height="6.60" fill="#e05a5a"/>
<rect x="444.89" y="304.30" width="1.74" height="6.60" fill="#50d8c8"/>
<rect x="446.60" y="304.30" width="3.45" height="6.60" fill="#d8d84a"/>
<rect x="450.02" y="304.30" width="3.45" height="6.60" fill="#e05890"/>
<rect x="453.44" y="304.30" width="1.74" height="6.60" fill="#d8d84a"/>
<rect x="455.15" y="304.30" width="5.16" height="6.60" fill="#6a58e0"/>
<rect x="460.28" y="304.30" width="3.45" height="6.60" fill="#d8d84a"/>
<rect x="463.70" y="304.30" width="1.74" height="6.60" fill="#e05a5a"/>
<rect x="465.41" y="304.30" width="1.74" height="6.60" fill="#a0d850"/>
<rect x="467.12" y="304.30" width="1.74" height="6.60" fill="#d8d84a"/>
<rect x="468.83" y="304.30" width="1.74" height="6.60" fill="#58d858"/>
<rect x="470.54" y="304.30" width="3.45" height="6.60" fill="#a0d850"/>
<rect x="473.96" y="304.30" width="5.16" height="6.60" fill="#b058e0"/>
<rect x="479.09" y="304.30" width="1.74" height="6.60" fill="#d8d84a"/>
<rect x="480.80" y="304.30" width="1.74" height="6.60" fill="#50d8c8"/>
<rect x="482.51" y="304.30" width="3.45" height="6.60" fill="#e05a5a"/>
<rect x="485.93" y="304.30" width="3.45" height="6.60" fill="#50d8c8"/>
<rect x="489.35" y="304.30" width="1.74" height="6.60" fill="#d8d84a"/>
<rect x="491.06" y="304.30" width="3.45" height="6.60" fill="#e0944a"/>
<rect x="494.48" y="304.30" width="3.45" height="6.60" fill="#58d858"/>
<rect x="497.90" y="304.30" width="5.16" height="6.60" fill="#6a58e0"/>
<rect x="503.03" y="304.30" width="1.74" height="6.60" fill="#b058e0"/>
<rect x="504.74" y="304.30" width="3.45" height="6.60" fill="#e0944a"/>
<rect x="508.16" y="304.30" width="3.45" height="6.60" fill="#50d888"/>
<rect x="511.58" y="304.30" width="3.45" height="6.60" fill="#50a8e0"/>
<rect x="515.00" y="304.30" width="3.45" height="6.60" fill="#d8d84a"/>
<rect x="518.42" y="304.30" width="3.45" height="6.60" fill="#50a8e0"/>
<rect x="521.84" y="304.30" width="1.74" height="6.60" fill="#e05a5a"/>
<rect x="523.55" y="304.30" width="3.45" height="6.60" fill="#e058c8"/>
<rect x="526.97" y="304.30" width="3.45" height="6.60" fill="#50d8c8"/>
<rect x="530.39" y="304.30" width="1.74" height="6.60" fill="#5070e0"/>
<rect x="532.10" y="304.30" width="3.45" height="6.60" fill="#50d888"/>
<rect x="535.52" y="304.30" width="3.45" height="6.60" fill="#6a58e0"/>
<rect x="538.94" y="304.30" width="1.74" height="6.60" fill="#50a8e0"/>
<rect x="540.65" y="304.30" width="1.74" height="6.60" fill="#e058c8"/>
<rect x="542.36" y="304.30" width="1.74" height="6.60" fill="#6a58e0"/>
<rect x="544.07" y="304.30" width="1.74" height="6.60" fill="#e0944a"/>
<rect x="545.78" y="304.30" width="1.74" height="6.60" fill="#50a8e0"/>
<rect x="547.49" y="304.30" width="3.45" height="6.60" fill="#5070e0"/>
<rect x="550.91" y="304.30" width="3.45" height="6.60" fill="#58d858"/>
<rect x="554.33" y="304.30" width="3.45" height="6.60" fill="#e0944a"/>
<rect x="557.75" y="304.30" width="5.16" height="6.60" fill="#e058c8"/>
<rect x="562.88" y="304.30" width="3.45" height="6.60" fill="#58d858"/>
<rect x="566.30" y="304.30" width="1.74" height="6.60" fill="#50d8c8"/>
<rect x="568.01" y="304.30" width="1.74" height="6.60" fill="#a0d850"/>
<rect x="569.72" y="304.30" width="3.45" height="6.60" fill="#5070e0"/>
<rect x="573.14" y="304.30" width="5.16" height="6.60" fill="#50d888"/>
<rect x="578.27" y="304.30" width="1.74" height="6.60" fill="#58d858"/>
<rect x="579.98" y="304.30" width="5.16" height="6.60" fill="#e0944a"/>
<rect x="585.11" y="304.30" width="3.45" height="6.60" fill="#b058e0"/>
<rect x="588.53" y="304.30" width="3.45" height="6.60" fill="#58d858"/>
<rect x="591.95" y="304.30" width="1.74" height="6.60" fill="#e05890"/>
<rect x="593.66" y="304.30" width="1.74" height="6.60" fill="#b058e0"/>
<rect x="595.37" y="304.30" width="1.74" height="6.60" fill="#e058c8"/>
<rect x="597.08" y="304.30" width="3.45" height="6.60" fill="#50a8e0"/>
<rect x="600.50" y="304.30" width="1.74" height="6.60" fill="#e058c8"/>
<rect x="602.21" y="304.30" width="1.74" height="6.60" fill="#e0944a"/>
<rect x="603.92" y="304.30" width="5.16" height="6.60" fill="#5070e0"/>
<rect x="609.05" y="304.30" width="3.45" height="6.60" fill="#e05a5a"/>
<rect x="612.47" y="304.30" width="1.74" height="6.60" fill="#e058c8"/>
<rect x="614.18" y="304.30" width="3.45" height="6.60" fill="#50d888"/>
<text x="412.00" y="291.10" font-size="10.9" fill="#111" stroke="#111" stroke-width="0.2" text-anchor="start" textLength="127.6" lengthAdjust="spacingAndGlyphs">Immune infiltration pattern</text>
<circle cx="550.10" cy="287.60" r="4.30" fill="#a4c8f0" stroke="#2b3566" stroke-width="0.9"/>
<text x="557.10" y="291.30" font-size="10.9" fill="#111" stroke="#111" stroke-width="0.2" text-anchor="start">1</text>
<circle cx="570.80" cy="287.60" r="4.30" fill="#f8b080" stroke="#2b3566" stroke-width="0.9"/>
<text x="577.80" y="291.30" font-size="10.9" fill="#111" stroke="#111" stroke-width="0.2" text-anchor="start">2</text>
<circle cx="591.00" cy="287.60" r="4.30" fill="#88d8a0" stroke="#2b3566" stroke-width="0.9"/>
<text x="598.00" y="291.30" font-size="10.9" fill="#111" stroke="#111" stroke-width="0.2" text-anchor="start">3</text>
<circle cx="610.20" cy="287.60" r="4.30" fill="#f09494" stroke="#2b3566" stroke-width="0.9"/>
<text x="617.20" y="291.30" font-size="10.9" fill="#111" stroke="#111" stroke-width="0.2" text-anchor="start">4</text>
<circle cx="630.40" cy="287.60" r="4.30" fill="#c8b8f0" stroke="#2b3566" stroke-width="0.9"/>
<text x="637.40" y="291.30" font-size="10.9" fill="#111" stroke="#111" stroke-width="0.2" text-anchor="start">5</text>
<text x="626.80" y="310.60" font-size="8.6" fill="#111" stroke="#111" stroke-width="0.2" text-anchor="start" textLength="39.4" lengthAdjust="spacingAndGlyphs">Patient ID</text>
<circle cx="629.80" cy="318.00" r="3.30" fill="#e05a5a"/>
<text x="644.20" y="320.60" font-size="7.2" fill="#333" stroke="#333" stroke-width="0.2" text-anchor="start">TP18_M202</text>
<circle cx="629.80" cy="328.82" r="3.30" fill="#e0944a"/>
<text x="644.20" y="331.42" font-size="7.2" fill="#333" stroke="#333" stroke-width="0.2" text-anchor="start">TP18_M302</text>
<circle cx="629.80" cy="339.64" r="3.30" fill="#d8d84a"/>
<text x="644.20" y="342.24" font-size="7.2" fill="#333" stroke="#333" stroke-width="0.2" text-anchor="start">TP17_M802</text>
<circle cx="629.80" cy="350.46" r="3.30" fill="#a0d850"/>
<text x="644.20" y="353.06" font-size="7.2" fill="#333" stroke="#333" stroke-width="0.2" text-anchor="start">TP18_M251</text>
<circle cx="629.80" cy="361.28" r="3.30" fill="#58d858"/>
<text x="644.20" y="363.88" font-size="7.2" fill="#333" stroke="#333" stroke-width="0.2" text-anchor="start">TP18_M355</text>
<circle cx="629.80" cy="372.10" r="3.30" fill="#50d888"/>
<text x="644.20" y="374.70" font-size="7.2" fill="#333" stroke="#333" stroke-width="0.2" text-anchor="start">TP18_M121</text>
<circle cx="629.80" cy="382.92" r="3.30" fill="#50d8c8"/>
<text x="644.20" y="385.52" font-size="7.2" fill="#333" stroke="#333" stroke-width="0.2" text-anchor="start">TP18_M372</text>
<circle cx="629.80" cy="393.74" r="3.30" fill="#50a8e0"/>
<text x="644.20" y="396.34" font-size="7.2" fill="#333" stroke="#333" stroke-width="0.2" text-anchor="start">TP18_M95</text>
<circle cx="629.80" cy="404.56" r="3.30" fill="#5070e0"/>
<text x="644.20" y="407.16" font-size="7.2" fill="#333" stroke="#333" stroke-width="0.2" text-anchor="start">TP18_M329</text>
<circle cx="629.80" cy="415.38" r="3.30" fill="#6a58e0"/>
<text x="644.20" y="417.98" font-size="7.2" fill="#333" stroke="#333" stroke-width="0.2" text-anchor="start">TP18_M403</text>
<circle cx="629.80" cy="426.20" r="3.30" fill="#b058e0"/>
<text x="644.20" y="428.80" font-size="7.2" fill="#333" stroke="#333" stroke-width="0.2" text-anchor="start">TP18_M278</text>
<circle cx="629.80" cy="437.02" r="3.30" fill="#e058c8"/>
<text x="644.20" y="439.62" font-size="7.2" fill="#333" stroke="#333" stroke-width="0.2" text-anchor="start">TP17_M882</text>
<circle cx="629.80" cy="447.84" r="3.30" fill="#e05890"/>
<text x="644.20" y="450.44" font-size="7.2" fill="#333" stroke="#333" stroke-width="0.2" text-anchor="start">TP17_M510</text>
<defs><linearGradient id="gD" x1="0" y1="1" x2="0" y2="0"><stop offset="0.0" stop-color="#8000ff"/><stop offset="0.1" stop-color="#4d4ffc"/><stop offset="0.2" stop-color="#1996f3"/><stop offset="0.3" stop-color="#19cee3"/><stop offset="0.4" stop-color="#4df3ce"/><stop offset="0.5" stop-color="#80ffb4"/><stop offset="0.6" stop-color="#b3f396"/><stop offset="0.7" stop-color="#e5ce74"/><stop offset="0.8" stop-color="#ff964f"/><stop offset="0.9" stop-color="#ff4f28"/><stop offset="1.0" stop-color="#ff0000"/></linearGradient></defs>
<rect x="622.80" y="464.50" width="4.40" height="37.50" fill="url(#gD)"/>
<text x="628.50" y="502.80" font-size="2.6" fill="#444" text-anchor="start">0.0</text>
<text x="628.50" y="495.30" font-size="2.6" fill="#444" text-anchor="start">0.2</text>
<text x="628.50" y="487.80" font-size="2.6" fill="#444" text-anchor="start">0.4</text>
<text x="628.50" y="480.30" font-size="2.6" fill="#444" text-anchor="start">0.6</text>
<text x="628.50" y="472.80" font-size="2.6" fill="#444" text-anchor="start">0.8</text>
<text x="628.50" y="465.30" font-size="2.6" fill="#444" text-anchor="start">1.0</text>
<path d="M411 333V434.3" stroke="#d6d6d6" stroke-width="0.7" fill="none"/>
<path d="M402.4 333H411" stroke="#d6d6d6" stroke-width="0.7" fill="none"/>
<path d="M402.4 333V434.3H411" stroke="#d6d6d6" stroke-width="0.7" fill="none"/>
<path d="M409.5 441V484.7" stroke="#d6d6d6" stroke-width="0.7" fill="none"/>
<path d="M405 352V420H409" stroke="#d6d6d6" stroke-width="0.6" fill="none"/>
<rect x="75.20" y="558.30" width="81.60" height="85.80" fill="none" stroke="#444" stroke-width="0.9"/>
<text x="115.80" y="555.60" font-size="10.3" fill="#111" stroke="#111" stroke-width="0.2" text-anchor="middle" textLength="39.6" lengthAdjust="spacingAndGlyphs">Pattern 1</text>
<text x="69.90" y="647.60" font-size="8.5" fill="#222" stroke="#222" stroke-width="0.2" text-anchor="end">0</text>
<text x="69.90" y="619.07" font-size="8.5" fill="#222" stroke="#222" stroke-width="0.2" text-anchor="end">1000</text>
<text x="69.90" y="590.54" font-size="8.5" fill="#222" stroke="#222" stroke-width="0.2" text-anchor="end">2000</text>
<text x="69.90" y="562.01" font-size="8.5" fill="#222" stroke="#222" stroke-width="0.2" text-anchor="end">3000</text>
<text x="47.60" y="602" font-size="8.8" fill="#222" stroke="#222" stroke-width="0.15" text-anchor="middle" font-style="italic" transform="rotate(-90 47.60 602)">Count/mm<tspan font-size="5.5" dy="-3">2</tspan></text>
<line x1="83.36" y1="606.94" x2="83.36" y2="626.20" stroke="#444" stroke-width="0.8"/>
<line x1="83.36" y1="639.89" x2="83.36" y2="644.60" stroke="#444" stroke-width="0.8"/>
<line x1="80.10" y1="606.94" x2="86.62" y2="606.94" stroke="#444" stroke-width="0.8"/>
<line x1="80.10" y1="644.60" x2="86.62" y2="644.60" stroke="#444" stroke-width="0.8"/>
<rect x="76.75" y="626.20" width="13.22" height="13.69" fill="#92ccb4" stroke="#444" stroke-width="0.8"/>
<line x1="76.75" y1="633.76" x2="89.97" y2="633.76" stroke="#444" stroke-width="0.96"/>
<path d="M83.36 557.11L84.73 559.01L83.36 560.91L81.99 559.01Z" fill="#444"/>
<circle cx="83.6" cy="637.8" r="0.55" fill="#333" fill-opacity="0.75"/>
<circle cx="84.0" cy="635.0" r="0.55" fill="#333" fill-opacity="0.75"/>
<circle cx="80.5" cy="629.7" r="0.55" fill="#333" fill-opacity="0.75"/>
<circle cx="85.6" cy="642.5" r="0.55" fill="#333" fill-opacity="0.75"/>
<circle cx="81.6" cy="637.3" r="0.55" fill="#333" fill-opacity="0.75"/>
<circle cx="83.2" cy="622.0" r="0.55" fill="#333" fill-opacity="0.75"/>
<circle cx="83.2" cy="625.3" r="0.55" fill="#333" fill-opacity="0.75"/>
<circle cx="81.1" cy="629.4" r="0.55" fill="#333" fill-opacity="0.75"/>
<line x1="99.68" y1="600.09" x2="99.68" y2="618.07" stroke="#444" stroke-width="0.8"/>
<line x1="99.68" y1="635.19" x2="99.68" y2="642.17" stroke="#444" stroke-width="0.8"/>
<line x1="96.42" y1="600.09" x2="102.94" y2="600.09" stroke="#444" stroke-width="0.8"/>
<line x1="96.42" y1="642.17" x2="102.94" y2="642.17" stroke="#444" stroke-width="0.8"/>
<rect x="93.07" y="618.07" width="13.22" height="17.12" fill="#f5b09b" stroke="#444" stroke-width="0.8"/>
<line x1="93.07" y1="627.91" x2="106.29" y2="627.91" stroke="#444" stroke-width="0.96"/>
<circle cx="102.1" cy="622.6" r="0.55" fill="#333" fill-opacity="0.75"/>
<circle cx="101.3" cy="625.4" r="0.55" fill="#333" fill-opacity="0.75"/>
<circle cx="96.8" cy="621.8" r="0.55" fill="#333" fill-opacity="0.75"/>
<circle cx="100.3" cy="619.7" r="0.55" fill="#333" fill-opacity="0.75"/>
<circle cx="96.6" cy="630.7" r="0.55" fill="#333" fill-opacity="0.75"/>
<circle cx="99.5" cy="617.0" r="0.55" fill="#333" fill-opacity="0.75"/>
<circle cx="102.2" cy="620.6" r="0.55" fill="#333" fill-opacity="0.75"/>
<circle cx="102.4" cy="620.7" r="0.55" fill="#333" fill-opacity="0.75"/>
<circle cx="101.6" cy="628.5" r="0.55" fill="#333" fill-opacity="0.75"/>
<line x1="116.00" y1="625.77" x2="116.00" y2="633.33" stroke="#444" stroke-width="0.8"/>
<line x1="116.00" y1="639.89" x2="116.00" y2="644.60" stroke="#444" stroke-width="0.8"/>
<line x1="112.74" y1="625.77" x2="119.26" y2="625.77" stroke="#444" stroke-width="0.8"/>
<line x1="112.74" y1="644.60" x2="119.26" y2="644.60" stroke="#444" stroke-width="0.8"/>
<rect x="109.39" y="633.33" width="13.22" height="6.56" fill="#b3c0de" stroke="#444" stroke-width="0.8"/>
<line x1="109.39" y1="638.04" x2="122.61" y2="638.04" stroke="#444" stroke-width="0.96"/>
<path d="M116.00 619.02L117.37 620.92L116.00 622.82L114.63 620.92Z" fill="#444"/>
<path d="M116.00 618.45L117.37 620.35L116.00 622.25L114.63 620.35Z" fill="#444"/>
<circle cx="118.8" cy="636.7" r="0.55" fill="#333" fill-opacity="0.75"/>
<circle cx="113.4" cy="630.7" r="0.55" fill="#333" fill-opacity="0.75"/>
<circle cx="114.2" cy="640.9" r="0.55" fill="#333" fill-opacity="0.75"/>
<circle cx="115.6" cy="629.5" r="0.55" fill="#333" fill-opacity="0.75"/>
<circle cx="114.7" cy="634.2" r="0.55" fill="#333" fill-opacity="0.75"/>
<line x1="132.32" y1="639.46" x2="132.32" y2="643.74" stroke="#444" stroke-width="0.8"/>
<line x1="132.32" y1="644.60" x2="132.32" y2="644.60" stroke="#444" stroke-width="0.8"/>
<line x1="129.06" y1="639.46" x2="135.58" y2="639.46" stroke="#444" stroke-width="0.8"/>
<line x1="129.06" y1="644.60" x2="135.58" y2="644.60" stroke="#444" stroke-width="0.8"/>
<rect x="125.71" y="643.74" width="13.22" height="0.86" fill="#efb5d6" stroke="#444" stroke-width="0.8"/>
<line x1="125.71" y1="644.31" x2="138.93" y2="644.31" stroke="#444" stroke-width="0.96"/>
<circle cx="131.6" cy="642.0" r="0.55" fill="#333" fill-opacity="0.75"/>
<circle cx="132.9" cy="642.8" r="0.55" fill="#333" fill-opacity="0.75"/>
<circle cx="135.0" cy="641.6" r="0.55" fill="#333" fill-opacity="0.75"/>
<circle cx="135.1" cy="641.1" r="0.55" fill="#333" fill-opacity="0.75"/>
<line x1="148.64" y1="612.36" x2="148.64" y2="623.20" stroke="#444" stroke-width="0.8"/>
<line x1="148.64" y1="632.33" x2="148.64" y2="638.04" stroke="#444" stroke-width="0.8"/>
<line x1="145.38" y1="612.36" x2="151.90" y2="612.36" stroke="#444" stroke-width="0.8"/>
<line x1="145.38" y1="638.04" x2="151.90" y2="638.04" stroke="#444" stroke-width="0.8"/>
<rect x="142.03" y="623.20" width="13.22" height="9.13" fill="#bcdc97" stroke="#444" stroke-width="0.8"/>
<line x1="142.03" y1="630.34" x2="155.25" y2="630.34" stroke="#444" stroke-width="0.96"/>
<path d="M148.64 600.19L150.01 602.09L148.64 603.99L147.27 602.09Z" fill="#444"/>
<circle cx="151.8" cy="621.3" r="0.55" fill="#333" fill-opacity="0.75"/>
<circle cx="146.4" cy="624.3" r="0.55" fill="#333" fill-opacity="0.75"/>
<circle cx="151.7" cy="621.2" r="0.55" fill="#333" fill-opacity="0.75"/>
<circle cx="149.1" cy="620.5" r="0.55" fill="#333" fill-opacity="0.75"/>
<circle cx="146.8" cy="623.6" r="0.55" fill="#333" fill-opacity="0.75"/>
<circle cx="149.1" cy="621.7" r="0.55" fill="#333" fill-opacity="0.75"/>
<rect x="197.70" y="558.30" width="82.20" height="85.80" fill="none" stroke="#444" stroke-width="0.9"/>
<text x="238.50" y="555.60" font-size="10.3" fill="#111" stroke="#111" stroke-width="0.2" text-anchor="middle" textLength="39.6" lengthAdjust="spacingAndGlyphs">Pattern 2</text>
<text x="193.00" y="647.60" font-size="8.5" fill="#222" stroke="#222" stroke-width="0.2" text-anchor="end">0</text>
<text x="193.00" y="619.07" font-size="8.5" fill="#222" stroke="#222" stroke-width="0.2" text-anchor="end">1000</text>
<text x="193.00" y="590.54" font-size="8.5" fill="#222" stroke="#222" stroke-width="0.2" text-anchor="end">2000</text>
<text x="193.00" y="562.01" font-size="8.5" fill="#222" stroke="#222" stroke-width="0.2" text-anchor="end">3000</text>
<text x="169.60" y="602" font-size="8.8" fill="#222" stroke="#222" stroke-width="0.15" text-anchor="middle" font-style="italic" transform="rotate(-90 169.60 602)">Count/mm<tspan font-size="5.5" dy="-3">2</tspan></text>
<line x1="205.92" y1="640.32" x2="205.92" y2="643.74" stroke="#444" stroke-width="0.8"/>
<line x1="205.92" y1="644.60" x2="205.92" y2="644.60" stroke="#444" stroke-width="0.8"/>
<line x1="202.63" y1="640.32" x2="209.21" y2="640.32" stroke="#444" stroke-width="0.8"/>
<line x1="202.63" y1="644.60" x2="209.21" y2="644.60" stroke="#444" stroke-width="0.8"/>
<rect x="199.26" y="643.74" width="13.32" height="0.86" fill="#92ccb4" stroke="#444" stroke-width="0.8"/>
<line x1="199.26" y1="644.17" x2="212.58" y2="644.17" stroke="#444" stroke-width="0.96"/>
<circle cx="203.0" cy="643.4" r="0.55" fill="#333" fill-opacity="0.75"/>
<circle cx="209.1" cy="640.9" r="0.55" fill="#333" fill-opacity="0.75"/>
<circle cx="207.9" cy="644.2" r="0.55" fill="#333" fill-opacity="0.75"/>
<circle cx="203.6" cy="642.8" r="0.55" fill="#333" fill-opacity="0.75"/>
<line x1="222.36" y1="615.64" x2="222.36" y2="622.35" stroke="#444" stroke-width="0.8"/>
<line x1="222.36" y1="633.33" x2="222.36" y2="644.60" stroke="#444" stroke-width="0.8"/>
<line x1="219.07" y1="615.64" x2="225.65" y2="615.64" stroke="#444" stroke-width="0.8"/>
<line x1="219.07" y1="644.60" x2="225.65" y2="644.60" stroke="#444" stroke-width="0.8"/>
<rect x="215.70" y="622.35" width="13.32" height="10.98" fill="#f5b09b" stroke="#444" stroke-width="0.8"/>
<line x1="215.70" y1="630.05" x2="229.02" y2="630.05" stroke="#444" stroke-width="0.96"/>
<path d="M222.36 601.90L223.73 603.80L222.36 605.70L220.99 603.80Z" fill="#444"/>
<path d="M222.36 591.49L223.73 593.39L222.36 595.29L220.99 593.39Z" fill="#444"/>
<path d="M222.36 587.64L223.73 589.54L222.36 591.44L220.99 589.54Z" fill="#444"/>
<circle cx="224.1" cy="630.9" r="0.55" fill="#333" fill-opacity="0.75"/>
<circle cx="219.4" cy="620.4" r="0.55" fill="#333" fill-opacity="0.75"/>
<circle cx="219.4" cy="625.1" r="0.55" fill="#333" fill-opacity="0.75"/>
<circle cx="221.2" cy="623.2" r="0.55" fill="#333" fill-opacity="0.75"/>
<circle cx="225.5" cy="620.2" r="0.55" fill="#333" fill-opacity="0.75"/>
<circle cx="225.6" cy="627.0" r="0.55" fill="#333" fill-opacity="0.75"/>
<circle cx="219.6" cy="630.6" r="0.55" fill="#333" fill-opacity="0.75"/>
<line x1="238.80" y1="625.34" x2="238.80" y2="633.33" stroke="#444" stroke-width="0.8"/>
<line x1="238.80" y1="642.17" x2="238.80" y2="644.60" stroke="#444" stroke-width="0.8"/>
<line x1="235.51" y1="625.34" x2="242.09" y2="625.34" stroke="#444" stroke-width="0.8"/>
<line x1="235.51" y1="644.60" x2="242.09" y2="644.60" stroke="#444" stroke-width="0.8"/>
<rect x="232.14" y="633.33" width="13.32" height="8.84" fill="#b3c0de" stroke="#444" stroke-width="0.8"/>
<line x1="232.14" y1="638.61" x2="245.46" y2="638.61" stroke="#444" stroke-width="0.96"/>
<path d="M238.80 612.89L240.17 614.79L238.80 616.69L237.43 614.79Z" fill="#444"/>
<circle cx="235.7" cy="635.3" r="0.55" fill="#333" fill-opacity="0.75"/>
<circle cx="238.2" cy="641.5" r="0.55" fill="#333" fill-opacity="0.75"/>
<circle cx="236.5" cy="635.1" r="0.55" fill="#333" fill-opacity="0.75"/>
<circle cx="241.2" cy="643.9" r="0.55" fill="#333" fill-opacity="0.75"/>
<circle cx="241.8" cy="639.7" r="0.55" fill="#333" fill-opacity="0.75"/>
<circle cx="238.0" cy="630.7" r="0.55" fill="#333" fill-opacity="0.75"/>
<line x1="255.24" y1="634.19" x2="255.24" y2="638.61" stroke="#444" stroke-width="0.8"/>
<line x1="255.24" y1="642.75" x2="255.24" y2="644.60" stroke="#444" stroke-width="0.8"/>
<line x1="251.95" y1="634.19" x2="258.53" y2="634.19" stroke="#444" stroke-width="0.8"/>
<line x1="251.95" y1="644.60" x2="258.53" y2="644.60" stroke="#444" stroke-width="0.8"/>
<rect x="248.58" y="638.61" width="13.32" height="4.14" fill="#efb5d6" stroke="#444" stroke-width="0.8"/>
<line x1="248.58" y1="640.75" x2="261.90" y2="640.75" stroke="#444" stroke-width="0.96"/>
<path d="M255.24 627.86L256.61 629.76L255.24 631.66L253.87 629.76Z" fill="#444"/>
<circle cx="255.4" cy="639.9" r="0.55" fill="#333" fill-opacity="0.75"/>
<circle cx="255.9" cy="638.0" r="0.55" fill="#333" fill-opacity="0.75"/>
<circle cx="256.0" cy="638.9" r="0.55" fill="#333" fill-opacity="0.75"/>
<circle cx="255.3" cy="634.9" r="0.55" fill="#333" fill-opacity="0.75"/>
<circle cx="256.7" cy="640.2" r="0.55" fill="#333" fill-opacity="0.75"/>
<line x1="271.68" y1="567.43" x2="271.68" y2="580.98" stroke="#444" stroke-width="0.8"/>
<line x1="271.68" y1="614.50" x2="271.68" y2="632.33" stroke="#444" stroke-width="0.8"/>
<line x1="268.39" y1="567.43" x2="274.97" y2="567.43" stroke="#444" stroke-width="0.8"/>
<line x1="268.39" y1="632.33" x2="274.97" y2="632.33" stroke="#444" stroke-width="0.8"/>
<rect x="265.02" y="580.98" width="13.32" height="33.52" fill="#bcdc97" stroke="#444" stroke-width="0.8"/>
<line x1="265.02" y1="599.95" x2="278.34" y2="599.95" stroke="#444" stroke-width="0.96"/>
<circle cx="270.4" cy="607.7" r="0.55" fill="#333" fill-opacity="0.75"/>
<circle cx="271.8" cy="577.6" r="0.55" fill="#333" fill-opacity="0.75"/>
<circle cx="268.5" cy="595.1" r="0.55" fill="#333" fill-opacity="0.75"/>
<circle cx="272.2" cy="600.5" r="0.55" fill="#333" fill-opacity="0.75"/>
<circle cx="272.4" cy="616.5" r="0.55" fill="#333" fill-opacity="0.75"/>
<circle cx="268.8" cy="591.7" r="0.55" fill="#333" fill-opacity="0.75"/>
<circle cx="271.5" cy="591.8" r="0.55" fill="#333" fill-opacity="0.75"/>
<circle cx="270.7" cy="589.7" r="0.55" fill="#333" fill-opacity="0.75"/>
<circle cx="273.2" cy="588.6" r="0.55" fill="#333" fill-opacity="0.75"/>
<circle cx="268.8" cy="616.5" r="0.55" fill="#333" fill-opacity="0.75"/>
<circle cx="274.7" cy="589.9" r="0.55" fill="#333" fill-opacity="0.75"/>
<circle cx="271.4" cy="607.1" r="0.55" fill="#333" fill-opacity="0.75"/>
<circle cx="270.5" cy="593.3" r="0.55" fill="#333" fill-opacity="0.75"/>
<rect x="320.20" y="558.30" width="82.20" height="85.80" fill="none" stroke="#444" stroke-width="0.9"/>
<text x="361.20" y="555.60" font-size="10.3" fill="#111" stroke="#111" stroke-width="0.2" text-anchor="middle" textLength="39.6" lengthAdjust="spacingAndGlyphs">Pattern 3</text>
<text x="315.10" y="647.60" font-size="8.5" fill="#222" stroke="#222" stroke-width="0.2" text-anchor="end">0</text>
<text x="315.10" y="619.07" font-size="8.5" fill="#222" stroke="#222" stroke-width="0.2" text-anchor="end">1000</text>
<text x="315.10" y="590.54" font-size="8.5" fill="#222" stroke="#222" stroke-width="0.2" text-anchor="end">2000</text>
<text x="315.10" y="562.01" font-size="8.5" fill="#222" stroke="#222" stroke-width="0.2" text-anchor="end">3000</text>
<text x="292.80" y="602" font-size="8.8" fill="#222" stroke="#222" stroke-width="0.15" text-anchor="middle" font-style="italic" transform="rotate(-90 292.80 602)">Count/mm<tspan font-size="5.5" dy="-3">2</tspan></text>
<line x1="328.42" y1="642.89" x2="328.42" y2="643.89" stroke="#444" stroke-width="0.8"/>
<line x1="328.42" y1="644.60" x2="328.42" y2="644.60" stroke="#444" stroke-width="0.8"/>
<line x1="325.13" y1="642.89" x2="331.71" y2="642.89" stroke="#444" stroke-width="0.8"/>
<line x1="325.13" y1="644.60" x2="331.71" y2="644.60" stroke="#444" stroke-width="0.8"/>
<rect x="321.76" y="643.89" width="13.32" height="0.71" fill="#92ccb4" stroke="#444" stroke-width="0.8"/>
<line x1="321.76" y1="644.31" x2="335.08" y2="644.31" stroke="#444" stroke-width="0.96"/>
<circle cx="327.2" cy="644.0" r="0.55" fill="#333" fill-opacity="0.75"/>
<circle cx="329.0" cy="644.0" r="0.55" fill="#333" fill-opacity="0.75"/>
<circle cx="327.6" cy="644.1" r="0.55" fill="#333" fill-opacity="0.75"/>
<circle cx="325.3" cy="643.3" r="0.55" fill="#333" fill-opacity="0.75"/>
<line x1="344.86" y1="616.21" x2="344.86" y2="628.05" stroke="#444" stroke-width="0.8"/>
<line x1="344.86" y1="641.75" x2="344.86" y2="644.60" stroke="#444" stroke-width="0.8"/>
<line x1="341.57" y1="616.21" x2="348.15" y2="616.21" stroke="#444" stroke-width="0.8"/>
<line x1="341.57" y1="644.60" x2="348.15" y2="644.60" stroke="#444" stroke-width="0.8"/>
<rect x="338.20" y="628.05" width="13.32" height="13.69" fill="#f5b09b" stroke="#444" stroke-width="0.8"/>
<line x1="338.20" y1="638.89" x2="351.52" y2="638.89" stroke="#444" stroke-width="0.96"/>
<path d="M344.86 598.76L346.23 600.66L344.86 602.56L343.49 600.66Z" fill="#444"/>
<circle cx="346.4" cy="632.7" r="0.55" fill="#333" fill-opacity="0.75"/>
<circle cx="343.0" cy="638.1" r="0.55" fill="#333" fill-opacity="0.75"/>
<circle cx="343.1" cy="627.9" r="0.55" fill="#333" fill-opacity="0.75"/>
<circle cx="344.4" cy="640.7" r="0.55" fill="#333" fill-opacity="0.75"/>
<circle cx="342.2" cy="630.1" r="0.55" fill="#333" fill-opacity="0.75"/>
<circle cx="343.8" cy="637.9" r="0.55" fill="#333" fill-opacity="0.75"/>
<circle cx="344.5" cy="627.2" r="0.55" fill="#333" fill-opacity="0.75"/>
<circle cx="342.7" cy="626.8" r="0.55" fill="#333" fill-opacity="0.75"/>
<line x1="361.30" y1="627.20" x2="361.30" y2="629.05" stroke="#444" stroke-width="0.8"/>
<line x1="361.30" y1="642.75" x2="361.30" y2="644.60" stroke="#444" stroke-width="0.8"/>
<line x1="358.01" y1="627.20" x2="364.59" y2="627.20" stroke="#444" stroke-width="0.8"/>
<line x1="358.01" y1="644.60" x2="364.59" y2="644.60" stroke="#444" stroke-width="0.8"/>
<rect x="354.64" y="629.05" width="13.32" height="13.69" fill="#b3c0de" stroke="#444" stroke-width="0.8"/>
<line x1="354.64" y1="637.47" x2="367.96" y2="637.47" stroke="#444" stroke-width="0.96"/>
<path d="M361.30 603.76L362.67 605.66L361.30 607.56L359.93 605.66Z" fill="#444"/>
<circle cx="362.3" cy="638.7" r="0.55" fill="#333" fill-opacity="0.75"/>
<circle cx="361.0" cy="629.2" r="0.55" fill="#333" fill-opacity="0.75"/>
<circle cx="358.8" cy="640.7" r="0.55" fill="#333" fill-opacity="0.75"/>
<circle cx="359.3" cy="635.4" r="0.55" fill="#333" fill-opacity="0.75"/>
<circle cx="363.5" cy="630.6" r="0.55" fill="#333" fill-opacity="0.75"/>
<circle cx="359.8" cy="641.4" r="0.55" fill="#333" fill-opacity="0.75"/>
<circle cx="362.2" cy="630.6" r="0.55" fill="#333" fill-opacity="0.75"/>
<circle cx="360.3" cy="630.6" r="0.55" fill="#333" fill-opacity="0.75"/>
<line x1="377.74" y1="642.03" x2="377.74" y2="643.74" stroke="#444" stroke-width="0.8"/>
<line x1="377.74" y1="644.60" x2="377.74" y2="644.60" stroke="#444" stroke-width="0.8"/>
<line x1="374.45" y1="642.03" x2="381.03" y2="642.03" stroke="#444" stroke-width="0.8"/>
<line x1="374.45" y1="644.60" x2="381.03" y2="644.60" stroke="#444" stroke-width="0.8"/>
<rect x="371.08" y="643.74" width="13.32" height="0.86" fill="#efb5d6" stroke="#444" stroke-width="0.8"/>
<line x1="371.08" y1="644.17" x2="384.40" y2="644.17" stroke="#444" stroke-width="0.96"/>
<circle cx="376.4" cy="644.3" r="0.55" fill="#333" fill-opacity="0.75"/>
<circle cx="376.2" cy="642.6" r="0.55" fill="#333" fill-opacity="0.75"/>
<circle cx="377.2" cy="643.7" r="0.55" fill="#333" fill-opacity="0.75"/>
<circle cx="377.1" cy="643.5" r="0.55" fill="#333" fill-opacity="0.75"/>
<line x1="394.18" y1="587.11" x2="394.18" y2="599.67" stroke="#444" stroke-width="0.8"/>
<line x1="394.18" y1="637.47" x2="394.18" y2="640.75" stroke="#444" stroke-width="0.8"/>
<line x1="390.89" y1="587.11" x2="397.47" y2="587.11" stroke="#444" stroke-width="0.8"/>
<line x1="390.89" y1="640.75" x2="397.47" y2="640.75" stroke="#444" stroke-width="0.8"/>
<rect x="387.52" y="599.67" width="13.32" height="37.80" fill="#bcdc97" stroke="#444" stroke-width="0.8"/>
<line x1="387.52" y1="628.05" x2="400.84" y2="628.05" stroke="#444" stroke-width="0.96"/>
<circle cx="391.9" cy="599.0" r="0.55" fill="#333" fill-opacity="0.75"/>
<circle cx="397.1" cy="640.1" r="0.55" fill="#333" fill-opacity="0.75"/>
<circle cx="397.4" cy="600.8" r="0.55" fill="#333" fill-opacity="0.75"/>
<circle cx="397.1" cy="620.8" r="0.55" fill="#333" fill-opacity="0.75"/>
<circle cx="392.4" cy="598.6" r="0.55" fill="#333" fill-opacity="0.75"/>
<circle cx="396.4" cy="606.8" r="0.55" fill="#333" fill-opacity="0.75"/>
<circle cx="394.3" cy="610.5" r="0.55" fill="#333" fill-opacity="0.75"/>
<circle cx="393.1" cy="627.3" r="0.55" fill="#333" fill-opacity="0.75"/>
<circle cx="391.3" cy="630.1" r="0.55" fill="#333" fill-opacity="0.75"/>
<circle cx="392.8" cy="613.9" r="0.55" fill="#333" fill-opacity="0.75"/>
<circle cx="391.2" cy="603.9" r="0.55" fill="#333" fill-opacity="0.75"/>
<circle cx="395.5" cy="599.7" r="0.55" fill="#333" fill-opacity="0.75"/>
<circle cx="396.8" cy="598.8" r="0.55" fill="#333" fill-opacity="0.75"/>
<circle cx="394.7" cy="599.9" r="0.55" fill="#333" fill-opacity="0.75"/>
<rect x="443.50" y="558.30" width="82.00" height="85.80" fill="none" stroke="#444" stroke-width="0.9"/>
<text x="483.80" y="555.60" font-size="10.3" fill="#111" stroke="#111" stroke-width="0.2" text-anchor="middle" textLength="39.6" lengthAdjust="spacingAndGlyphs">Pattern 4</text>
<text x="438.20" y="647.60" font-size="8.5" fill="#222" stroke="#222" stroke-width="0.2" text-anchor="end">0</text>
<text x="438.20" y="619.07" font-size="8.5" fill="#222" stroke="#222" stroke-width="0.2" text-anchor="end">1000</text>
<text x="438.20" y="590.54" font-size="8.5" fill="#222" stroke="#222" stroke-width="0.2" text-anchor="end">2000</text>
<text x="438.20" y="562.01" font-size="8.5" fill="#222" stroke="#222" stroke-width="0.2" text-anchor="end">3000</text>
<text x="415.40" y="602" font-size="8.8" fill="#222" stroke="#222" stroke-width="0.15" text-anchor="middle" font-style="italic" transform="rotate(-90 415.40 602)">Count/mm<tspan font-size="5.5" dy="-3">2</tspan></text>
<line x1="451.70" y1="641.75" x2="451.70" y2="643.74" stroke="#444" stroke-width="0.8"/>
<line x1="451.70" y1="644.60" x2="451.70" y2="644.60" stroke="#444" stroke-width="0.8"/>
<line x1="448.42" y1="641.75" x2="454.98" y2="641.75" stroke="#444" stroke-width="0.8"/>
<line x1="448.42" y1="644.60" x2="454.98" y2="644.60" stroke="#444" stroke-width="0.8"/>
<rect x="445.06" y="643.74" width="13.28" height="0.86" fill="#92ccb4" stroke="#444" stroke-width="0.8"/>
<line x1="445.06" y1="644.17" x2="458.34" y2="644.17" stroke="#444" stroke-width="0.96"/>
<path d="M451.70 637.99L453.07 639.89L451.70 641.79L450.33 639.89Z" fill="#444"/>
<path d="M451.70 636.99L453.07 638.89L451.70 640.79L450.33 638.89Z" fill="#444"/>
<path d="M451.70 634.14L453.07 636.04L451.70 637.94L450.33 636.04Z" fill="#444"/>
<circle cx="453.3" cy="644.6" r="0.55" fill="#333" fill-opacity="0.75"/>
<circle cx="450.4" cy="644.1" r="0.55" fill="#333" fill-opacity="0.75"/>
<circle cx="451.9" cy="642.7" r="0.55" fill="#333" fill-opacity="0.75"/>
<circle cx="454.6" cy="643.4" r="0.55" fill="#333" fill-opacity="0.75"/>
<line x1="468.10" y1="588.25" x2="468.10" y2="608.08" stroke="#444" stroke-width="0.8"/>
<line x1="468.10" y1="634.61" x2="468.10" y2="639.32" stroke="#444" stroke-width="0.8"/>
<line x1="464.82" y1="588.25" x2="471.38" y2="588.25" stroke="#444" stroke-width="0.8"/>
<line x1="464.82" y1="639.32" x2="471.38" y2="639.32" stroke="#444" stroke-width="0.8"/>
<rect x="461.46" y="608.08" width="13.28" height="26.53" fill="#f5b09b" stroke="#444" stroke-width="0.8"/>
<line x1="461.46" y1="620.35" x2="474.74" y2="620.35" stroke="#444" stroke-width="0.96"/>
<circle cx="467.1" cy="616.9" r="0.55" fill="#333" fill-opacity="0.75"/>
<circle cx="470.5" cy="629.0" r="0.55" fill="#333" fill-opacity="0.75"/>
<circle cx="470.0" cy="621.4" r="0.55" fill="#333" fill-opacity="0.75"/>
<circle cx="466.1" cy="625.6" r="0.55" fill="#333" fill-opacity="0.75"/>
<circle cx="470.2" cy="619.5" r="0.55" fill="#333" fill-opacity="0.75"/>
<circle cx="470.0" cy="631.7" r="0.55" fill="#333" fill-opacity="0.75"/>
<circle cx="470.1" cy="606.4" r="0.55" fill="#333" fill-opacity="0.75"/>
<circle cx="464.9" cy="609.7" r="0.55" fill="#333" fill-opacity="0.75"/>
<circle cx="470.5" cy="616.3" r="0.55" fill="#333" fill-opacity="0.75"/>
<circle cx="466.6" cy="635.8" r="0.55" fill="#333" fill-opacity="0.75"/>
<circle cx="468.3" cy="628.4" r="0.55" fill="#333" fill-opacity="0.75"/>
<line x1="484.50" y1="583.26" x2="484.50" y2="611.08" stroke="#444" stroke-width="0.8"/>
<line x1="484.50" y1="634.19" x2="484.50" y2="640.32" stroke="#444" stroke-width="0.8"/>
<line x1="481.22" y1="583.26" x2="487.78" y2="583.26" stroke="#444" stroke-width="0.8"/>
<line x1="481.22" y1="640.32" x2="487.78" y2="640.32" stroke="#444" stroke-width="0.8"/>
<rect x="477.86" y="611.08" width="13.28" height="23.11" fill="#b3c0de" stroke="#444" stroke-width="0.8"/>
<line x1="477.86" y1="624.06" x2="491.14" y2="624.06" stroke="#444" stroke-width="0.96"/>
<circle cx="484.3" cy="624.2" r="0.55" fill="#333" fill-opacity="0.75"/>
<circle cx="481.2" cy="613.6" r="0.55" fill="#333" fill-opacity="0.75"/>
<circle cx="482.1" cy="635.4" r="0.55" fill="#333" fill-opacity="0.75"/>
<circle cx="481.7" cy="633.3" r="0.55" fill="#333" fill-opacity="0.75"/>
<circle cx="486.8" cy="607.6" r="0.55" fill="#333" fill-opacity="0.75"/>
<circle cx="484.5" cy="634.4" r="0.55" fill="#333" fill-opacity="0.75"/>
<circle cx="483.3" cy="627.5" r="0.55" fill="#333" fill-opacity="0.75"/>
<circle cx="485.5" cy="626.4" r="0.55" fill="#333" fill-opacity="0.75"/>
<circle cx="483.6" cy="619.3" r="0.55" fill="#333" fill-opacity="0.75"/>
<circle cx="483.4" cy="631.3" r="0.55" fill="#333" fill-opacity="0.75"/>
<line x1="500.90" y1="641.75" x2="500.90" y2="643.89" stroke="#444" stroke-width="0.8"/>
<line x1="500.90" y1="644.60" x2="500.90" y2="644.60" stroke="#444" stroke-width="0.8"/>
<line x1="497.62" y1="641.75" x2="504.18" y2="641.75" stroke="#444" stroke-width="0.8"/>
<line x1="497.62" y1="644.60" x2="504.18" y2="644.60" stroke="#444" stroke-width="0.8"/>
<rect x="494.26" y="643.89" width="13.28" height="0.71" fill="#efb5d6" stroke="#444" stroke-width="0.8"/>
<line x1="494.26" y1="644.31" x2="507.54" y2="644.31" stroke="#444" stroke-width="0.96"/>
<circle cx="501.3" cy="644.2" r="0.55" fill="#333" fill-opacity="0.75"/>
<circle cx="500.1" cy="642.6" r="0.55" fill="#333" fill-opacity="0.75"/>
<circle cx="498.8" cy="644.4" r="0.55" fill="#333" fill-opacity="0.75"/>
<circle cx="501.6" cy="643.5" r="0.55" fill="#333" fill-opacity="0.75"/>
<line x1="517.30" y1="588.25" x2="517.30" y2="614.64" stroke="#444" stroke-width="0.8"/>
<line x1="517.30" y1="632.62" x2="517.30" y2="641.18" stroke="#444" stroke-width="0.8"/>
<line x1="514.02" y1="588.25" x2="520.58" y2="588.25" stroke="#444" stroke-width="0.8"/>
<line x1="514.02" y1="641.18" x2="520.58" y2="641.18" stroke="#444" stroke-width="0.8"/>
<rect x="510.66" y="614.64" width="13.28" height="17.97" fill="#bcdc97" stroke="#444" stroke-width="0.8"/>
<line x1="510.66" y1="626.63" x2="523.94" y2="626.63" stroke="#444" stroke-width="0.96"/>
<circle cx="516.5" cy="615.8" r="0.55" fill="#333" fill-opacity="0.75"/>
<circle cx="518.1" cy="615.4" r="0.55" fill="#333" fill-opacity="0.75"/>
<circle cx="516.5" cy="624.6" r="0.55" fill="#333" fill-opacity="0.75"/>
<circle cx="518.6" cy="623.0" r="0.55" fill="#333" fill-opacity="0.75"/>
<circle cx="518.6" cy="624.9" r="0.55" fill="#333" fill-opacity="0.75"/>
<circle cx="515.6" cy="623.9" r="0.55" fill="#333" fill-opacity="0.75"/>
<circle cx="518.6" cy="622.0" r="0.55" fill="#333" fill-opacity="0.75"/>
<circle cx="516.8" cy="633.7" r="0.55" fill="#333" fill-opacity="0.75"/>
<circle cx="519.8" cy="624.8" r="0.55" fill="#333" fill-opacity="0.75"/>
<rect x="566.10" y="558.30" width="82.50" height="85.80" fill="none" stroke="#444" stroke-width="0.9"/>
<text x="606.90" y="555.60" font-size="10.3" fill="#111" stroke="#111" stroke-width="0.2" text-anchor="middle" textLength="39.6" lengthAdjust="spacingAndGlyphs">Pattern 5</text>
<text x="561.30" y="647.60" font-size="8.5" fill="#222" stroke="#222" stroke-width="0.2" text-anchor="end">0</text>
<text x="561.30" y="619.07" font-size="8.5" fill="#222" stroke="#222" stroke-width="0.2" text-anchor="end">1000</text>
<text x="561.30" y="590.54" font-size="8.5" fill="#222" stroke="#222" stroke-width="0.2" text-anchor="end">2000</text>
<text x="561.30" y="562.01" font-size="8.5" fill="#222" stroke="#222" stroke-width="0.2" text-anchor="end">3000</text>
<text x="538.20" y="602" font-size="8.8" fill="#222" stroke="#222" stroke-width="0.15" text-anchor="middle" font-style="italic" transform="rotate(-90 538.20 602)">Count/mm<tspan font-size="5.5" dy="-3">2</tspan></text>
<line x1="574.35" y1="638.04" x2="574.35" y2="639.89" stroke="#444" stroke-width="0.8"/>
<line x1="574.35" y1="643.32" x2="574.35" y2="644.60" stroke="#444" stroke-width="0.8"/>
<line x1="571.05" y1="638.04" x2="577.65" y2="638.04" stroke="#444" stroke-width="0.8"/>
<line x1="571.05" y1="644.60" x2="577.65" y2="644.60" stroke="#444" stroke-width="0.8"/>
<rect x="567.67" y="639.89" width="13.37" height="3.42" fill="#92ccb4" stroke="#444" stroke-width="0.8"/>
<line x1="567.67" y1="641.75" x2="581.03" y2="641.75" stroke="#444" stroke-width="0.96"/>
<path d="M574.35 628.44L575.72 630.34L574.35 632.24L572.98 630.34Z" fill="#444"/>
<circle cx="573.5" cy="638.5" r="0.55" fill="#333" fill-opacity="0.75"/>
<circle cx="576.3" cy="638.7" r="0.55" fill="#333" fill-opacity="0.75"/>
<circle cx="574.1" cy="642.9" r="0.55" fill="#333" fill-opacity="0.75"/>
<circle cx="576.4" cy="643.8" r="0.55" fill="#333" fill-opacity="0.75"/>
<circle cx="576.9" cy="640.3" r="0.55" fill="#333" fill-opacity="0.75"/>
<line x1="590.85" y1="618.07" x2="590.85" y2="620.35" stroke="#444" stroke-width="0.8"/>
<line x1="590.85" y1="635.47" x2="590.85" y2="644.60" stroke="#444" stroke-width="0.8"/>
<line x1="587.55" y1="618.07" x2="594.15" y2="618.07" stroke="#444" stroke-width="0.8"/>
<line x1="587.55" y1="644.60" x2="594.15" y2="644.60" stroke="#444" stroke-width="0.8"/>
<rect x="584.17" y="620.35" width="13.37" height="15.12" fill="#f5b09b" stroke="#444" stroke-width="0.8"/>
<line x1="584.17" y1="626.20" x2="597.53" y2="626.20" stroke="#444" stroke-width="0.96"/>
<circle cx="592.0" cy="622.3" r="0.55" fill="#333" fill-opacity="0.75"/>
<circle cx="591.3" cy="623.5" r="0.55" fill="#333" fill-opacity="0.75"/>
<circle cx="591.4" cy="636.2" r="0.55" fill="#333" fill-opacity="0.75"/>
<circle cx="588.5" cy="638.2" r="0.55" fill="#333" fill-opacity="0.75"/>
<circle cx="587.8" cy="622.6" r="0.55" fill="#333" fill-opacity="0.75"/>
<circle cx="588.2" cy="636.5" r="0.55" fill="#333" fill-opacity="0.75"/>
<circle cx="588.7" cy="620.5" r="0.55" fill="#333" fill-opacity="0.75"/>
<circle cx="593.1" cy="637.8" r="0.55" fill="#333" fill-opacity="0.75"/>
<line x1="607.35" y1="626.20" x2="607.35" y2="627.91" stroke="#444" stroke-width="0.8"/>
<line x1="607.35" y1="638.47" x2="607.35" y2="644.03" stroke="#444" stroke-width="0.8"/>
<line x1="604.05" y1="626.20" x2="610.65" y2="626.20" stroke="#444" stroke-width="0.8"/>
<line x1="604.05" y1="644.03" x2="610.65" y2="644.03" stroke="#444" stroke-width="0.8"/>
<rect x="600.67" y="627.91" width="13.37" height="10.56" fill="#b3c0de" stroke="#444" stroke-width="0.8"/>
<line x1="600.67" y1="632.76" x2="614.03" y2="632.76" stroke="#444" stroke-width="0.96"/>
<circle cx="609.6" cy="639.5" r="0.55" fill="#333" fill-opacity="0.75"/>
<circle cx="609.6" cy="631.1" r="0.55" fill="#333" fill-opacity="0.75"/>
<circle cx="607.9" cy="626.9" r="0.55" fill="#333" fill-opacity="0.75"/>
<circle cx="604.3" cy="629.2" r="0.55" fill="#333" fill-opacity="0.75"/>
<circle cx="607.4" cy="629.7" r="0.55" fill="#333" fill-opacity="0.75"/>
<circle cx="604.8" cy="630.5" r="0.55" fill="#333" fill-opacity="0.75"/>
<circle cx="610.2" cy="630.0" r="0.55" fill="#333" fill-opacity="0.75"/>
<line x1="623.85" y1="643.17" x2="623.85" y2="643.89" stroke="#444" stroke-width="0.8"/>
<line x1="623.85" y1="644.60" x2="623.85" y2="644.60" stroke="#444" stroke-width="0.8"/>
<line x1="620.55" y1="643.17" x2="627.15" y2="643.17" stroke="#444" stroke-width="0.8"/>
<line x1="620.55" y1="644.60" x2="627.15" y2="644.60" stroke="#444" stroke-width="0.8"/>
<rect x="617.17" y="643.89" width="13.37" height="0.71" fill="#efb5d6" stroke="#444" stroke-width="0.8"/>
<line x1="617.17" y1="644.31" x2="630.53" y2="644.31" stroke="#444" stroke-width="0.96"/>
<circle cx="622.7" cy="644.5" r="0.55" fill="#333" fill-opacity="0.75"/>
<circle cx="626.0" cy="643.8" r="0.55" fill="#333" fill-opacity="0.75"/>
<circle cx="621.7" cy="644.3" r="0.55" fill="#333" fill-opacity="0.75"/>
<circle cx="624.6" cy="644.2" r="0.55" fill="#333" fill-opacity="0.75"/>
<line x1="640.35" y1="626.20" x2="640.35" y2="629.05" stroke="#444" stroke-width="0.8"/>
<line x1="640.35" y1="634.19" x2="640.35" y2="637.04" stroke="#444" stroke-width="0.8"/>
<line x1="637.05" y1="626.20" x2="643.65" y2="626.20" stroke="#444" stroke-width="0.8"/>
<line x1="637.05" y1="637.04" x2="643.65" y2="637.04" stroke="#444" stroke-width="0.8"/>
<rect x="633.67" y="629.05" width="13.37" height="5.14" fill="#bcdc97" stroke="#444" stroke-width="0.8"/>
<line x1="633.67" y1="631.48" x2="647.03" y2="631.48" stroke="#444" stroke-width="0.96"/>
<path d="M640.35 638.99L641.72 640.89L640.35 642.79L638.98 640.89Z" fill="#444"/>
<circle cx="639.6" cy="628.9" r="0.55" fill="#333" fill-opacity="0.75"/>
<circle cx="639.7" cy="633.1" r="0.55" fill="#333" fill-opacity="0.75"/>
<circle cx="639.8" cy="633.2" r="0.55" fill="#333" fill-opacity="0.75"/>
<circle cx="640.4" cy="636.1" r="0.55" fill="#333" fill-opacity="0.75"/>
<circle cx="639.8" cy="626.5" r="0.55" fill="#333" fill-opacity="0.75"/>
<text x="210.50" y="541.10" font-size="10.9" fill="#111" stroke="#111" stroke-width="0.2" text-anchor="start" textLength="89" lengthAdjust="spacingAndGlyphs">Immune Cell Type</text>
<circle cx="307.90" cy="536.90" r="4.30" fill="#8fd0b4" stroke="#2b3566" stroke-width="0.9"/>
<text x="315.80" y="541.10" font-size="10.9" fill="#111" stroke="#111" stroke-width="0.2" text-anchor="start">B cells</text>
<circle cx="357.30" cy="536.90" r="4.30" fill="#f4aa90" stroke="#2b3566" stroke-width="0.9"/>
<text x="364.40" y="541.10" font-size="10.9" fill="#111" stroke="#111" stroke-width="0.2" text-anchor="start">CD4 T cells</text>
<circle cx="430.00" cy="536.90" r="4.30" fill="#a9b8dc" stroke="#2b3566" stroke-width="0.9"/>
<text x="436.60" y="541.10" font-size="10.9" fill="#111" stroke="#111" stroke-width="0.2" text-anchor="start">CD8 T cells</text>
<circle cx="503.10" cy="536.90" r="4.30" fill="#f0b2d8" stroke="#2b3566" stroke-width="0.9"/>
<text x="509.40" y="541.10" font-size="10.9" fill="#111" stroke="#111" stroke-width="0.2" text-anchor="start">Treg cells</text>
<circle cx="568.00" cy="536.90" r="4.30" fill="#b8dc90" stroke="#2b3566" stroke-width="0.9"/>
<text x="575.10" y="541.10" font-size="10.9" fill="#111" stroke="#111" stroke-width="0.2" text-anchor="start">Macrophages</text>
<rect x="71.10" y="688.10" width="83.40" height="108.30" fill="none" stroke="#444" stroke-width="0.9"/>
<text x="112.90" y="685.00" font-size="10.1" fill="#111" stroke="#111" stroke-width="0.2" text-anchor="middle">B cells</text>
<text x="66.40" y="796.90" font-size="6.9" fill="#222" stroke="#222" stroke-width="0.2" text-anchor="end">0</text>
<text x="66.40" y="768.60" font-size="6.9" fill="#222" stroke="#222" stroke-width="0.2" text-anchor="end">2000</text>
<text x="66.40" y="740.30" font-size="6.9" fill="#222" stroke="#222" stroke-width="0.2" text-anchor="end">4000</text>
<text x="66.40" y="712.00" font-size="6.9" fill="#222" stroke="#222" stroke-width="0.2" text-anchor="end">6000</text>
<text x="48.60" y="742.5" font-size="9.0" fill="#222" stroke="#222" stroke-width="0.15" text-anchor="middle" font-style="italic" transform="rotate(-90 48.60 742.5)">Count/mm<tspan font-size="5.6" dy="-3.2">2</tspan></text>
<line x1="79.44" y1="775.68" x2="79.44" y2="785.02" stroke="#444" stroke-width="0.8"/>
<line x1="79.44" y1="792.31" x2="79.44" y2="794.50" stroke="#444" stroke-width="0.8"/>
<line x1="76.10" y1="775.68" x2="82.78" y2="775.68" stroke="#444" stroke-width="0.8"/>
<line x1="76.10" y1="794.50" x2="82.78" y2="794.50" stroke="#444" stroke-width="0.8"/>
<rect x="72.77" y="785.02" width="13.34" height="7.29" fill="#a4c7ef" stroke="#444" stroke-width="0.8"/>
<line x1="72.77" y1="788.49" x2="86.11" y2="788.49" stroke="#444" stroke-width="0.96"/>
<path d="M79.44 750.15L80.81 752.05L79.44 753.95L78.07 752.05Z" fill="#444"/>
<circle cx="76.8" cy="791.6" r="0.55" fill="#333" fill-opacity="0.75"/>
<circle cx="77.1" cy="789.8" r="0.55" fill="#333" fill-opacity="0.75"/>
<circle cx="78.8" cy="793.6" r="0.55" fill="#333" fill-opacity="0.75"/>
<circle cx="81.4" cy="783.9" r="0.55" fill="#333" fill-opacity="0.75"/>
<circle cx="77.6" cy="785.7" r="0.55" fill="#333" fill-opacity="0.75"/>
<text x="79.44" y="807.00" font-size="8.0" fill="#222" stroke="#222" stroke-width="0.2" text-anchor="middle">1</text>
<line x1="96.12" y1="791.67" x2="96.12" y2="792.52" stroke="#444" stroke-width="0.8"/>
<line x1="96.12" y1="793.65" x2="96.12" y2="794.50" stroke="#444" stroke-width="0.8"/>
<line x1="92.78" y1="791.67" x2="99.46" y2="791.67" stroke="#444" stroke-width="0.8"/>
<line x1="92.78" y1="794.50" x2="99.46" y2="794.50" stroke="#444" stroke-width="0.8"/>
<rect x="89.45" y="792.52" width="13.34" height="1.13" fill="#f8b88c" stroke="#444" stroke-width="0.8"/>
<line x1="89.45" y1="793.09" x2="102.79" y2="793.09" stroke="#444" stroke-width="0.96"/>
<circle cx="96.4" cy="793.1" r="0.55" fill="#333" fill-opacity="0.75"/>
<circle cx="94.6" cy="793.1" r="0.55" fill="#333" fill-opacity="0.75"/>
<circle cx="93.9" cy="793.1" r="0.55" fill="#333" fill-opacity="0.75"/>
<text x="96.12" y="807.00" font-size="8.0" fill="#222" stroke="#222" stroke-width="0.2" text-anchor="middle">2</text>
<line x1="112.80" y1="793.09" x2="112.80" y2="793.65" stroke="#444" stroke-width="0.8"/>
<line x1="112.80" y1="794.22" x2="112.80" y2="794.50" stroke="#444" stroke-width="0.8"/>
<line x1="109.46" y1="793.09" x2="116.14" y2="793.09" stroke="#444" stroke-width="0.8"/>
<line x1="109.46" y1="794.50" x2="116.14" y2="794.50" stroke="#444" stroke-width="0.8"/>
<rect x="106.13" y="793.65" width="13.34" height="0.57" fill="#90d6a4" stroke="#444" stroke-width="0.8"/>
<line x1="106.13" y1="793.93" x2="119.47" y2="793.93" stroke="#444" stroke-width="0.96"/>
<circle cx="110.2" cy="793.9" r="0.55" fill="#333" fill-opacity="0.75"/>
<circle cx="110.9" cy="793.9" r="0.55" fill="#333" fill-opacity="0.75"/>
<circle cx="115.7" cy="793.9" r="0.55" fill="#333" fill-opacity="0.75"/>
<text x="112.80" y="807.00" font-size="8.0" fill="#222" stroke="#222" stroke-width="0.2" text-anchor="middle">3</text>
<line x1="129.48" y1="792.09" x2="129.48" y2="793.09" stroke="#444" stroke-width="0.8"/>
<line x1="129.48" y1="793.93" x2="129.48" y2="794.50" stroke="#444" stroke-width="0.8"/>
<line x1="126.14" y1="792.09" x2="132.82" y2="792.09" stroke="#444" stroke-width="0.8"/>
<line x1="126.14" y1="794.50" x2="132.82" y2="794.50" stroke="#444" stroke-width="0.8"/>
<rect x="122.81" y="793.09" width="13.34" height="0.85" fill="#f4a0a0" stroke="#444" stroke-width="0.8"/>
<line x1="122.81" y1="793.51" x2="136.15" y2="793.51" stroke="#444" stroke-width="0.96"/>
<path d="M129.48 789.06L130.85 790.96L129.48 792.86L128.11 790.96Z" fill="#444"/>
<path d="M129.48 787.65L130.85 789.55L129.48 791.45L128.11 789.55Z" fill="#444"/>
<circle cx="131.7" cy="793.5" r="0.55" fill="#333" fill-opacity="0.75"/>
<circle cx="131.5" cy="793.5" r="0.55" fill="#333" fill-opacity="0.75"/>
<circle cx="131.5" cy="793.5" r="0.55" fill="#333" fill-opacity="0.75"/>
<text x="129.48" y="807.00" font-size="8.0" fill="#222" stroke="#222" stroke-width="0.2" text-anchor="middle">4</text>
<line x1="146.16" y1="790.25" x2="146.16" y2="791.53" stroke="#444" stroke-width="0.8"/>
<line x1="146.16" y1="793.09" x2="146.16" y2="794.50" stroke="#444" stroke-width="0.8"/>
<line x1="142.82" y1="790.25" x2="149.50" y2="790.25" stroke="#444" stroke-width="0.8"/>
<line x1="142.82" y1="794.50" x2="149.50" y2="794.50" stroke="#444" stroke-width="0.8"/>
<rect x="139.49" y="791.53" width="13.34" height="1.56" fill="#c8b6f2" stroke="#444" stroke-width="0.8"/>
<line x1="139.49" y1="792.38" x2="152.83" y2="792.38" stroke="#444" stroke-width="0.96"/>
<path d="M146.16 785.24L147.53 787.14L146.16 789.04L144.79 787.14Z" fill="#444"/>
<circle cx="144.1" cy="792.4" r="0.55" fill="#333" fill-opacity="0.75"/>
<circle cx="144.9" cy="792.4" r="0.55" fill="#333" fill-opacity="0.75"/>
<circle cx="147.0" cy="792.4" r="0.55" fill="#333" fill-opacity="0.75"/>
<text x="146.16" y="807.00" font-size="8.0" fill="#222" stroke="#222" stroke-width="0.2" text-anchor="middle">5</text>
<path d="M79.44 749.40V747.60H96.12V749.40" stroke="#444" stroke-width="0.7" fill="none"/>
<path d="M96.12 742.10V740.30H112.80V742.10" stroke="#444" stroke-width="0.7" fill="none"/>
<path d="M112.80 735.20V733.40H129.48V735.20" stroke="#444" stroke-width="0.7" fill="none"/>
<path d="M79.44 727.90V726.10H112.80V727.90" stroke="#444" stroke-width="0.7" fill="none"/>
<path d="M129.48 727.90V726.10H146.16V727.90" stroke="#444" stroke-width="0.7" fill="none"/>
<path d="M96.12 719.70V717.90H129.48V719.70" stroke="#444" stroke-width="0.7" fill="none"/>
<path d="M112.80 719.20V717.40H146.16V719.20" stroke="#444" stroke-width="0.7" fill="none"/>
<path d="M79.44 712.00V710.20H129.48V712.00" stroke="#444" stroke-width="0.7" fill="none"/>
<path d="M96.12 704.70V702.90H146.16V704.70" stroke="#444" stroke-width="0.7" fill="none"/>
<path d="M79.44 697.40V695.60H146.16V697.40" stroke="#444" stroke-width="0.7" fill="none"/>
<text x="87.90" y="745.60" font-size="7.0" fill="#333" stroke="#333" stroke-width="0.2" text-anchor="middle">****</text>
<text x="104.30" y="738.30" font-size="7.0" fill="#333" stroke="#333" stroke-width="0.2" text-anchor="middle">**</text>
<text x="120.80" y="730.60" font-size="7.0" fill="#333" stroke="#333" stroke-width="0.2" text-anchor="middle">**</text>
<text x="137.70" y="723.30" font-size="7.0" fill="#333" stroke="#333" stroke-width="0.2" text-anchor="middle">*</text>
<text x="96.10" y="723.30" font-size="7.0" fill="#333" stroke="#333" stroke-width="0.2" text-anchor="middle">****</text>
<text x="129.50" y="715.00" font-size="7.0" fill="#333" stroke="#333" stroke-width="0.2" text-anchor="middle">***</text>
<text x="104.30" y="707.30" font-size="7.0" fill="#333" stroke="#333" stroke-width="0.2" text-anchor="middle">****</text>
<text x="120.80" y="699.60" font-size="7.0" fill="#333" stroke="#333" stroke-width="0.2" text-anchor="middle">*</text>
<text x="112.60" y="692.70" font-size="7.0" fill="#333" stroke="#333" stroke-width="0.2" text-anchor="middle">**</text>
<rect x="195.20" y="688.10" width="83.40" height="108.30" fill="none" stroke="#444" stroke-width="0.9"/>
<text x="236.60" y="685.00" font-size="10.1" fill="#111" stroke="#111" stroke-width="0.2" text-anchor="middle">CD4 T cells</text>
<text x="190.10" y="796.00" font-size="6.9" fill="#222" stroke="#222" stroke-width="0.2" text-anchor="end">0</text>
<text x="190.10" y="779.37" font-size="6.9" fill="#222" stroke="#222" stroke-width="0.2" text-anchor="end">500</text>
<text x="190.10" y="762.73" font-size="6.9" fill="#222" stroke="#222" stroke-width="0.2" text-anchor="end">1000</text>
<text x="190.10" y="746.10" font-size="6.9" fill="#222" stroke="#222" stroke-width="0.2" text-anchor="end">1500</text>
<text x="190.10" y="729.46" font-size="6.9" fill="#222" stroke="#222" stroke-width="0.2" text-anchor="end">2000</text>
<text x="190.10" y="712.83" font-size="6.9" fill="#222" stroke="#222" stroke-width="0.2" text-anchor="end">2500</text>
<text x="190.10" y="696.19" font-size="6.9" fill="#222" stroke="#222" stroke-width="0.2" text-anchor="end">3000</text>
<text x="171.40" y="742.5" font-size="9.0" fill="#222" stroke="#222" stroke-width="0.15" text-anchor="middle" font-style="italic" transform="rotate(-90 171.40 742.5)">Count/mm<tspan font-size="5.6" dy="-3.2">2</tspan></text>
<line x1="203.54" y1="742.20" x2="203.54" y2="762.66" stroke="#444" stroke-width="0.8"/>
<line x1="203.54" y1="783.62" x2="203.54" y2="790.27" stroke="#444" stroke-width="0.8"/>
<line x1="200.20" y1="742.20" x2="206.88" y2="742.20" stroke="#444" stroke-width="0.8"/>
<line x1="200.20" y1="790.27" x2="206.88" y2="790.27" stroke="#444" stroke-width="0.8"/>
<rect x="196.87" y="762.66" width="13.34" height="20.96" fill="#a4c7ef" stroke="#444" stroke-width="0.8"/>
<line x1="196.87" y1="774.47" x2="210.21" y2="774.47" stroke="#444" stroke-width="0.96"/>
<circle cx="205.9" cy="767.4" r="0.55" fill="#333" fill-opacity="0.75"/>
<circle cx="200.8" cy="763.7" r="0.55" fill="#333" fill-opacity="0.75"/>
<circle cx="204.7" cy="770.5" r="0.55" fill="#333" fill-opacity="0.75"/>
<circle cx="201.4" cy="773.0" r="0.55" fill="#333" fill-opacity="0.75"/>
<circle cx="200.8" cy="773.8" r="0.55" fill="#333" fill-opacity="0.75"/>
<circle cx="206.0" cy="762.3" r="0.55" fill="#333" fill-opacity="0.75"/>
<circle cx="202.2" cy="771.9" r="0.55" fill="#333" fill-opacity="0.75"/>
<circle cx="204.0" cy="762.9" r="0.55" fill="#333" fill-opacity="0.75"/>
<circle cx="205.9" cy="763.6" r="0.55" fill="#333" fill-opacity="0.75"/>
<text x="203.54" y="807.00" font-size="8.0" fill="#222" stroke="#222" stroke-width="0.2" text-anchor="middle">1</text>
<line x1="220.22" y1="759.83" x2="220.22" y2="768.31" stroke="#444" stroke-width="0.8"/>
<line x1="220.22" y1="780.79" x2="220.22" y2="791.44" stroke="#444" stroke-width="0.8"/>
<line x1="216.88" y1="759.83" x2="223.56" y2="759.83" stroke="#444" stroke-width="0.8"/>
<line x1="216.88" y1="791.44" x2="223.56" y2="791.44" stroke="#444" stroke-width="0.8"/>
<rect x="213.55" y="768.31" width="13.34" height="12.48" fill="#f8b88c" stroke="#444" stroke-width="0.8"/>
<line x1="213.55" y1="777.13" x2="226.89" y2="777.13" stroke="#444" stroke-width="0.96"/>
<path d="M220.22 744.46L221.59 746.36L220.22 748.26L218.85 746.36Z" fill="#444"/>
<path d="M220.22 732.48L221.59 734.38L220.22 736.28L218.85 734.38Z" fill="#444"/>
<path d="M220.22 727.49L221.59 729.39L220.22 731.29L218.85 729.39Z" fill="#444"/>
<circle cx="219.6" cy="774.4" r="0.55" fill="#333" fill-opacity="0.75"/>
<circle cx="219.8" cy="772.9" r="0.55" fill="#333" fill-opacity="0.75"/>
<circle cx="218.9" cy="780.1" r="0.55" fill="#333" fill-opacity="0.75"/>
<circle cx="217.2" cy="769.4" r="0.55" fill="#333" fill-opacity="0.75"/>
<circle cx="221.1" cy="782.0" r="0.55" fill="#333" fill-opacity="0.75"/>
<circle cx="220.5" cy="778.2" r="0.55" fill="#333" fill-opacity="0.75"/>
<circle cx="219.2" cy="775.0" r="0.55" fill="#333" fill-opacity="0.75"/>
<text x="220.22" y="807.00" font-size="8.0" fill="#222" stroke="#222" stroke-width="0.2" text-anchor="middle">2</text>
<line x1="236.90" y1="760.16" x2="236.90" y2="774.97" stroke="#444" stroke-width="0.8"/>
<line x1="236.90" y1="790.27" x2="236.90" y2="791.77" stroke="#444" stroke-width="0.8"/>
<line x1="233.56" y1="760.16" x2="240.24" y2="760.16" stroke="#444" stroke-width="0.8"/>
<line x1="233.56" y1="791.77" x2="240.24" y2="791.77" stroke="#444" stroke-width="0.8"/>
<rect x="230.23" y="774.97" width="13.34" height="15.30" fill="#90d6a4" stroke="#444" stroke-width="0.8"/>
<line x1="230.23" y1="787.61" x2="243.57" y2="787.61" stroke="#444" stroke-width="0.96"/>
<path d="M236.90 740.46L238.27 742.36L236.90 744.26L235.53 742.36Z" fill="#444"/>
<circle cx="234.9" cy="773.0" r="0.55" fill="#333" fill-opacity="0.75"/>
<circle cx="234.9" cy="784.3" r="0.55" fill="#333" fill-opacity="0.75"/>
<circle cx="235.4" cy="780.1" r="0.55" fill="#333" fill-opacity="0.75"/>
<circle cx="238.5" cy="785.4" r="0.55" fill="#333" fill-opacity="0.75"/>
<circle cx="237.3" cy="786.1" r="0.55" fill="#333" fill-opacity="0.75"/>
<circle cx="234.2" cy="774.8" r="0.55" fill="#333" fill-opacity="0.75"/>
<circle cx="235.1" cy="791.1" r="0.55" fill="#333" fill-opacity="0.75"/>
<circle cx="237.7" cy="777.5" r="0.55" fill="#333" fill-opacity="0.75"/>
<text x="236.90" y="807.00" font-size="8.0" fill="#222" stroke="#222" stroke-width="0.2" text-anchor="middle">3</text>
<line x1="253.58" y1="728.39" x2="253.58" y2="751.51" stroke="#444" stroke-width="0.8"/>
<line x1="253.58" y1="782.29" x2="253.58" y2="787.28" stroke="#444" stroke-width="0.8"/>
<line x1="250.24" y1="728.39" x2="256.92" y2="728.39" stroke="#444" stroke-width="0.8"/>
<line x1="250.24" y1="787.28" x2="256.92" y2="787.28" stroke="#444" stroke-width="0.8"/>
<rect x="246.91" y="751.51" width="13.34" height="30.77" fill="#f4a0a0" stroke="#444" stroke-width="0.8"/>
<line x1="246.91" y1="765.32" x2="260.25" y2="765.32" stroke="#444" stroke-width="0.96"/>
<circle cx="252.5" cy="776.0" r="0.55" fill="#333" fill-opacity="0.75"/>
<circle cx="253.3" cy="778.1" r="0.55" fill="#333" fill-opacity="0.75"/>
<circle cx="254.9" cy="782.8" r="0.55" fill="#333" fill-opacity="0.75"/>
<circle cx="256.6" cy="753.1" r="0.55" fill="#333" fill-opacity="0.75"/>
<circle cx="256.6" cy="758.7" r="0.55" fill="#333" fill-opacity="0.75"/>
<circle cx="252.2" cy="783.7" r="0.55" fill="#333" fill-opacity="0.75"/>
<circle cx="255.4" cy="750.7" r="0.55" fill="#333" fill-opacity="0.75"/>
<circle cx="256.5" cy="770.0" r="0.55" fill="#333" fill-opacity="0.75"/>
<circle cx="255.7" cy="762.7" r="0.55" fill="#333" fill-opacity="0.75"/>
<circle cx="251.5" cy="774.1" r="0.55" fill="#333" fill-opacity="0.75"/>
<circle cx="251.2" cy="768.8" r="0.55" fill="#333" fill-opacity="0.75"/>
<circle cx="256.7" cy="771.0" r="0.55" fill="#333" fill-opacity="0.75"/>
<text x="253.58" y="807.00" font-size="8.0" fill="#222" stroke="#222" stroke-width="0.2" text-anchor="middle">4</text>
<line x1="270.26" y1="763.49" x2="270.26" y2="765.32" stroke="#444" stroke-width="0.8"/>
<line x1="270.26" y1="783.29" x2="270.26" y2="793.10" stroke="#444" stroke-width="0.8"/>
<line x1="266.92" y1="763.49" x2="273.60" y2="763.49" stroke="#444" stroke-width="0.8"/>
<line x1="266.92" y1="793.10" x2="273.60" y2="793.10" stroke="#444" stroke-width="0.8"/>
<rect x="263.59" y="765.32" width="13.34" height="17.97" fill="#c8b6f2" stroke="#444" stroke-width="0.8"/>
<line x1="263.59" y1="772.31" x2="276.93" y2="772.31" stroke="#444" stroke-width="0.96"/>
<circle cx="267.0" cy="778.0" r="0.55" fill="#333" fill-opacity="0.75"/>
<circle cx="268.1" cy="784.3" r="0.55" fill="#333" fill-opacity="0.75"/>
<circle cx="269.3" cy="768.1" r="0.55" fill="#333" fill-opacity="0.75"/>
<circle cx="267.6" cy="778.9" r="0.55" fill="#333" fill-opacity="0.75"/>
<circle cx="269.8" cy="763.7" r="0.55" fill="#333" fill-opacity="0.75"/>
<circle cx="267.3" cy="780.7" r="0.55" fill="#333" fill-opacity="0.75"/>
<circle cx="268.0" cy="784.1" r="0.55" fill="#333" fill-opacity="0.75"/>
<circle cx="267.9" cy="770.4" r="0.55" fill="#333" fill-opacity="0.75"/>
<text x="270.26" y="807.00" font-size="8.0" fill="#222" stroke="#222" stroke-width="0.2" text-anchor="middle">5</text>
<path d="M203.54 725.20V723.40H220.22V725.20" stroke="#444" stroke-width="0.7" fill="none"/>
<path d="M220.22 722.40V720.60H236.90V722.40" stroke="#444" stroke-width="0.7" fill="none"/>
<path d="M236.90 720.20V718.40H253.58V720.20" stroke="#444" stroke-width="0.7" fill="none"/>
<path d="M203.54 714.60V712.80H236.90V714.60" stroke="#444" stroke-width="0.7" fill="none"/>
<path d="M253.58 709.60V707.80H270.26V709.60" stroke="#444" stroke-width="0.7" fill="none"/>
<path d="M220.22 703.30V701.50H253.58V703.30" stroke="#444" stroke-width="0.7" fill="none"/>
<path d="M236.90 701.30V699.50H253.58V701.30" stroke="#444" stroke-width="0.7" fill="none"/>
<path d="M236.90 700.50V698.70H270.26V700.50" stroke="#444" stroke-width="0.7" fill="none"/>
<path d="M203.54 698.70V696.90H253.58V698.70" stroke="#444" stroke-width="0.7" fill="none"/>
<path d="M220.22 696.00V694.20H270.26V696.00" stroke="#444" stroke-width="0.7" fill="none"/>
<path d="M203.54 694.10V692.30H270.26V694.10" stroke="#444" stroke-width="0.7" fill="none"/>
<text x="244.90" y="716.80" font-size="7.0" fill="#333" stroke="#333" stroke-width="0.2" text-anchor="middle">**</text>
<text x="220.20" y="710.00" font-size="7.0" fill="#333" stroke="#333" stroke-width="0.2" text-anchor="middle">*</text>
<rect x="319.30" y="688.10" width="82.50" height="108.30" fill="none" stroke="#444" stroke-width="0.9"/>
<text x="360.70" y="685.00" font-size="10.1" fill="#111" stroke="#111" stroke-width="0.2" text-anchor="middle">CD8 T cells</text>
<text x="313.80" y="796.40" font-size="6.9" fill="#222" stroke="#222" stroke-width="0.2" text-anchor="end">0</text>
<text x="313.80" y="769.63" font-size="6.9" fill="#222" stroke="#222" stroke-width="0.2" text-anchor="end">1000</text>
<text x="313.80" y="742.86" font-size="6.9" fill="#222" stroke="#222" stroke-width="0.2" text-anchor="end">2000</text>
<text x="313.80" y="716.09" font-size="6.9" fill="#222" stroke="#222" stroke-width="0.2" text-anchor="end">3000</text>
<text x="295.90" y="742.5" font-size="9.0" fill="#222" stroke="#222" stroke-width="0.15" text-anchor="middle" font-style="italic" transform="rotate(-90 295.90 742.5)">Count/mm<tspan font-size="5.6" dy="-3.2">2</tspan></text>
<line x1="327.55" y1="776.33" x2="327.55" y2="783.56" stroke="#444" stroke-width="0.8"/>
<line x1="327.55" y1="789.98" x2="327.55" y2="793.20" stroke="#444" stroke-width="0.8"/>
<line x1="324.25" y1="776.33" x2="330.85" y2="776.33" stroke="#444" stroke-width="0.8"/>
<line x1="324.25" y1="793.20" x2="330.85" y2="793.20" stroke="#444" stroke-width="0.8"/>
<rect x="320.95" y="783.56" width="13.20" height="6.42" fill="#a4c7ef" stroke="#444" stroke-width="0.8"/>
<line x1="320.95" y1="787.58" x2="334.15" y2="787.58" stroke="#444" stroke-width="0.96"/>
<path d="M327.55 770.15L328.92 772.05L327.55 773.95L326.18 772.05Z" fill="#444"/>
<path d="M327.55 768.81L328.92 770.71L327.55 772.61L326.18 770.71Z" fill="#444"/>
<circle cx="327.5" cy="791.6" r="0.55" fill="#333" fill-opacity="0.75"/>
<circle cx="330.8" cy="789.4" r="0.55" fill="#333" fill-opacity="0.75"/>
<circle cx="327.7" cy="790.7" r="0.55" fill="#333" fill-opacity="0.75"/>
<circle cx="327.0" cy="783.9" r="0.55" fill="#333" fill-opacity="0.75"/>
<circle cx="327.4" cy="781.7" r="0.55" fill="#333" fill-opacity="0.75"/>
<text x="327.55" y="807.00" font-size="8.0" fill="#222" stroke="#222" stroke-width="0.2" text-anchor="middle">1</text>
<line x1="344.05" y1="775.93" x2="344.05" y2="784.10" stroke="#444" stroke-width="0.8"/>
<line x1="344.05" y1="791.86" x2="344.05" y2="793.06" stroke="#444" stroke-width="0.8"/>
<line x1="340.75" y1="775.93" x2="347.35" y2="775.93" stroke="#444" stroke-width="0.8"/>
<line x1="340.75" y1="793.06" x2="347.35" y2="793.06" stroke="#444" stroke-width="0.8"/>
<rect x="337.45" y="784.10" width="13.20" height="7.76" fill="#f8b88c" stroke="#444" stroke-width="0.8"/>
<line x1="337.45" y1="789.05" x2="350.65" y2="789.05" stroke="#444" stroke-width="0.96"/>
<path d="M344.05 764.26L345.42 766.16L344.05 768.06L342.68 766.16Z" fill="#444"/>
<circle cx="343.5" cy="791.0" r="0.55" fill="#333" fill-opacity="0.75"/>
<circle cx="343.5" cy="793.4" r="0.55" fill="#333" fill-opacity="0.75"/>
<circle cx="346.6" cy="790.9" r="0.55" fill="#333" fill-opacity="0.75"/>
<circle cx="344.0" cy="784.1" r="0.55" fill="#333" fill-opacity="0.75"/>
<circle cx="342.4" cy="793.5" r="0.55" fill="#333" fill-opacity="0.75"/>
<text x="344.05" y="807.00" font-size="8.0" fill="#222" stroke="#222" stroke-width="0.2" text-anchor="middle">2</text>
<line x1="360.55" y1="777.67" x2="360.55" y2="779.41" stroke="#444" stroke-width="0.8"/>
<line x1="360.55" y1="792.26" x2="360.55" y2="793.73" stroke="#444" stroke-width="0.8"/>
<line x1="357.25" y1="777.67" x2="363.85" y2="777.67" stroke="#444" stroke-width="0.8"/>
<line x1="357.25" y1="793.73" x2="363.85" y2="793.73" stroke="#444" stroke-width="0.8"/>
<rect x="353.95" y="779.41" width="13.20" height="12.85" fill="#90d6a4" stroke="#444" stroke-width="0.8"/>
<line x1="353.95" y1="786.91" x2="367.15" y2="786.91" stroke="#444" stroke-width="0.96"/>
<path d="M360.55 755.69L361.92 757.59L360.55 759.49L359.18 757.59Z" fill="#444"/>
<circle cx="358.6" cy="790.2" r="0.55" fill="#333" fill-opacity="0.75"/>
<circle cx="363.0" cy="790.4" r="0.55" fill="#333" fill-opacity="0.75"/>
<circle cx="357.6" cy="791.9" r="0.55" fill="#333" fill-opacity="0.75"/>
<circle cx="361.0" cy="778.6" r="0.55" fill="#333" fill-opacity="0.75"/>
<circle cx="359.9" cy="777.6" r="0.55" fill="#333" fill-opacity="0.75"/>
<circle cx="361.6" cy="779.1" r="0.55" fill="#333" fill-opacity="0.75"/>
<circle cx="362.2" cy="780.9" r="0.55" fill="#333" fill-opacity="0.75"/>
<text x="360.55" y="807.00" font-size="8.0" fill="#222" stroke="#222" stroke-width="0.2" text-anchor="middle">3</text>
<line x1="377.05" y1="736.18" x2="377.05" y2="762.55" stroke="#444" stroke-width="0.8"/>
<line x1="377.05" y1="784.50" x2="377.05" y2="789.98" stroke="#444" stroke-width="0.8"/>
<line x1="373.75" y1="736.18" x2="380.35" y2="736.18" stroke="#444" stroke-width="0.8"/>
<line x1="373.75" y1="789.98" x2="380.35" y2="789.98" stroke="#444" stroke-width="0.8"/>
<rect x="370.45" y="762.55" width="13.20" height="21.95" fill="#f4a0a0" stroke="#444" stroke-width="0.8"/>
<line x1="370.45" y1="774.99" x2="383.65" y2="774.99" stroke="#444" stroke-width="0.96"/>
<circle cx="374.4" cy="773.7" r="0.55" fill="#333" fill-opacity="0.75"/>
<circle cx="379.5" cy="781.0" r="0.55" fill="#333" fill-opacity="0.75"/>
<circle cx="379.9" cy="763.1" r="0.55" fill="#333" fill-opacity="0.75"/>
<circle cx="378.1" cy="777.8" r="0.55" fill="#333" fill-opacity="0.75"/>
<circle cx="378.0" cy="765.7" r="0.55" fill="#333" fill-opacity="0.75"/>
<circle cx="377.2" cy="765.4" r="0.55" fill="#333" fill-opacity="0.75"/>
<circle cx="378.3" cy="769.5" r="0.55" fill="#333" fill-opacity="0.75"/>
<circle cx="379.8" cy="779.5" r="0.55" fill="#333" fill-opacity="0.75"/>
<circle cx="374.2" cy="761.7" r="0.55" fill="#333" fill-opacity="0.75"/>
<circle cx="380.1" cy="761.3" r="0.55" fill="#333" fill-opacity="0.75"/>
<text x="377.05" y="807.00" font-size="8.0" fill="#222" stroke="#222" stroke-width="0.2" text-anchor="middle">4</text>
<line x1="393.55" y1="777.27" x2="393.55" y2="779.41" stroke="#444" stroke-width="0.8"/>
<line x1="393.55" y1="788.11" x2="393.55" y2="793.20" stroke="#444" stroke-width="0.8"/>
<line x1="390.25" y1="777.27" x2="396.85" y2="777.27" stroke="#444" stroke-width="0.8"/>
<line x1="390.25" y1="793.20" x2="396.85" y2="793.20" stroke="#444" stroke-width="0.8"/>
<rect x="386.95" y="779.41" width="13.20" height="8.70" fill="#c8b6f2" stroke="#444" stroke-width="0.8"/>
<line x1="386.95" y1="783.02" x2="400.15" y2="783.02" stroke="#444" stroke-width="0.96"/>
<circle cx="390.5" cy="781.6" r="0.55" fill="#333" fill-opacity="0.75"/>
<circle cx="391.1" cy="778.7" r="0.55" fill="#333" fill-opacity="0.75"/>
<circle cx="394.7" cy="777.8" r="0.55" fill="#333" fill-opacity="0.75"/>
<circle cx="391.4" cy="789.3" r="0.55" fill="#333" fill-opacity="0.75"/>
<circle cx="394.0" cy="782.0" r="0.55" fill="#333" fill-opacity="0.75"/>
<text x="393.55" y="807.00" font-size="8.0" fill="#222" stroke="#222" stroke-width="0.2" text-anchor="middle">5</text>
<path d="M327.55 762.20V760.40H344.05V762.20" stroke="#444" stroke-width="0.7" fill="none"/>
<path d="M344.05 754.00V752.20H360.55V754.00" stroke="#444" stroke-width="0.7" fill="none"/>
<path d="M360.55 733.70V731.90H377.05V733.70" stroke="#444" stroke-width="0.7" fill="none"/>
<path d="M327.55 723.30V721.50H360.55V723.30" stroke="#444" stroke-width="0.7" fill="none"/>
<path d="M377.05 723.30V721.50H393.55V723.30" stroke="#444" stroke-width="0.7" fill="none"/>
<path d="M344.05 717.80V716.00H377.05V717.80" stroke="#444" stroke-width="0.7" fill="none"/>
<path d="M360.55 707.80V706.00H393.55V707.80" stroke="#444" stroke-width="0.7" fill="none"/>
<path d="M327.55 706.00V704.20H377.05V706.00" stroke="#444" stroke-width="0.7" fill="none"/>
<path d="M344.05 695.60V693.80H393.55V695.60" stroke="#444" stroke-width="0.7" fill="none"/>
<path d="M327.55 694.50V692.70H393.55V694.50" stroke="#444" stroke-width="0.7" fill="none"/>
<text x="368.90" y="729.70" font-size="7.0" fill="#333" stroke="#333" stroke-width="0.2" text-anchor="middle">**</text>
<text x="385.40" y="719.50" font-size="7.0" fill="#333" stroke="#333" stroke-width="0.2" text-anchor="middle">*</text>
<text x="360.70" y="714.00" font-size="7.0" fill="#333" stroke="#333" stroke-width="0.2" text-anchor="middle">***</text>
<text x="352.50" y="702.20" font-size="7.0" fill="#333" stroke="#333" stroke-width="0.2" text-anchor="middle">***</text>
<rect x="443.20" y="688.10" width="83.20" height="108.30" fill="none" stroke="#444" stroke-width="0.9"/>
<text x="484.80" y="685.00" font-size="10.1" fill="#111" stroke="#111" stroke-width="0.2" text-anchor="middle">Treg cells</text>
<text x="438.30" y="796.40" font-size="6.9" fill="#222" stroke="#222" stroke-width="0.2" text-anchor="end">0</text>
<text x="438.30" y="774.72" font-size="6.9" fill="#222" stroke="#222" stroke-width="0.2" text-anchor="end">200</text>
<text x="438.30" y="753.04" font-size="6.9" fill="#222" stroke="#222" stroke-width="0.2" text-anchor="end">400</text>
<text x="438.30" y="731.36" font-size="6.9" fill="#222" stroke="#222" stroke-width="0.2" text-anchor="end">600</text>
<text x="438.30" y="709.68" font-size="6.9" fill="#222" stroke="#222" stroke-width="0.2" text-anchor="end">800</text>
<text x="422.70" y="742.5" font-size="9.0" fill="#222" stroke="#222" stroke-width="0.15" text-anchor="middle" font-style="italic" transform="rotate(-90 422.70 742.5)">Count/mm<tspan font-size="5.6" dy="-3.2">2</tspan></text>
<line x1="451.52" y1="789.12" x2="451.52" y2="790.75" stroke="#444" stroke-width="0.8"/>
<line x1="451.52" y1="792.92" x2="451.52" y2="794.00" stroke="#444" stroke-width="0.8"/>
<line x1="448.19" y1="789.12" x2="454.85" y2="789.12" stroke="#444" stroke-width="0.8"/>
<line x1="448.19" y1="794.00" x2="454.85" y2="794.00" stroke="#444" stroke-width="0.8"/>
<rect x="444.86" y="790.75" width="13.31" height="2.17" fill="#a4c7ef" stroke="#444" stroke-width="0.8"/>
<line x1="444.86" y1="791.83" x2="458.18" y2="791.83" stroke="#444" stroke-width="0.96"/>
<path d="M451.52 782.34L452.89 784.24L451.52 786.14L450.15 784.24Z" fill="#444"/>
<path d="M451.52 781.26L452.89 783.16L451.52 785.06L450.15 783.16Z" fill="#444"/>
<path d="M451.52 775.84L452.89 777.74L451.52 779.64L450.15 777.74Z" fill="#444"/>
<circle cx="453.2" cy="791.8" r="0.55" fill="#333" fill-opacity="0.75"/>
<circle cx="454.4" cy="791.8" r="0.55" fill="#333" fill-opacity="0.75"/>
<circle cx="449.6" cy="791.8" r="0.55" fill="#333" fill-opacity="0.75"/>
<text x="451.52" y="807.00" font-size="8.0" fill="#222" stroke="#222" stroke-width="0.2" text-anchor="middle">1</text>
<line x1="468.16" y1="756.82" x2="468.16" y2="773.95" stroke="#444" stroke-width="0.8"/>
<line x1="468.16" y1="789.12" x2="468.16" y2="793.13" stroke="#444" stroke-width="0.8"/>
<line x1="464.83" y1="756.82" x2="471.49" y2="756.82" stroke="#444" stroke-width="0.8"/>
<line x1="464.83" y1="793.13" x2="471.49" y2="793.13" stroke="#444" stroke-width="0.8"/>
<rect x="461.50" y="773.95" width="13.31" height="15.18" fill="#f8b88c" stroke="#444" stroke-width="0.8"/>
<line x1="461.50" y1="781.21" x2="474.82" y2="781.21" stroke="#444" stroke-width="0.96"/>
<path d="M468.16 738.98L469.53 740.88L468.16 742.78L466.79 740.88Z" fill="#444"/>
<circle cx="471.0" cy="791.1" r="0.55" fill="#333" fill-opacity="0.75"/>
<circle cx="470.7" cy="790.9" r="0.55" fill="#333" fill-opacity="0.75"/>
<circle cx="470.2" cy="788.9" r="0.55" fill="#333" fill-opacity="0.75"/>
<circle cx="470.7" cy="776.1" r="0.55" fill="#333" fill-opacity="0.75"/>
<circle cx="470.7" cy="780.6" r="0.55" fill="#333" fill-opacity="0.75"/>
<circle cx="469.3" cy="787.3" r="0.55" fill="#333" fill-opacity="0.75"/>
<circle cx="470.8" cy="784.8" r="0.55" fill="#333" fill-opacity="0.75"/>
<circle cx="468.0" cy="776.3" r="0.55" fill="#333" fill-opacity="0.75"/>
<text x="468.16" y="807.00" font-size="8.0" fill="#222" stroke="#222" stroke-width="0.2" text-anchor="middle">2</text>
<line x1="484.80" y1="787.17" x2="484.80" y2="789.45" stroke="#444" stroke-width="0.8"/>
<line x1="484.80" y1="793.46" x2="484.80" y2="794.00" stroke="#444" stroke-width="0.8"/>
<line x1="481.47" y1="787.17" x2="488.13" y2="787.17" stroke="#444" stroke-width="0.8"/>
<line x1="481.47" y1="794.00" x2="488.13" y2="794.00" stroke="#444" stroke-width="0.8"/>
<rect x="478.14" y="789.45" width="13.31" height="4.01" fill="#90d6a4" stroke="#444" stroke-width="0.8"/>
<line x1="478.14" y1="792.37" x2="491.46" y2="792.37" stroke="#444" stroke-width="0.96"/>
<path d="M484.80 780.18L486.17 782.08L484.80 783.98L483.43 782.08Z" fill="#444"/>
<circle cx="481.6" cy="791.2" r="0.55" fill="#333" fill-opacity="0.75"/>
<circle cx="485.4" cy="795.2" r="0.55" fill="#333" fill-opacity="0.75"/>
<circle cx="487.2" cy="791.5" r="0.55" fill="#333" fill-opacity="0.75"/>
<circle cx="482.4" cy="790.6" r="0.55" fill="#333" fill-opacity="0.75"/>
<text x="484.80" y="807.00" font-size="8.0" fill="#222" stroke="#222" stroke-width="0.2" text-anchor="middle">3</text>
<line x1="501.44" y1="788.58" x2="501.44" y2="790.21" stroke="#444" stroke-width="0.8"/>
<line x1="501.44" y1="792.92" x2="501.44" y2="794.00" stroke="#444" stroke-width="0.8"/>
<line x1="498.11" y1="788.58" x2="504.77" y2="788.58" stroke="#444" stroke-width="0.8"/>
<line x1="498.11" y1="794.00" x2="504.77" y2="794.00" stroke="#444" stroke-width="0.8"/>
<rect x="494.78" y="790.21" width="13.31" height="2.71" fill="#f4a0a0" stroke="#444" stroke-width="0.8"/>
<line x1="494.78" y1="791.83" x2="508.10" y2="791.83" stroke="#444" stroke-width="0.96"/>
<path d="M501.44 783.97L502.81 785.87L501.44 787.77L500.07 785.87Z" fill="#444"/>
<path d="M501.44 780.18L502.81 782.08L501.44 783.98L500.07 782.08Z" fill="#444"/>
<circle cx="500.5" cy="791.8" r="0.55" fill="#333" fill-opacity="0.75"/>
<circle cx="503.2" cy="791.8" r="0.55" fill="#333" fill-opacity="0.75"/>
<circle cx="501.6" cy="791.8" r="0.55" fill="#333" fill-opacity="0.75"/>
<text x="501.44" y="807.00" font-size="8.0" fill="#222" stroke="#222" stroke-width="0.2" text-anchor="middle">4</text>
<line x1="518.08" y1="790.21" x2="518.08" y2="791.29" stroke="#444" stroke-width="0.8"/>
<line x1="518.08" y1="793.46" x2="518.08" y2="794.00" stroke="#444" stroke-width="0.8"/>
<line x1="514.75" y1="790.21" x2="521.41" y2="790.21" stroke="#444" stroke-width="0.8"/>
<line x1="514.75" y1="794.00" x2="521.41" y2="794.00" stroke="#444" stroke-width="0.8"/>
<rect x="511.42" y="791.29" width="13.31" height="2.17" fill="#c8b6f2" stroke="#444" stroke-width="0.8"/>
<line x1="511.42" y1="792.70" x2="524.74" y2="792.70" stroke="#444" stroke-width="0.96"/>
<path d="M518.08 783.97L519.45 785.87L518.08 787.77L516.71 785.87Z" fill="#444"/>
<circle cx="514.8" cy="792.7" r="0.55" fill="#333" fill-opacity="0.75"/>
<circle cx="520.3" cy="792.7" r="0.55" fill="#333" fill-opacity="0.75"/>
<circle cx="520.3" cy="792.7" r="0.55" fill="#333" fill-opacity="0.75"/>
<text x="518.08" y="807.00" font-size="8.0" fill="#222" stroke="#222" stroke-width="0.2" text-anchor="middle">5</text>
<path d="M451.52 737.40V735.60H468.16V737.40" stroke="#444" stroke-width="0.7" fill="none"/>
<path d="M468.16 728.40V726.60H484.80V728.40" stroke="#444" stroke-width="0.7" fill="none"/>
<path d="M451.52 717.80V716.00H518.08V717.80" stroke="#444" stroke-width="0.7" fill="none"/>
<path d="M468.16 716.00V714.20H501.44V716.00" stroke="#444" stroke-width="0.7" fill="none"/>
<path d="M484.80 719.10V717.30H501.44V719.10" stroke="#444" stroke-width="0.7" fill="none"/>
<path d="M451.52 705.40V703.60H518.08V705.40" stroke="#444" stroke-width="0.7" fill="none"/>
<path d="M484.80 703.60V701.80H501.44V703.60" stroke="#444" stroke-width="0.7" fill="none"/>
<path d="M468.16 706.80V705.00H518.08V706.80" stroke="#444" stroke-width="0.7" fill="none"/>
<path d="M451.52 694.50V692.70H518.08V694.50" stroke="#444" stroke-width="0.7" fill="none"/>
<text x="460.20" y="733.40" font-size="7.0" fill="#333" stroke="#333" stroke-width="0.2" text-anchor="middle">***</text>
<text x="476.60" y="724.60" font-size="7.0" fill="#333" stroke="#333" stroke-width="0.2" text-anchor="middle">***</text>
<text x="484.80" y="711.80" font-size="7.0" fill="#333" stroke="#333" stroke-width="0.2" text-anchor="middle">***</text>
<text x="493.00" y="699.60" font-size="7.0" fill="#333" stroke="#333" stroke-width="0.2" text-anchor="middle">**</text>
<rect x="567.30" y="688.10" width="83.00" height="108.30" fill="none" stroke="#444" stroke-width="0.9"/>
<text x="608.40" y="685.00" font-size="10.1" fill="#111" stroke="#111" stroke-width="0.2" text-anchor="middle">Macrophages</text>
<text x="562.40" y="796.90" font-size="6.9" fill="#222" stroke="#222" stroke-width="0.2" text-anchor="end">0</text>
<text x="562.40" y="779.42" font-size="6.9" fill="#222" stroke="#222" stroke-width="0.2" text-anchor="end">2000</text>
<text x="562.40" y="761.93" font-size="6.9" fill="#222" stroke="#222" stroke-width="0.2" text-anchor="end">4000</text>
<text x="562.40" y="744.45" font-size="6.9" fill="#222" stroke="#222" stroke-width="0.2" text-anchor="end">6000</text>
<text x="562.40" y="726.96" font-size="6.9" fill="#222" stroke="#222" stroke-width="0.2" text-anchor="end">8000</text>
<text x="562.40" y="709.48" font-size="6.9" fill="#222" stroke="#222" stroke-width="0.2" text-anchor="end">10000</text>
<text x="562.40" y="692.00" font-size="6.9" fill="#222" stroke="#222" stroke-width="0.2" text-anchor="end">12000</text>
<text x="539.50" y="742.5" font-size="9.0" fill="#222" stroke="#222" stroke-width="0.15" text-anchor="middle" font-style="italic" transform="rotate(-90 539.50 742.5)">Count/mm<tspan font-size="5.6" dy="-3.2">2</tspan></text>
<line x1="575.60" y1="784.49" x2="575.60" y2="787.59" stroke="#444" stroke-width="0.8"/>
<line x1="575.60" y1="790.48" x2="575.60" y2="792.31" stroke="#444" stroke-width="0.8"/>
<line x1="572.28" y1="784.49" x2="578.92" y2="784.49" stroke="#444" stroke-width="0.8"/>
<line x1="572.28" y1="792.31" x2="578.92" y2="792.31" stroke="#444" stroke-width="0.8"/>
<rect x="568.96" y="787.59" width="13.28" height="2.88" fill="#a4c7ef" stroke="#444" stroke-width="0.8"/>
<line x1="568.96" y1="789.08" x2="582.24" y2="789.08" stroke="#444" stroke-width="0.96"/>
<path d="M575.60 779.05L576.97 780.95L575.60 782.85L574.23 780.95Z" fill="#444"/>
<circle cx="572.8" cy="789.1" r="0.55" fill="#333" fill-opacity="0.75"/>
<circle cx="575.9" cy="789.1" r="0.55" fill="#333" fill-opacity="0.75"/>
<circle cx="574.8" cy="789.1" r="0.55" fill="#333" fill-opacity="0.75"/>
<text x="575.60" y="807.00" font-size="8.0" fill="#222" stroke="#222" stroke-width="0.2" text-anchor="middle">1</text>
<line x1="592.20" y1="770.28" x2="592.20" y2="775.01" stroke="#444" stroke-width="0.8"/>
<line x1="592.20" y1="784.97" x2="592.20" y2="790.30" stroke="#444" stroke-width="0.8"/>
<line x1="588.88" y1="770.28" x2="595.52" y2="770.28" stroke="#444" stroke-width="0.8"/>
<line x1="588.88" y1="790.30" x2="595.52" y2="790.30" stroke="#444" stroke-width="0.8"/>
<rect x="585.56" y="775.01" width="13.28" height="9.97" fill="#f8b88c" stroke="#444" stroke-width="0.8"/>
<line x1="585.56" y1="780.34" x2="598.84" y2="780.34" stroke="#444" stroke-width="0.96"/>
<circle cx="590.9" cy="776.0" r="0.55" fill="#333" fill-opacity="0.75"/>
<circle cx="592.1" cy="783.7" r="0.55" fill="#333" fill-opacity="0.75"/>
<circle cx="589.5" cy="773.5" r="0.55" fill="#333" fill-opacity="0.75"/>
<circle cx="593.0" cy="785.4" r="0.55" fill="#333" fill-opacity="0.75"/>
<circle cx="592.3" cy="774.6" r="0.55" fill="#333" fill-opacity="0.75"/>
<circle cx="594.6" cy="780.9" r="0.55" fill="#333" fill-opacity="0.75"/>
<text x="592.20" y="807.00" font-size="8.0" fill="#222" stroke="#222" stroke-width="0.2" text-anchor="middle">2</text>
<line x1="608.80" y1="776.58" x2="608.80" y2="780.34" stroke="#444" stroke-width="0.8"/>
<line x1="608.80" y1="792.31" x2="608.80" y2="793.19" stroke="#444" stroke-width="0.8"/>
<line x1="605.48" y1="776.58" x2="612.12" y2="776.58" stroke="#444" stroke-width="0.8"/>
<line x1="605.48" y1="793.19" x2="612.12" y2="793.19" stroke="#444" stroke-width="0.8"/>
<rect x="602.16" y="780.34" width="13.28" height="11.98" fill="#90d6a4" stroke="#444" stroke-width="0.8"/>
<line x1="602.16" y1="789.43" x2="615.44" y2="789.43" stroke="#444" stroke-width="0.96"/>
<path d="M608.80 734.03L610.17 735.93L608.80 737.83L607.43 735.93Z" fill="#444"/>
<circle cx="605.9" cy="781.9" r="0.55" fill="#333" fill-opacity="0.75"/>
<circle cx="606.8" cy="780.2" r="0.55" fill="#333" fill-opacity="0.75"/>
<circle cx="611.0" cy="789.5" r="0.55" fill="#333" fill-opacity="0.75"/>
<circle cx="610.8" cy="787.6" r="0.55" fill="#333" fill-opacity="0.75"/>
<circle cx="611.3" cy="791.6" r="0.55" fill="#333" fill-opacity="0.75"/>
<circle cx="606.5" cy="791.5" r="0.55" fill="#333" fill-opacity="0.75"/>
<text x="608.80" y="807.00" font-size="8.0" fill="#222" stroke="#222" stroke-width="0.2" text-anchor="middle">3</text>
<line x1="625.40" y1="777.19" x2="625.40" y2="784.97" stroke="#444" stroke-width="0.8"/>
<line x1="625.40" y1="790.30" x2="625.40" y2="793.19" stroke="#444" stroke-width="0.8"/>
<line x1="622.08" y1="777.19" x2="628.72" y2="777.19" stroke="#444" stroke-width="0.8"/>
<line x1="622.08" y1="793.19" x2="628.72" y2="793.19" stroke="#444" stroke-width="0.8"/>
<rect x="618.76" y="784.97" width="13.28" height="5.33" fill="#f4a0a0" stroke="#444" stroke-width="0.8"/>
<line x1="618.76" y1="788.12" x2="632.04" y2="788.12" stroke="#444" stroke-width="0.96"/>
<circle cx="624.3" cy="787.7" r="0.55" fill="#333" fill-opacity="0.75"/>
<circle cx="628.1" cy="787.2" r="0.55" fill="#333" fill-opacity="0.75"/>
<circle cx="622.1" cy="785.7" r="0.55" fill="#333" fill-opacity="0.75"/>
<circle cx="625.7" cy="789.4" r="0.55" fill="#333" fill-opacity="0.75"/>
<text x="625.40" y="807.00" font-size="8.0" fill="#222" stroke="#222" stroke-width="0.2" text-anchor="middle">4</text>
<line x1="642.00" y1="788.47" x2="642.00" y2="789.43" stroke="#444" stroke-width="0.8"/>
<line x1="642.00" y1="791.18" x2="642.00" y2="792.31" stroke="#444" stroke-width="0.8"/>
<line x1="638.68" y1="788.47" x2="645.32" y2="788.47" stroke="#444" stroke-width="0.8"/>
<line x1="638.68" y1="792.31" x2="645.32" y2="792.31" stroke="#444" stroke-width="0.8"/>
<rect x="635.36" y="789.43" width="13.28" height="1.75" fill="#c8b6f2" stroke="#444" stroke-width="0.8"/>
<line x1="635.36" y1="790.30" x2="648.64" y2="790.30" stroke="#444" stroke-width="0.96"/>
<path d="M642.00 791.73L643.37 793.63L642.00 795.53L640.63 793.63Z" fill="#444"/>
<circle cx="641.9" cy="790.3" r="0.55" fill="#333" fill-opacity="0.75"/>
<circle cx="643.4" cy="790.3" r="0.55" fill="#333" fill-opacity="0.75"/>
<circle cx="641.9" cy="790.3" r="0.55" fill="#333" fill-opacity="0.75"/>
<text x="642.00" y="807.00" font-size="8.0" fill="#222" stroke="#222" stroke-width="0.2" text-anchor="middle">5</text>
<path d="M575.60 767.10V765.30H592.20V767.10" stroke="#444" stroke-width="0.7" fill="none"/>
<path d="M592.20 731.00V729.20H608.80V731.00" stroke="#444" stroke-width="0.7" fill="none"/>
<path d="M575.60 720.00V718.20H642.00V720.00" stroke="#444" stroke-width="0.7" fill="none"/>
<path d="M592.20 718.80V717.00H625.40V718.80" stroke="#444" stroke-width="0.7" fill="none"/>
<path d="M608.80 721.80V720.00H625.40V721.80" stroke="#444" stroke-width="0.7" fill="none"/>
<path d="M575.60 706.00V704.20H625.40V706.00" stroke="#444" stroke-width="0.7" fill="none"/>
<path d="M592.20 704.80V703.00H642.00V704.80" stroke="#444" stroke-width="0.7" fill="none"/>
<path d="M608.80 707.30V705.50H642.00V707.30" stroke="#444" stroke-width="0.7" fill="none"/>
<path d="M575.60 694.50V692.70H642.00V694.50" stroke="#444" stroke-width="0.7" fill="none"/>
<text x="583.90" y="763.30" font-size="7.0" fill="#333" stroke="#333" stroke-width="0.2" text-anchor="middle">****</text>
<text x="600.30" y="727.40" font-size="7.0" fill="#333" stroke="#333" stroke-width="0.2" text-anchor="middle">**</text>
<text x="608.90" y="714.00" font-size="7.0" fill="#333" stroke="#333" stroke-width="0.2" text-anchor="middle">***</text>
<text x="617.10" y="700.50" font-size="7.0" fill="#333" stroke="#333" stroke-width="0.2" text-anchor="middle">***</text>
<text x="412.90" y="669.00" font-size="10.5" fill="#111" stroke="#111" stroke-width="0.2" text-anchor="start" textLength="126.9" lengthAdjust="spacingAndGlyphs">Immune infiltration pattern</text>
<circle cx="550.40" cy="665.60" r="4.10" fill="#a4c8f0" stroke="#2b3566" stroke-width="0.9"/>
<text x="557.20" y="669.20" font-size="10.5" fill="#111" stroke="#111" stroke-width="0.2" text-anchor="start">1</text>
<circle cx="570.40" cy="665.60" r="4.10" fill="#f8b080" stroke="#2b3566" stroke-width="0.9"/>
<text x="577.20" y="669.20" font-size="10.5" fill="#111" stroke="#111" stroke-width="0.2" text-anchor="start">2</text>
<circle cx="590.20" cy="665.60" r="4.10" fill="#88d8a0" stroke="#2b3566" stroke-width="0.9"/>
<text x="597.00" y="669.20" font-size="10.5" fill="#111" stroke="#111" stroke-width="0.2" text-anchor="start">3</text>
<circle cx="610.80" cy="665.60" r="4.10" fill="#f09494" stroke="#2b3566" stroke-width="0.9"/>
<text x="617.60" y="669.20" font-size="10.5" fill="#111" stroke="#111" stroke-width="0.2" text-anchor="start">4</text>
<circle cx="630.80" cy="665.60" r="4.10" fill="#c8b8f0" stroke="#2b3566" stroke-width="0.9"/>
<text x="637.60" y="669.20" font-size="10.5" fill="#111" stroke="#111" stroke-width="0.2" text-anchor="start">5</text>
<rect x="55.50" y="855.40" width="151.10" height="183.60" fill="none" stroke="#444" stroke-width="0.9"/>
<text x="48.90" y="1034.40" font-size="7.0" fill="#333" stroke="#333" stroke-width="0.2" text-anchor="end">0</text>
<text x="48.90" y="1012.30" font-size="7.0" fill="#333" stroke="#333" stroke-width="0.2" text-anchor="end">1000</text>
<text x="48.90" y="990.20" font-size="7.0" fill="#333" stroke="#333" stroke-width="0.2" text-anchor="end">2000</text>
<text x="48.90" y="968.10" font-size="7.0" fill="#333" stroke="#333" stroke-width="0.2" text-anchor="end">3000</text>
<text x="48.90" y="946.00" font-size="7.0" fill="#333" stroke="#333" stroke-width="0.2" text-anchor="end">4000</text>
<text x="48.90" y="923.90" font-size="7.0" fill="#333" stroke="#333" stroke-width="0.2" text-anchor="end">5000</text>
<text x="48.90" y="901.80" font-size="7.0" fill="#333" stroke="#333" stroke-width="0.2" text-anchor="end">6000</text>
<text x="48.90" y="879.70" font-size="7.0" fill="#333" stroke="#333" stroke-width="0.2" text-anchor="end">7000</text>
<text x="28.00" y="947" font-size="9.2" fill="#222" text-anchor="middle" font-style="italic" transform="rotate(-90 28.00 947)">Count/mm<tspan font-size="6" dy="-3.4">2</tspan></text>
<line x1="69.70" y1="1024.71" x2="69.70" y2="1028.24" stroke="#444" stroke-width="0.8"/>
<line x1="69.70" y1="1031.56" x2="69.70" y2="1032.00" stroke="#444" stroke-width="0.8"/>
<line x1="66.90" y1="1024.71" x2="72.50" y2="1024.71" stroke="#444" stroke-width="0.8"/>
<line x1="66.90" y1="1032.00" x2="72.50" y2="1032.00" stroke="#444" stroke-width="0.8"/>
<rect x="64.10" y="1028.24" width="11.20" height="3.32" fill="#a4b5da" stroke="#444" stroke-width="0.8"/>
<line x1="64.10" y1="1029.79" x2="75.30" y2="1029.79" stroke="#444" stroke-width="0.96"/>
<path d="M69.70 1019.95L71.21 1022.05L69.70 1024.15L68.19 1022.05Z" fill="#333"/>
<path d="M69.70 1017.75L71.21 1019.85L69.70 1021.95L68.19 1019.85Z" fill="#333"/>
<path d="M69.70 1016.64L71.21 1018.74L69.70 1020.84L68.19 1018.74Z" fill="#333"/>
<path d="M69.70 1015.53L71.21 1017.63L69.70 1019.74L68.19 1017.63Z" fill="#333"/>
<path d="M69.70 1001.17L71.21 1003.27L69.70 1005.37L68.19 1003.27Z" fill="#333"/>
<line x1="80.90" y1="1020.62" x2="80.90" y2="1026.03" stroke="#444" stroke-width="0.8"/>
<line x1="80.90" y1="1031.34" x2="80.90" y2="1032.00" stroke="#444" stroke-width="0.8"/>
<line x1="78.10" y1="1020.62" x2="83.70" y2="1020.62" stroke="#444" stroke-width="0.8"/>
<line x1="78.10" y1="1032.00" x2="83.70" y2="1032.00" stroke="#444" stroke-width="0.8"/>
<rect x="75.30" y="1026.03" width="11.20" height="5.30" fill="#eab89c" stroke="#444" stroke-width="0.8"/>
<line x1="75.30" y1="1029.79" x2="86.50" y2="1029.79" stroke="#444" stroke-width="0.96"/>
<path d="M80.90 1016.64L82.41 1018.74L80.90 1020.84L79.39 1018.74Z" fill="#333"/>
<path d="M80.90 1014.43L82.41 1016.53L80.90 1018.63L79.39 1016.53Z" fill="#333"/>
<path d="M80.90 1012.22L82.41 1014.32L80.90 1016.42L79.39 1014.32Z" fill="#333"/>
<path d="M80.90 1010.01L82.41 1012.11L80.90 1014.21L79.39 1012.11Z" fill="#333"/>
<path d="M80.90 1007.80L82.41 1009.90L80.90 1012.00L79.39 1009.90Z" fill="#333"/>
<path d="M80.90 1005.59L82.41 1007.69L80.90 1009.79L79.39 1007.69Z" fill="#333"/>
<path d="M80.90 1003.38L82.41 1005.48L80.90 1007.58L79.39 1005.48Z" fill="#333"/>
<path d="M80.90 963.60L82.41 965.70L80.90 967.80L79.39 965.70Z" fill="#333"/>
<path d="M69.60 953.60V951.00H81.00V953.60" stroke="#333" stroke-width="0.9" fill="none"/>
<text x="75.30" y="947.50" font-size="8.4" fill="#333" stroke="#333" stroke-width="0.2" text-anchor="middle">ns</text>
<text x="75.90" y="1048.70" font-size="6.9" fill="#333" stroke="#333" stroke-width="0.12" text-anchor="end" transform="rotate(-20 75.90 1048.7)">Stromal B cells</text>
<line x1="97.60" y1="1013.66" x2="97.60" y2="1020.95" stroke="#444" stroke-width="0.8"/>
<line x1="97.60" y1="1027.36" x2="97.60" y2="1031.23" stroke="#444" stroke-width="0.8"/>
<line x1="94.80" y1="1013.66" x2="100.40" y2="1013.66" stroke="#444" stroke-width="0.8"/>
<line x1="94.80" y1="1031.23" x2="100.40" y2="1031.23" stroke="#444" stroke-width="0.8"/>
<rect x="92.00" y="1020.95" width="11.20" height="6.41" fill="#a4b5da" stroke="#444" stroke-width="0.8"/>
<line x1="92.00" y1="1023.93" x2="103.20" y2="1023.93" stroke="#444" stroke-width="0.96"/>
<path d="M97.60 1010.01L99.11 1012.11L97.60 1014.21L96.09 1012.11Z" fill="#333"/>
<path d="M97.60 1008.90L99.11 1011.00L97.60 1013.11L96.09 1011.00Z" fill="#333"/>
<path d="M97.60 995.64L99.11 997.75L97.60 999.85L96.09 997.75Z" fill="#333"/>
<path d="M97.60 993.43L99.11 995.53L97.60 997.63L96.09 995.53Z" fill="#333"/>
<path d="M97.60 991.23L99.11 993.33L97.60 995.43L96.09 993.33Z" fill="#333"/>
<line x1="108.80" y1="988.24" x2="108.80" y2="1005.26" stroke="#444" stroke-width="0.8"/>
<line x1="108.80" y1="1019.62" x2="108.80" y2="1030.23" stroke="#444" stroke-width="0.8"/>
<line x1="106.00" y1="988.24" x2="111.60" y2="988.24" stroke="#444" stroke-width="0.8"/>
<line x1="106.00" y1="1030.23" x2="111.60" y2="1030.23" stroke="#444" stroke-width="0.8"/>
<rect x="103.20" y="1005.26" width="11.20" height="14.37" fill="#eab89c" stroke="#444" stroke-width="0.8"/>
<line x1="103.20" y1="1012.55" x2="114.40" y2="1012.55" stroke="#444" stroke-width="0.96"/>
<path d="M97.40 977.60V975.00H108.80V977.60" stroke="#333" stroke-width="0.9" fill="none"/>
<text x="103.10" y="969.40" font-size="7.6" fill="#333" stroke="#333" stroke-width="0.2" text-anchor="middle">****</text>
<text x="103.80" y="1048.70" font-size="6.9" fill="#333" stroke="#333" stroke-width="0.12" text-anchor="end" transform="rotate(-20 103.80 1048.7)">Stromal CD4 T cells</text>
<line x1="125.60" y1="1013.22" x2="125.60" y2="1023.38" stroke="#444" stroke-width="0.8"/>
<line x1="125.60" y1="1029.35" x2="125.60" y2="1031.12" stroke="#444" stroke-width="0.8"/>
<line x1="122.80" y1="1013.22" x2="128.40" y2="1013.22" stroke="#444" stroke-width="0.8"/>
<line x1="122.80" y1="1031.12" x2="128.40" y2="1031.12" stroke="#444" stroke-width="0.8"/>
<rect x="120.00" y="1023.38" width="11.20" height="5.97" fill="#a4b5da" stroke="#444" stroke-width="0.8"/>
<line x1="120.00" y1="1026.36" x2="131.20" y2="1026.36" stroke="#444" stroke-width="0.96"/>
<path d="M125.60 1014.43L127.11 1016.53L125.60 1018.63L124.09 1016.53Z" fill="#333"/>
<path d="M125.60 1013.32L127.11 1015.42L125.60 1017.52L124.09 1015.42Z" fill="#333"/>
<path d="M125.60 1012.22L127.11 1014.32L125.60 1016.42L124.09 1014.32Z" fill="#333"/>
<line x1="136.80" y1="999.40" x2="136.80" y2="1016.09" stroke="#444" stroke-width="0.8"/>
<line x1="136.80" y1="1028.13" x2="136.80" y2="1031.12" stroke="#444" stroke-width="0.8"/>
<line x1="134.00" y1="999.40" x2="139.60" y2="999.40" stroke="#444" stroke-width="0.8"/>
<line x1="134.00" y1="1031.12" x2="139.60" y2="1031.12" stroke="#444" stroke-width="0.8"/>
<rect x="131.20" y="1016.09" width="11.20" height="12.04" fill="#eab89c" stroke="#444" stroke-width="0.8"/>
<line x1="131.20" y1="1021.94" x2="142.40" y2="1021.94" stroke="#444" stroke-width="0.96"/>
<path d="M136.80 992.33L138.31 994.43L136.80 996.53L135.29 994.43Z" fill="#333"/>
<path d="M136.80 990.12L138.31 992.22L136.80 994.32L135.29 992.22Z" fill="#333"/>
<path d="M136.80 987.91L138.31 990.01L136.80 992.11L135.29 990.01Z" fill="#333"/>
<path d="M136.80 982.38L138.31 984.49L136.80 986.59L135.29 984.49Z" fill="#333"/>
<path d="M125.40 972.60V970.00H137.10V972.60" stroke="#333" stroke-width="0.9" fill="none"/>
<text x="131.25" y="964.00" font-size="7.6" fill="#333" stroke="#333" stroke-width="0.2" text-anchor="middle">***</text>
<text x="131.80" y="1048.70" font-size="6.9" fill="#333" stroke="#333" stroke-width="0.12" text-anchor="end" transform="rotate(-20 131.80 1048.7)">Stromal CD8 T cells</text>
<line x1="153.40" y1="1031.34" x2="153.40" y2="1031.56" stroke="#444" stroke-width="0.8"/>
<line x1="153.40" y1="1032.00" x2="153.40" y2="1032.00" stroke="#444" stroke-width="0.8"/>
<line x1="150.60" y1="1031.34" x2="156.20" y2="1031.34" stroke="#444" stroke-width="0.8"/>
<line x1="150.60" y1="1032.00" x2="156.20" y2="1032.00" stroke="#444" stroke-width="0.8"/>
<rect x="147.80" y="1031.56" width="11.20" height="0.50" fill="#a4b5da" stroke="#444" stroke-width="0.8"/>
<line x1="147.80" y1="1031.78" x2="159.00" y2="1031.78" stroke="#444" stroke-width="0.96"/>
<path d="M153.40 1029.02L154.91 1031.12L153.40 1033.22L151.89 1031.12Z" fill="#333"/>
<line x1="164.60" y1="1029.79" x2="164.60" y2="1030.89" stroke="#444" stroke-width="0.8"/>
<line x1="164.60" y1="1031.89" x2="164.60" y2="1032.00" stroke="#444" stroke-width="0.8"/>
<line x1="161.80" y1="1029.79" x2="167.40" y2="1029.79" stroke="#444" stroke-width="0.8"/>
<line x1="161.80" y1="1032.00" x2="167.40" y2="1032.00" stroke="#444" stroke-width="0.8"/>
<rect x="159.00" y="1030.89" width="11.20" height="0.99" fill="#eab89c" stroke="#444" stroke-width="0.8"/>
<line x1="159.00" y1="1031.45" x2="170.20" y2="1031.45" stroke="#444" stroke-width="0.96"/>
<path d="M164.60 1026.59L166.11 1028.68L164.60 1030.78L163.09 1028.68Z" fill="#333"/>
<path d="M164.60 1025.48L166.11 1027.58L164.60 1029.68L163.09 1027.58Z" fill="#333"/>
<path d="M164.60 1024.38L166.11 1026.47L164.60 1028.57L163.09 1026.47Z" fill="#333"/>
<path d="M164.60 1023.27L166.11 1025.37L164.60 1027.47L163.09 1025.37Z" fill="#333"/>
<path d="M164.60 1022.17L166.11 1024.27L164.60 1026.37L163.09 1024.27Z" fill="#333"/>
<path d="M164.60 1021.06L166.11 1023.16L164.60 1025.26L163.09 1023.16Z" fill="#333"/>
<path d="M164.60 1019.95L166.11 1022.05L164.60 1024.15L163.09 1022.05Z" fill="#333"/>
<path d="M164.60 1018.85L166.11 1020.95L164.60 1023.05L163.09 1020.95Z" fill="#333"/>
<path d="M153.10 1008.90V1006.30H164.60V1008.90" stroke="#333" stroke-width="0.9" fill="none"/>
<text x="158.85" y="1000.30" font-size="7.6" fill="#333" stroke="#333" stroke-width="0.2" text-anchor="middle">****</text>
<text x="159.60" y="1048.70" font-size="6.9" fill="#333" stroke="#333" stroke-width="0.12" text-anchor="end" transform="rotate(-20 159.60 1048.7)">Stromal Treg cells</text>
<line x1="181.40" y1="1013.10" x2="181.40" y2="1020.18" stroke="#444" stroke-width="0.8"/>
<line x1="181.40" y1="1025.48" x2="181.40" y2="1029.35" stroke="#444" stroke-width="0.8"/>
<line x1="178.60" y1="1013.10" x2="184.20" y2="1013.10" stroke="#444" stroke-width="0.8"/>
<line x1="178.60" y1="1029.35" x2="184.20" y2="1029.35" stroke="#444" stroke-width="0.8"/>
<rect x="175.80" y="1020.18" width="11.20" height="5.30" fill="#a4b5da" stroke="#444" stroke-width="0.8"/>
<line x1="175.80" y1="1021.94" x2="187.00" y2="1021.94" stroke="#444" stroke-width="0.96"/>
<path d="M181.40 970.23L182.91 972.33L181.40 974.43L179.89 972.33Z" fill="#333"/>
<line x1="192.60" y1="973.21" x2="192.60" y2="994.43" stroke="#444" stroke-width="0.8"/>
<line x1="192.60" y1="1016.09" x2="192.60" y2="1026.36" stroke="#444" stroke-width="0.8"/>
<line x1="189.80" y1="973.21" x2="195.40" y2="973.21" stroke="#444" stroke-width="0.8"/>
<line x1="189.80" y1="1026.36" x2="195.40" y2="1026.36" stroke="#444" stroke-width="0.8"/>
<rect x="187.00" y="994.43" width="11.20" height="21.66" fill="#eab89c" stroke="#444" stroke-width="0.8"/>
<line x1="187.00" y1="1008.13" x2="198.20" y2="1008.13" stroke="#444" stroke-width="0.96"/>
<path d="M192.60 881.83L194.11 883.93L192.60 886.03L191.09 883.93Z" fill="#333"/>
<path d="M181.30 872.10V869.50H192.60V872.10" stroke="#333" stroke-width="0.9" fill="none"/>
<text x="186.95" y="863.70" font-size="7.6" fill="#333" stroke="#333" stroke-width="0.2" text-anchor="middle">****</text>
<text x="187.60" y="1048.70" font-size="6.9" fill="#333" stroke="#333" stroke-width="0.12" text-anchor="end" transform="rotate(-20 187.60 1048.7)">Stromal Macrophages</text>
<text x="59.70" y="868.60" font-size="10.9" fill="#111" stroke="#111" stroke-width="0.2" text-anchor="start">ILC subtype</text>
<circle cx="63.10" cy="876.60" r="4.30" fill="#a4b5da" stroke="#2b3566" stroke-width="0.9"/>
<text x="70.10" y="880.40" font-size="10.9" fill="#111" stroke="#111" stroke-width="0.2" text-anchor="start">Non-proliferative</text>
<circle cx="63.10" cy="888.60" r="4.30" fill="#eab89c" stroke="#111" stroke-width="0.9"/>
<text x="70.10" y="892.50" font-size="10.9" fill="#111" stroke="#111" stroke-width="0.2" text-anchor="start">Proliferative</text>
<rect x="272.60" y="855.40" width="150.70" height="183.90" fill="none" stroke="#444" stroke-width="0.9"/>
<text x="265.50" y="1034.20" font-size="7.0" fill="#333" stroke="#333" stroke-width="0.2" text-anchor="end">0</text>
<text x="265.50" y="1005.30" font-size="7.0" fill="#333" stroke="#333" stroke-width="0.2" text-anchor="end">500</text>
<text x="265.50" y="976.40" font-size="7.0" fill="#333" stroke="#333" stroke-width="0.2" text-anchor="end">1000</text>
<text x="265.50" y="947.50" font-size="7.0" fill="#333" stroke="#333" stroke-width="0.2" text-anchor="end">1500</text>
<text x="265.50" y="918.60" font-size="7.0" fill="#333" stroke="#333" stroke-width="0.2" text-anchor="end">2000</text>
<text x="265.50" y="889.70" font-size="7.0" fill="#333" stroke="#333" stroke-width="0.2" text-anchor="end">2500</text>
<text x="265.50" y="860.80" font-size="7.0" fill="#333" stroke="#333" stroke-width="0.2" text-anchor="end">3000</text>
<text x="245.00" y="947" font-size="9.2" fill="#222" text-anchor="middle" font-style="italic" transform="rotate(-90 245.00 947)">Count/mm<tspan font-size="6" dy="-3.4">2</tspan></text>
<line x1="285.90" y1="1031.22" x2="285.90" y2="1031.45" stroke="#444" stroke-width="0.8"/>
<line x1="285.90" y1="1031.80" x2="285.90" y2="1031.80" stroke="#444" stroke-width="0.8"/>
<line x1="283.10" y1="1031.22" x2="288.70" y2="1031.22" stroke="#444" stroke-width="0.8"/>
<line x1="283.10" y1="1031.80" x2="288.70" y2="1031.80" stroke="#444" stroke-width="0.8"/>
<rect x="280.30" y="1031.45" width="11.20" height="0.50" fill="#a4b5da" stroke="#444" stroke-width="0.8"/>
<line x1="280.30" y1="1031.63" x2="291.50" y2="1031.63" stroke="#444" stroke-width="0.96"/>
<path d="M285.90 1028.54L287.41 1030.64L285.90 1032.74L284.39 1030.64Z" fill="#333"/>
<line x1="297.10" y1="1030.36" x2="297.10" y2="1031.11" stroke="#444" stroke-width="0.8"/>
<line x1="297.10" y1="1031.80" x2="297.10" y2="1031.80" stroke="#444" stroke-width="0.8"/>
<line x1="294.30" y1="1030.36" x2="299.90" y2="1030.36" stroke="#444" stroke-width="0.8"/>
<line x1="294.30" y1="1031.80" x2="299.90" y2="1031.80" stroke="#444" stroke-width="0.8"/>
<rect x="291.50" y="1031.11" width="11.20" height="0.69" fill="#eab89c" stroke="#444" stroke-width="0.8"/>
<line x1="291.50" y1="1031.51" x2="302.70" y2="1031.51" stroke="#444" stroke-width="0.96"/>
<path d="M297.10 1027.97L298.61 1030.07L297.10 1032.17L295.59 1030.07Z" fill="#333"/>
<path d="M297.10 1027.39L298.61 1029.49L297.10 1031.59L295.59 1029.49Z" fill="#333"/>
<path d="M297.10 1026.81L298.61 1028.91L297.10 1031.01L295.59 1028.91Z" fill="#333"/>
<path d="M286.10 1017.10V1014.50H298.00V1017.10" stroke="#333" stroke-width="0.9" fill="none"/>
<text x="292.05" y="1008.70" font-size="7.6" fill="#333" stroke="#333" stroke-width="0.2" text-anchor="middle">**</text>
<text x="292.10" y="1048.70" font-size="6.9" fill="#333" stroke="#333" stroke-width="0.12" text-anchor="end" transform="rotate(-20 292.10 1048.7)">Tumor B cells</text>
<line x1="314.00" y1="1025.44" x2="314.00" y2="1028.04" stroke="#444" stroke-width="0.8"/>
<line x1="314.00" y1="1030.64" x2="314.00" y2="1031.80" stroke="#444" stroke-width="0.8"/>
<line x1="311.20" y1="1025.44" x2="316.80" y2="1025.44" stroke="#444" stroke-width="0.8"/>
<line x1="311.20" y1="1031.80" x2="316.80" y2="1031.80" stroke="#444" stroke-width="0.8"/>
<rect x="308.40" y="1028.04" width="11.20" height="2.60" fill="#a4b5da" stroke="#444" stroke-width="0.8"/>
<line x1="308.40" y1="1029.49" x2="319.60" y2="1029.49" stroke="#444" stroke-width="0.96"/>
<path d="M314.00 1016.69L315.51 1018.79L314.00 1020.89L312.49 1018.79Z" fill="#333"/>
<path d="M314.00 1010.05L315.51 1012.15L314.00 1014.25L312.49 1012.15Z" fill="#333"/>
<line x1="325.20" y1="1003.19" x2="325.20" y2="1019.37" stroke="#444" stroke-width="0.8"/>
<line x1="325.20" y1="1029.49" x2="325.20" y2="1031.22" stroke="#444" stroke-width="0.8"/>
<line x1="322.40" y1="1003.19" x2="328.00" y2="1003.19" stroke="#444" stroke-width="0.8"/>
<line x1="322.40" y1="1031.22" x2="328.00" y2="1031.22" stroke="#444" stroke-width="0.8"/>
<rect x="319.60" y="1019.37" width="11.20" height="10.12" fill="#eab89c" stroke="#444" stroke-width="0.8"/>
<line x1="319.60" y1="1027.46" x2="330.80" y2="1027.46" stroke="#444" stroke-width="0.96"/>
<path d="M325.20 996.75L326.71 998.85L325.20 1000.95L323.69 998.85Z" fill="#333"/>
<path d="M325.20 991.26L326.71 993.36L325.20 995.46L323.69 993.36Z" fill="#333"/>
<path d="M325.20 985.48L326.71 987.58L325.20 989.68L323.69 987.58Z" fill="#333"/>
<path d="M314.10 975.60V973.00H325.80V975.60" stroke="#333" stroke-width="0.9" fill="none"/>
<text x="319.95" y="967.50" font-size="7.6" fill="#333" stroke="#333" stroke-width="0.2" text-anchor="middle">****</text>
<text x="320.20" y="1048.70" font-size="6.9" fill="#333" stroke="#333" stroke-width="0.12" text-anchor="end" transform="rotate(-20 320.20 1048.7)">Tumor CD4 T cells</text>
<line x1="342.00" y1="1026.89" x2="342.00" y2="1029.49" stroke="#444" stroke-width="0.8"/>
<line x1="342.00" y1="1031.22" x2="342.00" y2="1031.80" stroke="#444" stroke-width="0.8"/>
<line x1="339.20" y1="1026.89" x2="344.80" y2="1026.89" stroke="#444" stroke-width="0.8"/>
<line x1="339.20" y1="1031.80" x2="344.80" y2="1031.80" stroke="#444" stroke-width="0.8"/>
<rect x="336.40" y="1029.49" width="11.20" height="1.73" fill="#a4b5da" stroke="#444" stroke-width="0.8"/>
<line x1="336.40" y1="1030.64" x2="347.60" y2="1030.64" stroke="#444" stroke-width="0.96"/>
<path d="M342.00 1022.76L343.51 1024.86L342.00 1026.96L340.49 1024.86Z" fill="#333"/>
<path d="M342.00 1021.61L343.51 1023.71L342.00 1025.81L340.49 1023.71Z" fill="#333"/>
<path d="M342.00 1020.45L343.51 1022.55L342.00 1024.65L340.49 1022.55Z" fill="#333"/>
<line x1="353.20" y1="1021.97" x2="353.20" y2="1027.46" stroke="#444" stroke-width="0.8"/>
<line x1="353.20" y1="1030.64" x2="353.20" y2="1031.80" stroke="#444" stroke-width="0.8"/>
<line x1="350.40" y1="1021.97" x2="356.00" y2="1021.97" stroke="#444" stroke-width="0.8"/>
<line x1="350.40" y1="1031.80" x2="356.00" y2="1031.80" stroke="#444" stroke-width="0.8"/>
<rect x="347.60" y="1027.46" width="11.20" height="3.18" fill="#eab89c" stroke="#444" stroke-width="0.8"/>
<line x1="347.60" y1="1029.49" x2="358.80" y2="1029.49" stroke="#444" stroke-width="0.96"/>
<path d="M353.20 1018.14L354.71 1020.24L353.20 1022.34L351.69 1020.24Z" fill="#333"/>
<path d="M353.20 1015.25L354.71 1017.35L353.20 1019.45L351.69 1017.35Z" fill="#333"/>
<path d="M353.20 1012.36L354.71 1014.46L353.20 1016.56L351.69 1014.46Z" fill="#333"/>
<path d="M353.20 1007.45L354.71 1009.55L353.20 1011.65L351.69 1009.55Z" fill="#333"/>
<path d="M353.20 997.62L354.71 999.72L353.20 1001.82L351.69 999.72Z" fill="#333"/>
<path d="M342.40 988.00V985.40H353.80V988.00" stroke="#333" stroke-width="0.9" fill="none"/>
<text x="348.10" y="979.90" font-size="7.6" fill="#333" stroke="#333" stroke-width="0.2" text-anchor="middle">**</text>
<text x="348.20" y="1048.70" font-size="6.9" fill="#333" stroke="#333" stroke-width="0.12" text-anchor="end" transform="rotate(-20 348.20 1048.7)">Tumor CD8 T cells</text>
<line x1="369.90" y1="1030.93" x2="369.90" y2="1031.34" stroke="#444" stroke-width="0.8"/>
<line x1="369.90" y1="1031.80" x2="369.90" y2="1031.80" stroke="#444" stroke-width="0.8"/>
<line x1="367.10" y1="1030.93" x2="372.70" y2="1030.93" stroke="#444" stroke-width="0.8"/>
<line x1="367.10" y1="1031.80" x2="372.70" y2="1031.80" stroke="#444" stroke-width="0.8"/>
<rect x="364.30" y="1031.34" width="11.20" height="0.50" fill="#a4b5da" stroke="#444" stroke-width="0.8"/>
<line x1="364.30" y1="1031.63" x2="375.50" y2="1031.63" stroke="#444" stroke-width="0.96"/>
<line x1="381.10" y1="1028.91" x2="381.10" y2="1030.07" stroke="#444" stroke-width="0.8"/>
<line x1="381.10" y1="1031.51" x2="381.10" y2="1031.80" stroke="#444" stroke-width="0.8"/>
<line x1="378.30" y1="1028.91" x2="383.90" y2="1028.91" stroke="#444" stroke-width="0.8"/>
<line x1="378.30" y1="1031.80" x2="383.90" y2="1031.80" stroke="#444" stroke-width="0.8"/>
<rect x="375.50" y="1030.07" width="11.20" height="1.44" fill="#eab89c" stroke="#444" stroke-width="0.8"/>
<line x1="375.50" y1="1030.93" x2="386.70" y2="1030.93" stroke="#444" stroke-width="0.96"/>
<path d="M381.10 1025.65L382.61 1027.75L381.10 1029.85L379.59 1027.75Z" fill="#333"/>
<path d="M381.10 1024.50L382.61 1026.60L381.10 1028.70L379.59 1026.60Z" fill="#333"/>
<path d="M370.40 1015.10V1012.50H382.10V1015.10" stroke="#333" stroke-width="0.9" fill="none"/>
<text x="376.25" y="1006.70" font-size="7.6" fill="#333" stroke="#333" stroke-width="0.2" text-anchor="middle">****</text>
<text x="376.10" y="1048.70" font-size="6.9" fill="#333" stroke="#333" stroke-width="0.12" text-anchor="end" transform="rotate(-20 376.10 1048.7)">Tumor Treg cells</text>
<line x1="397.90" y1="1004.92" x2="397.90" y2="1016.77" stroke="#444" stroke-width="0.8"/>
<line x1="397.90" y1="1025.15" x2="397.90" y2="1031.22" stroke="#444" stroke-width="0.8"/>
<line x1="395.10" y1="1004.92" x2="400.70" y2="1004.92" stroke="#444" stroke-width="0.8"/>
<line x1="395.10" y1="1031.22" x2="400.70" y2="1031.22" stroke="#444" stroke-width="0.8"/>
<rect x="392.30" y="1016.77" width="11.20" height="8.38" fill="#a4b5da" stroke="#444" stroke-width="0.8"/>
<line x1="392.30" y1="1021.11" x2="403.50" y2="1021.11" stroke="#444" stroke-width="0.96"/>
<path d="M397.90 882.31L399.41 884.41L397.90 886.51L396.39 884.41Z" fill="#333"/>
<line x1="409.10" y1="965.33" x2="409.10" y2="995.10" stroke="#444" stroke-width="0.8"/>
<line x1="409.10" y1="1016.77" x2="409.10" y2="1028.04" stroke="#444" stroke-width="0.8"/>
<line x1="406.30" y1="965.33" x2="411.90" y2="965.33" stroke="#444" stroke-width="0.8"/>
<line x1="406.30" y1="1028.04" x2="411.90" y2="1028.04" stroke="#444" stroke-width="0.8"/>
<rect x="403.50" y="995.10" width="11.20" height="21.67" fill="#eab89c" stroke="#444" stroke-width="0.8"/>
<line x1="403.50" y1="1008.39" x2="414.70" y2="1008.39" stroke="#444" stroke-width="0.96"/>
<path d="M409.10 940.11L410.61 942.21L409.10 944.31L407.59 942.21Z" fill="#333"/>
<path d="M409.10 937.22L410.61 939.32L409.10 941.42L407.59 939.32Z" fill="#333"/>
<path d="M409.10 934.33L410.61 936.43L409.10 938.53L407.59 936.43Z" fill="#333"/>
<path d="M409.10 911.21L410.61 913.31L409.10 915.41L407.59 913.31Z" fill="#333"/>
<path d="M409.10 908.32L410.61 910.42L409.10 912.52L407.59 910.42Z" fill="#333"/>
<path d="M409.10 905.43L410.61 907.53L409.10 909.63L407.59 907.53Z" fill="#333"/>
<path d="M409.10 890.98L410.61 893.08L409.10 895.18L407.59 893.08Z" fill="#333"/>
<path d="M398.00 872.90V870.30H409.70V872.90" stroke="#333" stroke-width="0.9" fill="none"/>
<text x="403.85" y="864.50" font-size="7.6" fill="#333" stroke="#333" stroke-width="0.2" text-anchor="middle">****</text>
<text x="404.10" y="1048.70" font-size="6.9" fill="#333" stroke="#333" stroke-width="0.12" text-anchor="end" transform="rotate(-20 404.10 1048.7)">Tumor Macrophages</text>
<text x="275.90" y="868.60" font-size="10.9" fill="#111" stroke="#111" stroke-width="0.2" text-anchor="start">ILC subtype</text>
<circle cx="279.30" cy="876.60" r="4.30" fill="#a4b5da" stroke="#2b3566" stroke-width="0.9"/>
<text x="286.30" y="880.40" font-size="10.9" fill="#111" stroke="#111" stroke-width="0.2" text-anchor="start">Non-proliferative</text>
<circle cx="279.30" cy="888.60" r="4.30" fill="#eab89c" stroke="#111" stroke-width="0.9"/>
<text x="286.30" y="892.50" font-size="10.9" fill="#111" stroke="#111" stroke-width="0.2" text-anchor="start">Proliferative</text>
<rect x="507.00" y="869.10" width="153.50" height="175.00" fill="none" stroke="#777" stroke-width="0.9"/>
<rect x="507.00" y="873.50" width="122.56" height="13.90" fill="#a8b8d6"/>
<rect x="507.00" y="887.40" width="99.58" height="14.00" fill="#e9c2ab"/>
<text x="502.00" y="890.90" font-size="9.9" fill="#222" stroke="#222" stroke-width="0.2" text-anchor="end">Pattern 1</text>
<rect x="507.00" y="908.10" width="15.32" height="13.90" fill="#a8b8d6"/>
<rect x="507.00" y="922.00" width="122.56" height="14.00" fill="#e9c2ab"/>
<text x="502.00" y="925.50" font-size="9.9" fill="#222" stroke="#222" stroke-width="0.2" text-anchor="end">Pattern 2</text>
<rect x="507.00" y="942.70" width="76.60" height="13.90" fill="#a8b8d6"/>
<rect x="507.00" y="956.60" width="61.28" height="14.00" fill="#e9c2ab"/>
<text x="502.00" y="960.10" font-size="9.9" fill="#222" stroke="#222" stroke-width="0.2" text-anchor="end">Pattern 3</text>
<rect x="507.00" y="977.90" width="68.94" height="13.90" fill="#a8b8d6"/>
<rect x="507.00" y="991.80" width="99.58" height="14.00" fill="#e9c2ab"/>
<text x="502.00" y="995.30" font-size="9.9" fill="#222" stroke="#222" stroke-width="0.2" text-anchor="end">Pattern 4</text>
<rect x="507.00" y="1012.90" width="61.28" height="13.90" fill="#a8b8d6"/>
<rect x="507.00" y="1026.80" width="15.32" height="14.00" fill="#e9c2ab"/>
<text x="502.00" y="1030.30" font-size="9.9" fill="#222" stroke="#222" stroke-width="0.2" text-anchor="end">Pattern 5</text>
<text x="507.00" y="1055.80" font-size="9.9" fill="#222" stroke="#222" stroke-width="0.2" text-anchor="middle">0</text>
<text x="545.30" y="1055.80" font-size="9.9" fill="#222" stroke="#222" stroke-width="0.2" text-anchor="middle">5</text>
<text x="583.60" y="1055.80" font-size="9.9" fill="#222" stroke="#222" stroke-width="0.2" text-anchor="middle">10</text>
<text x="621.90" y="1055.80" font-size="9.9" fill="#222" stroke="#222" stroke-width="0.2" text-anchor="middle">15</text>
<text x="660.20" y="1055.80" font-size="9.9" fill="#222" stroke="#222" stroke-width="0.2" text-anchor="middle">20</text>
<text x="584.30" y="1067.00" font-size="9.1" fill="#222" stroke="#222" stroke-width="0.2" text-anchor="middle">Number of ROIs</text>
<text x="457.60" y="957.00" font-size="11.1" fill="#222" stroke="#222" stroke-width="0.2" text-anchor="middle" transform="rotate(-90 457.6 957.0)">Immune Infiltration Patterns</text>
<rect x="458.4" y="905.4" width="211.5" height="34.6" fill="none" stroke="#d42a2a" stroke-width="1.1" stroke-dasharray="1.4 1.4"/>
<text x="468.40" y="862.40" font-size="8.6" fill="#111" stroke="#111" stroke-width="0.2" text-anchor="start">ILC subtype</text>
<circle cx="524.50" cy="859.40" r="3.00" fill="#a8b8d6" stroke="#2b3566" stroke-width="0.8"/>
<text x="530.60" y="862.40" font-size="8.6" fill="#111" stroke="#111" stroke-width="0.2" text-anchor="start" textLength="66.4" lengthAdjust="spacingAndGlyphs">Non-proliferative</text>
<circle cx="604.40" cy="859.40" r="3.00" fill="#e9c2ab" stroke="#222" stroke-width="0.8"/>
<text x="610.50" y="862.40" font-size="8.6" fill="#111" stroke="#111" stroke-width="0.2" text-anchor="start" textLength="47.7" lengthAdjust="spacingAndGlyphs">Proliferative</text>
</svg>
</body></html>
